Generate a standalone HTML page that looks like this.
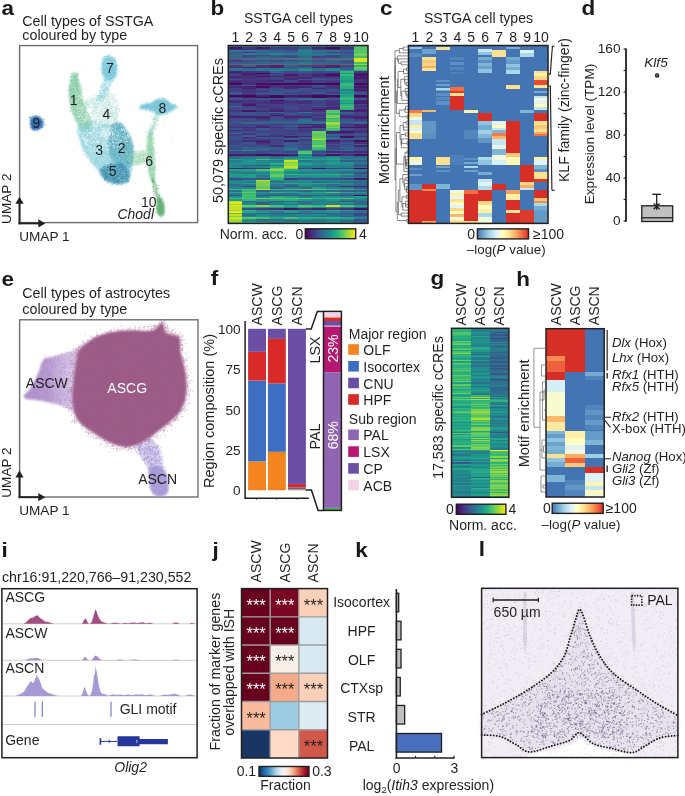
<!DOCTYPE html>
<html><head><meta charset="utf-8"><style>
html,body{margin:0;padding:0;background:#fff;overflow:hidden;}
svg{display:block;font-family:"Liberation Sans",sans-serif;will-change:transform;}
</style></head><body>
<svg width="685" height="796" viewBox="0 0 685 796">
<defs><linearGradient id="gvir" x1="0" x2="1" y1="0" y2="0"><stop offset="0.000" stop-color="#440154"/><stop offset="0.043" stop-color="#471164"/><stop offset="0.087" stop-color="#482071"/><stop offset="0.130" stop-color="#472e7c"/><stop offset="0.174" stop-color="#443b84"/><stop offset="0.217" stop-color="#3f4889"/><stop offset="0.261" stop-color="#3a548c"/><stop offset="0.304" stop-color="#34608d"/><stop offset="0.348" stop-color="#2f6c8e"/><stop offset="0.391" stop-color="#2a768e"/><stop offset="0.435" stop-color="#26818e"/><stop offset="0.478" stop-color="#228b8d"/><stop offset="0.522" stop-color="#1f958b"/><stop offset="0.565" stop-color="#1fa088"/><stop offset="0.609" stop-color="#24aa83"/><stop offset="0.652" stop-color="#2fb47c"/><stop offset="0.696" stop-color="#42be71"/><stop offset="0.739" stop-color="#58c765"/><stop offset="0.783" stop-color="#70cf57"/><stop offset="0.826" stop-color="#8bd646"/><stop offset="0.870" stop-color="#a8db34"/><stop offset="0.913" stop-color="#c5e021"/><stop offset="0.957" stop-color="#e2e418"/><stop offset="1.000" stop-color="#fde725"/></linearGradient><linearGradient id="gryb" x1="0" x2="1" y1="0" y2="0"><stop offset="0.000" stop-color="#4574b3"/><stop offset="0.043" stop-color="#5588be"/><stop offset="0.087" stop-color="#659bc8"/><stop offset="0.130" stop-color="#76afd2"/><stop offset="0.174" stop-color="#8abeda"/><stop offset="0.217" stop-color="#9dcee3"/><stop offset="0.261" stop-color="#b0dcea"/><stop offset="0.304" stop-color="#c1e4ef"/><stop offset="0.348" stop-color="#d4edf4"/><stop offset="0.391" stop-color="#e4f4f1"/><stop offset="0.435" stop-color="#eff9dd"/><stop offset="0.478" stop-color="#fafdc9"/><stop offset="0.522" stop-color="#fffab7"/><stop offset="0.565" stop-color="#feefa6"/><stop offset="0.609" stop-color="#fee496"/><stop offset="0.652" stop-color="#fed485"/><stop offset="0.696" stop-color="#fdc374"/><stop offset="0.739" stop-color="#fdb366"/><stop offset="0.783" stop-color="#fb9d59"/><stop offset="0.826" stop-color="#f8864f"/><stop offset="0.870" stop-color="#f47044"/><stop offset="0.913" stop-color="#eb5a3a"/><stop offset="0.957" stop-color="#e14430"/><stop offset="1.000" stop-color="#d62f27"/></linearGradient><linearGradient id="grdb" x1="0" x2="1" y1="0" y2="0"><stop offset="0.000" stop-color="#053061"/><stop offset="0.043" stop-color="#114781"/><stop offset="0.087" stop-color="#1d5fa2"/><stop offset="0.130" stop-color="#2b73b3"/><stop offset="0.174" stop-color="#3a87bd"/><stop offset="0.217" stop-color="#4f9bc7"/><stop offset="0.261" stop-color="#71b0d3"/><stop offset="0.304" stop-color="#93c6de"/><stop offset="0.348" stop-color="#b1d5e7"/><stop offset="0.391" stop-color="#cce2ef"/><stop offset="0.435" stop-color="#deebf2"/><stop offset="0.478" stop-color="#eff3f5"/><stop offset="0.522" stop-color="#f8f1ed"/><stop offset="0.565" stop-color="#fbe5d8"/><stop offset="0.609" stop-color="#fcd7c2"/><stop offset="0.652" stop-color="#f8bfa4"/><stop offset="0.696" stop-color="#f4a683"/><stop offset="0.739" stop-color="#e8896c"/><stop offset="0.783" stop-color="#db6b55"/><stop offset="0.826" stop-color="#cc4c44"/><stop offset="0.870" stop-color="#bd2d35"/><stop offset="0.913" stop-color="#a81529"/><stop offset="0.957" stop-color="#870a24"/><stop offset="1.000" stop-color="#67001f"/></linearGradient><linearGradient id="gascw" gradientUnits="userSpaceOnUse" x1="24" y1="0" x2="95" y2="0"><stop offset="0" stop-color="#a784c6" stop-opacity="0.9"/><stop offset="0.35" stop-color="#a784c6" stop-opacity="0.8"/><stop offset="0.75" stop-color="#a784c6" stop-opacity="0.35"/><stop offset="1" stop-color="#a784c6" stop-opacity="0.5"/></linearGradient><filter id="bl1" x="-20%" y="-20%" width="140%" height="140%"><feGaussianBlur stdDeviation="1.2"/></filter><filter id="bl2" x="-20%" y="-20%" width="140%" height="140%"><feGaussianBlur stdDeviation="2.2"/></filter><filter id="bl05" x="-20%" y="-20%" width="140%" height="140%"><feGaussianBlur stdDeviation="0.6"/></filter></defs>
<text transform="translate(1.50 15.30) scale(1.07 1)" font-size="21.0" fill="#1a1718" style="font-weight:bold;">a</text>
<text x="22.30" y="26.00" font-size="14.3" text-anchor="start" fill="#231f20">Cell types of SSTGA</text>
<text x="22.30" y="39.80" font-size="14.3" text-anchor="start" fill="#231f20">coloured by type</text>
<rect x="19.60" y="45.60" width="178.00" height="177.00" fill="none" stroke="#6d6e70" stroke-width="1.4"/>
<g>
<path d="M73.0 73.0 C74.2 71.7 75.8 71.8 77.0 74.0 C78.2 76.2 79.0 81.7 80.0 86.0 C81.0 90.3 81.7 95.7 83.0 100.0 C84.3 104.3 86.5 108.3 88.0 112.0 C89.5 115.7 91.7 119.0 92.0 122.0 C92.3 125.0 91.3 128.3 90.0 130.0 C88.7 131.7 86.0 133.0 84.0 132.0 C82.0 131.0 80.0 127.3 78.0 124.0 C76.0 120.7 73.5 116.3 72.0 112.0 C70.5 107.7 69.3 103.0 69.0 98.0 C68.7 93.0 69.3 86.2 70.0 82.0 C70.7 77.8 71.8 74.3 73.0 73.0 Z" fill="#86cda4" opacity="0.75" filter="url(#bl1)"/>
<path d="M104.0 58.0 C105.2 56.8 107.3 56.0 109.0 56.0 C110.7 56.0 112.7 56.3 114.0 58.0 C115.3 59.7 116.7 63.0 117.0 66.0 C117.3 69.0 116.8 73.7 116.0 76.0 C115.2 78.3 113.7 79.3 112.0 80.0 C110.3 80.7 107.7 81.3 106.0 80.0 C104.3 78.7 102.7 74.8 102.0 72.0 C101.3 69.2 101.7 65.3 102.0 63.0 C102.3 60.7 102.8 59.2 104.0 58.0 Z" fill="#7fcbdc" opacity="0.9" filter="url(#bl1)"/>
<path d="M104.0 79.0 C106.0 77.2 111.2 77.2 112.0 79.0 C112.8 80.8 110.5 86.5 109.0 90.0 C107.5 93.5 105.0 98.2 103.0 100.0 C101.0 101.8 97.5 102.7 97.0 101.0 C96.5 99.3 98.8 93.7 100.0 90.0 C101.2 86.3 102.0 80.8 104.0 79.0 Z" fill="#7fcbdc" opacity="0.35" filter="url(#bl1)"/>
<path d="M86.0 100.0 C87.7 95.8 94.0 96.3 98.0 95.0 C102.0 93.7 106.8 91.2 110.0 92.0 C113.2 92.8 115.5 96.2 117.0 100.0 C118.5 103.8 119.5 110.7 119.0 115.0 C118.5 119.3 117.2 123.5 114.0 126.0 C110.8 128.5 104.3 131.0 100.0 130.0 C95.7 129.0 90.3 125.0 88.0 120.0 C85.7 115.0 84.3 104.2 86.0 100.0 Z" fill="#9fd8cf" opacity="0.3" filter="url(#bl1)"/>
<path d="M78.0 126.0 C80.5 122.8 89.7 122.2 95.0 122.0 C100.3 121.8 105.8 124.8 110.0 125.0 C114.2 125.2 117.0 121.7 120.0 123.0 C123.0 124.3 125.8 129.2 128.0 133.0 C130.2 136.8 132.2 141.2 133.0 146.0 C133.8 150.8 133.5 157.0 133.0 162.0 C132.5 167.0 131.2 172.7 130.0 176.0 C128.8 179.3 128.0 180.7 126.0 182.0 C124.0 183.3 121.0 184.2 118.0 184.0 C115.0 183.8 111.0 182.8 108.0 181.0 C105.0 179.2 102.7 176.0 100.0 173.0 C97.3 170.0 94.5 166.3 92.0 163.0 C89.5 159.7 87.0 156.7 85.0 153.0 C83.0 149.3 81.2 145.5 80.0 141.0 C78.8 136.5 75.5 129.2 78.0 126.0 Z" fill="#88cfdb" opacity="0.7" filter="url(#bl1)"/>
<path d="M112.0 124.0 C114.2 121.5 118.3 121.5 121.0 123.0 C123.7 124.5 126.0 129.2 128.0 133.0 C130.0 136.8 132.2 141.2 133.0 146.0 C133.8 150.8 133.8 158.3 133.0 162.0 C132.2 165.7 130.5 167.3 128.0 168.0 C125.5 168.7 121.0 168.2 118.0 166.0 C115.0 163.8 111.7 159.7 110.0 155.0 C108.3 150.3 107.7 143.2 108.0 138.0 C108.3 132.8 109.8 126.5 112.0 124.0 Z" fill="#55a5b9" opacity="0.6" filter="url(#bl1)"/>
<path d="M100.0 170.0 C101.2 167.7 106.3 165.0 110.0 164.0 C113.7 163.0 118.8 162.8 122.0 164.0 C125.2 165.2 128.0 168.2 129.0 171.0 C130.0 173.8 129.3 178.8 128.0 181.0 C126.7 183.2 123.8 183.7 121.0 184.0 C118.2 184.3 114.0 184.0 111.0 183.0 C108.0 182.0 104.8 180.2 103.0 178.0 C101.2 175.8 98.8 172.3 100.0 170.0 Z" fill="#3282a5" opacity="0.6" filter="url(#bl1)"/>
<path d="M148.0 133.0 C148.8 129.7 151.0 127.2 152.0 130.0 C153.0 132.8 153.5 143.3 154.0 150.0 C154.5 156.7 155.0 165.0 155.0 170.0 C155.0 175.0 154.7 178.2 154.0 180.0 C153.3 181.8 152.0 183.0 151.0 181.0 C150.0 179.0 148.7 173.2 148.0 168.0 C147.3 162.8 147.0 155.8 147.0 150.0 C147.0 144.2 147.2 136.3 148.0 133.0 Z" fill="#8ed0a6" opacity="0.75" filter="url(#bl1)"/>
<path d="M128.0 153.0 C131.0 151.5 142.7 149.5 146.0 151.0 C149.3 152.5 150.2 159.7 148.0 162.0 C145.8 164.3 136.3 165.3 133.0 165.0 C129.7 164.7 128.8 162.0 128.0 160.0 C127.2 158.0 125.0 154.5 128.0 153.0 Z" fill="#8ed0a6" opacity="0.4" filter="url(#bl1)"/>
<path d="M141.0 105.0 C142.7 104.0 148.2 104.0 151.0 103.0 C153.8 102.0 155.7 99.7 158.0 99.0 C160.3 98.3 163.0 98.3 165.0 99.0 C167.0 99.7 168.0 101.7 170.0 103.0 C172.0 104.3 177.2 105.5 177.0 107.0 C176.8 108.5 171.8 110.7 169.0 112.0 C166.2 113.3 163.2 115.3 160.0 115.0 C156.8 114.7 153.2 111.0 150.0 110.0 C146.8 109.0 142.5 109.8 141.0 109.0 C139.5 108.2 139.3 106.0 141.0 105.0 Z" fill="#76c5d9" opacity="0.9" filter="url(#bl1)"/>
<path d="M156.0 112.0 C157.7 109.0 160.3 109.8 160.0 113.0 C159.7 116.2 155.7 128.0 154.0 131.0 C152.3 134.0 149.7 134.2 150.0 131.0 C150.3 127.8 154.3 115.0 156.0 112.0 Z" fill="#8fd1b5" opacity="0.35" filter="url(#bl1)"/>
<path d="M152.0 178.0 C152.0 176.0 153.0 175.7 154.0 178.0 C155.0 180.3 157.0 188.3 158.0 192.0 C159.0 195.7 160.2 198.7 160.0 200.0 C159.8 201.3 158.0 201.7 157.0 200.0 C156.0 198.3 154.8 193.7 154.0 190.0 C153.2 186.3 152.0 180.0 152.0 178.0 Z" fill="#62ae70" opacity="0.6" filter="url(#bl1)"/>
<path d="M157.0 199.0 C157.7 196.7 159.8 197.0 161.0 198.0 C162.2 199.0 163.5 202.3 164.0 205.0 C164.5 207.7 164.7 212.2 164.0 214.0 C163.3 215.8 161.2 216.3 160.0 216.0 C158.8 215.7 157.5 214.8 157.0 212.0 C156.5 209.2 156.3 201.3 157.0 199.0 Z" fill="#62ae70" opacity="0.95" filter="url(#bl1)"/>
<path d="M31.0 118.0 C31.8 116.0 34.2 115.8 36.0 116.0 C37.8 116.2 40.8 117.3 42.0 119.0 C43.2 120.7 43.8 124.2 43.0 126.0 C42.2 127.8 39.0 129.7 37.0 130.0 C35.0 130.3 32.0 130.0 31.0 128.0 C30.0 126.0 30.2 120.0 31.0 118.0 Z" fill="#2e6fb1" opacity="0.95" filter="url(#bl1)"/>
<ellipse cx="90" cy="112" rx="5" ry="9" fill="#ffffff" opacity="0.6" filter="url(#bl2)"/>
<ellipse cx="107" cy="133" rx="7" ry="5" fill="#ffffff" opacity="0.6" filter="url(#bl2)"/>
<ellipse cx="97" cy="124" rx="5" ry="5" fill="#ffffff" opacity="0.6" filter="url(#bl2)"/>
<path d="M110.6 117.6h0M119.2 139.2h0M87.8 140.3h0M92.1 148.5h0M124.8 141.7h0M121.8 100.0h0M120.4 140.7h0M101.7 134.6h0M92.3 135.8h0M90.9 132.6h0M89.5 141.1h0M100.4 107.1h0M103.8 131.0h0M106.5 121.1h0M120.2 108.9h0M110.5 97.9h0M87.3 111.6h0M84.1 115.0h0M109.9 142.5h0M101.6 101.9h0M127.3 120.5h0M110.9 93.9h0M104.3 113.1h0M103.3 148.8h0M89.1 93.5h0M86.0 143.4h0M114.4 120.6h0M86.4 139.0h0M96.1 116.2h0M122.3 120.4h0M83.8 100.5h0M90.3 107.7h0M123.3 109.5h0M111.5 102.6h0M80.2 96.9h0M105.8 149.8h0M103.9 142.6h0M124.7 129.4h0M95.6 115.4h0M109.1 100.6h0M78.4 94.8h0M97.1 94.6h0M93.4 110.3h0M83.6 114.1h0M96.6 122.3h0M108.6 134.1h0M109.5 97.4h0M111.4 123.4h0M113.6 98.2h0M83.6 90.5h0M100.1 148.4h0M88.7 109.6h0M97.9 100.1h0M80.5 94.5h0M87.3 117.5h0M113.3 88.7h0M92.1 133.8h0M112.7 138.0h0M82.5 119.3h0M123.2 122.3h0M126.5 131.3h0M83.3 139.1h0M86.0 92.4h0M106.5 103.0h0M85.3 94.6h0M111.6 103.9h0M107.5 149.4h0M96.4 135.7h0M98.4 142.6h0M88.7 132.7h0M77.2 108.2h0M124.9 113.0h0M101.7 116.2h0M106.2 106.8h0M93.4 115.0h0M117.8 137.4h0M76.4 92.8h0M96.2 105.7h0M82.0 131.3h0M112.5 134.4h0M99.4 94.7h0M104.9 99.6h0M94.6 106.0h0M108.6 136.4h0M95.3 131.7h0M104.6 90.1h0M118.6 107.0h0M126.8 139.4h0M128.2 126.1h0M117.9 110.7h0M121.2 128.5h0M98.9 109.8h0M121.5 100.2h0M110.8 96.8h0M120.2 142.5h0M104.2 128.0h0M87.9 92.4h0M86.3 111.4h0M95.7 138.9h0M85.2 130.3h0M94.7 92.3h0M107.7 128.8h0M94.4 132.0h0M90.5 116.9h0M100.3 149.8h0M104.4 133.9h0M104.7 122.2h0M117.3 103.1h0M108.1 92.0h0M99.3 100.2h0M98.5 114.6h0M78.9 111.2h0M99.5 140.3h0M104.6 89.4h0M89.3 139.7h0M120.9 122.2h0M113.6 116.1h0M115.9 105.1h0M110.9 122.7h0M94.0 142.9h0M97.7 140.7h0M86.6 108.6h0M87.1 144.8h0M122.9 130.0h0M109.4 139.1h0M102.3 143.2h0M108.9 119.3h0M112.6 141.9h0M92.5 117.5h0M101.6 118.8h0M110.8 109.5h0M111.2 137.1h0M85.5 141.2h0M78.5 97.0h0M98.5 98.5h0M118.5 112.6h0M121.5 117.7h0M120.7 134.7h0M125.0 131.3h0M104.8 105.3h0M89.4 93.1h0M89.2 108.2h0M85.7 108.7h0M107.3 134.3h0M108.7 102.7h0M113.6 142.7h0M92.7 123.8h0M105.7 144.0h0M121.3 136.7h0M112.5 120.8h0M109.8 98.3h0M85.9 101.8h0M107.7 112.3h0M77.3 109.2h0M120.7 91.9h0M123.7 116.7h0M77.9 106.4h0M94.3 112.6h0M93.1 109.3h0M81.4 112.1h0M110.7 127.6h0M120.5 119.8h0M92.9 100.6h0M124.2 138.9h0M120.4 120.8h0M82.4 117.3h0M118.7 133.7h0M125.3 136.1h0M86.2 142.3h0M107.7 139.9h0M111.4 130.8h0M109.7 134.2h0M80.5 98.1h0M112.7 132.8h0M111.0 104.3h0M122.0 104.5h0M120.8 95.7h0M93.6 113.4h0M116.2 89.3h0M124.4 130.0h0M125.9 135.9h0M84.2 137.6h0M76.5 96.2h0M112.1 129.0h0M87.2 141.7h0M107.1 90.3h0M96.6 105.1h0M89.4 117.6h0M101.0 99.0h0M112.5 122.5h0M80.8 110.0h0M96.7 129.9h0M82.6 122.0h0M112.8 131.9h0M122.3 103.8h0M96.5 133.3h0M96.2 135.0h0M105.8 134.2h0M87.3 92.4h0M89.1 148.6h0M93.8 124.9h0M101.1 105.4h0M79.6 115.8h0M117.9 121.1h0M108.0 121.1h0M92.1 103.9h0M79.4 105.0h0M118.5 111.3h0M82.5 138.0h0M82.6 116.0h0M82.4 90.5h0M79.6 116.9h0M92.5 150.5h0M122.5 106.8h0M110.3 122.4h0M85.7 110.9h0M99.8 91.4h0M96.4 147.9h0M115.5 99.9h0M80.5 114.8h0M116.5 111.9h0M119.3 98.7h0M122.1 130.3h0M113.4 138.0h0M96.1 136.6h0M104.6 89.1h0M118.2 102.7h0M85.9 120.9h0M90.2 133.0h0M105.6 112.7h0M117.7 116.8h0M126.1 141.8h0M85.5 105.2h0M120.6 106.6h0M116.1 102.6h0M123.1 129.6h0M119.3 97.8h0M97.5 141.7h0M111.6 100.6h0M85.5 133.1h0M118.3 98.4h0M118.2 144.4h0M116.1 100.9h0M100.4 134.8h0M96.6 141.7h0M98.9 104.3h0M76.9 93.9h0M123.1 125.5h0M105.9 119.9h0M97.1 118.7h0M106.2 138.0h0M116.1 117.6h0M96.7 119.8h0M122.3 119.2h0M97.1 114.0h0M82.9 98.3h0M118.3 106.9h0M83.4 103.9h0M115.6 138.1h0M82.0 121.7h0M80.2 108.0h0M81.7 111.9h0M85.1 120.1h0M107.8 131.2h0M100.4 150.2h0M117.8 142.6h0M85.9 115.5h0M87.4 114.6h0M118.8 103.3h0M102.0 92.4h0M76.9 101.1h0M92.9 130.4h0M92.8 125.7h0M116.0 105.8h0M100.9 148.0h0M78.2 114.2h0M89.1 94.6h0M97.5 113.2h0M87.9 144.7h0M103.7 141.0h0M82.0 102.9h0M85.0 90.0h0M124.0 116.9h0M102.6 92.0h0M113.2 88.5h0M90.2 108.8h0M105.0 101.0h0M104.4 119.9h0M110.8 92.9h0M105.6 145.6h0M97.5 132.0h0M120.1 111.7h0M124.8 141.9h0M85.2 139.0h0M82.8 108.9h0M128.7 127.7h0M88.1 110.5h0M103.9 110.2h0M103.4 93.5h0M93.0 102.8h0M109.2 124.3h0M78.8 107.7h0M88.5 146.8h0M101.5 109.9h0M118.4 90.8h0M122.3 109.9h0M115.3 102.0h0M123.4 117.3h0M116.9 88.4h0M92.2 106.9h0M84.6 140.6h0M118.1 94.1h0M127.4 141.4h0M109.0 97.2h0M93.8 125.9h0M83.8 132.4h0M104.3 107.6h0M80.2 112.6h0M107.8 106.7h0M120.8 99.2h0M91.1 145.9h0M120.7 144.8h0M115.1 111.0h0M111.7 132.4h0M99.7 106.0h0M98.7 110.4h0M122.6 109.9h0M94.1 125.0h0M113.2 148.5h0M86.9 107.0h0M106.4 139.8h0M118.8 95.3h0M116.5 139.6h0M101.7 133.5h0M98.3 150.5h0M116.1 105.8h0M104.8 121.4h0M116.7 101.7h0M79.8 93.3h0M107.1 116.1h0M106.8 134.1h0M128.1 137.8h0M100.8 148.3h0M111.0 103.8h0M106.4 106.7h0M108.8 145.2h0M87.7 135.1h0M86.1 109.3h0M125.1 117.6h0M86.3 141.4h0M100.9 110.9h0M117.8 139.5h0M115.3 138.0h0M106.5 118.0h0M121.0 145.4h0M101.6 112.6h0M110.4 136.0h0M121.7 128.9h0M113.7 109.2h0M111.6 122.0h0M98.1 126.8h0M106.8 122.4h0M97.6 95.1h0M96.7 149.9h0M101.6 90.4h0M103.7 122.0h0M94.3 96.0h0M122.1 140.5h0M96.7 115.7h0M123.1 133.6h0M119.8 140.9h0M100.5 122.4h0M115.6 91.2h0M97.2 132.4h0M108.0 105.3h0M106.8 138.3h0M112.9 143.9h0M113.6 110.7h0M108.3 114.3h0M99.0 109.4h0M91.7 102.8h0M91.7 109.2h0M99.6 94.9h0M95.1 115.3h0M100.5 124.4h0M96.2 106.2h0M108.1 111.1h0M129.0 136.2h0M125.7 118.1h0M96.5 126.2h0M90.2 115.1h0M125.4 123.7h0M103.1 145.4h0M114.1 105.1h0M79.2 121.2h0M124.4 132.0h0M92.8 93.6h0M103.2 149.6h0M86.3 119.9h0M99.0 103.7h0M122.2 136.7h0M122.2 140.2h0M102.0 128.4h0M101.1 93.7h0M96.3 121.8h0M106.1 135.5h0M93.0 129.1h0M115.3 126.5h0M118.9 112.8h0M78.2 124.6h0M116.8 123.5h0M100.4 140.9h0M113.9 147.1h0M89.0 92.2h0M111.7 137.3h0M96.5 117.7h0M111.3 136.1h0M89.7 107.0h0M102.2 117.9h0M104.9 140.8h0M111.0 90.3h0M86.6 106.6h0M91.5 142.5h0M92.4 105.3h0M89.6 140.7h0M78.8 103.7h0M99.1 107.4h0M119.0 123.4h0M115.4 129.8h0M86.1 144.3h0M93.3 104.0h0M118.8 135.7h0M102.8 128.6h0M112.4 137.7h0M110.4 145.4h0M118.8 118.7h0M117.8 146.6h0M94.6 96.2h0M89.6 98.6h0M99.9 136.9h0M102.9 107.6h0M83.1 125.5h0M100.2 119.8h0M111.5 97.3h0M82.7 136.3h0M82.9 135.5h0M84.9 97.3h0M91.1 104.6h0M129.8 139.2h0M85.5 143.7h0M84.4 120.1h0M102.0 111.5h0M101.1 99.3h0M84.3 119.7h0M90.4 102.8h0M120.2 98.4h0M85.5 112.4h0M110.2 92.1h0M98.2 118.1h0M98.8 132.6h0M121.6 129.7h0M125.9 128.6h0M113.1 145.4h0M77.8 116.4h0M112.8 139.1h0M109.2 106.2h0M119.0 121.7h0M125.5 120.4h0M93.0 108.0h0M109.9 104.5h0M113.0 148.5h0M113.7 89.5h0M107.5 107.1h0M109.6 133.0h0M94.1 137.5h0M104.2 112.5h0M76.1 102.1h0M116.3 142.6h0M114.6 95.8h0M99.0 92.2h0M118.1 119.5h0M94.2 148.3h0M82.5 124.1h0M85.5 121.4h0M92.3 132.4h0M100.5 128.1h0M90.9 93.9h0M113.8 138.1h0M123.6 128.6h0M98.0 139.0h0M75.2 90.8h0M119.9 145.7h0M89.0 112.5h0M120.6 126.0h0M114.1 123.0h0M87.1 140.4h0M90.3 128.0h0M128.5 131.2h0M90.3 98.1h0M115.0 126.7h0M82.4 110.8h0M81.7 96.5h0M104.4 118.7h0M77.0 104.8h0M106.4 137.0h0M90.6 151.8h0M118.6 108.0h0M109.7 120.6h0M92.8 101.4h0M110.8 101.4h0M100.9 113.7h0M124.2 138.5h0M91.7 90.5h0M118.2 141.6h0M117.2 123.8h0M96.6 111.0h0M116.3 103.0h0M114.8 99.7h0M97.1 108.7h0M115.7 138.3h0M86.7 130.7h0M116.7 89.2h0M90.9 92.5h0M101.7 135.0h0M124.0 131.1h0M100.5 108.1h0M91.4 143.1h0M92.4 101.5h0M79.4 115.3h0M87.5 95.4h0M90.5 129.3h0M84.9 93.6h0M78.6 99.5h0M101.5 137.0h0M87.2 120.0h0M117.1 130.4h0M127.6 135.0h0M90.6 126.8h0M107.6 100.7h0M103.9 132.7h0M79.3 95.4h0M82.1 105.3h0M125.4 116.7h0M102.0 95.3h0M120.9 94.8h0M78.8 129.7h0M108.9 135.5h0M124.3 111.7h0M124.4 113.0h0M104.7 121.4h0M96.0 125.1h0M79.2 90.6h0M90.1 146.2h0M101.8 110.2h0M100.8 134.5h0M130.2 140.8h0M93.2 129.7h0M77.4 106.5h0M97.4 127.9h0M79.7 94.9h0M107.4 118.7h0M108.0 142.1h0M111.9 137.8h0M93.4 90.9h0M107.6 135.7h0M117.9 132.3h0M108.6 96.1h0M120.8 121.6h0M106.4 132.1h0M86.3 109.5h0M108.2 120.2h0M103.0 150.5h0M84.5 128.7h0M110.3 120.1h0M82.7 95.8h0M106.1 142.4h0M116.8 135.5h0M98.0 141.4h0M90.4 125.0h0M96.2 124.9h0M105.9 122.0h0M114.1 135.0h0M106.9 109.1h0M81.1 119.8h0M121.6 118.1h0M127.7 130.3h0M80.8 101.8h0M89.2 89.6h0M84.9 93.7h0M93.9 136.0h0M86.0 116.4h0M101.8 94.6h0M84.8 120.6h0M102.8 128.4h0M104.9 111.9h0M117.5 97.6h0M99.9 128.1h0M83.0 119.0h0M95.2 110.1h0M117.8 132.5h0M81.6 108.3h0M121.1 124.9h0M92.7 104.6h0M119.5 136.2h0M124.7 118.6h0M101.0 134.0h0M112.7 135.1h0M103.9 109.7h0M84.4 141.8h0M82.9 112.7h0M91.2 151.3h0M87.3 130.2h0M101.5 122.8h0M95.3 134.9h0M108.4 96.0h0M91.0 151.3h0M93.9 97.1h0M118.0 103.5h0M89.6 124.8h0M98.1 136.8h0M118.0 97.5h0M98.2 149.5h0M92.7 136.2h0M116.9 119.1h0M89.4 111.2h0M83.0 94.2h0M100.0 93.6h0M109.3 128.3h0M128.3 137.5h0M115.6 111.4h0M102.1 148.0h0M82.5 107.0h0M114.7 146.8h0M82.3 97.9h0M80.9 133.0h0M80.3 133.0h0M93.9 141.8h0M109.9 143.4h0M107.4 98.3h0M101.2 137.4h0M107.1 105.6h0M117.0 99.8h0M113.7 100.6h0M83.9 105.9h0M121.3 103.5h0M98.4 94.3h0M119.6 108.8h0M125.8 137.5h0M90.2 118.9h0M100.8 126.6h0M96.3 146.0h0M98.1 142.4h0M96.4 98.9h0M118.1 136.9h0M101.9 116.9h0M100.5 98.9h0M97.0 118.8h0M99.7 147.1h0M78.5 113.1h0M118.0 92.1h0M107.2 145.6h0M120.7 120.7h0M88.1 102.4h0M88.3 122.8h0M90.8 132.6h0M92.3 118.9h0M118.4 110.6h0M96.3 103.9h0M93.4 107.0h0M111.3 91.2h0M85.6 104.3h0M114.7 88.5h0M118.1 134.6h0M91.9 138.5h0M111.3 113.9h0M98.0 102.1h0M107.9 130.8h0M89.4 133.3h0M94.8 135.0h0M109.7 119.5h0M108.6 150.1h0M115.3 124.6h0M79.6 131.7h0M89.5 129.3h0M86.4 145.3h0M91.3 150.9h0M109.5 94.7h0M77.4 100.1h0M104.7 136.9h0M109.3 92.2h0M115.0 112.5h0M94.1 100.3h0M93.7 142.4h0M77.0 109.5h0M106.4 142.8h0M79.3 132.0h0M86.5 133.0h0M94.0 151.4h0M127.8 135.7h0M99.8 135.9h0" fill="none" stroke="#ffffff" stroke-width="1.1" stroke-linecap="square" opacity="0.75"/>
<path d="M94.3 125.3h0M86.7 117.3h0M73.8 94.9h0M69.4 94.2h0M79.0 93.3h0M76.4 81.8h0M77.4 99.6h0M75.8 80.6h0M74.1 104.0h0M72.4 75.9h0M76.7 89.0h0M77.6 83.2h0M77.5 96.6h0M83.5 113.3h0M77.1 101.8h0M77.4 89.8h0M72.6 101.9h0M79.7 91.7h0M73.4 88.2h0M70.8 106.1h0M78.1 92.6h0M79.6 112.4h0M76.2 120.7h0M86.3 111.8h0M81.2 115.5h0M84.8 110.2h0M89.8 129.0h0M71.2 81.5h0M71.9 73.3h0M79.4 103.4h0M80.0 112.2h0M74.1 94.9h0M76.9 89.8h0M77.2 77.1h0M69.8 85.1h0M75.2 83.4h0M82.6 104.1h0M73.5 99.0h0M86.3 99.9h0M81.7 105.3h0M74.2 114.6h0M81.2 123.4h0M84.8 105.5h0M77.0 99.6h0M78.0 75.4h0M78.5 105.5h0M74.8 81.9h0M83.9 124.3h0M89.7 117.2h0M71.3 107.7h0M77.1 86.6h0M79.1 115.4h0M83.4 119.3h0M80.7 102.1h0M78.6 107.9h0M84.9 108.6h0M77.6 104.2h0M77.5 93.8h0M73.2 78.0h0M80.0 106.4h0M90.2 124.4h0M81.4 107.6h0M78.8 97.7h0M74.1 96.7h0M72.3 85.3h0M76.3 94.6h0M69.5 85.6h0M90.3 123.5h0M86.8 109.0h0M87.7 123.7h0M80.0 112.5h0M76.5 114.7h0M80.4 103.4h0M67.8 90.9h0M85.6 127.5h0M71.9 107.2h0M78.9 91.6h0M78.3 90.5h0M89.6 128.5h0M82.1 118.7h0M83.5 89.1h0M89.2 120.6h0M76.6 105.0h0M89.4 116.7h0M72.5 80.4h0M85.7 106.5h0M75.8 97.2h0M70.5 88.4h0M76.7 87.4h0M76.0 82.3h0M76.8 89.1h0M72.6 104.7h0M82.9 124.7h0M85.4 130.4h0M79.7 110.4h0M75.7 112.0h0M82.7 105.3h0M79.1 94.2h0M78.8 93.3h0M85.6 113.5h0M83.3 116.9h0M71.6 77.7h0M81.6 115.4h0M74.2 96.2h0M79.1 124.4h0M77.5 86.8h0M86.0 123.1h0M73.4 81.5h0M76.4 83.3h0M89.7 117.9h0M71.6 90.0h0M79.4 121.9h0M79.1 109.6h0M81.0 117.8h0M80.2 90.2h0M78.2 124.7h0M83.9 103.9h0M77.0 84.6h0M72.8 80.6h0M79.0 92.4h0M71.1 80.1h0M80.5 117.6h0M81.7 103.4h0M76.7 109.5h0M76.6 80.4h0M86.0 125.8h0M78.0 97.2h0M86.0 108.0h0M81.8 106.6h0M83.4 111.9h0M87.7 119.4h0M72.2 109.5h0M82.6 101.6h0M89.8 124.8h0M77.3 79.6h0M80.5 102.1h0M71.2 91.3h0M81.2 99.6h0M79.0 113.2h0M73.1 92.0h0M84.4 112.9h0M89.2 129.7h0M81.3 87.0h0M77.0 100.2h0M71.1 104.2h0M88.0 122.1h0M71.6 99.5h0M79.6 113.3h0M81.3 124.4h0M79.7 84.6h0M77.7 83.1h0M74.9 106.4h0M80.3 117.7h0M73.7 80.9h0M76.9 74.6h0M69.1 94.4h0M72.9 90.0h0M91.1 125.2h0M77.4 102.6h0M86.4 124.3h0M75.1 114.7h0M82.4 102.9h0M74.8 89.3h0M76.2 82.9h0M87.1 120.2h0M75.9 82.5h0M70.8 90.0h0M83.6 117.1h0M77.0 85.4h0M83.4 105.2h0M76.9 103.5h0M89.6 119.6h0M75.4 74.9h0M81.8 99.6h0M72.2 99.9h0M82.9 104.4h0M86.1 111.1h0M84.4 115.3h0M72.5 90.8h0M69.4 88.2h0M76.3 113.5h0M84.9 110.0h0M77.4 100.0h0M76.3 73.3h0M73.6 107.2h0M75.5 84.7h0M86.6 124.2h0M75.3 100.4h0M76.7 95.2h0M73.9 89.8h0M76.9 109.5h0M74.4 74.8h0M78.9 106.8h0M89.7 117.7h0M87.8 125.2h0M74.1 91.3h0M72.9 84.4h0M74.9 84.6h0M74.4 79.0h0M70.4 89.1h0M75.7 85.4h0M81.3 110.9h0M74.2 99.5h0M70.6 85.2h0M73.8 114.4h0M73.4 86.4h0M79.4 84.0h0M74.0 102.3h0M82.8 124.5h0M78.4 75.3h0M89.2 113.6h0M80.8 96.2h0M88.9 122.9h0M74.8 105.5h0M71.5 76.5h0M77.6 111.1h0M85.4 115.2h0M73.6 85.1h0M70.4 89.4h0M90.8 129.6h0M81.2 83.9h0M90.3 122.4h0M86.4 123.5h0M79.7 94.5h0M75.8 77.4h0M83.6 115.0h0M82.0 124.8h0M73.4 92.6h0M72.4 97.1h0M82.2 100.1h0M87.4 126.9h0M76.6 76.3h0M86.0 104.1h0M70.1 100.8h0M70.8 97.8h0M79.3 125.1h0M75.6 85.1h0M71.1 89.0h0M70.5 111.5h0M79.8 90.9h0M82.8 103.8h0M81.4 92.0h0M81.3 87.9h0M76.5 79.6h0M77.2 94.6h0M80.6 96.3h0M78.0 115.5h0M91.8 125.4h0M76.4 120.7h0M76.9 90.7h0M72.1 81.0h0M83.2 114.3h0M79.4 86.8h0M75.7 100.3h0M82.4 112.9h0M74.7 82.8h0M82.5 123.9h0M78.2 83.2h0M71.1 80.5h0M78.3 103.7h0M80.7 99.9h0M78.3 115.8h0M79.2 101.6h0M88.2 114.9h0M77.8 115.5h0M74.8 102.7h0M82.9 124.1h0M72.9 89.3h0M69.9 97.6h0M71.2 86.0h0M77.2 74.1h0M73.3 101.0h0M77.5 118.8h0M73.0 98.5h0M86.2 123.0h0M71.1 93.9h0M86.9 121.1h0M76.0 78.7h0M88.0 115.8h0M70.7 76.5h0M87.4 123.8h0M77.0 85.0h0M84.1 105.6h0M75.6 77.0h0M81.7 120.2h0M73.9 72.7h0M86.1 131.5h0M79.3 118.5h0M85.5 128.0h0M88.6 123.5h0M86.4 120.7h0M81.6 93.4h0M83.6 96.9h0M77.6 125.2h0M76.1 98.6h0M88.5 125.8h0M81.4 121.7h0M78.7 123.3h0M85.6 123.1h0M69.8 87.5h0M87.1 117.8h0M78.6 86.5h0M83.1 121.3h0M79.5 120.3h0M79.7 120.6h0M77.6 73.7h0M82.5 108.7h0M85.1 112.2h0M72.9 105.6h0M85.8 106.9h0M71.8 82.9h0M71.4 97.8h0M73.6 89.0h0M81.1 99.2h0M86.0 112.0h0M76.3 76.4h0M92.1 122.1h0M76.6 87.1h0M80.7 112.3h0M84.7 128.6h0M85.7 102.8h0M77.8 89.7h0M76.4 111.0h0M83.3 128.4h0M73.8 93.2h0M69.6 92.2h0M91.8 128.2h0M76.0 106.6h0M77.6 94.2h0M77.6 96.1h0M89.7 126.0h0M85.5 130.7h0M75.6 91.8h0M72.2 88.6h0M75.9 82.6h0M81.2 90.1h0M68.8 90.4h0M81.2 101.5h0M81.1 119.0h0M76.8 75.9h0M74.9 78.1h0M76.6 89.7h0M71.4 82.2h0M83.1 110.0h0M75.4 85.6h0M76.0 106.8h0M72.9 98.5h0M82.0 121.0h0M69.6 87.1h0M82.4 108.9h0M75.2 92.1h0M75.5 86.8h0M79.0 109.5h0M87.0 115.8h0M71.1 90.7h0M71.5 91.1h0M74.0 80.0h0M74.2 90.6h0M70.5 76.1h0M74.0 109.5h0M75.6 75.4h0M73.5 89.9h0M89.4 116.7h0M75.4 92.4h0M91.7 123.8h0M76.7 90.9h0M79.6 115.5h0M69.4 90.7h0M84.1 101.4h0M76.0 111.1h0M92.0 120.5h0M74.1 83.7h0M70.1 91.7h0M76.2 94.0h0M79.4 99.3h0M75.4 108.9h0M77.7 89.4h0M76.0 80.0h0M83.5 112.3h0M70.4 94.7h0M79.1 101.9h0M75.9 114.4h0M76.9 105.9h0M78.7 113.5h0M80.5 95.1h0M89.0 127.3h0M77.0 74.0h0M69.5 95.4h0M81.2 124.1h0M81.0 125.3h0M77.9 106.7h0M85.1 110.6h0M84.6 117.5h0M71.9 103.1h0M76.0 117.9h0M84.5 121.4h0M76.8 111.8h0M75.0 92.6h0M87.5 113.0h0M69.7 89.8h0M73.8 109.4h0M81.8 124.6h0M80.6 99.1h0M78.0 94.4h0M74.3 101.5h0M89.1 131.6h0M89.1 121.5h0M72.7 113.9h0M79.2 94.3h0M95.3 122.8h0M82.0 120.4h0M82.9 124.9h0M76.4 79.0h0M84.8 108.8h0M77.7 115.4h0M74.6 118.5h0M92.5 122.3h0M75.9 82.4h0M79.9 118.7h0M92.7 121.6h0M80.4 113.1h0M87.4 123.4h0M89.3 119.8h0M85.7 125.5h0M81.3 89.2h0M74.2 91.7h0M84.0 112.0h0M73.9 91.3h0M87.9 115.1h0M75.6 77.4h0M75.4 88.4h0M71.5 89.7h0M74.5 76.7h0M76.7 85.0h0M72.2 92.1h0M78.4 79.9h0M71.2 88.1h0M73.6 99.3h0M83.8 120.1h0M74.9 106.6h0M76.9 115.1h0M81.5 110.4h0M82.0 123.1h0M75.3 80.1h0M77.4 89.5h0M79.1 103.8h0M76.5 110.3h0M78.1 87.5h0M75.8 101.4h0M79.4 94.8h0M82.6 131.5h0M85.2 115.2h0M77.3 94.3h0M70.1 80.8h0M78.4 117.7h0M76.2 97.9h0M84.8 130.6h0M71.7 95.9h0M80.3 106.3h0M69.3 96.0h0M75.0 77.5h0M76.3 86.4h0M77.7 92.1h0M73.6 77.3h0M87.7 122.7h0M82.0 103.7h0M72.6 97.6h0M77.7 122.7h0M84.8 112.3h0M72.2 98.8h0M70.7 104.2h0M82.3 103.8h0M71.6 109.5h0M75.8 77.3h0M72.0 73.9h0M79.9 85.8h0M76.5 94.2h0M78.2 89.3h0M80.7 110.4h0M83.2 130.0h0M70.0 94.1h0M79.0 93.6h0M72.1 91.7h0M78.6 80.4h0M76.7 120.1h0M76.8 82.5h0M86.5 121.7h0M69.6 89.2h0M76.4 85.5h0M85.2 120.8h0M76.7 91.1h0M85.6 107.0h0M78.5 90.9h0M80.6 92.5h0M82.3 114.9h0M76.8 80.4h0M72.0 111.2h0M84.7 116.5h0M75.2 93.4h0M73.4 82.8h0" fill="none" stroke="#86cda4" stroke-width="0.9" stroke-linecap="square" opacity="0.75"/>
<path d="M104.2 71.3h0M108.2 66.8h0M110.1 60.0h0M102.9 63.7h0M110.2 73.8h0M111.5 73.5h0M115.3 61.6h0M107.5 57.0h0M108.5 60.9h0M104.4 66.0h0M107.5 75.6h0M107.6 69.2h0M110.8 80.2h0M113.3 65.9h0M112.5 59.8h0M103.4 64.3h0M105.4 67.1h0M109.6 58.3h0M102.7 74.1h0M111.1 77.8h0M103.7 64.0h0M105.5 66.2h0M114.9 74.2h0M108.4 79.2h0M106.3 63.8h0M112.9 80.8h0M111.8 72.5h0M103.0 70.0h0M110.9 66.4h0M106.6 67.6h0M109.2 75.4h0M102.4 62.8h0M102.8 72.2h0M104.0 69.2h0M112.5 70.2h0M111.8 71.0h0M103.8 68.1h0M105.1 69.0h0M113.1 70.0h0M107.0 76.2h0M107.8 59.0h0M112.2 72.2h0M109.1 72.8h0M103.1 65.1h0M109.3 66.2h0M112.7 68.2h0M112.8 74.2h0M114.8 66.3h0M107.7 72.4h0M112.6 61.0h0M107.6 56.1h0M104.1 71.1h0M104.4 56.7h0M107.9 65.1h0M107.6 72.5h0M113.3 62.3h0M115.5 73.0h0M110.3 66.4h0M111.9 75.8h0M108.0 64.1h0M108.6 65.4h0M108.9 68.9h0M110.9 58.7h0M115.3 70.3h0M111.2 62.2h0M102.5 74.3h0M112.4 59.1h0M112.8 65.9h0M102.5 64.9h0M106.3 69.9h0M104.4 67.5h0M110.5 60.2h0M112.3 70.4h0M110.9 62.9h0M107.5 61.7h0M110.8 75.6h0M107.4 71.2h0M116.7 76.1h0M110.5 63.1h0M102.1 70.3h0M102.4 67.0h0M113.6 66.6h0M103.7 70.9h0M107.7 55.8h0M113.4 73.2h0M103.3 63.7h0M112.6 73.7h0M108.8 76.5h0M110.6 69.3h0M108.5 56.1h0M105.8 70.2h0M113.6 63.1h0M111.7 74.1h0M107.3 72.6h0M104.9 68.6h0M110.1 74.7h0M114.0 75.8h0M106.5 78.9h0M110.0 74.1h0M109.8 64.2h0M106.3 69.7h0M108.9 59.7h0M112.4 69.0h0M111.8 77.1h0M110.3 72.2h0M112.1 73.6h0M107.4 76.5h0M102.6 67.2h0M107.5 79.3h0M107.3 62.2h0M108.9 66.1h0M116.6 72.5h0M110.5 79.1h0M107.3 58.2h0M108.4 72.4h0M116.5 69.8h0M109.3 61.4h0M113.3 77.3h0M113.5 69.6h0M109.9 64.6h0M104.2 73.5h0M111.4 73.9h0M103.8 71.1h0M115.1 71.7h0M109.8 73.5h0M111.6 73.1h0M108.6 69.6h0M108.5 67.1h0M111.0 60.1h0M105.5 61.0h0M107.1 58.1h0M109.3 62.8h0M112.5 71.1h0M113.4 69.0h0M111.4 69.3h0M112.4 66.5h0M107.7 78.4h0M112.3 76.5h0M115.7 64.2h0M107.8 69.4h0M109.4 62.6h0M107.6 72.6h0M110.8 70.5h0M103.8 70.0h0M107.0 69.9h0M107.0 72.6h0M108.5 65.3h0M109.9 78.7h0M111.7 69.1h0M105.4 64.1h0M109.4 72.1h0M102.5 73.7h0M110.0 78.1h0M106.7 70.2h0M107.7 67.8h0M104.5 63.7h0M115.8 68.0h0M107.7 61.2h0M107.5 74.6h0M104.7 71.6h0M112.7 60.2h0M114.0 61.9h0M110.0 72.7h0M109.9 70.5h0M103.9 64.7h0M109.5 76.2h0M108.0 71.8h0M104.2 56.6h0M109.6 73.3h0M112.1 59.0h0M109.3 55.4h0M111.2 73.7h0M104.5 59.1h0M110.7 67.6h0M107.2 65.1h0M110.3 78.2h0M109.6 63.3h0M113.2 72.1h0M110.4 71.1h0M106.7 56.8h0M106.1 76.4h0M114.4 75.7h0M113.3 58.8h0M112.3 75.7h0M114.5 67.1h0M108.1 63.2h0M112.4 65.3h0M110.1 62.3h0M112.9 64.6h0M113.7 75.0h0M116.2 67.2h0M108.1 66.8h0M112.8 68.5h0M106.5 76.7h0M108.3 54.9h0M114.4 75.0h0M116.2 65.5h0M113.3 64.7h0M111.7 66.4h0M112.8 63.1h0M104.7 76.9h0M103.4 68.1h0M114.9 71.3h0M113.8 63.3h0M112.3 73.7h0M111.4 66.0h0M111.2 76.0h0M111.3 68.2h0M106.5 76.7h0M112.7 68.4h0M105.5 74.4h0M111.9 67.2h0M111.3 72.5h0M110.8 64.1h0M106.0 68.1h0M103.4 73.4h0M112.4 59.9h0M104.3 69.1h0M105.4 58.7h0M112.3 68.4h0M106.9 76.4h0M117.9 65.7h0M104.5 67.8h0M111.2 66.9h0M111.6 75.5h0M108.8 71.7h0M110.4 74.7h0M112.0 65.6h0M107.2 75.9h0M109.2 74.5h0M110.6 61.3h0M106.5 73.8h0M115.1 72.3h0M114.6 70.5h0M107.5 67.5h0M115.2 61.0h0M109.2 67.0h0M106.4 70.3h0M105.0 74.8h0M114.8 73.5h0M111.8 73.8h0M105.6 56.9h0M109.9 59.0h0M116.0 65.8h0M115.3 60.1h0M106.4 59.2h0M109.8 78.4h0M114.3 72.5h0M100.4 69.4h0M113.7 72.5h0M113.1 72.3h0M104.6 67.5h0M104.4 56.4h0M109.5 77.8h0M105.7 75.9h0M102.3 58.3h0M113.8 71.2h0M113.6 73.6h0M106.6 64.5h0M116.7 66.3h0M110.2 73.8h0M108.3 67.1h0M108.3 62.0h0M107.7 65.3h0M113.5 69.9h0M108.1 62.9h0M105.5 74.0h0M110.8 77.9h0M116.6 73.3h0M110.0 74.7h0M103.5 66.9h0M108.4 63.2h0M109.6 74.2h0M113.6 70.1h0M114.8 71.6h0M112.2 62.8h0M106.9 73.4h0M107.1 76.5h0M106.3 66.3h0M102.6 68.0h0M111.3 72.9h0M106.6 70.8h0M112.0 68.8h0M115.6 69.7h0M111.8 72.4h0M108.8 75.8h0M103.9 70.2h0M111.0 72.2h0M112.5 60.4h0M114.1 58.5h0M104.7 73.8h0M103.4 61.9h0M116.0 65.7h0M114.8 76.9h0M103.5 58.5h0M114.3 71.6h0M104.0 60.7h0M111.8 70.5h0M111.4 75.2h0M111.6 76.2h0" fill="none" stroke="#7fcbdc" stroke-width="0.9" stroke-linecap="square" opacity="0.75"/>
<path d="M102.5 90.5h0M100.2 90.5h0M99.9 91.2h0M104.8 92.3h0M110.6 82.0h0M104.0 79.5h0M104.1 84.5h0M108.1 89.6h0M99.2 98.4h0M105.2 89.3h0M105.1 80.8h0M107.2 87.3h0M106.2 86.8h0M105.4 79.2h0M107.6 91.1h0M104.6 88.6h0M106.9 88.8h0M100.1 97.1h0M101.8 86.8h0M99.5 96.8h0M101.3 96.7h0M105.0 96.5h0M100.7 99.3h0M105.6 84.2h0M104.5 80.8h0M101.0 92.5h0M96.2 99.0h0M107.0 81.1h0M102.2 97.1h0M110.4 82.4h0M110.5 79.8h0M104.1 93.9h0M104.6 85.3h0M105.8 89.8h0M97.4 95.6h0M108.3 79.9h0M100.7 95.4h0M102.3 96.2h0M103.9 92.0h0M99.9 95.3h0M111.4 84.2h0M107.8 88.1h0M102.6 95.3h0M102.5 97.3h0M104.6 98.4h0M101.6 98.2h0M104.8 89.9h0M99.3 95.7h0M108.1 90.2h0M104.1 84.7h0M96.7 97.2h0M105.4 90.3h0M100.3 94.7h0M104.9 80.7h0M105.3 89.9h0M101.1 95.7h0M109.9 86.4h0M98.0 95.5h0M99.5 98.4h0M101.9 94.7h0M101.4 88.3h0M100.8 86.0h0M102.1 90.6h0M103.3 90.5h0M109.6 85.2h0M100.6 87.0h0M101.2 93.0h0M96.7 99.5h0M100.8 93.4h0M98.5 97.5h0M105.3 87.6h0M105.5 87.1h0M102.7 90.4h0M103.3 85.8h0M108.5 80.0h0M103.2 99.5h0M103.3 90.7h0M101.9 83.1h0M109.3 83.9h0M107.4 93.8h0M105.3 91.7h0M99.4 92.8h0M98.4 99.9h0M102.7 96.6h0M103.0 87.2h0M108.6 89.7h0M101.2 102.7h0M112.3 80.4h0M106.3 94.5h0M107.0 88.6h0" fill="none" stroke="#7fcbdc" stroke-width="0.9" stroke-linecap="square" opacity="0.75"/>
<path d="M95.2 121.0h0M90.3 119.3h0M96.3 110.0h0M109.6 103.0h0M115.2 118.2h0M107.2 125.3h0M104.8 123.9h0M102.3 101.5h0M105.1 125.6h0M106.1 99.4h0M106.9 127.7h0M107.4 121.7h0M96.2 113.1h0M94.8 103.0h0M117.1 105.9h0M94.6 111.6h0M105.0 97.6h0M97.0 109.1h0M92.3 109.1h0M99.2 127.3h0M98.9 127.0h0M88.8 119.0h0M100.0 119.8h0M94.8 108.3h0M97.7 97.4h0M106.0 107.8h0M101.9 93.5h0M107.3 118.9h0M98.2 99.7h0M92.3 117.9h0M104.6 113.3h0M96.8 116.7h0M116.3 119.5h0M96.0 121.1h0M93.3 108.0h0M92.8 113.3h0M96.9 100.2h0M95.2 110.2h0M104.6 94.2h0M99.3 127.8h0M96.1 106.9h0M102.6 112.6h0M119.8 111.3h0M108.4 104.4h0M114.7 115.2h0M104.7 105.6h0M95.0 107.7h0M108.0 95.4h0M109.1 115.3h0M119.6 109.6h0M109.9 104.3h0M113.6 118.5h0M97.8 107.3h0M97.0 123.9h0M95.9 107.1h0M89.8 102.8h0M111.2 124.9h0M102.2 114.2h0M113.2 114.7h0M99.6 113.9h0M103.9 121.2h0M102.3 109.6h0M97.8 103.6h0M112.2 124.1h0M91.0 101.5h0M115.0 119.8h0M104.3 116.8h0M109.5 96.9h0M95.3 121.3h0M117.2 111.5h0M98.0 100.5h0M89.2 102.4h0M93.0 95.1h0M101.4 127.8h0M88.6 116.5h0M111.9 113.7h0M111.1 97.8h0M92.1 119.7h0M111.3 114.4h0M92.6 122.9h0M89.2 119.3h0M106.2 123.5h0M99.6 122.4h0M102.3 111.2h0M115.5 110.1h0M105.3 112.2h0M92.0 112.3h0M102.7 125.6h0M100.1 123.7h0M107.4 105.6h0M101.3 121.4h0M108.4 99.6h0M93.3 121.1h0M117.4 117.3h0M94.4 105.3h0M106.9 107.8h0M94.8 113.4h0M101.4 121.6h0M110.1 113.3h0M117.0 111.8h0M97.3 128.7h0M107.4 120.0h0M88.2 104.7h0M108.0 121.6h0M116.2 101.2h0M93.5 100.1h0M105.0 117.8h0M110.4 112.0h0M114.2 95.2h0M109.6 120.8h0M114.0 128.0h0M90.0 106.8h0M110.7 102.8h0M113.5 112.7h0M100.7 107.0h0M93.1 100.4h0M99.7 113.6h0M106.7 115.4h0M90.8 107.5h0M92.8 104.1h0M108.4 125.4h0M114.9 119.6h0M108.3 102.3h0M94.9 104.7h0M97.8 129.2h0M96.8 125.2h0M100.7 100.6h0M93.5 114.0h0M99.4 126.3h0M100.1 100.0h0M96.8 104.4h0M107.4 101.6h0M98.3 119.3h0M111.7 108.7h0M86.4 102.8h0M104.8 116.1h0M96.7 121.2h0M97.1 112.8h0M110.5 116.6h0M103.2 116.6h0M106.3 121.2h0M105.5 103.6h0M99.6 124.6h0M102.3 110.1h0M103.5 95.2h0M117.3 116.6h0M98.4 104.0h0M90.8 117.2h0M88.8 106.9h0M95.9 112.8h0M104.3 113.7h0M105.3 120.2h0M109.6 102.1h0M105.4 117.2h0M87.3 101.7h0M100.9 119.3h0M96.7 101.3h0M107.2 94.0h0M112.1 115.5h0M88.3 106.5h0M104.4 112.3h0M89.5 104.2h0M110.7 108.5h0M103.9 124.3h0M93.9 110.8h0M106.7 119.3h0M99.5 130.2h0M116.7 108.6h0M100.3 109.1h0M98.5 116.1h0M103.3 97.7h0M98.2 104.1h0M103.9 101.5h0M109.9 114.1h0M102.9 126.0h0M93.2 103.1h0M103.1 105.9h0M102.7 114.1h0M86.7 104.1h0M107.9 110.0h0M108.0 127.0h0M116.4 113.5h0M99.7 100.3h0M106.8 121.8h0M106.3 98.4h0M111.4 107.7h0M101.2 104.1h0M107.7 113.6h0M103.6 94.3h0M95.4 102.6h0M115.2 107.6h0M106.7 113.8h0M92.5 122.0h0M109.8 105.4h0M110.8 121.7h0M106.5 113.1h0M110.5 109.1h0M115.2 112.7h0M108.3 96.8h0M93.2 106.5h0M100.0 95.8h0M98.5 99.2h0M107.8 122.1h0M107.2 124.3h0M117.9 121.0h0M112.0 114.1h0M91.9 100.7h0M111.3 105.8h0M98.0 128.1h0M92.2 103.4h0M109.4 122.9h0M111.4 116.5h0M104.3 120.6h0M116.3 100.6h0M94.6 115.4h0M111.9 112.8h0M105.4 108.7h0M109.7 104.4h0M94.6 104.9h0M101.0 111.7h0M94.9 119.8h0M115.9 109.6h0M111.6 106.6h0M98.8 126.8h0M104.0 107.9h0M107.4 96.0h0M105.9 102.6h0M106.8 105.6h0M112.3 116.9h0M116.1 117.4h0M112.3 98.0h0M114.9 117.2h0M87.5 112.6h0M114.2 111.9h0M94.1 111.2h0M116.4 114.1h0M97.9 106.3h0M105.9 107.8h0M102.4 97.4h0M118.9 108.6h0M103.5 93.3h0M104.0 106.1h0M101.7 117.1h0M102.1 115.5h0M89.9 117.5h0M96.2 120.0h0M96.6 119.7h0M86.8 103.2h0M91.8 113.2h0M107.6 107.6h0M87.4 105.2h0M113.9 99.5h0M114.2 120.3h0M109.1 122.4h0M101.9 114.1h0M100.7 121.0h0M105.0 111.4h0M116.2 112.8h0M108.0 105.3h0M112.1 110.6h0" fill="none" stroke="#9fd8cf" stroke-width="0.9" stroke-linecap="square" opacity="0.75"/>
<path d="M95.5 132.3h0M123.3 138.0h0M103.8 162.4h0M100.8 147.3h0M120.5 180.1h0M110.6 130.2h0M85.0 133.8h0M98.7 154.4h0M127.3 165.8h0M119.6 135.2h0M93.4 150.6h0M119.3 127.0h0M113.2 143.2h0M126.5 183.0h0M123.1 138.2h0M111.9 144.8h0M106.3 140.0h0M124.7 166.9h0M105.5 126.7h0M119.7 169.2h0M121.2 147.3h0M117.4 160.1h0M95.4 129.5h0M100.8 167.8h0M86.6 128.8h0M125.1 172.5h0M121.1 161.4h0M107.2 125.4h0M94.0 135.8h0M115.1 134.6h0M129.2 157.6h0M85.8 145.2h0M93.9 135.5h0M119.7 172.8h0M103.7 165.8h0M98.5 127.8h0M121.5 164.6h0M92.6 145.2h0M122.6 153.9h0M124.1 161.4h0M110.5 137.1h0M113.4 165.5h0M79.6 124.4h0M101.9 127.0h0M113.6 152.2h0M93.9 122.6h0M115.8 169.1h0M109.0 176.0h0M124.9 170.4h0M96.2 158.1h0M125.8 178.1h0M123.8 175.1h0M117.3 175.5h0M117.4 169.4h0M112.0 180.0h0M93.7 127.8h0M121.9 169.0h0M108.9 143.9h0M83.0 149.3h0M116.7 130.0h0M106.6 141.7h0M112.4 166.3h0M86.8 157.7h0M115.0 140.4h0M101.8 138.1h0M117.0 167.5h0M96.3 145.5h0M83.9 147.2h0M120.6 125.3h0M100.2 137.7h0M119.1 177.7h0M120.1 183.2h0M113.2 176.0h0M121.4 136.0h0M130.0 161.6h0M83.6 142.9h0M102.6 163.8h0M119.5 166.9h0M84.6 131.0h0M118.6 157.0h0M117.7 131.9h0M99.6 133.5h0M111.8 149.4h0M115.4 155.6h0M113.2 162.2h0M93.1 143.0h0M84.6 128.1h0M95.4 153.8h0M96.1 152.2h0M125.1 180.5h0M90.5 125.8h0M103.9 152.7h0M113.5 148.7h0M102.5 161.3h0M133.6 159.6h0M120.7 127.9h0M123.9 145.4h0M129.3 177.6h0M91.1 130.5h0M111.3 153.6h0M100.6 164.8h0M97.7 130.8h0M120.8 137.2h0M109.1 142.9h0M112.0 158.0h0M91.6 128.8h0M131.6 169.9h0M113.9 164.3h0M111.9 171.8h0M119.7 137.8h0M129.4 153.5h0M92.8 150.9h0M130.2 157.0h0M115.3 148.9h0M127.7 167.6h0M96.9 162.3h0M122.8 172.7h0M128.7 156.1h0M105.4 137.6h0M100.7 154.6h0M82.4 131.9h0M131.1 165.6h0M81.7 128.1h0M111.3 145.2h0M92.5 128.3h0M123.4 164.6h0M99.2 150.9h0M113.8 174.8h0M119.4 137.2h0M118.9 163.1h0M103.2 149.4h0M97.3 143.9h0M94.8 136.5h0M116.1 125.4h0M120.8 131.4h0M118.0 149.4h0M115.4 143.4h0M117.7 150.5h0M92.5 122.3h0M94.4 163.0h0M130.5 148.8h0M127.6 169.9h0M116.0 175.8h0M121.0 147.0h0M113.3 150.7h0M106.0 131.1h0M82.6 145.4h0M94.5 139.0h0M124.4 153.5h0M122.7 133.0h0M93.5 139.1h0M103.4 149.7h0M117.7 149.0h0M115.0 154.4h0M103.0 143.2h0M125.5 138.1h0M125.6 160.0h0M103.0 125.2h0M96.1 124.7h0M130.3 169.2h0M117.3 133.2h0M96.8 132.8h0M88.1 137.8h0M99.5 158.8h0M102.4 135.1h0M123.2 163.8h0M117.7 160.6h0M105.2 147.5h0M109.7 168.8h0M126.8 131.2h0M84.0 136.7h0M84.7 130.2h0M128.7 166.2h0M118.4 135.7h0M91.7 149.5h0M85.0 128.3h0M125.0 163.6h0M91.4 144.5h0M124.1 133.6h0M92.6 148.1h0M118.9 178.5h0M97.6 127.7h0M113.3 140.4h0M119.1 138.0h0M90.5 143.2h0M112.5 139.1h0M85.2 135.7h0M121.1 180.1h0M110.4 160.3h0M109.5 138.0h0M99.3 137.5h0M115.3 165.6h0M130.2 163.4h0M81.7 131.1h0M92.3 136.5h0M119.3 139.5h0M96.4 149.2h0M117.5 172.1h0M90.1 126.0h0M111.7 143.4h0M100.0 129.2h0M107.9 170.8h0M98.9 165.8h0M109.5 170.5h0M121.3 141.9h0M115.4 154.1h0M125.5 173.8h0M98.2 149.3h0M122.7 169.7h0M116.6 132.0h0M80.8 137.0h0M116.9 155.7h0M129.9 154.6h0M113.1 172.6h0M125.3 178.8h0M112.0 139.0h0M82.6 127.5h0M111.1 176.5h0M121.2 149.7h0M106.4 154.2h0M116.1 150.1h0M102.8 176.1h0M126.2 167.1h0M98.4 163.0h0M99.6 128.5h0M89.7 131.4h0M86.7 126.8h0M101.8 148.4h0M106.8 135.9h0M82.5 126.4h0M83.4 143.7h0M124.1 136.9h0M124.4 182.5h0M122.0 173.4h0M102.7 151.4h0M98.7 139.0h0M109.4 147.2h0M110.7 128.1h0M130.2 160.6h0M94.0 164.3h0M126.6 150.2h0M130.7 172.1h0M132.1 168.6h0M111.2 163.3h0M110.9 169.5h0M132.7 148.6h0M101.3 131.1h0M122.1 152.4h0M91.4 131.9h0M104.7 164.3h0M119.7 149.1h0M120.6 132.1h0M110.9 135.3h0M87.2 129.6h0M99.6 165.5h0M122.1 140.6h0M118.9 143.6h0M125.7 177.6h0M86.7 133.0h0M112.0 132.2h0M95.4 123.9h0M96.3 130.5h0M130.3 137.8h0M104.5 169.1h0M111.2 128.6h0M108.6 168.2h0M106.8 144.0h0M120.4 177.1h0M120.3 168.2h0M103.3 166.7h0M104.6 161.4h0M101.7 144.2h0M101.0 122.5h0M113.8 181.0h0M116.8 159.7h0M130.1 156.5h0M95.6 159.8h0M120.3 127.7h0M112.1 149.0h0M111.8 174.1h0M131.3 171.8h0M100.0 152.0h0M128.3 139.7h0M118.3 179.0h0M81.6 144.2h0M110.7 161.3h0M108.4 170.2h0M78.7 128.2h0M100.7 141.8h0M113.9 131.0h0M97.7 135.4h0M118.9 151.3h0M118.2 132.2h0M122.0 154.4h0M95.3 136.2h0M113.8 164.9h0M106.0 144.0h0M119.8 130.5h0M102.4 172.6h0M126.3 144.3h0M112.6 180.8h0M122.5 165.8h0M96.6 159.9h0M126.5 167.3h0M110.1 136.3h0M113.1 180.6h0M91.3 136.2h0M132.6 151.1h0M107.4 131.1h0M109.2 152.0h0M89.0 140.0h0M115.9 172.5h0M86.1 152.9h0M123.3 154.0h0M118.0 130.8h0M121.2 140.0h0M113.5 157.7h0M115.4 153.6h0M117.5 142.8h0M109.1 160.5h0M116.0 166.3h0M121.8 131.5h0M125.8 136.9h0M124.0 134.5h0M123.9 158.5h0M106.0 139.9h0M91.7 144.6h0M102.3 128.1h0M85.1 141.5h0M106.5 165.5h0M102.9 156.8h0M82.0 146.0h0M126.2 179.8h0M115.2 162.3h0M109.4 165.6h0M115.3 146.9h0M93.5 127.8h0M124.9 143.4h0M118.1 155.4h0M81.9 140.3h0M98.4 149.0h0M127.4 169.8h0M123.2 145.3h0M127.9 170.7h0M83.8 147.9h0M117.0 156.8h0M95.8 139.3h0M126.9 154.5h0M105.6 173.5h0M109.0 169.8h0M111.0 144.6h0M127.6 140.2h0M81.0 134.7h0M123.9 150.5h0M96.7 158.5h0M116.2 141.0h0M118.2 155.4h0M90.2 140.2h0M116.0 176.2h0M97.7 134.2h0M89.2 136.6h0M86.2 136.0h0M102.4 169.1h0M104.6 133.0h0M99.1 140.5h0M130.1 145.8h0M114.0 179.2h0M101.1 137.9h0M112.3 157.7h0M98.7 136.1h0M95.5 149.1h0M120.3 149.5h0M119.3 184.2h0M90.0 124.7h0M106.0 161.1h0M115.5 148.6h0M113.9 128.5h0M118.0 144.0h0M88.6 127.5h0M86.3 147.2h0M113.5 172.5h0M119.1 129.9h0M131.3 134.0h0M95.9 162.4h0M84.6 131.7h0M114.6 124.3h0M125.3 176.0h0M119.3 123.4h0M101.2 176.3h0M90.8 160.3h0M118.7 146.5h0M125.6 140.8h0M89.3 148.7h0M117.3 177.3h0M118.6 157.1h0M98.6 156.6h0M99.0 141.2h0M85.4 131.9h0M117.0 151.6h0M92.0 124.5h0M128.7 138.4h0M94.1 165.4h0M122.7 161.6h0M117.7 131.1h0M102.2 151.2h0M89.6 129.1h0M91.9 130.4h0M124.2 152.2h0M129.3 156.8h0M122.9 145.9h0M128.1 175.9h0M122.6 170.9h0M123.3 144.3h0M111.4 174.3h0M90.9 145.0h0M94.6 127.5h0M100.7 133.8h0M87.4 148.0h0M99.8 165.7h0M111.0 137.1h0M121.9 158.5h0M120.3 163.2h0M118.1 160.6h0M123.1 134.0h0M121.1 130.0h0M109.6 148.6h0M122.1 129.3h0M112.6 137.1h0M115.6 157.0h0M107.7 130.7h0M99.2 125.0h0M106.8 141.7h0M92.3 134.0h0M109.6 176.9h0M132.0 154.1h0M123.5 158.9h0M104.7 152.1h0M115.7 167.9h0M108.8 167.5h0M113.9 179.7h0M116.9 154.7h0M121.1 182.6h0M90.6 121.7h0M81.4 132.3h0M129.0 166.0h0M118.1 174.5h0M109.6 181.0h0M106.1 154.8h0M131.0 140.5h0M97.0 162.2h0M117.0 167.7h0M110.9 181.5h0M95.5 132.5h0M87.8 127.6h0M106.1 175.8h0M98.4 140.2h0M131.1 160.6h0M128.0 133.7h0M108.0 133.3h0M96.9 137.3h0M114.2 177.1h0M101.3 155.9h0M130.2 158.3h0M96.0 122.6h0M123.6 170.5h0M102.6 164.1h0M115.9 160.7h0M120.9 150.4h0M92.2 146.9h0M99.6 159.6h0M119.1 130.6h0M106.5 133.0h0M122.1 133.5h0M112.0 171.1h0M110.4 169.4h0M88.4 128.2h0M81.3 140.6h0M86.4 142.7h0M112.0 132.0h0M96.5 148.1h0M90.9 162.1h0M92.8 162.4h0M125.1 173.3h0M131.2 149.1h0M98.3 157.8h0M126.0 155.6h0M82.7 151.4h0M103.8 150.2h0M122.7 165.5h0M81.2 132.5h0M99.4 167.6h0M104.0 133.9h0M130.6 143.7h0M127.7 174.0h0M87.8 148.3h0M99.7 174.7h0M120.1 147.8h0M130.7 145.7h0M132.2 145.3h0M112.0 147.9h0M107.5 133.9h0M116.1 171.8h0M91.4 127.7h0M103.0 167.6h0M87.8 152.9h0M121.5 175.3h0M95.4 162.3h0M124.5 152.2h0M95.7 134.3h0M113.0 174.0h0M119.5 159.6h0M108.0 139.7h0M125.0 173.7h0M127.0 165.1h0M108.1 151.6h0M85.8 133.7h0M100.2 135.2h0M99.3 123.5h0M104.3 153.2h0M102.3 153.9h0M99.8 157.3h0M128.3 161.6h0M116.7 172.5h0M100.4 125.6h0M98.1 152.3h0M110.4 178.4h0M91.7 128.2h0M84.8 147.2h0M121.0 153.8h0M109.9 158.2h0M98.8 125.5h0M96.2 160.6h0M113.9 150.9h0M128.2 133.7h0M95.0 164.2h0M129.5 165.8h0M100.8 127.3h0M105.6 128.8h0M91.6 151.4h0M100.2 145.5h0M126.0 151.0h0M99.4 129.5h0M120.0 158.5h0M91.6 128.7h0M101.7 176.6h0M127.9 167.7h0M113.3 170.6h0M109.8 171.1h0M103.8 170.9h0M92.3 146.4h0M104.0 138.0h0M82.9 141.0h0M106.7 141.3h0M92.1 129.1h0M122.5 151.4h0M115.8 171.9h0M123.0 127.4h0M124.3 180.8h0M129.7 164.1h0M113.0 127.5h0M105.0 166.5h0M87.6 128.7h0M91.8 159.0h0M89.2 145.1h0M116.5 156.2h0M109.8 168.4h0M96.0 138.8h0M104.2 126.5h0M99.2 144.5h0M97.7 127.4h0M120.8 166.9h0M114.4 165.1h0M91.0 162.9h0M113.5 164.8h0M119.9 144.8h0M126.3 141.4h0M98.4 136.3h0M102.3 156.1h0M81.5 130.1h0M109.0 153.5h0M95.8 146.0h0M106.9 152.7h0M111.5 169.0h0M88.5 136.2h0M82.8 143.0h0M117.9 151.7h0M119.3 142.0h0M132.8 163.9h0M104.9 127.1h0M119.3 150.8h0M88.0 145.7h0M99.7 144.4h0M88.6 135.0h0M119.2 155.4h0M118.4 173.5h0M131.7 137.1h0M113.7 173.4h0M100.1 168.3h0M128.3 161.7h0M119.4 158.6h0M111.2 177.3h0M96.2 158.3h0M125.7 139.8h0M107.7 158.8h0M129.2 166.2h0M110.3 166.7h0M109.7 146.0h0M105.8 168.6h0M88.1 141.8h0M97.1 130.8h0M116.7 179.2h0M120.0 148.3h0M103.2 157.3h0M120.6 181.0h0M100.3 143.5h0M118.8 160.0h0M80.1 129.7h0M99.3 131.8h0M112.7 157.1h0M128.1 161.4h0M130.8 165.1h0M113.9 160.8h0M129.0 144.3h0M117.3 161.7h0M117.9 132.8h0M102.4 139.9h0M83.3 131.9h0M102.6 126.6h0M115.3 148.4h0M93.9 143.1h0M132.1 156.7h0M120.2 148.3h0M79.1 126.2h0M120.3 123.0h0M127.5 144.9h0M115.3 181.5h0M101.2 140.4h0M117.9 147.2h0M94.9 144.6h0M117.2 163.9h0M102.5 125.3h0M127.1 155.5h0M122.9 162.3h0M115.3 136.9h0M98.5 161.5h0M104.6 140.8h0M98.0 127.3h0M116.9 160.4h0M107.7 180.9h0M84.1 154.9h0" fill="none" stroke="#88cfdb" stroke-width="0.9" stroke-linecap="square" opacity="0.75"/>
<path d="M124.6 128.3h0M120.3 128.6h0M120.9 152.2h0M128.3 138.5h0M109.6 154.7h0M115.2 135.8h0M126.2 143.0h0M119.0 165.2h0M130.2 157.8h0M115.0 141.7h0M118.2 137.2h0M132.7 145.5h0M115.6 125.0h0M122.2 139.0h0M124.2 129.8h0M119.1 139.2h0M118.9 148.5h0M121.0 151.0h0M128.8 151.7h0M115.6 131.9h0M129.3 136.7h0M117.5 162.3h0M122.8 151.0h0M119.6 145.4h0M121.0 125.6h0M114.3 160.2h0M123.5 147.0h0M111.7 148.2h0M124.5 155.9h0M115.9 137.4h0M122.7 140.5h0M123.5 131.6h0M125.6 140.7h0M119.5 140.6h0M118.0 148.6h0M121.4 134.3h0M126.5 147.8h0M124.4 151.5h0M117.5 134.1h0M115.2 148.3h0M121.1 137.5h0M125.7 135.5h0M129.2 143.4h0M129.5 148.1h0M133.4 157.3h0M127.5 163.1h0M122.0 132.5h0M116.5 144.6h0M129.0 163.0h0M126.5 136.4h0M127.0 148.8h0M127.1 142.4h0M127.2 155.9h0M122.1 156.6h0M110.4 137.9h0M114.2 150.0h0M124.1 164.4h0M118.0 138.7h0M112.2 146.7h0M111.6 133.1h0M122.9 125.8h0M123.3 141.0h0M128.4 142.7h0M113.1 148.5h0M114.1 127.7h0M131.0 152.2h0M116.8 134.3h0M121.1 131.7h0M127.1 139.4h0M126.8 166.5h0M120.5 137.6h0M120.9 123.8h0M119.9 129.3h0M110.4 142.5h0M119.7 154.2h0M124.1 150.0h0M127.4 143.3h0M112.7 130.1h0M122.5 139.0h0M132.0 157.6h0M112.6 148.0h0M130.1 140.2h0M114.5 155.2h0M128.4 162.8h0M127.3 148.3h0M128.0 161.5h0M129.9 163.6h0M126.4 150.3h0M116.9 144.6h0M112.9 161.1h0M109.0 144.1h0M121.0 158.6h0M116.9 123.5h0M120.6 126.8h0M113.6 129.9h0M120.7 136.3h0M115.5 155.9h0M129.3 145.4h0M113.3 126.3h0M131.5 162.1h0M119.2 126.8h0M131.3 150.3h0M114.0 132.8h0M131.6 155.4h0M118.3 158.5h0M126.0 129.9h0M129.1 156.2h0M115.3 154.8h0M125.6 143.0h0M129.6 143.4h0M125.2 145.9h0M124.4 149.6h0M132.1 162.2h0M129.0 154.0h0M115.6 135.3h0M112.0 137.8h0M107.8 143.3h0M123.4 162.7h0M129.4 163.1h0M124.0 146.7h0M119.7 150.6h0M112.7 150.0h0M132.3 156.0h0M132.2 141.4h0M117.0 130.4h0M126.7 162.1h0M120.3 143.0h0M128.9 167.6h0M121.2 135.9h0M117.8 152.7h0M115.9 163.3h0M122.1 133.8h0M133.1 151.3h0M122.3 152.3h0M113.3 137.8h0M128.8 140.6h0M129.2 159.0h0M111.2 135.9h0M125.7 158.8h0M116.0 140.4h0M127.3 162.4h0M118.8 149.3h0M126.2 159.3h0M124.5 143.3h0M118.8 130.4h0M119.8 133.8h0M126.5 133.4h0M121.1 151.2h0M119.1 162.2h0M113.5 136.1h0M122.3 138.3h0M116.8 129.8h0M119.0 148.3h0M112.9 130.6h0M120.9 162.1h0M111.3 145.5h0M111.2 137.4h0M124.3 158.6h0M115.9 154.9h0M124.2 160.9h0M121.5 147.0h0M117.2 133.5h0M124.2 136.1h0M126.8 161.9h0M129.9 156.0h0M123.1 131.8h0M112.7 144.1h0M111.7 157.5h0M115.9 149.3h0M122.3 143.1h0M120.7 127.3h0M119.9 132.2h0M111.9 157.3h0M114.4 151.6h0M131.6 157.8h0M126.0 157.6h0M114.5 144.1h0M125.6 146.4h0M129.1 157.3h0M111.5 134.6h0M123.0 128.4h0M116.7 123.4h0M118.9 136.4h0M111.5 126.6h0M111.5 131.7h0M118.9 138.1h0M109.1 136.3h0M118.2 132.0h0M118.6 150.3h0M111.7 144.9h0M130.1 138.6h0M123.8 130.7h0M125.7 160.1h0M127.5 140.0h0M126.2 155.8h0M133.1 146.1h0M110.7 151.3h0M117.2 153.0h0M120.1 128.6h0M119.8 123.8h0M110.7 149.6h0M118.6 156.9h0M127.2 164.8h0M123.1 162.6h0M125.7 148.0h0M123.7 153.2h0M110.9 136.3h0M125.3 168.8h0M117.9 153.8h0M130.8 148.0h0M124.2 154.4h0M131.2 159.9h0M112.4 153.9h0M120.4 160.6h0M131.4 160.6h0M110.8 152.8h0M119.5 127.7h0M118.9 155.5h0M121.0 144.1h0M117.8 160.2h0M122.4 128.4h0M131.0 144.1h0M111.1 137.4h0M113.0 144.3h0M123.3 165.6h0M120.8 157.4h0M126.1 163.3h0M127.5 161.0h0M114.4 154.6h0M116.7 158.1h0M123.0 159.4h0M111.2 135.5h0M124.8 139.5h0M123.3 151.0h0M120.9 133.6h0M128.7 146.4h0M109.0 142.0h0M111.3 142.2h0M127.8 163.3h0M121.5 157.6h0M112.9 135.9h0M117.4 157.8h0M122.0 159.6h0M122.3 164.4h0M113.5 154.0h0M115.5 125.5h0M114.8 152.4h0M115.1 125.0h0M117.6 152.0h0M109.9 153.9h0M118.2 141.7h0M114.0 131.9h0M115.7 145.3h0M117.0 129.5h0M127.9 139.4h0M128.7 152.8h0M121.6 159.8h0M109.4 140.0h0M128.2 160.1h0M115.9 160.5h0M131.4 156.1h0M117.5 141.4h0M123.4 138.8h0M113.9 153.4h0M132.9 152.1h0M124.3 132.0h0M118.9 136.3h0M131.5 148.4h0M112.5 144.5h0M130.7 149.9h0M110.1 140.1h0M124.2 166.4h0M123.3 141.6h0M128.0 132.9h0M112.2 143.5h0M117.3 141.8h0M111.2 148.8h0M116.9 145.1h0M116.5 128.8h0M109.3 140.3h0M110.2 130.4h0M116.6 137.4h0M119.3 155.0h0M122.7 132.0h0M128.1 156.0h0M124.3 142.4h0M118.4 148.3h0M118.0 129.1h0M120.2 124.0h0M114.5 139.1h0M130.8 139.1h0M114.7 138.9h0M120.7 150.1h0M110.7 147.4h0M128.7 153.3h0M128.5 152.0h0M121.2 142.5h0M122.9 133.3h0M119.3 134.6h0M128.5 139.8h0" fill="none" stroke="#55a5b9" stroke-width="0.9" stroke-linecap="square" opacity="0.75"/>
<path d="M118.8 183.3h0M116.5 176.8h0M120.5 167.8h0M125.5 171.0h0M106.3 170.0h0M105.9 174.9h0M103.4 167.2h0M123.3 167.9h0M117.8 176.2h0M108.9 166.1h0M103.5 173.1h0M109.3 180.8h0M111.3 167.1h0M120.4 181.7h0M122.9 169.2h0M125.1 176.8h0M122.0 167.1h0M117.8 180.3h0M114.7 179.0h0M109.8 175.5h0M121.5 185.0h0M110.9 164.5h0M123.3 166.2h0M125.0 181.7h0M125.1 174.4h0M115.1 167.2h0M116.0 177.8h0M126.5 176.1h0M106.9 169.6h0M117.5 165.9h0M117.6 176.3h0M109.4 166.4h0M114.7 178.3h0M114.6 179.2h0M122.9 170.8h0M129.0 179.3h0M122.3 177.9h0M118.5 179.6h0M114.6 167.4h0M121.3 173.4h0M110.2 176.8h0M110.1 173.9h0M127.4 181.2h0M111.3 173.0h0M113.3 179.3h0M113.1 164.9h0M117.3 168.5h0M118.6 168.0h0M126.4 171.9h0M110.3 171.2h0M119.2 164.5h0M108.2 169.7h0M110.7 171.7h0M107.7 167.4h0M110.8 174.1h0M110.8 171.9h0M109.9 174.4h0M107.7 173.5h0M119.3 167.4h0M118.9 173.4h0M105.2 172.2h0M124.4 170.0h0M102.3 171.0h0M107.4 167.8h0M115.3 179.8h0M119.0 181.3h0M120.3 178.5h0M102.9 171.1h0M117.9 169.7h0M118.3 180.6h0M117.1 171.4h0M106.4 178.4h0M112.6 180.2h0M121.0 178.8h0M123.1 165.7h0M111.3 181.3h0M111.1 176.4h0M121.0 162.8h0M109.0 170.9h0M120.8 170.9h0M107.1 173.2h0M113.1 182.0h0M120.0 174.7h0M114.2 172.2h0M104.2 175.5h0M106.5 172.6h0M116.9 184.7h0M101.9 175.2h0M124.9 176.7h0M117.4 180.8h0M123.9 168.0h0M106.0 179.0h0M117.2 182.4h0M128.7 176.3h0M115.0 170.0h0M113.3 174.4h0M111.3 164.9h0M110.0 180.4h0M118.0 171.0h0M109.8 178.3h0M116.5 172.8h0M110.3 164.4h0M123.4 172.1h0M119.3 167.8h0M117.3 171.5h0M104.4 170.1h0M121.8 170.7h0M108.7 180.6h0M117.5 181.9h0M106.1 180.5h0M105.4 177.7h0M117.2 173.4h0M118.7 162.5h0M120.8 175.8h0M114.7 182.8h0M117.0 175.8h0M106.0 172.6h0M127.9 182.2h0M115.7 171.1h0M112.0 184.8h0M104.0 176.3h0M121.1 166.4h0M123.3 169.8h0M125.9 179.4h0M130.0 175.4h0M117.4 181.7h0M111.1 173.5h0M121.5 164.6h0M119.9 174.0h0M107.3 182.7h0M105.2 171.3h0M102.8 169.9h0M108.1 167.3h0M113.9 167.7h0M108.0 167.2h0M104.0 177.1h0M125.7 167.6h0M103.8 175.1h0M118.0 178.9h0M113.4 176.6h0M117.6 175.4h0M101.4 170.0h0M110.8 174.2h0M112.7 176.2h0M121.3 169.8h0M107.9 173.8h0M128.2 174.6h0M101.3 169.2h0M122.7 176.6h0M112.0 177.9h0M115.4 177.9h0M108.2 176.7h0M109.5 174.7h0M113.9 165.0h0M105.4 177.5h0M121.1 181.2h0M104.3 179.3h0M114.3 183.0h0M123.0 166.6h0M114.6 176.3h0M120.7 172.5h0M126.9 169.4h0M119.4 171.9h0M127.9 180.6h0M114.7 170.2h0M105.5 178.8h0M109.2 178.2h0M120.7 177.1h0M127.7 177.3h0M123.2 167.5h0M122.5 165.3h0M107.8 174.5h0M112.2 169.4h0M113.6 182.1h0M106.5 176.3h0M116.4 170.2h0M128.5 170.3h0M107.9 167.5h0M114.3 172.2h0M116.4 167.8h0M118.2 176.5h0M109.2 166.9h0M128.5 181.5h0M127.5 171.4h0M116.6 165.1h0M107.3 177.6h0M105.6 177.1h0M105.5 173.3h0M115.1 172.5h0M115.9 177.5h0M122.3 174.0h0M116.6 181.5h0M129.3 177.2h0M111.3 170.1h0M113.9 178.4h0M125.0 178.6h0M111.2 164.4h0M122.6 169.6h0M115.4 167.4h0M125.4 172.2h0M126.0 173.3h0M105.8 175.7h0M110.4 174.1h0M117.4 180.8h0M114.0 165.5h0M114.7 165.7h0M123.1 178.6h0M107.0 175.5h0M120.1 167.8h0M126.4 178.4h0M104.6 171.0h0M113.5 179.5h0M104.6 179.5h0M108.9 169.3h0M115.6 167.5h0M111.1 167.0h0M108.1 176.1h0M115.8 165.8h0M104.8 180.0h0M105.7 173.0h0M126.9 179.3h0M112.4 177.0h0M115.0 179.0h0M104.4 172.3h0M126.5 175.0h0M118.5 175.2h0M109.3 168.5h0M117.8 176.1h0M120.5 163.9h0M113.9 170.3h0M112.2 177.6h0M122.6 182.8h0M125.8 172.3h0M125.6 178.2h0M105.1 166.6h0M126.4 175.0h0M104.7 168.9h0M115.0 166.5h0M115.1 165.7h0M116.8 177.8h0M127.6 175.2h0M115.6 178.1h0M111.4 173.9h0M111.0 163.2h0M105.7 174.2h0M119.6 172.9h0M104.1 166.4h0M115.2 181.2h0M121.9 178.3h0M112.4 172.3h0M122.6 165.0h0M113.9 180.7h0M126.7 174.3h0M123.0 175.1h0M107.5 170.6h0M103.0 171.9h0M117.3 175.3h0M128.9 172.7h0M109.2 177.0h0M119.5 167.3h0" fill="none" stroke="#3282a5" stroke-width="0.9" stroke-linecap="square" opacity="0.75"/>
<path d="M154.9 165.0h0M154.3 150.8h0M151.4 138.9h0M150.0 174.1h0M152.2 149.9h0M149.7 147.4h0M151.1 161.7h0M151.4 158.9h0M154.3 143.1h0M154.9 168.1h0M149.7 145.6h0M154.8 171.1h0M154.4 179.1h0M149.8 145.6h0M153.2 162.0h0M155.1 167.7h0M150.2 143.2h0M154.2 178.3h0M152.7 154.3h0M150.7 155.2h0M149.6 149.8h0M146.3 149.1h0M149.5 135.6h0M152.4 176.5h0M149.4 171.0h0M149.3 158.4h0M154.4 169.7h0M152.7 155.5h0M151.5 155.9h0M150.3 162.6h0M154.1 168.2h0M153.4 156.6h0M148.6 147.4h0M151.8 133.6h0M150.7 150.3h0M149.1 133.9h0M152.9 147.7h0M145.6 158.5h0M147.7 164.1h0M149.3 153.6h0M149.9 174.7h0M148.5 143.2h0M154.1 167.5h0M151.2 149.3h0M149.7 153.1h0M149.9 150.0h0M148.9 162.1h0M150.7 137.6h0M149.7 169.7h0M154.0 156.8h0M147.7 160.4h0M151.2 136.7h0M153.3 164.2h0M151.2 163.9h0M146.6 151.0h0M155.6 169.4h0M149.5 141.7h0M152.0 138.3h0M152.6 133.8h0M153.0 177.6h0M149.5 160.1h0M151.8 162.9h0M149.8 137.1h0M149.9 140.3h0M149.8 154.4h0M154.7 139.0h0M149.0 148.6h0M155.0 161.1h0M154.6 159.9h0M151.2 150.3h0M153.5 172.6h0M151.3 152.8h0M150.6 134.0h0M152.8 159.6h0M148.8 149.1h0M149.2 167.2h0M155.7 158.5h0M149.3 150.8h0M147.3 136.3h0M147.7 143.5h0M153.5 175.8h0M152.2 169.8h0M153.2 169.8h0M149.9 162.2h0M149.8 167.6h0M150.7 135.1h0M148.6 145.5h0M149.8 147.8h0M148.7 139.3h0M150.8 140.2h0M148.1 146.0h0M148.5 147.3h0M153.3 169.6h0M155.5 167.2h0M149.0 166.1h0M147.6 154.5h0M149.9 138.4h0M151.2 175.7h0M149.0 150.3h0M153.4 167.2h0M150.8 161.4h0M146.5 150.8h0M148.5 136.8h0M149.8 169.0h0M146.2 146.0h0M151.0 165.0h0M152.9 176.4h0M149.9 136.8h0M147.9 147.6h0M155.1 174.1h0M150.8 134.5h0M148.4 140.2h0M148.4 150.0h0M152.5 132.6h0M152.4 143.3h0M156.2 152.9h0M151.4 168.6h0M152.8 174.4h0M153.5 153.4h0M150.4 163.5h0M150.6 142.1h0M150.8 148.9h0M151.2 174.5h0M154.8 174.8h0M150.3 163.5h0M149.4 149.2h0M149.4 144.5h0M152.4 146.3h0M152.8 148.9h0M150.3 153.3h0M151.2 150.7h0M147.3 145.9h0M151.7 171.3h0M152.5 175.7h0M150.7 139.0h0M153.6 139.8h0M154.8 154.2h0M148.9 171.1h0M147.0 164.3h0M153.9 173.8h0M151.7 133.6h0M153.7 151.8h0M148.1 162.1h0M153.6 153.3h0M151.4 145.9h0M149.5 170.0h0M152.8 147.3h0M152.6 170.9h0M151.2 142.6h0M145.5 153.8h0M149.9 138.4h0M146.2 132.3h0M151.3 152.3h0M149.6 134.0h0M150.1 136.9h0M148.7 149.5h0M150.5 169.0h0M154.0 149.3h0M150.7 153.4h0M152.1 152.6h0M146.0 141.3h0M151.5 146.2h0M152.5 154.8h0M150.3 157.0h0M151.3 162.2h0M150.4 177.3h0M153.8 148.8h0M151.9 147.7h0M153.7 163.5h0M150.7 141.2h0" fill="none" stroke="#8ed0a6" stroke-width="0.9" stroke-linecap="square" opacity="0.75"/>
<path d="M141.1 154.6h0M143.0 161.1h0M127.5 154.4h0M138.1 161.5h0M136.4 156.3h0M135.5 153.8h0M145.5 158.7h0M141.1 158.7h0M139.2 156.0h0M144.2 156.0h0M143.1 158.3h0M139.7 154.3h0M143.2 160.0h0M137.2 157.2h0M127.7 158.5h0M143.6 159.6h0M136.2 164.0h0M142.7 158.9h0M146.2 161.4h0M144.4 154.8h0M139.7 158.9h0M139.3 161.1h0M139.2 161.0h0M127.8 159.5h0M145.4 152.7h0M131.1 158.5h0M131.5 155.5h0M142.8 150.9h0M126.7 159.2h0M141.4 162.4h0M135.0 158.2h0M144.2 161.2h0M140.5 160.6h0M131.4 156.7h0M140.2 156.1h0M143.0 155.2h0M139.4 157.7h0M139.1 164.6h0M139.8 158.1h0M134.7 161.5h0M142.8 159.9h0M138.6 156.9h0M145.2 160.3h0M137.0 154.5h0M137.2 159.7h0M142.1 161.5h0M141.5 162.7h0M138.3 162.2h0M136.2 163.9h0M143.3 158.3h0M135.6 161.6h0M136.4 161.3h0M139.5 159.7h0M133.7 164.7h0M138.5 163.9h0M144.6 160.9h0M142.0 154.9h0M137.9 157.5h0M140.6 159.9h0M136.0 151.6h0M137.8 161.7h0M143.3 154.1h0M137.9 162.6h0M142.4 155.4h0M136.5 162.1h0M143.4 156.0h0M142.5 151.5h0M135.8 161.1h0M143.0 152.1h0M128.6 160.0h0M132.7 161.1h0M145.8 155.4h0M139.6 154.6h0M143.5 157.2h0M132.2 155.9h0M129.0 157.4h0M135.4 154.7h0M130.0 158.7h0M139.5 161.8h0M139.2 154.9h0" fill="none" stroke="#8ed0a6" stroke-width="0.9" stroke-linecap="square" opacity="0.75"/>
<path d="M153.0 103.2h0M143.0 104.9h0M146.5 104.9h0M161.5 102.2h0M150.9 107.9h0M158.9 109.0h0M156.3 103.0h0M162.8 102.6h0M161.3 107.4h0M155.6 108.4h0M165.7 109.9h0M169.1 110.4h0M167.2 107.0h0M158.6 105.3h0M144.4 106.6h0M166.0 107.4h0M159.1 98.6h0M167.6 105.3h0M159.9 113.9h0M146.0 106.8h0M156.1 102.8h0M145.9 106.6h0M161.1 102.8h0M165.8 108.0h0M169.6 107.8h0M153.4 105.8h0M153.5 110.4h0M155.6 109.0h0M165.7 102.5h0M160.8 113.3h0M164.3 102.9h0M167.1 108.7h0M154.8 104.6h0M155.9 98.5h0M152.6 108.1h0M168.3 104.0h0M160.6 110.6h0M163.7 98.0h0M146.6 110.6h0M150.4 109.1h0M166.5 103.1h0M154.2 103.8h0M168.7 105.3h0M163.7 106.8h0M165.1 110.1h0M158.0 107.0h0M158.7 101.3h0M168.1 103.1h0M164.7 104.9h0M161.1 107.0h0M146.1 109.7h0M163.7 100.1h0M146.8 104.4h0M152.0 104.1h0M162.1 104.4h0M149.8 104.0h0M167.7 114.2h0M163.0 99.4h0M159.0 113.7h0M167.4 105.7h0M170.0 108.6h0M160.3 102.9h0M157.8 113.4h0M157.8 104.2h0M153.8 102.0h0M146.2 109.4h0M175.9 107.4h0M156.4 113.2h0M149.1 110.5h0M151.6 105.2h0M168.5 111.7h0M159.9 102.3h0M158.1 100.1h0M150.8 108.1h0M141.6 105.3h0M151.5 108.3h0M145.7 102.6h0M150.7 107.3h0M168.3 102.3h0M154.7 109.4h0M154.2 104.1h0M144.4 108.6h0M165.0 108.5h0M165.9 111.2h0M151.8 108.5h0M162.5 111.1h0M164.0 108.5h0M160.9 110.0h0M161.8 111.5h0M164.2 107.3h0M161.5 102.8h0M167.8 108.3h0M158.8 104.4h0M161.4 104.0h0M159.6 103.3h0M169.7 109.6h0M151.6 106.2h0M158.4 112.2h0M165.1 106.2h0M165.1 110.2h0M165.5 104.0h0M139.9 109.3h0M157.5 108.7h0M154.0 103.3h0M163.4 107.6h0M165.1 112.5h0M170.6 106.0h0M150.2 108.7h0M150.2 110.3h0M161.8 97.2h0M155.0 108.6h0M156.3 103.5h0M158.0 101.6h0M150.1 106.2h0M161.4 110.3h0M149.7 110.9h0M175.2 104.0h0M164.5 100.7h0M164.3 103.3h0M170.3 103.8h0M157.2 113.3h0M151.1 110.3h0M154.2 101.7h0M160.5 105.4h0M159.1 112.5h0M150.1 108.7h0M164.8 99.0h0M148.2 105.2h0M165.1 114.6h0M153.0 107.1h0M155.9 102.9h0M170.2 103.9h0M169.1 108.0h0M173.9 105.9h0M170.8 108.3h0M145.9 104.0h0M159.2 102.1h0M160.7 111.9h0M158.6 107.5h0M155.6 108.4h0M169.1 110.1h0M160.9 102.3h0M174.0 106.4h0M150.7 111.8h0M166.5 111.1h0M151.9 107.8h0M175.6 105.6h0M157.8 107.9h0M165.0 104.6h0M167.1 109.4h0M154.8 100.6h0M156.3 106.8h0M155.0 106.2h0M157.0 107.6h0M166.2 112.4h0M160.3 110.1h0M173.9 105.6h0M166.3 100.6h0M144.3 105.8h0M143.6 107.4h0M165.5 110.2h0M158.8 102.6h0M165.4 102.7h0M157.8 100.6h0M163.3 113.3h0M172.9 108.5h0M157.9 111.5h0M157.2 102.1h0M161.7 109.6h0M155.7 109.9h0M159.1 109.6h0M176.6 106.6h0M148.9 105.9h0M155.4 107.8h0M156.7 103.1h0M162.8 104.3h0M148.4 104.2h0M162.3 111.0h0M139.8 107.3h0M161.5 108.6h0M155.7 108.9h0M148.1 104.9h0M178.2 107.3h0M169.4 106.0h0M160.1 101.9h0M168.3 102.2h0M156.4 113.1h0M155.4 108.2h0M155.9 113.9h0M160.8 113.2h0M171.2 106.8h0M142.1 106.4h0M170.4 112.6h0M154.6 101.7h0M147.5 107.3h0M163.9 108.6h0M168.8 104.5h0M168.2 101.0h0M158.3 102.9h0M167.6 101.8h0M149.2 107.4h0M146.8 106.3h0M167.6 104.0h0M167.2 102.9h0M152.1 103.5h0M141.4 108.0h0M162.6 106.1h0M158.6 112.1h0M150.4 107.4h0M164.2 102.5h0M142.4 107.4h0M146.7 104.6h0M164.2 101.3h0M146.0 108.8h0M165.5 107.1h0M152.9 102.2h0M152.2 107.3h0M169.4 106.2h0M155.3 100.9h0M164.8 104.6h0M144.0 106.7h0M162.3 105.1h0M160.2 113.7h0M161.8 105.4h0M151.5 108.5h0M158.8 105.8h0M146.7 103.9h0M152.3 112.1h0M161.7 109.0h0M157.8 105.7h0M156.1 101.0h0M140.8 106.7h0M157.2 112.2h0M145.9 107.0h0M148.2 108.2h0M167.1 112.5h0M145.4 107.9h0M153.6 103.9h0M161.3 103.9h0M146.0 107.1h0M173.1 106.5h0M167.9 106.5h0M162.6 107.8h0M147.8 106.1h0M152.1 103.4h0M156.1 105.4h0M160.6 101.1h0M159.6 114.7h0M161.2 103.1h0M143.1 109.0h0M154.7 103.7h0M173.4 104.5h0M151.1 107.4h0M170.8 109.7h0M146.0 106.6h0M158.3 107.3h0M167.2 106.6h0M158.6 101.2h0M171.1 110.9h0M153.8 109.2h0" fill="none" stroke="#76c5d9" stroke-width="0.9" stroke-linecap="square" opacity="0.75"/>
<path d="M157.6 117.3h0M155.7 115.5h0M154.0 125.4h0M154.3 119.4h0M155.6 129.3h0M155.6 124.4h0M154.0 121.9h0M161.0 114.0h0M151.8 128.6h0M153.5 127.6h0M150.6 129.8h0M152.1 128.6h0M152.3 134.1h0M153.6 117.5h0M155.3 119.4h0M156.7 111.8h0M157.8 111.7h0M157.1 111.9h0M150.2 126.3h0M155.5 119.3h0M153.3 126.2h0M154.5 117.5h0M150.5 124.9h0M157.1 118.6h0M154.0 119.7h0M152.7 127.7h0M153.1 128.5h0M158.0 115.4h0M155.3 118.7h0M158.2 114.1h0M156.9 111.2h0M155.8 112.6h0M152.8 125.6h0M154.8 127.0h0M154.2 123.2h0M157.7 120.4h0M157.8 125.4h0M157.8 120.6h0M152.7 118.7h0M151.4 116.4h0" fill="none" stroke="#8fd1b5" stroke-width="0.9" stroke-linecap="square" opacity="0.75"/>
<path d="M153.1 180.2h0M153.4 194.1h0M152.6 186.6h0M153.3 186.4h0M158.1 188.4h0M155.2 189.7h0M159.0 195.4h0M156.3 193.2h0M155.4 194.0h0M153.2 180.6h0M152.4 180.5h0M158.0 197.1h0M153.3 191.2h0M158.4 200.3h0M159.4 197.2h0M153.4 188.3h0M153.2 187.9h0M154.8 182.2h0M154.9 182.7h0M158.1 185.4h0M157.8 189.0h0M154.1 184.5h0M153.5 181.5h0M156.7 187.9h0M156.8 188.5h0M154.2 179.8h0M152.6 180.1h0M156.3 185.0h0M153.4 183.4h0M154.0 182.1h0M152.2 179.6h0M152.6 182.1h0M152.5 178.9h0M155.2 191.5h0M152.3 181.0h0M159.2 194.5h0M152.8 181.9h0M159.3 195.4h0M157.0 194.0h0M156.9 185.4h0" fill="none" stroke="#62ae70" stroke-width="0.9" stroke-linecap="square" opacity="0.75"/>
<path d="M157.2 201.1h0M160.2 210.0h0M163.0 203.0h0M157.2 206.5h0M161.6 216.3h0M161.2 203.5h0M160.3 213.0h0M157.5 208.6h0M161.2 203.8h0M160.0 210.7h0M161.8 208.9h0M160.8 205.9h0M159.6 212.2h0M163.2 210.6h0M160.5 208.9h0M160.3 212.4h0M159.8 213.4h0M163.6 208.0h0M163.6 212.8h0M161.6 206.1h0M159.4 207.4h0M163.6 205.7h0M163.2 204.4h0M163.3 213.4h0M158.9 202.6h0M157.8 208.6h0M162.6 205.8h0M159.4 210.0h0M160.1 200.1h0M159.1 205.7h0M158.5 201.7h0M161.1 212.8h0M163.2 211.5h0M164.0 215.3h0M160.4 205.1h0M157.2 205.5h0M163.2 213.7h0M158.9 203.5h0M162.3 198.8h0M161.1 217.2h0M160.5 200.2h0M160.1 200.8h0M160.0 215.5h0M159.0 209.9h0M157.5 212.7h0M157.7 207.5h0M158.0 202.7h0M159.8 198.1h0M160.8 212.7h0M158.3 210.7h0M160.9 207.3h0M160.7 208.0h0M164.1 208.0h0M163.6 202.3h0M158.8 200.6h0M157.4 199.4h0M162.0 212.6h0M159.0 205.7h0M161.3 203.0h0M160.3 211.6h0M159.8 210.8h0M160.9 202.2h0M155.7 212.3h0M160.4 203.9h0M158.5 212.2h0M160.5 212.8h0M160.2 199.8h0M159.0 203.0h0M162.6 198.4h0M164.6 211.4h0M160.3 212.4h0M161.1 201.5h0M156.7 209.2h0M158.0 208.5h0M163.8 206.5h0M161.5 214.5h0M163.7 210.5h0M159.4 210.5h0M157.2 208.7h0M161.2 209.9h0" fill="none" stroke="#62ae70" stroke-width="0.9" stroke-linecap="square" opacity="0.75"/>
<path d="M41.3 126.7h0M35.5 126.3h0M40.5 123.5h0M35.0 126.1h0M37.1 117.8h0M37.5 128.4h0M35.5 120.8h0M42.0 122.6h0M37.6 127.4h0M31.9 124.3h0M35.3 122.6h0M32.6 123.5h0M36.6 125.1h0M38.3 122.7h0M37.8 119.1h0M37.1 126.3h0M37.0 121.4h0M41.4 127.4h0M42.9 124.7h0M35.6 120.4h0M38.0 125.9h0M31.5 120.5h0M34.8 127.5h0M30.7 120.9h0M39.1 123.6h0M31.9 118.5h0M30.6 117.2h0M40.9 122.6h0M36.8 118.2h0M31.6 120.5h0M37.0 127.6h0M36.6 122.5h0M32.3 123.3h0M31.4 123.5h0M41.3 121.5h0M33.8 127.8h0M34.5 122.3h0M37.4 123.5h0M37.1 123.6h0M33.6 127.9h0M37.7 117.2h0M36.8 129.8h0M33.5 126.9h0M36.4 122.5h0M41.5 120.0h0M33.6 124.1h0M32.4 124.4h0M34.1 124.7h0M32.2 125.5h0M37.1 121.7h0M39.7 123.4h0M35.5 126.5h0M34.7 129.0h0M37.4 118.1h0M37.5 128.0h0M42.3 126.3h0M41.1 121.3h0M30.4 119.3h0M32.9 126.5h0M41.0 123.5h0M33.8 120.7h0M40.4 121.5h0M37.3 130.7h0M32.6 127.5h0M33.2 123.8h0M35.5 126.0h0M33.8 120.6h0M36.8 121.1h0M37.2 117.8h0M39.3 123.9h0M40.6 124.3h0M34.2 116.8h0M29.3 117.2h0M38.8 128.1h0M35.3 126.0h0M31.3 123.6h0M34.6 123.4h0M32.7 129.7h0M34.3 128.9h0M37.7 128.3h0M34.7 124.7h0M32.0 124.9h0M37.7 128.0h0M36.7 122.9h0M33.4 122.4h0M37.6 120.8h0M36.4 122.8h0M34.5 128.3h0M38.0 122.8h0M42.3 122.5h0M38.5 123.0h0M40.5 121.1h0M35.7 119.3h0M33.9 127.6h0M39.6 122.5h0M35.5 120.2h0M39.5 119.9h0M43.5 122.0h0M36.3 116.1h0M38.1 119.1h0M36.4 123.2h0M36.0 126.7h0M37.4 122.8h0M32.3 125.9h0M36.7 121.9h0M40.7 126.5h0M37.1 121.8h0M33.9 120.6h0M40.7 122.4h0M37.5 122.9h0M36.3 120.7h0M35.1 118.4h0M42.9 127.0h0M35.0 129.0h0M40.1 122.0h0M33.7 119.4h0M39.0 125.1h0M39.6 117.0h0M37.5 124.6h0M39.6 128.8h0M33.9 121.6h0M31.2 124.2h0M41.8 127.7h0M35.6 122.9h0M30.9 122.7h0M29.8 117.5h0M33.3 124.9h0M35.1 118.9h0M36.6 118.7h0M32.3 120.8h0M43.8 119.3h0M35.5 125.1h0M33.6 125.9h0M36.2 126.2h0M32.4 128.5h0M31.4 127.3h0M37.5 119.8h0M34.0 123.4h0M34.4 130.3h0M45.1 124.7h0" fill="none" stroke="#2e6fb1" stroke-width="0.9" stroke-linecap="square" opacity="0.75"/>
<path d="M171.7 140.9h0M96.1 106.7h0M160.1 160.5h0M102.8 155.7h0M131.0 85.6h0M150.7 203.0h0M125.9 98.6h0M96.4 155.8h0M112.1 176.9h0M114.5 171.7h0M140.1 205.0h0M90.7 79.0h0M80.0 103.0h0M127.5 182.5h0M114.6 101.4h0M110.4 109.7h0M76.4 138.8h0M122.6 188.7h0M106.4 78.3h0M108.8 189.9h0M135.5 135.5h0M152.3 132.8h0M156.7 193.2h0M159.3 177.7h0M157.6 113.3h0M104.0 175.7h0M126.3 79.9h0M106.6 136.4h0M125.1 116.5h0M138.5 117.7h0M144.9 164.5h0M129.1 114.6h0M85.9 77.3h0M97.4 84.2h0M132.6 97.2h0M156.8 113.8h0M91.4 129.9h0M161.2 204.8h0M134.7 164.7h0M110.4 92.9h0M89.5 107.6h0M123.6 141.7h0M117.0 94.9h0M112.4 185.9h0M149.3 122.8h0M113.1 115.0h0M96.1 163.7h0M102.0 73.0h0M117.1 152.4h0M162.1 148.5h0M116.2 161.1h0M140.3 145.8h0M109.2 91.8h0M87.6 156.8h0M84.5 117.0h0M86.9 69.5h0M113.8 181.9h0M146.6 139.7h0M132.2 191.4h0M79.4 86.1h0M160.1 108.9h0M142.3 140.1h0M160.9 108.0h0M152.7 194.5h0M155.7 135.8h0M104.5 184.3h0M154.4 107.6h0M115.3 133.0h0M79.7 139.5h0M138.7 126.3h0M142.4 203.9h0M90.2 113.1h0M124.4 105.6h0M101.8 74.0h0M173.6 132.7h0M84.8 110.2h0M114.6 89.2h0M91.9 162.5h0M171.5 101.1h0M100.6 111.3h0M114.9 109.7h0M153.1 118.8h0M74.3 136.8h0M162.5 173.9h0M128.3 78.7h0M111.3 71.9h0M86.2 151.9h0M106.9 135.5h0M160.4 185.8h0M153.7 100.6h0M146.0 172.3h0M121.6 122.7h0M159.5 157.8h0M110.9 164.1h0M138.6 141.4h0M172.6 138.8h0M154.5 129.7h0M128.8 200.4h0M109.6 65.3h0M161.1 194.4h0M156.9 187.6h0M140.5 174.1h0M71.4 89.7h0M79.5 124.6h0M135.3 184.0h0M139.8 203.1h0M80.1 116.1h0M129.6 155.3h0M154.9 193.1h0M125.6 85.4h0M152.3 202.4h0M107.7 173.3h0M120.1 119.3h0M127.7 188.9h0M109.4 125.8h0M140.3 152.0h0M94.0 166.1h0M107.0 82.2h0M135.8 121.2h0M172.4 102.0h0M144.6 131.5h0M115.3 144.1h0M117.8 85.0h0M122.3 151.2h0M159.6 124.4h0M119.0 71.7h0M116.7 57.9h0M77.2 74.4h0M119.6 135.2h0M163.6 142.4h0M167.0 161.6h0M123.6 158.8h0M145.8 188.5h0M138.0 145.1h0M123.6 110.4h0M91.7 102.4h0M108.3 136.0h0M107.5 99.9h0M154.1 215.6h0M84.9 70.7h0M163.2 120.3h0M142.1 122.0h0M131.1 142.7h0M84.6 107.4h0M142.8 155.8h0M85.1 134.3h0M163.7 126.9h0M87.0 149.0h0M137.8 175.7h0M94.5 83.1h0M103.0 77.5h0M104.4 81.0h0M70.8 119.7h0M114.9 140.6h0M164.9 125.7h0M123.9 182.4h0M89.5 162.9h0M126.1 163.7h0M172.7 141.6h0M154.4 132.7h0M75.6 114.0h0M112.2 106.6h0M102.5 123.1h0M129.3 179.0h0M155.4 124.8h0M113.8 79.9h0M117.5 140.0h0M168.1 117.3h0M104.5 150.2h0M117.7 94.7h0M167.2 117.2h0M117.6 156.9h0M109.6 194.1h0M79.0 145.3h0M120.9 196.2h0M159.6 163.8h0M135.7 111.5h0M170.1 135.2h0M178.2 109.2h0M125.7 185.2h0M89.7 151.3h0M92.8 110.6h0M130.9 176.5h0M90.7 98.4h0M166.8 106.2h0M126.7 73.1h0M165.4 108.8h0M144.6 108.7h0M138.5 125.4h0M143.6 162.5h0M167.8 99.2h0M112.7 82.9h0M146.4 158.1h0M107.7 173.1h0M142.7 205.4h0M127.5 137.6h0M129.6 110.9h0M123.5 167.5h0M78.2 121.0h0M73.6 78.5h0M118.5 194.8h0M118.2 75.8h0M78.6 134.0h0M103.8 138.9h0M137.8 176.8h0M72.4 102.0h0M168.2 116.6h0M88.7 157.1h0M109.4 142.5h0M114.7 57.4h0M127.5 109.3h0M110.3 131.6h0M109.9 185.8h0M150.8 99.0h0M105.2 64.7h0M151.9 149.7h0M113.8 76.5h0M90.8 66.0h0M123.9 165.2h0M115.3 142.2h0" fill="none" stroke="#8fcfd8" stroke-width="0.8" stroke-linecap="square" opacity="0.35"/>
</g>
<text x="73.70" y="104.90" font-size="14" text-anchor="middle" fill="#231f20">1</text>
<text x="109.90" y="72.80" font-size="14" text-anchor="middle" fill="#231f20">7</text>
<text x="106.30" y="118.90" font-size="14" text-anchor="middle" fill="#231f20">4</text>
<text x="162.50" y="112.70" font-size="14" text-anchor="middle" fill="#231f20">8</text>
<text x="36.30" y="127.80" font-size="14" text-anchor="middle" fill="#231f20">9</text>
<text x="99.20" y="155.30" font-size="14" text-anchor="middle" fill="#231f20">3</text>
<text x="121.70" y="153.40" font-size="14" text-anchor="middle" fill="#231f20">2</text>
<text x="149.20" y="166.20" font-size="14" text-anchor="middle" fill="#231f20">6</text>
<text x="112.70" y="175.70" font-size="14" text-anchor="middle" fill="#231f20">5</text>
<text x="148.70" y="206.60" font-size="14" text-anchor="middle" fill="#231f20">10</text>
<text x="154.00" y="219.20" font-size="14" text-anchor="end" fill="#231f20" style="font-style:italic;">Chodl</text>
<line x1="19.50" y1="224.30" x2="19.50" y2="201.80" stroke="#231f20" stroke-width="1.9"/>
<line x1="18.60" y1="223.40" x2="40.30" y2="223.40" stroke="#231f20" stroke-width="1.9"/>
<path d="M15.40 203.80 L19.50 196.80 L23.60 203.80 Z" fill="#231f20" stroke="none" stroke-width="1"/>
<path d="M38.30 219.30 L45.30 223.40 L38.30 227.50 Z" fill="#231f20" stroke="none" stroke-width="1"/>
<text x="19.20" y="241.30" font-size="13.6" text-anchor="start" fill="#231f20">UMAP 1</text>
<text x="10.80" y="223.90" font-size="13.6" text-anchor="start" fill="#231f20" transform="rotate(-90 10.8 223.9)">UMAP 2</text>
<text transform="translate(210.50 15.30) scale(1.07 1)" font-size="21.0" fill="#1a1718" style="font-weight:bold;">b</text>
<text x="244.00" y="23.00" font-size="14" text-anchor="start" fill="#231f20">SSTGA cell types</text>
<text x="235.29" y="41.90" font-size="14" text-anchor="middle" fill="#231f20">1</text>
<text x="249.25" y="41.90" font-size="14" text-anchor="middle" fill="#231f20">2</text>
<text x="263.23" y="41.90" font-size="14" text-anchor="middle" fill="#231f20">3</text>
<text x="277.19" y="41.90" font-size="14" text-anchor="middle" fill="#231f20">4</text>
<text x="291.17" y="41.90" font-size="14" text-anchor="middle" fill="#231f20">5</text>
<text x="305.13" y="41.90" font-size="14" text-anchor="middle" fill="#231f20">6</text>
<text x="319.11" y="41.90" font-size="14" text-anchor="middle" fill="#231f20">7</text>
<text x="333.07" y="41.90" font-size="14" text-anchor="middle" fill="#231f20">8</text>
<text x="347.05" y="41.90" font-size="14" text-anchor="middle" fill="#231f20">9</text>
<text x="361.01" y="41.90" font-size="14" text-anchor="middle" fill="#231f20">10</text>
<g shape-rendering="crispEdges">
<path fill="#2d708e" d="M228.3 45.50h14.02v1.56h-14.02zM228.3 54.55h14.02v1.56h-14.02zM228.3 69.62h14.02v1.56h-14.02zM228.3 184.20h14.02v1.56h-14.02zM228.3 190.23h14.02v1.56h-14.02zM256.2 50.02h14.02v1.56h-14.02zM270.2 157.06h14.02v1.56h-14.02zM270.2 203.80h14.02v1.56h-14.02zM284.2 62.08h14.02v1.56h-14.02zM284.2 68.11h14.02v1.56h-14.02zM284.2 137.47h14.02v1.56h-14.02zM284.2 193.25h14.02v1.56h-14.02zM298.1 98.27h14.02v1.56h-14.02zM298.1 119.37h14.02v1.56h-14.02zM298.1 187.22h14.02v1.56h-14.02zM298.1 200.79h14.02v1.56h-14.02zM312.1 68.11h14.02v1.56h-14.02zM312.1 120.88h14.02v1.56h-14.02zM312.1 181.19h14.02v1.56h-14.02zM326.1 214.35h14.02v1.56h-14.02zM340.1 157.06h14.02v1.56h-14.02zM340.1 170.63h14.02v1.56h-14.02zM340.1 172.14h14.02v1.56h-14.02zM340.1 193.25h14.02v1.56h-14.02zM354.0 163.09h14.02v1.56h-14.02zM354.0 176.66h14.02v1.56h-14.02z"/>
<path fill="#471365" d="M228.3 47.01h14.02v1.56h-14.02zM242.3 110.33h14.02v1.56h-14.02zM256.2 75.65h14.02v1.56h-14.02zM256.2 140.48h14.02v1.56h-14.02zM270.2 154.05h14.02v1.56h-14.02zM284.2 208.32h14.02v1.56h-14.02zM298.1 95.25h14.02v1.56h-14.02zM312.1 167.62h14.02v1.56h-14.02zM326.1 154.05h14.02v1.56h-14.02zM340.1 126.91h14.02v1.56h-14.02zM354.0 74.14h14.02v1.56h-14.02zM354.0 126.91h14.02v1.56h-14.02zM354.0 154.05h14.02v1.56h-14.02z"/>
<path fill="#472f7d" d="M228.3 48.52h14.02v1.56h-14.02zM228.3 72.64h14.02v1.56h-14.02zM228.3 77.16h14.02v1.56h-14.02zM228.3 80.18h14.02v1.56h-14.02zM228.3 99.77h14.02v1.56h-14.02zM242.3 47.01h14.02v1.56h-14.02zM242.3 77.16h14.02v1.56h-14.02zM242.3 83.19h14.02v1.56h-14.02zM242.3 90.73h14.02v1.56h-14.02zM242.3 99.77h14.02v1.56h-14.02zM242.3 126.91h14.02v1.56h-14.02zM242.3 129.93h14.02v1.56h-14.02zM242.3 167.62h14.02v1.56h-14.02zM256.2 65.10h14.02v1.56h-14.02zM256.2 74.14h14.02v1.56h-14.02zM256.2 80.18h14.02v1.56h-14.02zM256.2 84.70h14.02v1.56h-14.02zM256.2 90.73h14.02v1.56h-14.02zM256.2 102.79h14.02v1.56h-14.02zM256.2 105.81h14.02v1.56h-14.02zM256.2 110.33h14.02v1.56h-14.02zM256.2 125.40h14.02v1.56h-14.02zM256.2 135.96h14.02v1.56h-14.02zM256.2 141.99h14.02v1.56h-14.02zM270.2 84.70h14.02v1.56h-14.02zM270.2 108.82h14.02v1.56h-14.02zM270.2 126.91h14.02v1.56h-14.02zM270.2 135.96h14.02v1.56h-14.02zM270.2 208.32h14.02v1.56h-14.02zM284.2 77.16h14.02v1.56h-14.02zM284.2 101.28h14.02v1.56h-14.02zM298.1 101.28h14.02v1.56h-14.02zM298.1 102.79h14.02v1.56h-14.02zM298.1 110.33h14.02v1.56h-14.02zM298.1 129.93h14.02v1.56h-14.02zM298.1 208.32h14.02v1.56h-14.02zM312.1 63.59h14.02v1.56h-14.02zM312.1 72.64h14.02v1.56h-14.02zM312.1 110.33h14.02v1.56h-14.02zM312.1 114.85h14.02v1.56h-14.02zM326.1 63.59h14.02v1.56h-14.02zM326.1 96.76h14.02v1.56h-14.02zM326.1 102.79h14.02v1.56h-14.02zM326.1 104.30h14.02v1.56h-14.02zM326.1 132.94h14.02v1.56h-14.02zM340.1 114.85h14.02v1.56h-14.02zM340.1 151.03h14.02v1.56h-14.02zM340.1 154.05h14.02v1.56h-14.02zM340.1 208.32h14.02v1.56h-14.02zM354.0 78.67h14.02v1.56h-14.02zM354.0 131.43h14.02v1.56h-14.02zM354.0 141.99h14.02v1.56h-14.02z"/>
<path fill="#2a788e" d="M228.3 50.02h14.02v1.56h-14.02zM228.3 149.53h14.02v1.56h-14.02zM228.3 160.08h14.02v1.56h-14.02zM228.3 164.60h14.02v1.56h-14.02zM242.3 45.50h14.02v1.56h-14.02zM242.3 50.02h14.02v1.56h-14.02zM242.3 69.62h14.02v1.56h-14.02zM242.3 172.14h14.02v1.56h-14.02zM242.3 184.20h14.02v1.56h-14.02zM256.2 53.04h14.02v1.56h-14.02zM256.2 68.11h14.02v1.56h-14.02zM256.2 175.16h14.02v1.56h-14.02zM270.2 185.71h14.02v1.56h-14.02zM270.2 190.23h14.02v1.56h-14.02zM270.2 193.25h14.02v1.56h-14.02zM270.2 202.29h14.02v1.56h-14.02zM270.2 214.35h14.02v1.56h-14.02zM270.2 220.38h14.02v1.56h-14.02zM284.2 53.04h14.02v1.56h-14.02zM284.2 190.23h14.02v1.56h-14.02zM298.1 54.55h14.02v1.56h-14.02zM298.1 203.80h14.02v1.56h-14.02zM298.1 211.34h14.02v1.56h-14.02zM312.1 166.11h14.02v1.56h-14.02zM312.1 190.23h14.02v1.56h-14.02zM312.1 200.79h14.02v1.56h-14.02zM326.1 53.04h14.02v1.56h-14.02zM326.1 155.56h14.02v1.56h-14.02zM326.1 181.19h14.02v1.56h-14.02zM326.1 200.79h14.02v1.56h-14.02zM326.1 218.88h14.02v1.56h-14.02zM340.1 211.34h14.02v1.56h-14.02zM354.0 179.68h14.02v1.56h-14.02zM354.0 199.28h14.02v1.56h-14.02z"/>
<path fill="#3b528b" d="M228.3 51.53h14.02v1.56h-14.02zM228.3 57.56h14.02v1.56h-14.02zM228.3 78.67h14.02v1.56h-14.02zM228.3 122.39h14.02v1.56h-14.02zM228.3 194.76h14.02v1.56h-14.02zM242.3 59.07h14.02v1.56h-14.02zM242.3 108.82h14.02v1.56h-14.02zM242.3 113.34h14.02v1.56h-14.02zM242.3 131.43h14.02v1.56h-14.02zM242.3 138.97h14.02v1.56h-14.02zM242.3 141.99h14.02v1.56h-14.02zM256.2 59.07h14.02v1.56h-14.02zM256.2 92.24h14.02v1.56h-14.02zM256.2 114.85h14.02v1.56h-14.02zM256.2 178.17h14.02v1.56h-14.02zM270.2 90.73h14.02v1.56h-14.02zM270.2 98.27h14.02v1.56h-14.02zM270.2 119.37h14.02v1.56h-14.02zM270.2 132.94h14.02v1.56h-14.02zM284.2 54.55h14.02v1.56h-14.02zM284.2 59.07h14.02v1.56h-14.02zM284.2 90.73h14.02v1.56h-14.02zM284.2 128.42h14.02v1.56h-14.02zM284.2 134.45h14.02v1.56h-14.02zM284.2 155.56h14.02v1.56h-14.02zM284.2 212.85h14.02v1.56h-14.02zM298.1 71.13h14.02v1.56h-14.02zM298.1 78.67h14.02v1.56h-14.02zM298.1 87.71h14.02v1.56h-14.02zM298.1 117.87h14.02v1.56h-14.02zM298.1 141.99h14.02v1.56h-14.02zM298.1 145.00h14.02v1.56h-14.02zM298.1 148.02h14.02v1.56h-14.02zM312.1 59.07h14.02v1.56h-14.02zM312.1 60.58h14.02v1.56h-14.02zM312.1 128.42h14.02v1.56h-14.02zM326.1 78.67h14.02v1.56h-14.02zM326.1 98.27h14.02v1.56h-14.02zM326.1 143.50h14.02v1.56h-14.02zM340.1 66.61h14.02v1.56h-14.02zM340.1 113.34h14.02v1.56h-14.02zM340.1 119.37h14.02v1.56h-14.02zM340.1 128.42h14.02v1.56h-14.02zM340.1 138.97h14.02v1.56h-14.02zM354.0 98.27h14.02v1.56h-14.02zM354.0 132.94h14.02v1.56h-14.02zM354.0 134.45h14.02v1.56h-14.02zM354.0 149.53h14.02v1.56h-14.02z"/>
<path fill="#32648e" d="M228.3 53.04h14.02v1.56h-14.02zM228.3 56.05h14.02v1.56h-14.02zM228.3 132.94h14.02v1.56h-14.02zM242.3 57.56h14.02v1.56h-14.02zM242.3 68.11h14.02v1.56h-14.02zM242.3 134.45h14.02v1.56h-14.02zM242.3 146.51h14.02v1.56h-14.02zM242.3 200.79h14.02v1.56h-14.02zM256.2 56.05h14.02v1.56h-14.02zM256.2 57.56h14.02v1.56h-14.02zM256.2 122.39h14.02v1.56h-14.02zM256.2 212.85h14.02v1.56h-14.02zM270.2 50.02h14.02v1.56h-14.02zM270.2 93.74h14.02v1.56h-14.02zM270.2 122.39h14.02v1.56h-14.02zM270.2 152.54h14.02v1.56h-14.02zM270.2 218.88h14.02v1.56h-14.02zM284.2 51.53h14.02v1.56h-14.02zM284.2 65.10h14.02v1.56h-14.02zM284.2 122.39h14.02v1.56h-14.02zM284.2 146.51h14.02v1.56h-14.02zM284.2 220.38h14.02v1.56h-14.02zM298.1 59.07h14.02v1.56h-14.02zM298.1 190.23h14.02v1.56h-14.02zM312.1 51.53h14.02v1.56h-14.02zM312.1 194.76h14.02v1.56h-14.02zM326.1 57.56h14.02v1.56h-14.02zM326.1 62.08h14.02v1.56h-14.02zM326.1 93.74h14.02v1.56h-14.02zM326.1 134.45h14.02v1.56h-14.02zM326.1 152.54h14.02v1.56h-14.02zM340.1 146.51h14.02v1.56h-14.02zM340.1 220.38h14.02v1.56h-14.02zM354.0 166.11h14.02v1.56h-14.02zM354.0 175.16h14.02v1.56h-14.02zM354.0 184.20h14.02v1.56h-14.02z"/>
<path fill="#443983" d="M228.3 59.07h14.02v1.56h-14.02zM228.3 65.10h14.02v1.56h-14.02zM228.3 89.22h14.02v1.56h-14.02zM228.3 96.76h14.02v1.56h-14.02zM228.3 110.33h14.02v1.56h-14.02zM228.3 114.85h14.02v1.56h-14.02zM228.3 140.48h14.02v1.56h-14.02zM242.3 89.22h14.02v1.56h-14.02zM242.3 92.24h14.02v1.56h-14.02zM242.3 101.28h14.02v1.56h-14.02zM256.2 71.13h14.02v1.56h-14.02zM256.2 77.16h14.02v1.56h-14.02zM256.2 78.67h14.02v1.56h-14.02zM256.2 87.71h14.02v1.56h-14.02zM256.2 107.31h14.02v1.56h-14.02zM270.2 47.01h14.02v1.56h-14.02zM270.2 72.64h14.02v1.56h-14.02zM270.2 107.31h14.02v1.56h-14.02zM270.2 113.34h14.02v1.56h-14.02zM270.2 123.90h14.02v1.56h-14.02zM270.2 134.45h14.02v1.56h-14.02zM270.2 138.97h14.02v1.56h-14.02zM284.2 47.01h14.02v1.56h-14.02zM284.2 84.70h14.02v1.56h-14.02zM284.2 110.33h14.02v1.56h-14.02zM284.2 114.85h14.02v1.56h-14.02zM284.2 129.93h14.02v1.56h-14.02zM284.2 178.17h14.02v1.56h-14.02zM298.1 74.14h14.02v1.56h-14.02zM298.1 75.65h14.02v1.56h-14.02zM298.1 99.77h14.02v1.56h-14.02zM298.1 138.97h14.02v1.56h-14.02zM312.1 154.05h14.02v1.56h-14.02zM326.1 84.70h14.02v1.56h-14.02zM326.1 87.71h14.02v1.56h-14.02zM326.1 141.99h14.02v1.56h-14.02zM340.1 132.94h14.02v1.56h-14.02zM340.1 140.48h14.02v1.56h-14.02zM354.0 71.13h14.02v1.56h-14.02zM354.0 90.73h14.02v1.56h-14.02z"/>
<path fill="#433e85" d="M228.3 60.58h14.02v1.56h-14.02zM228.3 134.45h14.02v1.56h-14.02zM242.3 78.67h14.02v1.56h-14.02zM242.3 105.81h14.02v1.56h-14.02zM242.3 123.90h14.02v1.56h-14.02zM242.3 128.42h14.02v1.56h-14.02zM256.2 104.30h14.02v1.56h-14.02zM256.2 119.37h14.02v1.56h-14.02zM256.2 143.50h14.02v1.56h-14.02zM256.2 167.62h14.02v1.56h-14.02zM256.2 208.32h14.02v1.56h-14.02zM270.2 63.59h14.02v1.56h-14.02zM270.2 78.67h14.02v1.56h-14.02zM270.2 104.30h14.02v1.56h-14.02zM284.2 48.52h14.02v1.56h-14.02zM284.2 72.64h14.02v1.56h-14.02zM284.2 81.68h14.02v1.56h-14.02zM284.2 99.77h14.02v1.56h-14.02zM284.2 102.79h14.02v1.56h-14.02zM284.2 104.30h14.02v1.56h-14.02zM284.2 123.90h14.02v1.56h-14.02zM284.2 126.91h14.02v1.56h-14.02zM284.2 132.94h14.02v1.56h-14.02zM298.1 72.64h14.02v1.56h-14.02zM298.1 93.74h14.02v1.56h-14.02zM298.1 107.31h14.02v1.56h-14.02zM298.1 108.82h14.02v1.56h-14.02zM298.1 128.42h14.02v1.56h-14.02zM298.1 131.43h14.02v1.56h-14.02zM298.1 167.62h14.02v1.56h-14.02zM312.1 56.05h14.02v1.56h-14.02zM312.1 65.10h14.02v1.56h-14.02zM312.1 80.18h14.02v1.56h-14.02zM312.1 101.28h14.02v1.56h-14.02zM312.1 113.34h14.02v1.56h-14.02zM312.1 119.37h14.02v1.56h-14.02zM326.1 51.53h14.02v1.56h-14.02zM326.1 77.16h14.02v1.56h-14.02zM326.1 80.18h14.02v1.56h-14.02zM326.1 92.24h14.02v1.56h-14.02zM326.1 99.77h14.02v1.56h-14.02zM326.1 105.81h14.02v1.56h-14.02zM326.1 108.82h14.02v1.56h-14.02zM326.1 145.00h14.02v1.56h-14.02zM326.1 167.62h14.02v1.56h-14.02zM326.1 208.32h14.02v1.56h-14.02zM340.1 48.52h14.02v1.56h-14.02zM340.1 65.10h14.02v1.56h-14.02zM340.1 117.87h14.02v1.56h-14.02zM340.1 125.40h14.02v1.56h-14.02zM340.1 129.93h14.02v1.56h-14.02zM340.1 178.17h14.02v1.56h-14.02zM354.0 104.30h14.02v1.56h-14.02zM354.0 107.31h14.02v1.56h-14.02zM354.0 113.34h14.02v1.56h-14.02zM354.0 114.85h14.02v1.56h-14.02zM354.0 119.37h14.02v1.56h-14.02zM354.0 128.42h14.02v1.56h-14.02zM354.0 164.60h14.02v1.56h-14.02z"/>
<path fill="#375b8d" d="M228.3 62.08h14.02v1.56h-14.02zM228.3 92.24h14.02v1.56h-14.02zM228.3 152.54h14.02v1.56h-14.02zM242.3 62.08h14.02v1.56h-14.02zM242.3 65.10h14.02v1.56h-14.02zM242.3 135.96h14.02v1.56h-14.02zM256.2 60.58h14.02v1.56h-14.02zM256.2 120.88h14.02v1.56h-14.02zM256.2 128.42h14.02v1.56h-14.02zM256.2 164.60h14.02v1.56h-14.02zM256.2 202.29h14.02v1.56h-14.02zM270.2 137.47h14.02v1.56h-14.02zM270.2 148.02h14.02v1.56h-14.02zM270.2 187.22h14.02v1.56h-14.02zM284.2 98.27h14.02v1.56h-14.02zM284.2 125.40h14.02v1.56h-14.02zM284.2 138.97h14.02v1.56h-14.02zM284.2 141.99h14.02v1.56h-14.02zM284.2 143.50h14.02v1.56h-14.02zM284.2 145.00h14.02v1.56h-14.02zM298.1 66.61h14.02v1.56h-14.02zM312.1 84.70h14.02v1.56h-14.02zM312.1 155.56h14.02v1.56h-14.02zM326.1 60.58h14.02v1.56h-14.02zM326.1 185.71h14.02v1.56h-14.02zM340.1 53.04h14.02v1.56h-14.02zM340.1 62.08h14.02v1.56h-14.02zM340.1 122.39h14.02v1.56h-14.02zM340.1 148.02h14.02v1.56h-14.02zM340.1 160.08h14.02v1.56h-14.02zM340.1 190.23h14.02v1.56h-14.02zM354.0 120.88h14.02v1.56h-14.02zM354.0 138.97h14.02v1.56h-14.02zM354.0 187.22h14.02v1.56h-14.02z"/>
<path fill="#414487" d="M228.3 63.59h14.02v1.56h-14.02zM228.3 74.14h14.02v1.56h-14.02zM228.3 87.71h14.02v1.56h-14.02zM228.3 90.73h14.02v1.56h-14.02zM228.3 104.30h14.02v1.56h-14.02zM228.3 107.31h14.02v1.56h-14.02zM228.3 108.82h14.02v1.56h-14.02zM228.3 123.90h14.02v1.56h-14.02zM228.3 125.40h14.02v1.56h-14.02zM228.3 141.99h14.02v1.56h-14.02zM228.3 151.03h14.02v1.56h-14.02zM242.3 125.40h14.02v1.56h-14.02zM242.3 185.71h14.02v1.56h-14.02zM256.2 99.77h14.02v1.56h-14.02zM256.2 131.43h14.02v1.56h-14.02zM270.2 74.14h14.02v1.56h-14.02zM270.2 105.81h14.02v1.56h-14.02zM270.2 116.36h14.02v1.56h-14.02zM270.2 128.42h14.02v1.56h-14.02zM270.2 129.93h14.02v1.56h-14.02zM270.2 131.43h14.02v1.56h-14.02zM270.2 140.48h14.02v1.56h-14.02zM270.2 141.99h14.02v1.56h-14.02zM284.2 71.13h14.02v1.56h-14.02zM284.2 131.43h14.02v1.56h-14.02zM284.2 151.03h14.02v1.56h-14.02zM298.1 65.10h14.02v1.56h-14.02zM298.1 90.73h14.02v1.56h-14.02zM298.1 104.30h14.02v1.56h-14.02zM298.1 114.85h14.02v1.56h-14.02zM298.1 125.40h14.02v1.56h-14.02zM298.1 143.50h14.02v1.56h-14.02zM312.1 77.16h14.02v1.56h-14.02zM312.1 90.73h14.02v1.56h-14.02zM312.1 102.79h14.02v1.56h-14.02zM312.1 104.30h14.02v1.56h-14.02zM312.1 116.36h14.02v1.56h-14.02zM312.1 129.93h14.02v1.56h-14.02zM326.1 56.05h14.02v1.56h-14.02zM326.1 90.73h14.02v1.56h-14.02zM326.1 135.96h14.02v1.56h-14.02zM340.1 60.58h14.02v1.56h-14.02zM340.1 63.59h14.02v1.56h-14.02zM354.0 111.84h14.02v1.56h-14.02zM354.0 212.85h14.02v1.56h-14.02zM354.0 214.35h14.02v1.56h-14.02z"/>
<path fill="#463480" d="M228.3 66.61h14.02v1.56h-14.02zM228.3 126.91h14.02v1.56h-14.02zM242.3 48.52h14.02v1.56h-14.02zM242.3 51.53h14.02v1.56h-14.02zM242.3 71.13h14.02v1.56h-14.02zM242.3 75.65h14.02v1.56h-14.02zM242.3 80.18h14.02v1.56h-14.02zM242.3 93.74h14.02v1.56h-14.02zM242.3 132.94h14.02v1.56h-14.02zM242.3 137.47h14.02v1.56h-14.02zM256.2 48.52h14.02v1.56h-14.02zM256.2 66.61h14.02v1.56h-14.02zM256.2 81.68h14.02v1.56h-14.02zM256.2 101.28h14.02v1.56h-14.02zM256.2 138.97h14.02v1.56h-14.02zM270.2 86.21h14.02v1.56h-14.02zM284.2 75.65h14.02v1.56h-14.02zM284.2 96.76h14.02v1.56h-14.02zM284.2 117.87h14.02v1.56h-14.02zM298.1 105.81h14.02v1.56h-14.02zM312.1 48.52h14.02v1.56h-14.02zM312.1 107.31h14.02v1.56h-14.02zM312.1 117.87h14.02v1.56h-14.02zM326.1 86.21h14.02v1.56h-14.02zM326.1 101.28h14.02v1.56h-14.02zM340.1 47.01h14.02v1.56h-14.02zM340.1 123.90h14.02v1.56h-14.02zM354.0 80.18h14.02v1.56h-14.02zM354.0 81.68h14.02v1.56h-14.02zM354.0 84.70h14.02v1.56h-14.02zM354.0 129.93h14.02v1.56h-14.02zM354.0 135.96h14.02v1.56h-14.02z"/>
<path fill="#2b748e" d="M228.3 68.11h14.02v1.56h-14.02zM228.3 179.68h14.02v1.56h-14.02zM242.3 212.85h14.02v1.56h-14.02zM256.2 155.56h14.02v1.56h-14.02zM256.2 220.38h14.02v1.56h-14.02zM270.2 68.11h14.02v1.56h-14.02zM270.2 164.60h14.02v1.56h-14.02zM284.2 148.02h14.02v1.56h-14.02zM298.1 57.56h14.02v1.56h-14.02zM298.1 160.08h14.02v1.56h-14.02zM298.1 166.11h14.02v1.56h-14.02zM298.1 185.71h14.02v1.56h-14.02zM298.1 220.38h14.02v1.56h-14.02zM312.1 50.02h14.02v1.56h-14.02zM312.1 53.04h14.02v1.56h-14.02zM312.1 122.39h14.02v1.56h-14.02zM312.1 164.60h14.02v1.56h-14.02zM312.1 185.71h14.02v1.56h-14.02zM312.1 203.80h14.02v1.56h-14.02zM312.1 215.86h14.02v1.56h-14.02zM312.1 220.38h14.02v1.56h-14.02zM326.1 50.02h14.02v1.56h-14.02zM326.1 137.47h14.02v1.56h-14.02zM326.1 164.60h14.02v1.56h-14.02zM326.1 203.80h14.02v1.56h-14.02zM340.1 45.50h14.02v1.56h-14.02zM340.1 155.56h14.02v1.56h-14.02zM340.1 175.16h14.02v1.56h-14.02zM354.0 170.63h14.02v1.56h-14.02zM354.0 182.69h14.02v1.56h-14.02zM354.0 193.25h14.02v1.56h-14.02zM354.0 209.83h14.02v1.56h-14.02zM354.0 211.34h14.02v1.56h-14.02zM354.0 221.89h14.02v1.56h-14.02z"/>
<path fill="#482475" d="M228.3 71.13h14.02v1.56h-14.02zM228.3 116.36h14.02v1.56h-14.02zM228.3 167.62h14.02v1.56h-14.02zM242.3 74.14h14.02v1.56h-14.02zM242.3 86.21h14.02v1.56h-14.02zM242.3 116.36h14.02v1.56h-14.02zM256.2 126.91h14.02v1.56h-14.02zM270.2 75.65h14.02v1.56h-14.02zM270.2 102.79h14.02v1.56h-14.02zM270.2 110.33h14.02v1.56h-14.02zM284.2 86.21h14.02v1.56h-14.02zM284.2 116.36h14.02v1.56h-14.02zM298.1 81.68h14.02v1.56h-14.02zM298.1 86.21h14.02v1.56h-14.02zM298.1 96.76h14.02v1.56h-14.02zM312.1 47.01h14.02v1.56h-14.02zM312.1 66.61h14.02v1.56h-14.02zM312.1 74.14h14.02v1.56h-14.02zM312.1 75.65h14.02v1.56h-14.02zM312.1 123.90h14.02v1.56h-14.02zM312.1 208.32h14.02v1.56h-14.02zM326.1 65.10h14.02v1.56h-14.02zM326.1 107.31h14.02v1.56h-14.02zM326.1 131.43h14.02v1.56h-14.02zM340.1 185.71h14.02v1.56h-14.02zM354.0 75.65h14.02v1.56h-14.02zM354.0 96.76h14.02v1.56h-14.02zM354.0 108.82h14.02v1.56h-14.02zM354.0 116.36h14.02v1.56h-14.02zM354.0 123.90h14.02v1.56h-14.02zM354.0 125.40h14.02v1.56h-14.02zM354.0 145.00h14.02v1.56h-14.02z"/>
<path fill="#482979" d="M228.3 75.65h14.02v1.56h-14.02zM228.3 86.21h14.02v1.56h-14.02zM228.3 101.28h14.02v1.56h-14.02zM228.3 129.93h14.02v1.56h-14.02zM242.3 66.61h14.02v1.56h-14.02zM242.3 81.68h14.02v1.56h-14.02zM242.3 102.79h14.02v1.56h-14.02zM242.3 140.48h14.02v1.56h-14.02zM256.2 117.87h14.02v1.56h-14.02zM270.2 66.61h14.02v1.56h-14.02zM270.2 80.18h14.02v1.56h-14.02zM270.2 101.28h14.02v1.56h-14.02zM270.2 145.00h14.02v1.56h-14.02zM284.2 78.67h14.02v1.56h-14.02zM284.2 87.71h14.02v1.56h-14.02zM298.1 77.16h14.02v1.56h-14.02zM298.1 80.18h14.02v1.56h-14.02zM298.1 116.36h14.02v1.56h-14.02zM298.1 123.90h14.02v1.56h-14.02zM298.1 135.96h14.02v1.56h-14.02zM312.1 87.71h14.02v1.56h-14.02zM312.1 93.74h14.02v1.56h-14.02zM312.1 125.40h14.02v1.56h-14.02zM326.1 48.52h14.02v1.56h-14.02zM326.1 66.61h14.02v1.56h-14.02zM326.1 81.68h14.02v1.56h-14.02zM326.1 151.03h14.02v1.56h-14.02zM340.1 110.33h14.02v1.56h-14.02zM340.1 116.36h14.02v1.56h-14.02zM354.0 87.71h14.02v1.56h-14.02zM354.0 99.77h14.02v1.56h-14.02zM354.0 105.81h14.02v1.56h-14.02zM354.0 151.03h14.02v1.56h-14.02zM354.0 185.71h14.02v1.56h-14.02z"/>
<path fill="#481f70" d="M228.3 81.68h14.02v1.56h-14.02zM242.3 154.05h14.02v1.56h-14.02zM256.2 95.25h14.02v1.56h-14.02zM256.2 116.36h14.02v1.56h-14.02zM270.2 65.10h14.02v1.56h-14.02zM284.2 135.96h14.02v1.56h-14.02zM284.2 154.05h14.02v1.56h-14.02zM312.1 126.91h14.02v1.56h-14.02zM326.1 72.64h14.02v1.56h-14.02zM326.1 75.65h14.02v1.56h-14.02zM354.0 89.22h14.02v1.56h-14.02zM354.0 101.28h14.02v1.56h-14.02zM354.0 102.79h14.02v1.56h-14.02zM354.0 110.33h14.02v1.56h-14.02zM354.0 117.87h14.02v1.56h-14.02z"/>
<path fill="#46075a" d="M228.3 83.19h14.02v1.56h-14.02zM228.3 95.25h14.02v1.56h-14.02zM242.3 95.25h14.02v1.56h-14.02zM256.2 72.64h14.02v1.56h-14.02zM256.2 96.76h14.02v1.56h-14.02zM270.2 83.19h14.02v1.56h-14.02zM270.2 95.25h14.02v1.56h-14.02zM270.2 96.76h14.02v1.56h-14.02zM284.2 83.19h14.02v1.56h-14.02zM298.1 83.19h14.02v1.56h-14.02zM312.1 83.19h14.02v1.56h-14.02zM312.1 95.25h14.02v1.56h-14.02zM312.1 96.76h14.02v1.56h-14.02zM326.1 47.01h14.02v1.56h-14.02zM326.1 83.19h14.02v1.56h-14.02zM326.1 95.25h14.02v1.56h-14.02zM354.0 83.19h14.02v1.56h-14.02zM354.0 95.25h14.02v1.56h-14.02zM354.0 167.62h14.02v1.56h-14.02zM354.0 194.76h14.02v1.56h-14.02z"/>
<path fill="#3f4889" d="M228.3 84.70h14.02v1.56h-14.02zM228.3 117.87h14.02v1.56h-14.02zM228.3 119.37h14.02v1.56h-14.02zM228.3 131.43h14.02v1.56h-14.02zM242.3 54.55h14.02v1.56h-14.02zM242.3 107.31h14.02v1.56h-14.02zM242.3 114.85h14.02v1.56h-14.02zM242.3 117.87h14.02v1.56h-14.02zM242.3 119.37h14.02v1.56h-14.02zM242.3 145.00h14.02v1.56h-14.02zM242.3 152.54h14.02v1.56h-14.02zM256.2 63.59h14.02v1.56h-14.02zM256.2 123.90h14.02v1.56h-14.02zM256.2 129.93h14.02v1.56h-14.02zM256.2 134.45h14.02v1.56h-14.02zM256.2 151.03h14.02v1.56h-14.02zM256.2 152.54h14.02v1.56h-14.02zM270.2 48.52h14.02v1.56h-14.02zM270.2 60.58h14.02v1.56h-14.02zM270.2 77.16h14.02v1.56h-14.02zM270.2 81.68h14.02v1.56h-14.02zM284.2 56.05h14.02v1.56h-14.02zM284.2 63.59h14.02v1.56h-14.02zM284.2 80.18h14.02v1.56h-14.02zM284.2 92.24h14.02v1.56h-14.02zM284.2 105.81h14.02v1.56h-14.02zM284.2 108.82h14.02v1.56h-14.02zM284.2 111.84h14.02v1.56h-14.02zM284.2 119.37h14.02v1.56h-14.02zM284.2 185.71h14.02v1.56h-14.02zM298.1 63.59h14.02v1.56h-14.02zM298.1 84.70h14.02v1.56h-14.02zM298.1 92.24h14.02v1.56h-14.02zM298.1 113.34h14.02v1.56h-14.02zM298.1 134.45h14.02v1.56h-14.02zM298.1 140.48h14.02v1.56h-14.02zM298.1 194.76h14.02v1.56h-14.02zM312.1 71.13h14.02v1.56h-14.02zM312.1 81.68h14.02v1.56h-14.02zM312.1 86.21h14.02v1.56h-14.02zM312.1 99.77h14.02v1.56h-14.02zM312.1 151.03h14.02v1.56h-14.02zM326.1 54.55h14.02v1.56h-14.02zM326.1 146.51h14.02v1.56h-14.02zM340.1 51.53h14.02v1.56h-14.02zM340.1 143.50h14.02v1.56h-14.02zM340.1 152.54h14.02v1.56h-14.02zM340.1 167.62h14.02v1.56h-14.02z"/>
<path fill="#3d4d8a" d="M228.3 93.74h14.02v1.56h-14.02zM228.3 102.79h14.02v1.56h-14.02zM228.3 111.84h14.02v1.56h-14.02zM228.3 135.96h14.02v1.56h-14.02zM228.3 138.97h14.02v1.56h-14.02zM228.3 143.50h14.02v1.56h-14.02zM228.3 146.51h14.02v1.56h-14.02zM228.3 148.02h14.02v1.56h-14.02zM228.3 178.17h14.02v1.56h-14.02zM242.3 56.05h14.02v1.56h-14.02zM242.3 60.58h14.02v1.56h-14.02zM242.3 63.59h14.02v1.56h-14.02zM242.3 98.27h14.02v1.56h-14.02zM242.3 120.88h14.02v1.56h-14.02zM242.3 143.50h14.02v1.56h-14.02zM242.3 151.03h14.02v1.56h-14.02zM242.3 208.32h14.02v1.56h-14.02zM256.2 54.55h14.02v1.56h-14.02zM256.2 89.22h14.02v1.56h-14.02zM256.2 113.34h14.02v1.56h-14.02zM256.2 145.00h14.02v1.56h-14.02zM256.2 194.76h14.02v1.56h-14.02zM270.2 59.07h14.02v1.56h-14.02zM270.2 87.71h14.02v1.56h-14.02zM270.2 89.22h14.02v1.56h-14.02zM270.2 117.87h14.02v1.56h-14.02zM270.2 125.40h14.02v1.56h-14.02zM270.2 143.50h14.02v1.56h-14.02zM270.2 149.53h14.02v1.56h-14.02zM270.2 151.03h14.02v1.56h-14.02zM270.2 194.76h14.02v1.56h-14.02zM284.2 66.61h14.02v1.56h-14.02zM284.2 107.31h14.02v1.56h-14.02zM298.1 47.01h14.02v1.56h-14.02zM298.1 89.22h14.02v1.56h-14.02zM298.1 132.94h14.02v1.56h-14.02zM298.1 146.51h14.02v1.56h-14.02zM298.1 178.17h14.02v1.56h-14.02zM312.1 57.56h14.02v1.56h-14.02zM312.1 89.22h14.02v1.56h-14.02zM312.1 178.17h14.02v1.56h-14.02zM326.1 71.13h14.02v1.56h-14.02zM326.1 89.22h14.02v1.56h-14.02zM326.1 138.97h14.02v1.56h-14.02zM326.1 148.02h14.02v1.56h-14.02zM326.1 178.17h14.02v1.56h-14.02zM340.1 134.45h14.02v1.56h-14.02zM340.1 194.76h14.02v1.56h-14.02zM354.0 93.74h14.02v1.56h-14.02zM354.0 146.51h14.02v1.56h-14.02zM354.0 148.02h14.02v1.56h-14.02zM354.0 152.54h14.02v1.56h-14.02zM354.0 172.14h14.02v1.56h-14.02zM354.0 218.88h14.02v1.56h-14.02z"/>
<path fill="#39568c" d="M228.3 98.27h14.02v1.56h-14.02zM228.3 113.34h14.02v1.56h-14.02zM228.3 120.88h14.02v1.56h-14.02zM228.3 128.42h14.02v1.56h-14.02zM228.3 137.47h14.02v1.56h-14.02zM228.3 145.00h14.02v1.56h-14.02zM242.3 84.70h14.02v1.56h-14.02zM242.3 111.84h14.02v1.56h-14.02zM242.3 178.17h14.02v1.56h-14.02zM256.2 93.74h14.02v1.56h-14.02zM256.2 98.27h14.02v1.56h-14.02zM256.2 108.82h14.02v1.56h-14.02zM256.2 111.84h14.02v1.56h-14.02zM256.2 132.94h14.02v1.56h-14.02zM256.2 137.47h14.02v1.56h-14.02zM256.2 203.80h14.02v1.56h-14.02zM270.2 56.05h14.02v1.56h-14.02zM270.2 92.24h14.02v1.56h-14.02zM270.2 155.56h14.02v1.56h-14.02zM270.2 200.79h14.02v1.56h-14.02zM284.2 50.02h14.02v1.56h-14.02zM284.2 60.58h14.02v1.56h-14.02zM284.2 89.22h14.02v1.56h-14.02zM284.2 93.74h14.02v1.56h-14.02zM284.2 113.34h14.02v1.56h-14.02zM312.1 105.81h14.02v1.56h-14.02zM312.1 111.84h14.02v1.56h-14.02zM326.1 194.76h14.02v1.56h-14.02zM340.1 141.99h14.02v1.56h-14.02zM340.1 145.00h14.02v1.56h-14.02zM340.1 200.79h14.02v1.56h-14.02zM354.0 92.24h14.02v1.56h-14.02zM354.0 137.47h14.02v1.56h-14.02zM354.0 220.38h14.02v1.56h-14.02z"/>
<path fill="#2f6c8e" d="M228.3 105.81h14.02v1.56h-14.02zM228.3 157.06h14.02v1.56h-14.02zM242.3 122.39h14.02v1.56h-14.02zM270.2 111.84h14.02v1.56h-14.02zM270.2 181.19h14.02v1.56h-14.02zM284.2 200.79h14.02v1.56h-14.02zM284.2 203.80h14.02v1.56h-14.02zM298.1 202.29h14.02v1.56h-14.02zM312.1 98.27h14.02v1.56h-14.02zM312.1 218.88h14.02v1.56h-14.02zM326.1 45.50h14.02v1.56h-14.02zM326.1 184.20h14.02v1.56h-14.02zM326.1 190.23h14.02v1.56h-14.02zM340.1 149.53h14.02v1.56h-14.02zM340.1 181.19h14.02v1.56h-14.02zM354.0 122.39h14.02v1.56h-14.02zM354.0 157.06h14.02v1.56h-14.02z"/>
<path fill="#481a6c" d="M228.3 154.05h14.02v1.56h-14.02zM242.3 72.64h14.02v1.56h-14.02zM242.3 87.71h14.02v1.56h-14.02zM242.3 96.76h14.02v1.56h-14.02zM242.3 104.30h14.02v1.56h-14.02zM256.2 47.01h14.02v1.56h-14.02zM270.2 114.85h14.02v1.56h-14.02zM284.2 74.14h14.02v1.56h-14.02zM284.2 95.25h14.02v1.56h-14.02zM284.2 140.48h14.02v1.56h-14.02zM298.1 126.91h14.02v1.56h-14.02zM312.1 108.82h14.02v1.56h-14.02zM326.1 140.48h14.02v1.56h-14.02zM340.1 131.43h14.02v1.56h-14.02zM354.0 72.64h14.02v1.56h-14.02zM354.0 77.16h14.02v1.56h-14.02zM354.0 86.21h14.02v1.56h-14.02zM354.0 178.17h14.02v1.56h-14.02z"/>
<path fill="#355f8d" d="M228.3 155.56h14.02v1.56h-14.02zM242.3 148.02h14.02v1.56h-14.02zM242.3 164.60h14.02v1.56h-14.02zM256.2 51.53h14.02v1.56h-14.02zM256.2 146.51h14.02v1.56h-14.02zM256.2 149.53h14.02v1.56h-14.02zM256.2 190.23h14.02v1.56h-14.02zM256.2 218.88h14.02v1.56h-14.02zM270.2 54.55h14.02v1.56h-14.02zM270.2 71.13h14.02v1.56h-14.02zM270.2 120.88h14.02v1.56h-14.02zM270.2 146.51h14.02v1.56h-14.02zM270.2 212.85h14.02v1.56h-14.02zM284.2 120.88h14.02v1.56h-14.02zM284.2 149.53h14.02v1.56h-14.02zM284.2 194.76h14.02v1.56h-14.02zM298.1 60.58h14.02v1.56h-14.02zM298.1 137.47h14.02v1.56h-14.02zM298.1 212.85h14.02v1.56h-14.02zM312.1 78.67h14.02v1.56h-14.02zM312.1 92.24h14.02v1.56h-14.02zM312.1 152.54h14.02v1.56h-14.02zM312.1 212.85h14.02v1.56h-14.02zM326.1 149.53h14.02v1.56h-14.02zM326.1 212.85h14.02v1.56h-14.02zM340.1 50.02h14.02v1.56h-14.02zM340.1 54.55h14.02v1.56h-14.02zM340.1 56.05h14.02v1.56h-14.02zM340.1 59.07h14.02v1.56h-14.02zM340.1 68.11h14.02v1.56h-14.02zM340.1 137.47h14.02v1.56h-14.02zM340.1 212.85h14.02v1.56h-14.02zM340.1 215.86h14.02v1.56h-14.02zM354.0 143.50h14.02v1.56h-14.02zM354.0 155.56h14.02v1.56h-14.02zM354.0 160.08h14.02v1.56h-14.02zM354.0 190.23h14.02v1.56h-14.02zM354.0 200.79h14.02v1.56h-14.02zM354.0 203.80h14.02v1.56h-14.02z"/>
<path fill="#20a486" d="M228.3 158.57h14.02v1.56h-14.02zM228.3 169.13h14.02v1.56h-14.02zM228.3 173.65h14.02v1.56h-14.02zM242.3 169.13h14.02v1.56h-14.02zM242.3 206.82h14.02v1.56h-14.02zM298.1 182.69h14.02v1.56h-14.02zM326.1 161.59h14.02v1.56h-14.02zM326.1 209.83h14.02v1.56h-14.02zM326.1 221.89h14.02v1.56h-14.02zM340.1 93.74h14.02v1.56h-14.02zM354.0 205.31h14.02v1.56h-14.02z"/>
<path fill="#25848e" d="M228.3 161.59h14.02v1.56h-14.02zM228.3 172.14h14.02v1.56h-14.02zM228.3 187.22h14.02v1.56h-14.02zM242.3 220.38h14.02v1.56h-14.02zM256.2 157.06h14.02v1.56h-14.02zM256.2 172.14h14.02v1.56h-14.02zM256.2 200.79h14.02v1.56h-14.02zM270.2 53.04h14.02v1.56h-14.02zM270.2 69.62h14.02v1.56h-14.02zM284.2 181.19h14.02v1.56h-14.02zM284.2 187.22h14.02v1.56h-14.02zM284.2 206.82h14.02v1.56h-14.02zM298.1 170.63h14.02v1.56h-14.02zM298.1 181.19h14.02v1.56h-14.02zM298.1 214.35h14.02v1.56h-14.02zM326.1 68.11h14.02v1.56h-14.02zM326.1 176.66h14.02v1.56h-14.02zM326.1 187.22h14.02v1.56h-14.02zM340.1 164.60h14.02v1.56h-14.02zM340.1 187.22h14.02v1.56h-14.02z"/>
<path fill="#21918c" d="M228.3 163.09h14.02v1.56h-14.02zM270.2 45.50h14.02v1.56h-14.02zM270.2 161.59h14.02v1.56h-14.02zM270.2 221.89h14.02v1.56h-14.02zM284.2 157.06h14.02v1.56h-14.02zM284.2 170.63h14.02v1.56h-14.02zM298.1 149.53h14.02v1.56h-14.02zM298.1 179.68h14.02v1.56h-14.02zM298.1 184.20h14.02v1.56h-14.02zM298.1 193.25h14.02v1.56h-14.02zM298.1 209.83h14.02v1.56h-14.02zM312.1 163.09h14.02v1.56h-14.02zM312.1 169.13h14.02v1.56h-14.02zM312.1 176.66h14.02v1.56h-14.02zM326.1 169.13h14.02v1.56h-14.02zM326.1 211.34h14.02v1.56h-14.02zM340.1 102.79h14.02v1.56h-14.02zM340.1 163.09h14.02v1.56h-14.02zM340.1 179.68h14.02v1.56h-14.02zM340.1 202.29h14.02v1.56h-14.02z"/>
<path fill="#228c8d" d="M228.3 166.11h14.02v1.56h-14.02zM228.3 176.66h14.02v1.56h-14.02zM228.3 181.19h14.02v1.56h-14.02zM228.3 182.69h14.02v1.56h-14.02zM242.3 203.80h14.02v1.56h-14.02zM256.2 161.59h14.02v1.56h-14.02zM256.2 163.09h14.02v1.56h-14.02zM256.2 209.83h14.02v1.56h-14.02zM270.2 215.86h14.02v1.56h-14.02zM284.2 172.14h14.02v1.56h-14.02zM298.1 45.50h14.02v1.56h-14.02zM298.1 157.06h14.02v1.56h-14.02zM298.1 164.60h14.02v1.56h-14.02zM298.1 218.88h14.02v1.56h-14.02zM312.1 157.06h14.02v1.56h-14.02zM312.1 170.63h14.02v1.56h-14.02zM312.1 179.68h14.02v1.56h-14.02zM312.1 193.25h14.02v1.56h-14.02zM312.1 206.82h14.02v1.56h-14.02zM312.1 209.83h14.02v1.56h-14.02zM312.1 211.34h14.02v1.56h-14.02zM312.1 214.35h14.02v1.56h-14.02zM326.1 160.08h14.02v1.56h-14.02zM326.1 179.68h14.02v1.56h-14.02zM340.1 182.69h14.02v1.56h-14.02zM340.1 196.26h14.02v1.56h-14.02z"/>
<path fill="#287c8e" d="M228.3 170.63h14.02v1.56h-14.02zM228.3 185.71h14.02v1.56h-14.02zM228.3 193.25h14.02v1.56h-14.02zM242.3 53.04h14.02v1.56h-14.02zM242.3 157.06h14.02v1.56h-14.02zM242.3 166.11h14.02v1.56h-14.02zM242.3 181.19h14.02v1.56h-14.02zM256.2 69.62h14.02v1.56h-14.02zM270.2 184.20h14.02v1.56h-14.02zM270.2 211.34h14.02v1.56h-14.02zM284.2 45.50h14.02v1.56h-14.02zM284.2 57.56h14.02v1.56h-14.02zM284.2 218.88h14.02v1.56h-14.02zM298.1 51.53h14.02v1.56h-14.02zM298.1 53.04h14.02v1.56h-14.02zM298.1 62.08h14.02v1.56h-14.02zM298.1 111.84h14.02v1.56h-14.02zM298.1 120.88h14.02v1.56h-14.02zM298.1 172.14h14.02v1.56h-14.02zM298.1 176.66h14.02v1.56h-14.02zM312.1 45.50h14.02v1.56h-14.02zM312.1 149.53h14.02v1.56h-14.02zM312.1 161.59h14.02v1.56h-14.02zM312.1 184.20h14.02v1.56h-14.02zM326.1 170.63h14.02v1.56h-14.02zM340.1 166.11h14.02v1.56h-14.02zM340.1 184.20h14.02v1.56h-14.02zM340.1 199.28h14.02v1.56h-14.02zM354.0 161.59h14.02v1.56h-14.02zM354.0 169.13h14.02v1.56h-14.02z"/>
<path fill="#1f988b" d="M228.3 175.16h14.02v1.56h-14.02zM228.3 199.28h14.02v1.56h-14.02zM242.3 158.57h14.02v1.56h-14.02zM242.3 160.08h14.02v1.56h-14.02zM242.3 170.63h14.02v1.56h-14.02zM256.2 173.65h14.02v1.56h-14.02zM256.2 199.28h14.02v1.56h-14.02zM256.2 206.82h14.02v1.56h-14.02zM256.2 211.34h14.02v1.56h-14.02zM284.2 209.83h14.02v1.56h-14.02zM298.1 155.56h14.02v1.56h-14.02zM298.1 175.16h14.02v1.56h-14.02zM298.1 199.28h14.02v1.56h-14.02zM312.1 175.16h14.02v1.56h-14.02zM326.1 163.09h14.02v1.56h-14.02zM326.1 175.16h14.02v1.56h-14.02zM326.1 196.26h14.02v1.56h-14.02zM340.1 72.64h14.02v1.56h-14.02zM340.1 80.18h14.02v1.56h-14.02zM340.1 161.59h14.02v1.56h-14.02zM354.0 197.77h14.02v1.56h-14.02z"/>
<path fill="#35b779" d="M228.3 188.72h14.02v1.56h-14.02zM242.3 190.23h14.02v1.56h-14.02zM242.3 193.25h14.02v1.56h-14.02zM256.2 221.89h14.02v1.56h-14.02zM270.2 176.66h14.02v1.56h-14.02zM284.2 173.65h14.02v1.56h-14.02zM312.1 148.02h14.02v1.56h-14.02zM326.1 113.34h14.02v1.56h-14.02zM326.1 188.72h14.02v1.56h-14.02zM340.1 71.13h14.02v1.56h-14.02zM340.1 83.19h14.02v1.56h-14.02zM340.1 84.70h14.02v1.56h-14.02zM340.1 107.31h14.02v1.56h-14.02z"/>
<path fill="#25ac82" d="M228.3 191.74h14.02v1.56h-14.02zM242.3 209.83h14.02v1.56h-14.02zM270.2 199.28h14.02v1.56h-14.02zM284.2 169.13h14.02v1.56h-14.02zM284.2 182.69h14.02v1.56h-14.02zM284.2 205.31h14.02v1.56h-14.02zM298.1 173.65h14.02v1.56h-14.02zM298.1 217.37h14.02v1.56h-14.02zM312.1 191.74h14.02v1.56h-14.02zM312.1 217.37h14.02v1.56h-14.02zM340.1 101.28h14.02v1.56h-14.02zM340.1 173.65h14.02v1.56h-14.02z"/>
<path fill="#1f948c" d="M228.3 196.26h14.02v1.56h-14.02zM242.3 161.59h14.02v1.56h-14.02zM242.3 163.09h14.02v1.56h-14.02zM242.3 179.68h14.02v1.56h-14.02zM242.3 218.88h14.02v1.56h-14.02zM256.2 215.86h14.02v1.56h-14.02zM284.2 202.29h14.02v1.56h-14.02zM298.1 161.59h14.02v1.56h-14.02zM312.1 196.26h14.02v1.56h-14.02zM326.1 69.62h14.02v1.56h-14.02zM340.1 92.24h14.02v1.56h-14.02zM340.1 169.13h14.02v1.56h-14.02zM340.1 209.83h14.02v1.56h-14.02zM340.1 221.89h14.02v1.56h-14.02zM354.0 191.74h14.02v1.56h-14.02z"/>
<path fill="#44bf70" d="M228.3 197.77h14.02v1.56h-14.02zM242.3 188.72h14.02v1.56h-14.02zM242.3 221.89h14.02v1.56h-14.02zM256.2 158.57h14.02v1.56h-14.02zM256.2 217.37h14.02v1.56h-14.02zM270.2 170.63h14.02v1.56h-14.02zM284.2 217.37h14.02v1.56h-14.02zM312.1 143.50h14.02v1.56h-14.02zM312.1 146.51h14.02v1.56h-14.02zM326.1 128.42h14.02v1.56h-14.02zM354.0 45.50h14.02v1.56h-14.02zM354.0 48.52h14.02v1.56h-14.02zM354.0 51.53h14.02v1.56h-14.02zM354.0 56.05h14.02v1.56h-14.02zM354.0 62.08h14.02v1.56h-14.02z"/>
<path fill="#b2dd2d" d="M228.3 200.79h14.02v1.56h-14.02zM228.3 218.88h14.02v1.56h-14.02zM312.1 138.97h14.02v1.56h-14.02z"/>
<path fill="#eae51a" d="M228.3 202.29h14.02v1.56h-14.02z"/>
<path fill="#a5db36" d="M228.3 203.80h14.02v1.56h-14.02zM228.3 209.83h14.02v1.56h-14.02zM326.1 122.39h14.02v1.56h-14.02z"/>
<path fill="#d2e21b" d="M228.3 205.31h14.02v1.56h-14.02zM228.3 217.37h14.02v1.56h-14.02zM284.2 160.08h14.02v1.56h-14.02zM326.1 205.31h14.02v1.56h-14.02z"/>
<path fill="#bddf26" d="M228.3 206.82h14.02v1.56h-14.02zM256.2 179.68h14.02v1.56h-14.02zM256.2 188.72h14.02v1.56h-14.02z"/>
<path fill="#c8e020" d="M228.3 208.32h14.02v1.56h-14.02zM228.3 214.35h14.02v1.56h-14.02zM284.2 166.11h14.02v1.56h-14.02z"/>
<path fill="#f4e61e" d="M228.3 211.34h14.02v1.56h-14.02z"/>
<path fill="#54c568" d="M228.3 212.85h14.02v1.56h-14.02zM242.3 197.77h14.02v1.56h-14.02zM242.3 217.37h14.02v1.56h-14.02zM270.2 197.77h14.02v1.56h-14.02zM284.2 197.77h14.02v1.56h-14.02zM298.1 205.31h14.02v1.56h-14.02zM326.1 110.33h14.02v1.56h-14.02zM326.1 119.37h14.02v1.56h-14.02zM354.0 47.01h14.02v1.56h-14.02zM354.0 68.11h14.02v1.56h-14.02z"/>
<path fill="#7ad151" d="M228.3 215.86h14.02v1.56h-14.02zM256.2 181.19h14.02v1.56h-14.02zM256.2 184.20h14.02v1.56h-14.02zM312.1 137.47h14.02v1.56h-14.02zM312.1 145.00h14.02v1.56h-14.02zM326.1 114.85h14.02v1.56h-14.02zM326.1 116.36h14.02v1.56h-14.02zM326.1 126.91h14.02v1.56h-14.02zM354.0 66.61h14.02v1.56h-14.02z"/>
<path fill="#9bd93c" d="M228.3 220.38h14.02v1.56h-14.02zM284.2 163.09h14.02v1.56h-14.02z"/>
<path fill="#86d549" d="M228.3 221.89h14.02v1.56h-14.02zM256.2 205.31h14.02v1.56h-14.02z"/>
<path fill="#27808e" d="M242.3 149.53h14.02v1.56h-14.02zM242.3 202.29h14.02v1.56h-14.02zM242.3 215.86h14.02v1.56h-14.02zM256.2 45.50h14.02v1.56h-14.02zM256.2 193.25h14.02v1.56h-14.02zM270.2 160.08h14.02v1.56h-14.02zM284.2 69.62h14.02v1.56h-14.02zM284.2 179.68h14.02v1.56h-14.02zM284.2 214.35h14.02v1.56h-14.02zM284.2 215.86h14.02v1.56h-14.02zM298.1 50.02h14.02v1.56h-14.02zM298.1 196.26h14.02v1.56h-14.02zM312.1 69.62h14.02v1.56h-14.02zM312.1 160.08h14.02v1.56h-14.02zM312.1 172.14h14.02v1.56h-14.02zM312.1 199.28h14.02v1.56h-14.02zM326.1 172.14h14.02v1.56h-14.02zM326.1 193.25h14.02v1.56h-14.02zM326.1 202.29h14.02v1.56h-14.02zM326.1 215.86h14.02v1.56h-14.02zM340.1 89.22h14.02v1.56h-14.02zM340.1 206.82h14.02v1.56h-14.02zM340.1 218.88h14.02v1.56h-14.02zM354.0 217.37h14.02v1.56h-14.02z"/>
<path fill="#31688e" d="M242.3 155.56h14.02v1.56h-14.02zM242.3 214.35h14.02v1.56h-14.02zM256.2 62.08h14.02v1.56h-14.02zM256.2 148.02h14.02v1.56h-14.02zM270.2 51.53h14.02v1.56h-14.02zM270.2 57.56h14.02v1.56h-14.02zM270.2 62.08h14.02v1.56h-14.02zM284.2 152.54h14.02v1.56h-14.02zM284.2 184.20h14.02v1.56h-14.02zM298.1 48.52h14.02v1.56h-14.02zM298.1 56.05h14.02v1.56h-14.02zM298.1 122.39h14.02v1.56h-14.02zM312.1 54.55h14.02v1.56h-14.02zM312.1 62.08h14.02v1.56h-14.02zM326.1 59.07h14.02v1.56h-14.02zM340.1 57.56h14.02v1.56h-14.02zM340.1 111.84h14.02v1.56h-14.02zM340.1 120.88h14.02v1.56h-14.02zM340.1 203.80h14.02v1.56h-14.02zM340.1 214.35h14.02v1.56h-14.02zM354.0 173.65h14.02v1.56h-14.02zM354.0 181.19h14.02v1.56h-14.02zM354.0 202.29h14.02v1.56h-14.02zM354.0 206.82h14.02v1.56h-14.02zM354.0 215.86h14.02v1.56h-14.02z"/>
<path fill="#1e9c89" d="M242.3 173.65h14.02v1.56h-14.02zM242.3 176.66h14.02v1.56h-14.02zM256.2 170.63h14.02v1.56h-14.02zM256.2 191.74h14.02v1.56h-14.02zM270.2 182.69h14.02v1.56h-14.02zM270.2 206.82h14.02v1.56h-14.02zM284.2 176.66h14.02v1.56h-14.02zM298.1 69.62h14.02v1.56h-14.02zM298.1 169.13h14.02v1.56h-14.02zM298.1 191.74h14.02v1.56h-14.02zM326.1 157.06h14.02v1.56h-14.02zM326.1 199.28h14.02v1.56h-14.02zM340.1 90.73h14.02v1.56h-14.02zM354.0 188.72h14.02v1.56h-14.02z"/>
<path fill="#1fa188" d="M242.3 175.16h14.02v1.56h-14.02zM242.3 182.69h14.02v1.56h-14.02zM270.2 209.83h14.02v1.56h-14.02zM284.2 196.26h14.02v1.56h-14.02zM284.2 211.34h14.02v1.56h-14.02zM298.1 163.09h14.02v1.56h-14.02zM298.1 206.82h14.02v1.56h-14.02zM312.1 158.57h14.02v1.56h-14.02zM312.1 187.22h14.02v1.56h-14.02zM326.1 182.69h14.02v1.56h-14.02zM340.1 81.68h14.02v1.56h-14.02zM340.1 95.25h14.02v1.56h-14.02zM340.1 99.77h14.02v1.56h-14.02zM354.0 196.26h14.02v1.56h-14.02z"/>
<path fill="#23888e" d="M242.3 187.22h14.02v1.56h-14.02zM256.2 160.08h14.02v1.56h-14.02zM256.2 166.11h14.02v1.56h-14.02zM256.2 176.66h14.02v1.56h-14.02zM256.2 196.26h14.02v1.56h-14.02zM256.2 214.35h14.02v1.56h-14.02zM270.2 179.68h14.02v1.56h-14.02zM284.2 175.16h14.02v1.56h-14.02zM298.1 68.11h14.02v1.56h-14.02zM298.1 154.05h14.02v1.56h-14.02zM298.1 215.86h14.02v1.56h-14.02zM312.1 202.29h14.02v1.56h-14.02zM326.1 166.11h14.02v1.56h-14.02zM326.1 206.82h14.02v1.56h-14.02zM326.1 220.38h14.02v1.56h-14.02zM340.1 69.62h14.02v1.56h-14.02zM340.1 158.57h14.02v1.56h-14.02zM340.1 176.66h14.02v1.56h-14.02zM354.0 158.57h14.02v1.56h-14.02z"/>
<path fill="#5ec962" d="M242.3 191.74h14.02v1.56h-14.02zM256.2 185.71h14.02v1.56h-14.02zM256.2 187.22h14.02v1.56h-14.02zM270.2 167.62h14.02v1.56h-14.02zM270.2 173.65h14.02v1.56h-14.02zM298.1 152.54h14.02v1.56h-14.02zM298.1 188.72h14.02v1.56h-14.02zM298.1 197.77h14.02v1.56h-14.02zM312.1 132.94h14.02v1.56h-14.02zM312.1 134.45h14.02v1.56h-14.02zM326.1 111.84h14.02v1.56h-14.02zM326.1 125.40h14.02v1.56h-14.02zM354.0 50.02h14.02v1.56h-14.02z"/>
<path fill="#4cc26c" d="M242.3 194.76h14.02v1.56h-14.02zM256.2 169.13h14.02v1.56h-14.02zM270.2 205.31h14.02v1.56h-14.02zM298.1 151.03h14.02v1.56h-14.02zM312.1 140.48h14.02v1.56h-14.02zM312.1 141.99h14.02v1.56h-14.02zM312.1 188.72h14.02v1.56h-14.02zM326.1 191.74h14.02v1.56h-14.02zM340.1 105.81h14.02v1.56h-14.02zM340.1 197.77h14.02v1.56h-14.02zM340.1 205.31h14.02v1.56h-14.02z"/>
<path fill="#3bbb75" d="M242.3 196.26h14.02v1.56h-14.02zM270.2 172.14h14.02v1.56h-14.02zM284.2 188.72h14.02v1.56h-14.02zM312.1 205.31h14.02v1.56h-14.02zM326.1 120.88h14.02v1.56h-14.02zM326.1 197.77h14.02v1.56h-14.02zM340.1 74.14h14.02v1.56h-14.02zM340.1 98.27h14.02v1.56h-14.02z"/>
<path fill="#2fb47c" d="M242.3 199.28h14.02v1.56h-14.02zM270.2 188.72h14.02v1.56h-14.02zM270.2 191.74h14.02v1.56h-14.02zM284.2 158.57h14.02v1.56h-14.02zM298.1 158.57h14.02v1.56h-14.02zM312.1 197.77h14.02v1.56h-14.02zM326.1 117.87h14.02v1.56h-14.02zM326.1 129.93h14.02v1.56h-14.02zM326.1 173.65h14.02v1.56h-14.02zM340.1 96.76h14.02v1.56h-14.02zM340.1 104.30h14.02v1.56h-14.02zM354.0 65.10h14.02v1.56h-14.02zM354.0 69.62h14.02v1.56h-14.02z"/>
<path fill="#67cc5c" d="M242.3 205.31h14.02v1.56h-14.02zM270.2 175.16h14.02v1.56h-14.02zM312.1 135.96h14.02v1.56h-14.02z"/>
<path fill="#22a884" d="M242.3 211.34h14.02v1.56h-14.02zM270.2 158.57h14.02v1.56h-14.02zM270.2 166.11h14.02v1.56h-14.02zM270.2 217.37h14.02v1.56h-14.02zM284.2 191.74h14.02v1.56h-14.02zM284.2 221.89h14.02v1.56h-14.02zM298.1 221.89h14.02v1.56h-14.02zM312.1 182.69h14.02v1.56h-14.02zM312.1 221.89h14.02v1.56h-14.02zM326.1 158.57h14.02v1.56h-14.02zM340.1 75.65h14.02v1.56h-14.02zM340.1 77.16h14.02v1.56h-14.02zM340.1 78.67h14.02v1.56h-14.02zM340.1 191.74h14.02v1.56h-14.02zM340.1 217.37h14.02v1.56h-14.02z"/>
<path fill="#470d60" d="M256.2 83.19h14.02v1.56h-14.02zM256.2 86.21h14.02v1.56h-14.02zM256.2 154.05h14.02v1.56h-14.02zM270.2 99.77h14.02v1.56h-14.02zM326.1 74.14h14.02v1.56h-14.02zM340.1 135.96h14.02v1.56h-14.02zM354.0 140.48h14.02v1.56h-14.02zM354.0 208.32h14.02v1.56h-14.02z"/>
<path fill="#70cf57" d="M256.2 182.69h14.02v1.56h-14.02zM256.2 197.77h14.02v1.56h-14.02zM284.2 161.59h14.02v1.56h-14.02zM312.1 131.43h14.02v1.56h-14.02zM354.0 53.04h14.02v1.56h-14.02zM354.0 54.55h14.02v1.56h-14.02z"/>
<path fill="#2ab07f" d="M270.2 163.09h14.02v1.56h-14.02zM270.2 178.17h14.02v1.56h-14.02zM270.2 196.26h14.02v1.56h-14.02zM284.2 199.28h14.02v1.56h-14.02zM312.1 173.65h14.02v1.56h-14.02zM326.1 217.37h14.02v1.56h-14.02zM340.1 86.21h14.02v1.56h-14.02zM340.1 87.71h14.02v1.56h-14.02zM340.1 108.82h14.02v1.56h-14.02zM340.1 188.72h14.02v1.56h-14.02z"/>
<path fill="#90d743" d="M270.2 169.13h14.02v1.56h-14.02zM284.2 164.60h14.02v1.56h-14.02zM284.2 167.62h14.02v1.56h-14.02zM326.1 123.90h14.02v1.56h-14.02zM354.0 63.59h14.02v1.56h-14.02z"/>
<path fill="#dfe318" d="M354.0 57.56h14.02v1.56h-14.02zM354.0 59.07h14.02v1.56h-14.02zM354.0 60.58h14.02v1.56h-14.02z"/>
</g>
<rect x="228.30" y="58.60" width="125.73" height="0.80" fill="#a09a40" stroke="none" stroke-width="1" opacity="0.55"/>
<rect x="228.30" y="64.30" width="125.73" height="0.80" fill="#a09a40" stroke="none" stroke-width="1" opacity="0.55"/>
<rect x="228.30" y="45.50" width="139.70" height="177.90" fill="none" stroke="#231f20" stroke-width="1.5"/>
<text x="222.60" y="130.50" font-size="14.4" text-anchor="middle" fill="#231f20" transform="rotate(-90 222.6 130.5)">50,079 specific cCREs</text>
<text x="219.70" y="238.60" font-size="14" text-anchor="start" fill="#231f20">Norm. acc.</text>
<rect x="305.30" y="228.80" width="50.40" height="9.90" fill="url(#gvir)" stroke="#231f20" stroke-width="1.4"/>
<text x="295.50" y="238.70" font-size="14" text-anchor="start" fill="#231f20">0</text>
<text x="359.00" y="238.70" font-size="14" text-anchor="start" fill="#231f20">4</text>
<text transform="translate(380.00 14.80) scale(1.07 1)" font-size="21.0" fill="#1a1718" style="font-weight:bold;">c</text>
<text x="424.00" y="23.00" font-size="14" text-anchor="start" fill="#231f20">SSTGA cell types</text>
<text x="415.48" y="41.90" font-size="14" text-anchor="middle" fill="#231f20">1</text>
<text x="429.43" y="41.90" font-size="14" text-anchor="middle" fill="#231f20">2</text>
<text x="443.38" y="41.90" font-size="14" text-anchor="middle" fill="#231f20">3</text>
<text x="457.32" y="41.90" font-size="14" text-anchor="middle" fill="#231f20">4</text>
<text x="471.27" y="41.90" font-size="14" text-anchor="middle" fill="#231f20">5</text>
<text x="485.23" y="41.90" font-size="14" text-anchor="middle" fill="#231f20">6</text>
<text x="499.18" y="41.90" font-size="14" text-anchor="middle" fill="#231f20">7</text>
<text x="513.12" y="41.90" font-size="14" text-anchor="middle" fill="#231f20">8</text>
<text x="527.08" y="41.90" font-size="14" text-anchor="middle" fill="#231f20">9</text>
<text x="541.02" y="41.90" font-size="14" text-anchor="middle" fill="#231f20">10</text>
<g shape-rendering="crispEdges">
<rect x="408.50" y="45.50" width="139.50" height="177.90" fill="#4574b3" stroke="none" stroke-width="1"/>
<rect x="408.50" y="46.50" width="13.95" height="2.20" fill="#90c3dd" stroke="none" stroke-width="1"/>
<rect x="408.50" y="52.50" width="13.95" height="4.20" fill="#578abf" stroke="none" stroke-width="1"/>
<rect x="408.50" y="109.60" width="13.95" height="3.20" fill="#f67a49" stroke="none" stroke-width="1"/>
<rect x="408.50" y="112.80" width="13.95" height="4.20" fill="#fed687" stroke="none" stroke-width="1"/>
<rect x="408.50" y="117.00" width="13.95" height="3.20" fill="#f0f9db" stroke="none" stroke-width="1"/>
<rect x="408.50" y="120.20" width="13.95" height="4.80" fill="#c5e6f0" stroke="none" stroke-width="1"/>
<rect x="408.50" y="125.00" width="13.95" height="3.00" fill="#fff0a8" stroke="none" stroke-width="1"/>
<rect x="408.50" y="128.00" width="13.95" height="3.00" fill="#e0f3f8" stroke="none" stroke-width="1"/>
<rect x="408.50" y="131.00" width="13.95" height="2.20" fill="#fffebe" stroke="none" stroke-width="1"/>
<rect x="408.50" y="133.20" width="13.95" height="5.30" fill="#fee090" stroke="none" stroke-width="1"/>
<rect x="408.50" y="156.50" width="13.95" height="3.50" fill="#fff0a8" stroke="none" stroke-width="1"/>
<rect x="408.50" y="160.00" width="13.95" height="5.00" fill="#f0f9db" stroke="none" stroke-width="1"/>
<rect x="408.50" y="168.00" width="13.95" height="2.00" fill="#5c90c2" stroke="none" stroke-width="1"/>
<rect x="408.50" y="174.00" width="13.95" height="2.00" fill="#6ba2cb" stroke="none" stroke-width="1"/>
<rect x="408.50" y="184.00" width="13.95" height="6.30" fill="#6095c4" stroke="none" stroke-width="1"/>
<rect x="408.50" y="190.30" width="13.95" height="33.10" fill="#d62f27" stroke="none" stroke-width="1"/>
<rect x="422.45" y="49.30" width="13.95" height="4.20" fill="#6ba2cb" stroke="none" stroke-width="1"/>
<rect x="422.45" y="56.70" width="13.95" height="3.30" fill="#fee090" stroke="none" stroke-width="1"/>
<rect x="422.45" y="60.00" width="13.95" height="3.00" fill="#fdc778" stroke="none" stroke-width="1"/>
<rect x="422.45" y="63.00" width="13.95" height="3.00" fill="#fed687" stroke="none" stroke-width="1"/>
<rect x="422.45" y="66.00" width="13.95" height="2.00" fill="#fdad60" stroke="none" stroke-width="1"/>
<rect x="422.45" y="68.00" width="13.95" height="2.50" fill="#fee699" stroke="none" stroke-width="1"/>
<rect x="422.45" y="109.60" width="13.95" height="2.10" fill="#fdb769" stroke="none" stroke-width="1"/>
<rect x="422.45" y="121.00" width="13.95" height="13.00" fill="#6095c4" stroke="none" stroke-width="1"/>
<rect x="422.45" y="134.00" width="13.95" height="4.50" fill="#5c90c2" stroke="none" stroke-width="1"/>
<rect x="422.45" y="184.00" width="13.95" height="5.30" fill="#d62f27" stroke="none" stroke-width="1"/>
<rect x="422.45" y="189.30" width="13.95" height="1.70" fill="#f88c51" stroke="none" stroke-width="1"/>
<rect x="422.45" y="191.00" width="13.95" height="29.50" fill="#d62f27" stroke="none" stroke-width="1"/>
<rect x="422.45" y="220.50" width="13.95" height="2.90" fill="#fdad60" stroke="none" stroke-width="1"/>
<rect x="436.40" y="46.50" width="13.95" height="3.80" fill="#fee090" stroke="none" stroke-width="1"/>
<rect x="436.40" y="80.00" width="13.95" height="2.00" fill="#5c90c2" stroke="none" stroke-width="1"/>
<rect x="436.40" y="84.00" width="13.95" height="2.00" fill="#6ba2cb" stroke="none" stroke-width="1"/>
<rect x="436.40" y="88.00" width="13.95" height="1.50" fill="#aad8e9" stroke="none" stroke-width="1"/>
<rect x="436.40" y="89.50" width="13.95" height="1.50" fill="#74add1" stroke="none" stroke-width="1"/>
<rect x="436.40" y="92.70" width="13.95" height="3.30" fill="#5c90c2" stroke="none" stroke-width="1"/>
<rect x="436.40" y="97.00" width="13.95" height="3.00" fill="#578abf" stroke="none" stroke-width="1"/>
<rect x="436.40" y="101.00" width="13.95" height="4.00" fill="#5c90c2" stroke="none" stroke-width="1"/>
<rect x="436.40" y="156.50" width="13.95" height="8.50" fill="#fee090" stroke="none" stroke-width="1"/>
<rect x="436.40" y="166.00" width="13.95" height="2.00" fill="#6ba2cb" stroke="none" stroke-width="1"/>
<rect x="436.40" y="170.00" width="13.95" height="2.00" fill="#5c90c2" stroke="none" stroke-width="1"/>
<rect x="436.40" y="184.00" width="13.95" height="5.30" fill="#7fb6d6" stroke="none" stroke-width="1"/>
<rect x="450.35" y="56.70" width="13.95" height="3.30" fill="#5385bd" stroke="none" stroke-width="1"/>
<rect x="450.35" y="62.00" width="13.95" height="3.00" fill="#5c90c2" stroke="none" stroke-width="1"/>
<rect x="450.35" y="67.00" width="13.95" height="3.00" fill="#5385bd" stroke="none" stroke-width="1"/>
<rect x="450.35" y="72.00" width="13.95" height="2.00" fill="#4d7fb9" stroke="none" stroke-width="1"/>
<rect x="450.35" y="87.40" width="13.95" height="3.20" fill="#f46d43" stroke="none" stroke-width="1"/>
<rect x="450.35" y="90.60" width="13.95" height="2.10" fill="#dc3b2c" stroke="none" stroke-width="1"/>
<rect x="450.35" y="92.70" width="13.95" height="3.20" fill="#fee090" stroke="none" stroke-width="1"/>
<rect x="450.35" y="95.90" width="13.95" height="13.70" fill="#d62f27" stroke="none" stroke-width="1"/>
<rect x="450.35" y="155.00" width="13.95" height="10.00" fill="#4d7fb9" stroke="none" stroke-width="1"/>
<rect x="450.35" y="190.30" width="13.95" height="2.70" fill="#f0f9db" stroke="none" stroke-width="1"/>
<rect x="450.35" y="193.00" width="13.95" height="3.00" fill="#fff0a8" stroke="none" stroke-width="1"/>
<rect x="450.35" y="196.00" width="13.95" height="3.00" fill="#e6f5ed" stroke="none" stroke-width="1"/>
<rect x="450.35" y="199.00" width="13.95" height="3.00" fill="#fee090" stroke="none" stroke-width="1"/>
<rect x="450.35" y="202.00" width="13.95" height="3.00" fill="#fffebe" stroke="none" stroke-width="1"/>
<rect x="450.35" y="205.00" width="13.95" height="3.00" fill="#e0f3f8" stroke="none" stroke-width="1"/>
<rect x="450.35" y="208.00" width="13.95" height="3.00" fill="#fed687" stroke="none" stroke-width="1"/>
<rect x="450.35" y="211.00" width="13.95" height="3.00" fill="#fffebe" stroke="none" stroke-width="1"/>
<rect x="450.35" y="214.00" width="13.95" height="3.00" fill="#fdb769" stroke="none" stroke-width="1"/>
<rect x="450.35" y="217.00" width="13.95" height="3.00" fill="#f0f9db" stroke="none" stroke-width="1"/>
<rect x="450.35" y="220.00" width="13.95" height="3.40" fill="#fee090" stroke="none" stroke-width="1"/>
<rect x="464.30" y="109.60" width="13.95" height="3.20" fill="#fff0a8" stroke="none" stroke-width="1"/>
<rect x="464.30" y="130.00" width="13.95" height="8.50" fill="#5385bd" stroke="none" stroke-width="1"/>
<rect x="464.30" y="158.00" width="13.95" height="2.00" fill="#5c90c2" stroke="none" stroke-width="1"/>
<rect x="464.30" y="162.00" width="13.95" height="2.00" fill="#74add1" stroke="none" stroke-width="1"/>
<rect x="464.30" y="166.00" width="13.95" height="2.00" fill="#aad8e9" stroke="none" stroke-width="1"/>
<rect x="464.30" y="170.00" width="13.95" height="2.00" fill="#6ba2cb" stroke="none" stroke-width="1"/>
<rect x="464.30" y="190.30" width="13.95" height="3.20" fill="#f46d43" stroke="none" stroke-width="1"/>
<rect x="464.30" y="193.50" width="13.95" height="27.00" fill="#d62f27" stroke="none" stroke-width="1"/>
<rect x="464.30" y="220.50" width="13.95" height="2.90" fill="#fee090" stroke="none" stroke-width="1"/>
<rect x="478.25" y="49.30" width="13.95" height="2.20" fill="#c5e6f0" stroke="none" stroke-width="1"/>
<rect x="478.25" y="51.50" width="13.95" height="3.10" fill="#90c3dd" stroke="none" stroke-width="1"/>
<rect x="478.25" y="56.70" width="13.95" height="3.30" fill="#74add1" stroke="none" stroke-width="1"/>
<rect x="478.25" y="60.00" width="13.95" height="3.00" fill="#5c90c2" stroke="none" stroke-width="1"/>
<rect x="478.25" y="63.00" width="13.95" height="3.00" fill="#7fb6d6" stroke="none" stroke-width="1"/>
<rect x="478.25" y="66.00" width="13.95" height="3.00" fill="#6ba2cb" stroke="none" stroke-width="1"/>
<rect x="478.25" y="69.00" width="13.95" height="3.60" fill="#90c3dd" stroke="none" stroke-width="1"/>
<rect x="478.25" y="112.80" width="13.95" height="8.50" fill="#d62f27" stroke="none" stroke-width="1"/>
<rect x="478.25" y="121.30" width="13.95" height="3.70" fill="#90c3dd" stroke="none" stroke-width="1"/>
<rect x="478.25" y="125.00" width="13.95" height="5.00" fill="#74add1" stroke="none" stroke-width="1"/>
<rect x="478.25" y="130.00" width="13.95" height="4.00" fill="#9fd0e4" stroke="none" stroke-width="1"/>
<rect x="478.25" y="134.00" width="13.95" height="4.00" fill="#7fb6d6" stroke="none" stroke-width="1"/>
<rect x="478.25" y="138.00" width="13.95" height="5.00" fill="#6095c4" stroke="none" stroke-width="1"/>
<rect x="478.25" y="156.50" width="13.95" height="3.50" fill="#aad8e9" stroke="none" stroke-width="1"/>
<rect x="478.25" y="160.00" width="13.95" height="5.00" fill="#90c3dd" stroke="none" stroke-width="1"/>
<rect x="478.25" y="172.00" width="13.95" height="3.00" fill="#74add1" stroke="none" stroke-width="1"/>
<rect x="478.25" y="178.70" width="13.95" height="3.30" fill="#c5e6f0" stroke="none" stroke-width="1"/>
<rect x="478.25" y="182.00" width="13.95" height="4.00" fill="#e0f3f8" stroke="none" stroke-width="1"/>
<rect x="478.25" y="186.00" width="13.95" height="4.30" fill="#aad8e9" stroke="none" stroke-width="1"/>
<rect x="478.25" y="190.30" width="13.95" height="10.70" fill="#d62f27" stroke="none" stroke-width="1"/>
<rect x="478.25" y="201.00" width="13.95" height="4.00" fill="#fed687" stroke="none" stroke-width="1"/>
<rect x="478.25" y="205.00" width="13.95" height="4.00" fill="#fffebe" stroke="none" stroke-width="1"/>
<rect x="478.25" y="209.00" width="13.95" height="4.00" fill="#fff0a8" stroke="none" stroke-width="1"/>
<rect x="478.25" y="213.00" width="13.95" height="4.00" fill="#aad8e9" stroke="none" stroke-width="1"/>
<rect x="478.25" y="217.00" width="13.95" height="6.40" fill="#f0f9db" stroke="none" stroke-width="1"/>
<rect x="492.20" y="50.30" width="13.95" height="6.40" fill="#fee090" stroke="none" stroke-width="1"/>
<rect x="492.20" y="121.30" width="13.95" height="3.70" fill="#e0f3f8" stroke="none" stroke-width="1"/>
<rect x="492.20" y="125.00" width="13.95" height="3.00" fill="#fffebe" stroke="none" stroke-width="1"/>
<rect x="492.20" y="128.00" width="13.95" height="2.00" fill="#c5e6f0" stroke="none" stroke-width="1"/>
<rect x="492.20" y="130.00" width="13.95" height="3.20" fill="#7fb6d6" stroke="none" stroke-width="1"/>
<rect x="492.20" y="133.20" width="13.95" height="2.80" fill="#f67a49" stroke="none" stroke-width="1"/>
<rect x="492.20" y="136.00" width="13.95" height="2.50" fill="#fdb769" stroke="none" stroke-width="1"/>
<rect x="492.20" y="138.50" width="13.95" height="6.50" fill="#c5e6f0" stroke="none" stroke-width="1"/>
<rect x="492.20" y="145.00" width="13.95" height="4.00" fill="#e6f5ed" stroke="none" stroke-width="1"/>
<rect x="492.20" y="149.00" width="13.95" height="6.00" fill="#7fb6d6" stroke="none" stroke-width="1"/>
<rect x="492.20" y="155.40" width="13.95" height="4.60" fill="#f0f9db" stroke="none" stroke-width="1"/>
<rect x="492.20" y="160.00" width="13.95" height="5.00" fill="#d6eef5" stroke="none" stroke-width="1"/>
<rect x="492.20" y="184.00" width="13.95" height="6.30" fill="#d62f27" stroke="none" stroke-width="1"/>
<rect x="506.15" y="46.50" width="13.95" height="2.20" fill="#74add1" stroke="none" stroke-width="1"/>
<rect x="506.15" y="56.70" width="13.95" height="3.30" fill="#74add1" stroke="none" stroke-width="1"/>
<rect x="506.15" y="60.00" width="13.95" height="4.00" fill="#659bc8" stroke="none" stroke-width="1"/>
<rect x="506.15" y="64.00" width="13.95" height="3.00" fill="#90c3dd" stroke="none" stroke-width="1"/>
<rect x="506.15" y="67.00" width="13.95" height="3.00" fill="#74add1" stroke="none" stroke-width="1"/>
<rect x="506.15" y="70.00" width="13.95" height="3.60" fill="#aad8e9" stroke="none" stroke-width="1"/>
<rect x="506.15" y="85.30" width="13.95" height="3.20" fill="#fee090" stroke="none" stroke-width="1"/>
<rect x="506.15" y="121.30" width="13.95" height="32.00" fill="#d62f27" stroke="none" stroke-width="1"/>
<rect x="506.15" y="153.30" width="13.95" height="3.20" fill="#fdc778" stroke="none" stroke-width="1"/>
<rect x="506.15" y="156.50" width="13.95" height="8.50" fill="#fff8b5" stroke="none" stroke-width="1"/>
<rect x="506.15" y="190.30" width="13.95" height="3.20" fill="#fba05b" stroke="none" stroke-width="1"/>
<rect x="506.15" y="193.50" width="13.95" height="6.50" fill="#fff0a8" stroke="none" stroke-width="1"/>
<rect x="506.15" y="200.00" width="13.95" height="9.50" fill="#d62f27" stroke="none" stroke-width="1"/>
<rect x="506.15" y="209.50" width="13.95" height="3.00" fill="#fee090" stroke="none" stroke-width="1"/>
<rect x="506.15" y="212.50" width="13.95" height="10.90" fill="#d62f27" stroke="none" stroke-width="1"/>
<rect x="520.10" y="50.30" width="13.95" height="2.70" fill="#e0f3f8" stroke="none" stroke-width="1"/>
<rect x="520.10" y="53.00" width="13.95" height="3.70" fill="#aad8e9" stroke="none" stroke-width="1"/>
<rect x="520.10" y="109.60" width="13.95" height="3.20" fill="#7fb6d6" stroke="none" stroke-width="1"/>
<rect x="520.10" y="165.00" width="13.95" height="16.90" fill="#d62f27" stroke="none" stroke-width="1"/>
<rect x="520.10" y="181.90" width="13.95" height="3.10" fill="#fed687" stroke="none" stroke-width="1"/>
<rect x="520.10" y="185.00" width="13.95" height="3.20" fill="#fdad60" stroke="none" stroke-width="1"/>
<rect x="520.10" y="188.20" width="13.95" height="2.10" fill="#c5e6f0" stroke="none" stroke-width="1"/>
<rect x="520.10" y="210.40" width="13.95" height="13.00" fill="#dc3b2c" stroke="none" stroke-width="1"/>
<rect x="534.05" y="70.50" width="13.95" height="2.50" fill="#fee090" stroke="none" stroke-width="1"/>
<rect x="534.05" y="73.00" width="13.95" height="3.00" fill="#fff0a8" stroke="none" stroke-width="1"/>
<rect x="534.05" y="76.00" width="13.95" height="4.00" fill="#fed687" stroke="none" stroke-width="1"/>
<rect x="534.05" y="80.00" width="13.95" height="5.30" fill="#e54e35" stroke="none" stroke-width="1"/>
<rect x="534.05" y="85.30" width="13.95" height="2.20" fill="#fee699" stroke="none" stroke-width="1"/>
<rect x="534.05" y="90.60" width="13.95" height="2.10" fill="#74add1" stroke="none" stroke-width="1"/>
<rect x="534.05" y="95.90" width="13.95" height="2.10" fill="#c5e6f0" stroke="none" stroke-width="1"/>
<rect x="534.05" y="98.00" width="13.95" height="3.00" fill="#f0f9db" stroke="none" stroke-width="1"/>
<rect x="534.05" y="101.00" width="13.95" height="3.00" fill="#e0f3f8" stroke="none" stroke-width="1"/>
<rect x="534.05" y="104.00" width="13.95" height="3.00" fill="#fffebe" stroke="none" stroke-width="1"/>
<rect x="534.05" y="107.00" width="13.95" height="2.60" fill="#c5e6f0" stroke="none" stroke-width="1"/>
<rect x="534.05" y="112.80" width="13.95" height="8.50" fill="#d62f27" stroke="none" stroke-width="1"/>
<rect x="534.05" y="121.30" width="13.95" height="3.70" fill="#fee090" stroke="none" stroke-width="1"/>
<rect x="534.05" y="125.00" width="13.95" height="4.00" fill="#fdc778" stroke="none" stroke-width="1"/>
<rect x="534.05" y="129.00" width="13.95" height="2.50" fill="#fee090" stroke="none" stroke-width="1"/>
<rect x="534.05" y="131.50" width="13.95" height="2.70" fill="#fdad60" stroke="none" stroke-width="1"/>
<rect x="534.05" y="134.20" width="13.95" height="1.80" fill="#f46d43" stroke="none" stroke-width="1"/>
<rect x="534.05" y="156.50" width="13.95" height="3.50" fill="#fff0a8" stroke="none" stroke-width="1"/>
<rect x="534.05" y="160.00" width="13.95" height="5.00" fill="#e0f3f8" stroke="none" stroke-width="1"/>
<rect x="534.05" y="165.00" width="13.95" height="4.00" fill="#7fb6d6" stroke="none" stroke-width="1"/>
<rect x="534.05" y="169.00" width="13.95" height="3.30" fill="#5c90c2" stroke="none" stroke-width="1"/>
<rect x="534.05" y="172.30" width="13.95" height="6.40" fill="#fee090" stroke="none" stroke-width="1"/>
<rect x="534.05" y="178.70" width="13.95" height="3.30" fill="#dc3b2c" stroke="none" stroke-width="1"/>
<rect x="534.05" y="182.00" width="13.95" height="8.30" fill="#4574b3" stroke="none" stroke-width="1"/>
<rect x="534.05" y="190.30" width="13.95" height="7.40" fill="#d62f27" stroke="none" stroke-width="1"/>
<rect x="534.05" y="197.70" width="13.95" height="3.30" fill="#fdc778" stroke="none" stroke-width="1"/>
<rect x="534.05" y="201.00" width="13.95" height="2.00" fill="#f88c51" stroke="none" stroke-width="1"/>
<rect x="534.05" y="203.00" width="13.95" height="3.00" fill="#aad8e9" stroke="none" stroke-width="1"/>
<rect x="534.05" y="206.00" width="13.95" height="4.40" fill="#74add1" stroke="none" stroke-width="1"/>
<rect x="534.05" y="210.40" width="13.95" height="13.00" fill="#659bc8" stroke="none" stroke-width="1"/>
</g>
<rect x="408.50" y="45.50" width="139.50" height="177.90" fill="none" stroke="#231f20" stroke-width="1.5"/>
<path d="M408.0 162.7H406.6V165.6H408.0M408.0 186.4H406.8V189.4H408.0M408.0 150.8H407.1V153.8H408.0M408.0 94.5H406.9V97.4H408.0M408.0 141.9H407.1V144.9H408.0M408.0 115.2H407.1V118.2H408.0M408.0 67.8H406.5V70.7H408.0M408.0 219.0H406.8V222.0H408.0M408.0 91.5H406.2V95.9H406.9M408.0 121.2H406.2V124.1H408.0M406.8 187.9H406.4V192.3H408.0M408.0 195.3H406.4V198.3H408.0M408.0 159.7H406.2V164.2H406.6M406.2 161.9H405.8V168.6H408.0M408.0 204.2H405.8V207.2H408.0M408.0 82.6H406.3V85.6H408.0M408.0 106.3H405.6V109.3H408.0M408.0 156.7H405.4V165.3H405.8M408.0 133.0H405.3V136.0H408.0M408.0 201.2H405.4V205.7H405.8M408.0 177.5H405.8V180.5H408.0M407.1 152.3H405.0V161.0H405.4M408.0 88.5H405.3V93.7H406.2M405.6 107.8H405.0V112.3H408.0M408.0 79.6H404.9V84.1H406.3M408.0 183.4H404.8V190.1H406.4M408.0 76.7H404.4V81.9H404.9M405.0 156.7H403.9V171.6H408.0M405.8 179.0H404.1V186.8H404.8M406.5 69.2H403.5V73.7H408.0M408.0 127.1H403.6V130.1H408.0M406.2 122.6H403.2V128.6H403.6M408.0 174.5H402.8V182.9H404.1M408.0 47.0H403.2V50.0H408.0M405.4 203.5H402.8V210.1H408.0M406.4 196.8H402.0V206.8H402.8M408.0 138.9H401.8V143.4H407.1M405.3 91.1H401.8V100.4H408.0M401.8 141.2H401.4V147.8H408.0M408.0 61.8H401.2V64.8H408.0M408.0 213.1H401.1V216.1H408.0M405.3 134.5H401.0V144.5H401.4M404.4 79.3H400.8V95.8H401.8M403.2 125.6H400.0V139.5H401.0M402.8 178.7H399.9V201.8H402.0M405.0 110.0H399.3V116.7H407.1M403.2 48.5H399.3V52.9H408.0M408.0 58.9H398.6V63.3H401.2M399.9 190.3H398.4V214.6H401.1M403.5 71.5H398.1V87.5H400.8M408.0 55.9H397.4V61.1H398.6M398.4 202.4H397.3V220.5H406.8M398.1 79.5H397.4V103.4H408.0M400.0 132.6H396.5V164.1H403.9M397.4 91.4H396.4V113.4H399.3M396.5 148.3H395.9V211.5H397.3M397.4 58.5H395.2V102.4H396.4M399.3 50.7H395.0V80.4H395.2M395.0 65.6H395.0V179.9H395.9" fill="none" stroke="#4a4a4a" stroke-width="0.65"/>
<text x="389.30" y="130.20" font-size="14.6" text-anchor="middle" fill="#231f20" transform="rotate(-90 389.3 130.2)">Motif enrichment</text>
<path d="M554.6 46.2 H552.4 L550.3 74.1 H548.5" fill="none" stroke="#231f20" stroke-width="1.15"/>
<path d="M548.5 86 H550.3 L551.9 189.6 Q552 190.4 554.6 190.3" fill="none" stroke="#231f20" stroke-width="1.15"/>
<text x="569.20" y="110.00" font-size="14" text-anchor="middle" fill="#231f20" transform="rotate(-90 569.2 110)">KLF family (zinc-finger)</text>
<rect x="477.40" y="228.90" width="51.10" height="10.00" fill="url(#gryb)" stroke="#231f20" stroke-width="1.4"/>
<text x="467.20" y="238.70" font-size="14" text-anchor="start" fill="#231f20">0</text>
<text x="533.00" y="238.70" font-size="14" text-anchor="start" fill="#231f20">≥100</text>
<text x="466.80" y="254.40" font-size="13.4" text-anchor="start" fill="#231f20">–log(<tspan style="font-style:italic">P</tspan> value)</text>
<text transform="translate(581.50 15.30) scale(1.07 1)" font-size="21.0" fill="#1a1718" style="font-weight:bold;">d</text>
<line x1="626.00" y1="48.40" x2="626.00" y2="221.70" stroke="#231f20" stroke-width="1.8"/>
<line x1="623.60" y1="221.00" x2="626.00" y2="221.00" stroke="#231f20" stroke-width="1.2"/>
<line x1="623.60" y1="199.50" x2="626.00" y2="199.50" stroke="#231f20" stroke-width="1.2"/>
<line x1="623.60" y1="178.00" x2="626.00" y2="178.00" stroke="#231f20" stroke-width="1.2"/>
<line x1="623.60" y1="156.50" x2="626.00" y2="156.50" stroke="#231f20" stroke-width="1.2"/>
<line x1="623.60" y1="135.00" x2="626.00" y2="135.00" stroke="#231f20" stroke-width="1.2"/>
<line x1="623.60" y1="113.50" x2="626.00" y2="113.50" stroke="#231f20" stroke-width="1.2"/>
<line x1="623.60" y1="92.00" x2="626.00" y2="92.00" stroke="#231f20" stroke-width="1.2"/>
<line x1="623.60" y1="70.50" x2="626.00" y2="70.50" stroke="#231f20" stroke-width="1.2"/>
<line x1="623.60" y1="49.00" x2="626.00" y2="49.00" stroke="#231f20" stroke-width="1.2"/>
<text x="620.50" y="225.40" font-size="13.6" text-anchor="end" fill="#231f20">0</text>
<text x="620.50" y="182.40" font-size="13.6" text-anchor="end" fill="#231f20">40</text>
<text x="620.50" y="139.40" font-size="13.6" text-anchor="end" fill="#231f20">80</text>
<text x="620.50" y="96.40" font-size="13.6" text-anchor="end" fill="#231f20">120</text>
<text x="620.50" y="53.40" font-size="13.6" text-anchor="end" fill="#231f20">160</text>
<text x="593.80" y="134.00" font-size="13.6" text-anchor="middle" fill="#231f20" transform="rotate(-90 593.8 134)">Expression level (TPM)</text>
<text x="656.00" y="67.40" font-size="13.6" text-anchor="middle" fill="#231f20" style="font-style:italic;">Klf5</text>
<circle cx="657.1" cy="75.4" r="1.55" fill="#888" stroke="#231f20" stroke-width="1.4"/>
<line x1="656.70" y1="194.30" x2="656.70" y2="205.80" stroke="#231f20" stroke-width="1.3"/>
<line x1="652.30" y1="194.30" x2="661.00" y2="194.30" stroke="#231f20" stroke-width="1.4"/>
<rect x="641.80" y="205.80" width="30.90" height="15.70" fill="#c0c0c0" stroke="#231f20" stroke-width="1.3"/>
<line x1="641.80" y1="217.80" x2="672.70" y2="217.80" stroke="#231f20" stroke-width="1.3"/>
<path d="M653.6 203.6 L659.6 209.2 M659.6 203.6 L653.6 209.2 M656.6 202.7 V210" fill="none" stroke="#231f20" stroke-width="1.3"/>
<text transform="translate(1.50 286.30) scale(1.07 1)" font-size="21.0" fill="#1a1718" style="font-weight:bold;">e</text>
<text x="22.30" y="297.70" font-size="14.3" text-anchor="start" fill="#231f20">Cell types of astrocytes</text>
<text x="22.30" y="314.30" font-size="14.3" text-anchor="start" fill="#231f20">coloured by type</text>
<rect x="19.60" y="319.80" width="178.40" height="177.20" fill="none" stroke="#6d6e70" stroke-width="1.4"/>
<g>
<path d="M23.9 397.5 C22.1 395.4 28.1 392.5 30.5 388.3 C32.9 384.1 36.2 377.3 38.4 372.5 C40.6 367.7 41.0 362.1 43.6 359.4 C46.2 356.7 49.4 357.7 54.2 356.2 C59.0 354.7 66.8 352.8 72.5 350.5 C78.2 348.2 83.7 343.5 88.3 342.6 C92.9 341.7 98.0 332.1 100.0 345.0 C102.0 357.9 102.4 406.6 100.0 420.0 C97.6 433.4 90.3 426.6 85.7 425.1 C81.1 423.7 76.9 414.7 72.5 411.3 C68.1 407.9 64.7 406.8 59.4 405.0 C54.1 403.2 46.9 402.1 41.0 400.8 C35.1 399.6 25.6 399.6 23.9 397.5 Z" fill="url(#gascw)" filter="url(#bl1)"/>
<path d="M150.0 468.0 C151.5 466.0 155.5 465.5 158.0 466.0 C160.5 466.5 163.3 468.7 165.0 471.0 C166.7 473.3 167.5 476.7 168.0 480.0 C168.5 483.3 168.7 488.3 168.0 491.0 C167.3 493.7 166.0 495.2 164.0 496.0 C162.0 496.8 158.2 497.0 156.0 496.0 C153.8 495.0 152.2 493.0 151.0 490.0 C149.8 487.0 149.2 481.7 149.0 478.0 C148.8 474.3 148.5 470.0 150.0 468.0 Z" fill="#a99bd7" opacity="0.95" filter="url(#bl1)"/>
<path d="M41.7 389.4h0M95.3 410.4h0M66.9 383.9h0M96.9 351.5h0M65.6 401.0h0M79.8 358.1h0M80.8 396.3h0M64.2 354.5h0M91.4 386.3h0M81.6 371.1h0M50.4 383.9h0M77.8 401.9h0M103.3 366.3h0M56.9 402.0h0M84.9 397.6h0M43.8 374.0h0M91.9 362.9h0M95.9 409.9h0M82.5 381.7h0M52.0 391.8h0M94.4 369.6h0M79.0 360.9h0M57.0 399.8h0M84.1 361.4h0M52.2 367.6h0M35.6 392.1h0M74.4 387.6h0M73.1 413.5h0M53.4 398.8h0M91.8 359.2h0M77.4 403.6h0M53.5 397.2h0M100.4 388.9h0M81.4 393.6h0M65.3 399.4h0M59.1 358.2h0M67.5 397.6h0M88.0 374.9h0M80.9 386.6h0M59.2 380.0h0M67.0 407.7h0M78.6 413.1h0M83.3 382.8h0M53.0 395.8h0M70.2 383.2h0M70.6 377.9h0M91.1 373.7h0M98.3 416.3h0M75.2 360.7h0M76.2 366.3h0M90.8 403.1h0M39.0 399.8h0M97.9 402.8h0M58.4 392.7h0M83.9 371.2h0M75.0 396.3h0M61.5 386.5h0M73.2 374.1h0M49.3 361.3h0M91.0 395.2h0M77.7 385.9h0M53.7 368.3h0M67.4 388.1h0M97.0 390.8h0M81.9 371.4h0M79.4 369.7h0M85.3 418.6h0M81.6 393.6h0M69.2 408.2h0M79.3 393.2h0M87.7 409.2h0M73.3 356.5h0M89.4 388.2h0M40.5 376.6h0M52.3 399.7h0M65.6 407.4h0M85.6 387.3h0M26.4 398.1h0M48.7 397.5h0M78.4 353.8h0M70.8 400.5h0M84.4 367.3h0M99.8 395.6h0M61.4 389.1h0M83.4 374.9h0M73.9 381.2h0M44.1 396.5h0M84.4 395.8h0M43.7 364.3h0M56.7 377.9h0M50.2 401.2h0M37.8 393.1h0M71.1 395.2h0M74.6 367.6h0M60.7 400.0h0M86.1 381.4h0M94.9 410.7h0M63.9 394.0h0M80.4 387.3h0M96.2 362.0h0M58.7 399.5h0M76.9 360.6h0M78.1 353.8h0M87.8 412.2h0M74.5 357.7h0M86.5 402.5h0M41.2 372.4h0M67.6 405.1h0M76.7 395.8h0M95.3 417.2h0M98.5 402.1h0M41.6 391.6h0M58.0 361.1h0M86.7 401.4h0M50.7 361.1h0M80.5 411.4h0M44.7 364.6h0M71.8 360.2h0M83.1 401.9h0M77.2 387.5h0M55.2 375.6h0M97.8 392.4h0M72.0 360.4h0M55.3 378.5h0M77.5 374.2h0M48.0 372.4h0M70.2 367.6h0M96.6 388.3h0M90.3 414.7h0M39.1 382.0h0M66.6 386.7h0M73.1 412.3h0M93.0 343.9h0M68.2 381.1h0M57.1 394.0h0M97.0 386.2h0M79.4 364.2h0M90.4 417.2h0M84.2 423.5h0M47.4 373.4h0M31.4 391.6h0M88.6 388.7h0M85.4 412.1h0M86.6 358.0h0M99.5 397.3h0M85.2 373.3h0M69.9 364.0h0M38.0 376.5h0M76.6 358.0h0M79.4 364.6h0M90.9 364.6h0M40.4 372.0h0M99.1 392.5h0M62.6 368.3h0M50.8 370.6h0M98.6 358.9h0M60.5 382.1h0M90.4 416.5h0M54.3 379.7h0M85.2 410.1h0M72.6 360.1h0M44.8 390.0h0M79.6 371.6h0M73.1 402.5h0M51.5 391.4h0M44.2 379.9h0M37.1 383.2h0M55.5 367.5h0M71.4 362.3h0M65.6 395.6h0M67.6 394.7h0M45.0 362.1h0M73.8 371.1h0M40.8 367.4h0M83.3 365.6h0M74.5 391.4h0M86.8 417.7h0M58.4 384.6h0M48.0 389.6h0M62.5 406.6h0M90.5 394.9h0M95.6 349.9h0M76.1 369.4h0M64.7 386.9h0M92.3 384.7h0M47.1 369.0h0M97.1 401.2h0M86.4 377.9h0M98.8 409.8h0M75.4 364.1h0M44.0 388.2h0M86.4 392.3h0M84.0 385.8h0M88.6 353.5h0M55.3 357.6h0M71.1 375.5h0M59.3 400.2h0M72.7 399.7h0M56.8 395.0h0M88.7 355.1h0M61.6 353.8h0M93.5 378.9h0M90.3 345.7h0M90.1 371.0h0M59.1 404.2h0M64.8 398.9h0M73.8 372.2h0M78.7 362.2h0M69.1 371.8h0M93.9 353.9h0M76.8 391.1h0M47.6 400.1h0M94.2 367.2h0M62.4 387.2h0M49.9 374.3h0M83.6 402.3h0M95.9 384.7h0M84.2 361.3h0M94.2 400.9h0M82.8 377.7h0M55.0 394.5h0M68.7 363.3h0M52.4 393.3h0M73.2 393.2h0M64.8 400.4h0M75.3 389.9h0M66.0 381.0h0M77.9 407.9h0M87.1 417.6h0M62.6 395.4h0M90.7 416.2h0M66.2 366.6h0M97.7 355.2h0M35.3 384.5h0M68.9 399.9h0M100.8 378.6h0M92.8 411.5h0M67.7 394.7h0M86.4 364.0h0M47.9 397.4h0M48.1 375.4h0M66.2 399.6h0M99.1 394.3h0M54.2 395.1h0M52.0 376.5h0M81.9 413.5h0M85.4 354.4h0M61.1 400.6h0M90.6 419.7h0M28.0 399.0h0M83.7 420.2h0M83.9 345.5h0M80.5 348.4h0M83.4 400.6h0M88.8 412.5h0M88.2 355.4h0M98.7 353.5h0M69.1 348.9h0M85.8 360.5h0M97.6 420.5h0M43.0 378.0h0M59.7 403.7h0M91.8 368.3h0M64.0 364.4h0M93.8 379.2h0M85.5 389.2h0M78.5 376.7h0M69.9 356.2h0M29.7 394.9h0M80.1 351.1h0M100.1 412.8h0M45.0 356.2h0M91.6 376.6h0M65.2 367.6h0M54.7 363.6h0M53.4 405.0h0M87.8 402.0h0M84.6 345.2h0M89.3 399.4h0M60.3 403.9h0M68.1 391.7h0M96.7 389.6h0M83.3 407.0h0M86.7 371.0h0M72.3 404.1h0M68.1 380.3h0M89.1 406.0h0M81.7 357.3h0M84.1 414.0h0M30.5 392.4h0M62.7 383.5h0M66.7 378.5h0M35.8 393.8h0M89.7 392.4h0M72.1 389.5h0M83.8 348.8h0M90.1 357.2h0M60.6 373.3h0M69.0 391.8h0M94.0 374.4h0M93.8 418.9h0M81.4 379.6h0M93.8 354.2h0M64.1 362.8h0M32.6 387.5h0M65.1 359.8h0M54.2 367.1h0M64.5 368.4h0M61.3 360.7h0M58.9 363.0h0M93.5 420.2h0M32.7 391.3h0M93.0 402.7h0M81.0 356.9h0M47.3 376.2h0M68.7 359.6h0M82.0 404.1h0M36.7 387.6h0M65.9 364.4h0M76.3 374.3h0M57.9 396.1h0M69.9 408.0h0M80.7 392.9h0M83.0 393.2h0M83.1 397.3h0M60.3 385.5h0M89.5 386.8h0M66.7 374.8h0M63.7 393.7h0M69.9 387.5h0M91.4 345.0h0M82.5 409.5h0M83.3 391.5h0M57.5 359.2h0M80.4 405.4h0M89.4 367.3h0M41.1 389.0h0M45.6 377.5h0M52.6 366.4h0M99.8 394.0h0M88.3 384.3h0M82.5 395.4h0M100.5 370.0h0M92.6 405.1h0M40.1 389.2h0M83.9 357.9h0M94.9 363.0h0M52.3 396.1h0M99.5 363.4h0M90.7 361.3h0M50.1 376.1h0M92.8 359.6h0M44.7 367.8h0M86.4 412.0h0M96.1 409.0h0M52.3 366.6h0M77.3 398.6h0M45.1 397.4h0M98.3 409.9h0M98.9 352.7h0M87.5 423.2h0M45.4 378.5h0M37.4 399.9h0M82.2 348.9h0M74.4 391.8h0M80.6 387.1h0M91.6 419.1h0M58.7 395.3h0M58.3 379.8h0M74.2 367.3h0M64.8 367.0h0M46.2 395.3h0M97.5 367.9h0M88.6 347.3h0M47.9 359.4h0M76.6 352.1h0M99.4 355.5h0M91.8 399.1h0M99.9 361.1h0M61.2 357.5h0M66.1 362.9h0M60.4 392.8h0M88.5 352.0h0M55.0 403.2h0M66.8 392.1h0M77.4 393.5h0M96.8 419.6h0M92.1 371.3h0M97.9 391.8h0M68.5 372.7h0M67.4 407.3h0M83.4 399.0h0M47.2 386.0h0M67.5 375.5h0M90.2 375.6h0M54.5 386.9h0M90.3 365.9h0M50.2 400.1h0M92.8 342.7h0M92.8 380.3h0M94.5 383.9h0M79.4 396.0h0M94.7 395.6h0M60.3 401.6h0M71.8 381.1h0M87.9 346.7h0M90.7 389.8h0M52.5 374.4h0M60.7 382.7h0M90.5 377.7h0M88.3 418.2h0M63.1 367.7h0M60.5 379.0h0M73.7 385.7h0M58.1 365.7h0M44.4 359.9h0M68.9 398.9h0M75.6 381.7h0M84.3 351.4h0M63.9 393.0h0M70.0 357.3h0M42.5 380.9h0M96.5 354.3h0M38.2 397.1h0M87.8 402.4h0M91.8 409.0h0M92.4 364.4h0M48.9 381.0h0M70.0 353.1h0M91.8 381.6h0M81.3 355.1h0M86.8 347.5h0M69.4 396.9h0M87.7 382.7h0M76.8 404.6h0M95.1 378.8h0M86.0 405.3h0M100.7 422.4h0M69.0 393.6h0M52.6 365.6h0M49.0 385.3h0M82.7 382.5h0M63.9 407.1h0M78.4 368.8h0M93.3 354.3h0M86.0 349.0h0M35.0 389.5h0M44.2 371.8h0M40.5 379.5h0M62.2 397.6h0M77.0 349.3h0M39.1 376.0h0M64.6 372.0h0M91.3 379.7h0M68.3 389.6h0M85.1 363.4h0M47.5 400.1h0M95.1 363.7h0M80.8 419.1h0M45.7 362.8h0M93.2 387.3h0M97.8 373.3h0M65.9 397.9h0M34.0 384.1h0M60.2 370.5h0M89.7 394.4h0M65.7 387.7h0M67.8 400.2h0M100.4 375.8h0M43.3 390.5h0M85.1 396.2h0M78.7 407.9h0M98.4 355.6h0M66.9 391.6h0M65.1 373.9h0M76.0 384.6h0M95.2 407.3h0M46.6 393.6h0M97.5 403.7h0M62.8 359.2h0M83.1 375.7h0M78.8 376.7h0M83.8 381.3h0M88.5 412.5h0M67.5 389.6h0M44.7 376.7h0M97.0 372.5h0M74.6 356.5h0M47.5 392.2h0M50.4 372.6h0M97.0 415.0h0M91.1 408.7h0M53.5 364.4h0M31.2 388.4h0M91.8 411.9h0M31.4 386.0h0M80.5 414.4h0M91.1 416.8h0M35.0 382.6h0M49.3 373.4h0M85.2 349.9h0M92.5 394.7h0M96.5 402.3h0M99.6 366.1h0M65.2 400.2h0M82.0 359.1h0M84.0 387.3h0M40.3 386.9h0M73.4 364.8h0M49.6 374.4h0M97.8 375.6h0M92.6 415.0h0M76.7 370.1h0M36.6 393.0h0M61.2 355.0h0M80.0 354.1h0M88.8 402.9h0M52.4 371.6h0M94.0 398.9h0M68.0 354.2h0M81.2 406.4h0M47.6 396.0h0M90.5 365.4h0M76.8 372.8h0M78.9 370.1h0M68.1 357.1h0M80.4 399.6h0M54.3 364.6h0M31.4 386.7h0M80.8 416.4h0M53.6 361.6h0M60.4 391.1h0M80.5 396.2h0M75.7 362.8h0M51.8 375.8h0M97.8 404.5h0M55.4 398.5h0M65.4 361.6h0M69.6 391.2h0M79.8 381.4h0M80.0 384.9h0M99.8 380.1h0M68.7 363.5h0M97.5 366.4h0M82.6 398.8h0M77.1 399.0h0M91.7 344.3h0M86.0 421.6h0M74.3 408.8h0M72.5 402.1h0M88.0 372.6h0M74.7 409.7h0M96.5 374.7h0M66.8 391.7h0M88.0 371.6h0M83.3 394.0h0M90.0 389.6h0M85.7 381.1h0M72.5 381.9h0M47.6 387.1h0M48.1 372.9h0M62.5 399.7h0M94.1 398.6h0M34.5 381.3h0M95.2 385.0h0M52.6 383.7h0M88.9 405.0h0M43.9 359.7h0M89.5 409.4h0M101.3 355.8h0M72.4 370.0h0M82.5 354.1h0M48.3 379.9h0M73.1 377.4h0M35.3 390.4h0M37.5 388.8h0M73.8 387.4h0M59.7 381.3h0M37.2 392.4h0M67.2 352.6h0M34.2 392.3h0M36.4 396.4h0M96.2 413.4h0M95.7 350.8h0M97.8 380.7h0M92.0 348.2h0M99.6 367.5h0M74.9 414.1h0M34.9 384.4h0M82.8 372.0h0M77.7 388.3h0M75.4 377.5h0M101.7 346.9h0M73.5 363.6h0M75.0 405.6h0M64.9 403.2h0M75.3 397.2h0M94.9 378.2h0M95.6 388.1h0M51.4 401.7h0M78.1 383.7h0M34.6 396.0h0M64.7 389.6h0M94.3 420.0h0M72.1 380.4h0M63.0 390.9h0M63.5 367.2h0M71.3 387.7h0M84.9 418.2h0M61.1 372.4h0M73.6 376.0h0M85.1 372.7h0M42.0 386.0h0M68.9 366.7h0M90.3 356.6h0M54.6 371.8h0M66.4 366.4h0M74.0 399.1h0M83.6 359.9h0M36.8 391.9h0M96.3 349.1h0M74.0 381.7h0M64.9 371.8h0M92.9 400.8h0M89.2 391.4h0M97.4 419.5h0M60.3 402.4h0M31.9 385.5h0M92.1 364.5h0M94.6 387.4h0M89.3 380.4h0M49.2 383.4h0M62.4 363.8h0M88.7 396.6h0M73.1 354.9h0M61.6 395.8h0M96.4 364.6h0M50.8 363.1h0M98.0 381.8h0M88.3 367.0h0M76.7 371.7h0M87.2 425.8h0M87.5 401.0h0M70.6 364.3h0M46.7 361.4h0M52.0 382.8h0M79.8 402.5h0M90.8 374.0h0M86.7 381.8h0M82.0 400.5h0M59.7 390.2h0M61.3 376.2h0M68.1 356.7h0M26.1 395.3h0M85.8 368.0h0M76.8 355.5h0M71.7 387.7h0M53.0 384.6h0M71.6 354.7h0M93.8 368.2h0M48.2 387.5h0M62.0 387.4h0M75.2 395.6h0M54.7 360.5h0M97.3 359.1h0M83.3 414.0h0M83.4 360.9h0M62.7 370.3h0M75.6 396.2h0M51.2 363.4h0M80.8 364.8h0M84.5 379.2h0M60.9 393.1h0M95.6 408.7h0M87.3 421.1h0M84.3 400.2h0M52.7 368.9h0M91.5 422.1h0M81.4 366.8h0M89.0 377.2h0M70.2 360.6h0M76.3 405.0h0M45.1 394.1h0M38.1 379.8h0M94.0 411.2h0M38.9 387.6h0M61.9 395.1h0M51.8 375.5h0M80.8 380.8h0M94.9 384.4h0M84.6 376.1h0M88.6 417.0h0M44.2 393.0h0M45.9 384.5h0M43.2 380.1h0M70.4 380.9h0M66.0 384.7h0M81.5 364.4h0M90.2 382.4h0M92.9 409.8h0M56.6 397.3h0M43.2 363.4h0M91.5 401.2h0M45.2 371.9h0M92.3 417.4h0M94.0 363.1h0M96.6 360.8h0M54.6 357.2h0M82.3 419.4h0M84.7 373.7h0M92.0 354.7h0M90.1 414.0h0M48.5 370.9h0M88.8 375.4h0M79.8 385.9h0M34.9 383.8h0M61.7 367.4h0M93.3 422.5h0M87.2 393.9h0M93.7 414.2h0M83.2 350.9h0M95.4 366.7h0M94.3 405.2h0M87.9 359.4h0M59.8 376.6h0M94.2 370.9h0M75.5 366.1h0M59.4 355.8h0M59.5 376.8h0M60.9 363.0h0M59.7 360.5h0M71.1 391.7h0M43.2 397.1h0M32.4 397.9h0M44.7 372.0h0M66.5 353.2h0M94.2 370.5h0M101.8 414.6h0M71.2 389.6h0M36.3 387.4h0M63.2 373.2h0M94.3 384.6h0M83.8 381.5h0M90.7 348.2h0M47.9 393.7h0M78.1 403.3h0M40.3 364.4h0M89.4 379.0h0M71.6 355.3h0M80.4 353.7h0M88.9 366.8h0M43.8 383.8h0M70.6 353.3h0M65.1 365.0h0M86.5 407.1h0M46.3 371.0h0M93.5 404.6h0M88.9 371.6h0M47.1 363.8h0M83.5 353.4h0M76.7 393.7h0M66.7 396.7h0M88.3 370.1h0M69.2 411.5h0M45.5 392.2h0M96.0 420.5h0M70.7 398.9h0M101.0 347.9h0M58.2 397.7h0M71.4 391.1h0M98.9 367.6h0M97.8 373.4h0M50.2 394.9h0M61.9 353.8h0M62.8 379.0h0M49.4 374.6h0M82.1 404.8h0M90.9 348.9h0M60.4 400.3h0M33.8 385.3h0M90.9 349.4h0M86.9 423.9h0M32.5 392.4h0M55.7 356.9h0M74.7 384.4h0M58.2 364.7h0M84.6 365.7h0M94.8 406.8h0M79.2 407.6h0M50.4 399.7h0M35.0 383.2h0M70.7 398.7h0M80.3 364.5h0M80.7 382.6h0M71.3 390.0h0M40.8 373.6h0M60.5 372.1h0M91.3 418.4h0M77.4 390.8h0M50.0 392.2h0" fill="none" stroke="#a37cc4" stroke-width="0.8" stroke-linecap="square" opacity="0.55"/>
<path d="M160.3 487.0h0M163.8 471.2h0M152.8 493.1h0M161.0 475.3h0M159.0 489.4h0M159.5 485.3h0M165.5 473.8h0M163.0 474.7h0M155.9 482.8h0M165.8 481.9h0M156.2 481.8h0M165.2 484.0h0M166.7 491.2h0M162.7 476.4h0M156.4 487.4h0M153.0 488.4h0M158.4 467.1h0M159.4 493.3h0M165.5 489.3h0M154.2 492.3h0M159.2 470.0h0M152.3 489.3h0M151.6 477.5h0M153.4 480.6h0M149.8 468.5h0M160.4 473.0h0M153.1 472.9h0M153.0 466.3h0M162.9 476.1h0M151.2 473.3h0M159.9 494.2h0M167.1 485.5h0M153.3 470.1h0M164.0 484.2h0M153.4 471.5h0M158.4 474.5h0M152.5 474.1h0M158.9 482.5h0M152.8 480.7h0M163.0 478.0h0M165.3 478.0h0M161.9 473.8h0M156.5 475.8h0M161.0 484.6h0M150.7 475.4h0M158.4 484.2h0M156.0 483.8h0M155.2 491.6h0M156.8 485.5h0M155.5 494.0h0M157.8 478.2h0M165.2 488.3h0M166.0 480.8h0M162.6 472.3h0M154.0 476.3h0M163.6 482.5h0M161.5 477.9h0M165.3 470.5h0M163.8 492.8h0M154.7 482.5h0M153.7 491.1h0M168.4 489.3h0M165.8 494.5h0M158.5 482.1h0M154.8 477.8h0M168.0 489.4h0M150.8 474.3h0M160.4 476.6h0M151.1 473.1h0M154.4 474.2h0M157.7 478.4h0M161.0 470.4h0M157.9 470.4h0M165.2 476.1h0M165.4 493.9h0M150.2 486.1h0M152.2 486.2h0M153.9 478.7h0M152.3 489.3h0M151.3 466.0h0M150.2 467.8h0M158.9 477.9h0M150.8 483.3h0M156.6 467.8h0M156.2 471.9h0M155.5 485.5h0M164.2 481.9h0M159.4 483.0h0M159.3 491.3h0M163.9 478.2h0M155.6 475.3h0M168.6 484.3h0M167.0 490.1h0M157.4 478.2h0M156.8 481.3h0M152.1 489.0h0M156.6 483.4h0M150.5 473.1h0M159.0 485.7h0M149.0 471.5h0M157.0 482.9h0M164.0 475.9h0M159.6 484.7h0M162.7 474.8h0M165.3 481.8h0M154.8 488.6h0M160.1 471.8h0M156.8 487.8h0M157.6 493.2h0M150.6 480.8h0M162.0 494.6h0M158.7 479.2h0M148.0 474.7h0M168.4 486.3h0M152.5 480.9h0M148.8 474.5h0M155.7 476.4h0M156.1 492.2h0M158.9 472.7h0M161.1 469.1h0M156.3 467.8h0M158.3 487.7h0M154.6 484.8h0M163.7 492.7h0M155.0 479.2h0M154.5 489.7h0M158.1 492.8h0M151.9 474.8h0M151.1 488.3h0M149.7 476.5h0M160.5 493.2h0M152.0 475.7h0M168.1 477.8h0M165.2 479.0h0M161.1 486.0h0M151.5 487.6h0M158.2 495.5h0M160.9 483.3h0M168.4 488.8h0M149.6 469.6h0M158.0 471.4h0M151.4 492.0h0M155.2 479.0h0M164.8 482.5h0M162.0 471.0h0M150.5 486.7h0M160.1 483.3h0M167.0 485.7h0M159.5 474.9h0M156.8 476.7h0M155.7 487.9h0M151.4 486.7h0M160.4 486.1h0M152.8 480.2h0M167.0 474.3h0M164.4 477.6h0M152.6 484.5h0M159.6 491.7h0M156.3 466.2h0M166.5 489.8h0M154.4 477.2h0M159.3 475.4h0M161.4 479.0h0M162.5 488.3h0M153.4 470.5h0M153.1 482.6h0M156.3 470.1h0M152.7 489.7h0M157.7 489.4h0M159.8 492.8h0M154.7 473.4h0M157.3 486.1h0M165.9 467.8h0M166.5 492.4h0M161.4 475.2h0M165.2 470.5h0M163.7 481.4h0M162.0 481.2h0M160.6 490.5h0M162.0 487.5h0M150.0 483.6h0M160.8 474.0h0M157.4 483.7h0M150.4 474.8h0M166.3 480.5h0M161.5 471.2h0M161.4 496.5h0M154.1 485.6h0M149.9 474.3h0M152.5 492.0h0M162.3 494.5h0M159.0 479.6h0M155.7 488.0h0M160.7 469.7h0M157.6 490.6h0M155.0 470.2h0M157.8 482.9h0M161.9 494.6h0M149.3 478.3h0M158.8 490.4h0M156.0 472.4h0M166.0 486.7h0M155.9 468.9h0M166.2 487.7h0M152.2 484.4h0M156.6 471.4h0M162.5 477.8h0M166.5 492.6h0M153.0 478.6h0M149.7 487.9h0M159.6 491.1h0M152.8 490.3h0M153.8 478.8h0M159.6 477.6h0M166.1 478.8h0M160.2 480.2h0M161.0 492.4h0M153.5 491.3h0M160.4 493.9h0M163.2 481.8h0M158.4 475.9h0M152.9 494.4h0M164.6 489.4h0M162.7 481.5h0M150.5 477.1h0M152.9 469.6h0M168.4 492.8h0M155.2 478.1h0M158.5 481.4h0M154.9 474.4h0M160.0 488.4h0M153.3 480.6h0M161.6 483.2h0M150.1 475.8h0M156.8 471.7h0M163.0 492.4h0M162.3 492.9h0M162.4 487.8h0M165.9 484.0h0M162.3 491.0h0M165.1 472.2h0M161.4 487.8h0M160.4 485.5h0M167.5 489.8h0M161.6 477.8h0M152.2 476.9h0M162.7 492.5h0M166.1 486.5h0M149.8 489.9h0M156.1 496.7h0M152.6 477.1h0M162.7 481.5h0M166.2 484.1h0M155.7 485.8h0M167.3 491.3h0M161.3 477.0h0M160.6 472.6h0M155.5 492.3h0M161.7 473.3h0M157.0 473.1h0M158.9 470.0h0M161.6 476.0h0M151.6 468.8h0M163.5 491.1h0M154.9 476.2h0M154.8 497.0h0M156.3 472.4h0M165.9 482.2h0M166.0 489.9h0M155.3 476.5h0M157.9 496.0h0M165.6 481.5h0M163.6 472.3h0M162.3 476.9h0M166.8 485.5h0M160.3 479.5h0M163.2 467.6h0M157.8 487.9h0M149.5 484.2h0M156.0 465.3h0M160.7 468.2h0M160.4 484.8h0M159.1 487.2h0M156.1 482.2h0M165.8 484.0h0M161.8 494.3h0M162.7 490.8h0M160.8 492.0h0M155.0 489.4h0M153.8 485.2h0M158.0 480.0h0M156.5 487.9h0M150.4 484.6h0M160.1 484.1h0M158.0 490.6h0M165.6 489.2h0M161.7 479.1h0M159.0 496.6h0M165.5 483.5h0M148.7 472.9h0" fill="none" stroke="#a595d6" stroke-width="0.8" stroke-linecap="square" opacity="0.5"/>
<path d="M136.0 440.0 C138.0 437.7 146.0 436.3 150.0 438.0 C154.0 439.7 157.8 444.7 160.0 450.0 C162.2 455.3 164.3 466.0 163.0 470.0 C161.7 474.0 155.0 475.3 152.0 474.0 C149.0 472.7 147.3 465.7 145.0 462.0 C142.7 458.3 139.5 455.7 138.0 452.0 C136.5 448.3 134.0 442.3 136.0 440.0 Z" fill="#a99bd7" opacity="0.3" filter="url(#bl1)"/>
<path d="M148.7 451.5h0M156.6 454.6h0M147.7 449.1h0M139.0 450.0h0M160.4 458.9h0M158.5 461.7h0M150.1 452.5h0M144.1 459.7h0M150.3 446.4h0M148.5 460.1h0M143.2 440.8h0M158.9 467.5h0M152.2 451.1h0M158.5 452.4h0M138.8 440.1h0M139.0 438.6h0M147.4 456.8h0M146.6 458.2h0M140.8 454.4h0M157.7 455.7h0M138.3 444.5h0M148.1 470.2h0M143.7 450.3h0M147.8 456.2h0M155.0 463.6h0M154.9 466.7h0M152.5 451.4h0M140.8 455.9h0M162.0 466.8h0M139.1 439.0h0M157.5 469.4h0M152.8 440.3h0M143.6 454.1h0M150.0 448.2h0M157.4 447.3h0M161.7 469.0h0M157.6 447.1h0M148.3 447.5h0M152.3 441.7h0M142.1 446.7h0M155.8 448.6h0M139.2 441.8h0M156.0 459.3h0M147.2 454.7h0M146.0 454.0h0M154.0 453.7h0M155.8 467.5h0M158.5 470.7h0M151.5 465.3h0M153.3 470.8h0M161.7 467.9h0M154.8 443.0h0M155.6 468.7h0M139.9 450.7h0M137.8 451.6h0M149.3 436.3h0M153.3 448.5h0M148.2 448.3h0M156.8 460.6h0M141.8 453.5h0M150.7 465.0h0M141.6 444.7h0M161.4 463.6h0M159.8 465.1h0M149.6 446.1h0M153.7 450.0h0M138.7 441.1h0M153.1 456.5h0M143.2 451.6h0M152.5 476.9h0M156.0 467.4h0M146.0 443.9h0M158.4 457.0h0M144.6 458.6h0M157.8 445.5h0M153.6 460.9h0M149.5 443.5h0M158.7 454.3h0M156.1 471.2h0M155.1 457.4h0M154.3 469.2h0M144.4 451.8h0M147.6 448.6h0M152.4 472.6h0M140.6 439.7h0M141.5 446.9h0M156.7 465.7h0M152.1 450.5h0M137.0 452.9h0M148.8 456.7h0M144.0 452.5h0M149.1 472.7h0M147.2 447.2h0M160.1 460.2h0M140.5 445.1h0M150.6 450.4h0M151.4 453.1h0M153.9 454.7h0M153.2 451.0h0M154.6 457.9h0M153.6 444.6h0M145.0 443.3h0M158.1 467.4h0M156.3 460.9h0M144.6 451.1h0M147.8 457.2h0M146.1 459.4h0M149.5 446.1h0M160.2 463.1h0M157.1 468.4h0M156.6 469.3h0M155.7 453.2h0M143.4 457.2h0M149.7 467.6h0M146.5 451.1h0M153.5 474.4h0M138.9 450.8h0M137.0 443.8h0M139.9 448.3h0M150.7 469.2h0M152.5 446.9h0M151.3 442.3h0M147.3 453.5h0M147.0 448.4h0M149.6 440.1h0M147.0 461.0h0M163.2 456.3h0M148.8 450.3h0M149.7 459.2h0M141.9 444.2h0M159.3 466.8h0M144.6 439.3h0M150.9 470.1h0M151.9 453.3h0M152.5 450.4h0M146.1 459.1h0M139.0 454.2h0M155.1 455.2h0M151.6 455.9h0M159.9 451.4h0M142.4 443.4h0M149.6 448.2h0M148.3 448.3h0M145.8 442.2h0M152.5 453.5h0M154.8 456.2h0M158.1 458.7h0M143.3 442.1h0M150.3 453.1h0M142.3 458.9h0M146.1 458.9h0M141.9 440.1h0M159.0 470.0h0M142.9 448.9h0M149.9 463.1h0M137.5 442.5h0M156.7 454.9h0M156.8 462.3h0M147.5 458.4h0M140.2 439.6h0M154.0 460.2h0M153.0 453.7h0M140.6 450.0h0M147.0 445.1h0M150.3 450.2h0M145.2 438.0h0M142.5 450.0h0M145.7 451.3h0M158.1 459.7h0M156.9 450.8h0M145.1 453.5h0M157.6 452.5h0M152.0 464.2h0M153.5 465.6h0M143.1 460.6h0M150.9 454.2h0M150.4 462.4h0M152.6 448.1h0M144.2 456.1h0M160.0 458.0h0M157.7 451.1h0M142.0 449.0h0M152.3 459.2h0M155.4 462.3h0M138.8 440.4h0M144.9 447.4h0M155.0 447.5h0M139.4 448.7h0M136.6 439.7h0M145.3 449.1h0M151.5 451.8h0M155.0 446.7h0M141.1 454.8h0M139.3 448.5h0M159.1 461.2h0M160.4 463.0h0M136.2 446.9h0M159.9 460.4h0M157.4 469.5h0M147.9 463.0h0M155.5 463.5h0M143.7 459.6h0M141.7 449.4h0M149.4 453.8h0M145.6 440.2h0M156.8 460.2h0M151.8 445.6h0M150.3 440.1h0M158.1 467.6h0M144.9 448.7h0M151.6 464.3h0M161.4 464.9h0M146.8 465.7h0M154.6 446.2h0M146.4 455.6h0M150.6 458.1h0M155.9 461.0h0M148.7 457.1h0M147.7 456.6h0M157.0 449.5h0M162.0 468.0h0M156.9 458.5h0M141.7 455.0h0M151.3 469.4h0M143.6 459.7h0M139.7 450.4h0M149.3 461.3h0M145.5 463.8h0M156.1 451.9h0M148.8 467.1h0M150.1 465.4h0M139.7 445.8h0M161.4 466.8h0M155.3 451.3h0M160.9 447.6h0M148.3 446.0h0M150.0 441.8h0M157.8 463.0h0M153.8 467.0h0M158.0 472.6h0M153.7 461.7h0M149.5 449.1h0M137.9 439.8h0M150.8 464.7h0M149.0 455.7h0M154.2 464.0h0M154.5 470.3h0M149.2 439.6h0M143.9 460.1h0M157.2 454.7h0M151.0 454.2h0M139.3 449.7h0M140.3 442.3h0M149.3 447.7h0M151.2 444.8h0M150.3 461.2h0M149.5 454.9h0M150.8 463.2h0M134.8 442.7h0M150.6 463.0h0M162.3 459.1h0M148.7 456.7h0M144.0 444.6h0M146.7 458.6h0M152.4 464.4h0M162.9 459.7h0M153.1 463.7h0M139.6 454.1h0M138.2 444.0h0M149.2 448.1h0M152.5 472.5h0M148.9 461.4h0M137.1 442.0h0M137.0 452.9h0M136.0 451.8h0M156.0 449.2h0M144.4 455.7h0M152.0 470.9h0M148.9 458.4h0M152.8 474.1h0M154.7 450.9h0M145.2 449.8h0M149.5 465.3h0M160.8 459.4h0M141.2 440.8h0M140.5 451.6h0M160.8 470.3h0M154.4 454.8h0M147.5 464.0h0M147.6 461.3h0M158.8 452.8h0M150.6 450.1h0M140.2 447.0h0M137.9 449.7h0M146.4 459.6h0M140.2 453.0h0M155.5 454.4h0M152.1 473.8h0M158.0 452.1h0M150.5 452.2h0M159.1 455.0h0M140.0 442.5h0M154.3 447.7h0M150.7 464.1h0M140.6 447.3h0M152.5 451.3h0M154.4 469.0h0M155.8 453.4h0M151.9 460.7h0M138.7 444.2h0M159.1 450.4h0M154.4 453.6h0M154.7 470.6h0M145.9 445.0h0M138.6 446.7h0M145.4 436.5h0M157.1 444.9h0M144.3 455.3h0M152.2 443.5h0M141.5 442.1h0M154.8 471.4h0M150.6 467.1h0M150.8 453.8h0M152.1 442.4h0M161.1 470.4h0M153.9 473.1h0M153.6 468.0h0M159.3 457.9h0M154.4 468.2h0M156.9 469.8h0M162.2 470.7h0M149.9 446.4h0M151.6 465.3h0M147.8 467.3h0M141.9 439.1h0M153.9 449.9h0M161.3 465.8h0M144.8 454.1h0M153.9 453.1h0M139.0 442.2h0M152.3 450.2h0M146.1 457.3h0M150.1 452.9h0M145.0 453.4h0M141.7 453.5h0M161.1 467.3h0M147.2 449.0h0M152.6 471.5h0M155.4 459.1h0M139.9 442.1h0M156.3 449.2h0M155.3 447.7h0M151.1 463.9h0M161.0 463.8h0M159.1 456.7h0M161.7 456.7h0M148.8 448.0h0M156.9 461.6h0M148.0 462.1h0M148.7 454.3h0M155.4 470.6h0M155.3 452.9h0M156.6 460.9h0M143.8 458.5h0M144.5 441.6h0M149.4 439.0h0M155.7 462.3h0M159.2 463.8h0M138.2 444.6h0M154.7 470.4h0M157.5 464.0h0M145.7 465.2h0M145.9 440.3h0M161.2 450.6h0M144.6 460.7h0M149.3 461.3h0M148.9 448.1h0M151.2 459.8h0M144.6 440.0h0M153.8 458.2h0M147.3 455.1h0M150.4 467.2h0M150.3 448.1h0M146.8 440.7h0M148.6 452.0h0M160.3 453.7h0M157.7 448.4h0M152.3 447.7h0M158.5 452.3h0M156.6 461.6h0M149.7 449.9h0M145.5 457.7h0M148.0 461.0h0M156.8 459.2h0M151.8 449.6h0M137.1 441.0h0M153.8 458.1h0M135.3 443.4h0M150.6 456.7h0M151.8 452.1h0M157.5 446.3h0M154.2 459.8h0M155.6 471.1h0M144.7 437.3h0M141.7 457.6h0M145.0 458.7h0M139.7 448.2h0M145.4 443.7h0M164.3 467.5h0M148.4 461.7h0M155.9 454.1h0M153.0 446.5h0M140.0 445.3h0M148.9 443.2h0M138.8 441.6h0M145.1 459.3h0M138.5 444.5h0M151.7 458.9h0M155.1 453.5h0M154.6 456.3h0M144.8 443.4h0M147.9 457.0h0M150.8 450.5h0M155.8 454.8h0M148.0 451.7h0M152.9 443.4h0M154.6 474.6h0M148.2 439.5h0M148.6 468.0h0M141.9 439.3h0M137.6 439.8h0M149.0 468.0h0M151.0 441.3h0M135.4 448.2h0M141.8 439.9h0M150.5 456.6h0M150.4 473.5h0M146.7 450.2h0M137.1 444.1h0M144.5 463.1h0M150.5 472.7h0M158.4 460.5h0M138.4 445.9h0M151.9 460.7h0M153.9 448.0h0M150.7 470.0h0M152.8 468.9h0M146.3 458.8h0M154.7 455.8h0M137.9 448.1h0M147.9 451.6h0M144.3 454.8h0M157.4 454.2h0M152.6 455.2h0M151.7 472.9h0M134.5 449.5h0M146.0 446.9h0M159.0 459.5h0M143.1 449.3h0M150.4 452.9h0M158.3 470.2h0M147.4 461.8h0M144.9 457.3h0M152.9 465.6h0M144.9 441.3h0M156.3 461.7h0M144.7 461.4h0M153.1 463.5h0M141.6 456.3h0M157.2 469.1h0M144.4 459.7h0M149.4 470.0h0M144.3 441.5h0M148.5 456.9h0M150.0 462.8h0M152.3 442.5h0M162.3 463.4h0M153.2 455.4h0M158.1 466.4h0M154.5 452.5h0M149.2 440.6h0M157.0 453.2h0M153.6 469.0h0M141.7 445.2h0M158.0 451.4h0M149.3 466.5h0M158.6 446.5h0M140.9 452.8h0M159.7 456.6h0M134.5 447.0h0M145.6 463.3h0M146.9 453.4h0M150.3 447.4h0M149.5 438.0h0M150.1 450.2h0M139.2 449.2h0M143.1 448.9h0M145.9 457.7h0M150.1 449.7h0M157.3 452.2h0M144.0 454.2h0M150.4 464.6h0M138.9 447.3h0M149.2 459.1h0M148.9 448.9h0M147.3 450.5h0M144.3 452.7h0M139.1 450.5h0M144.4 451.3h0M141.1 459.4h0M147.8 438.3h0M141.5 444.0h0M160.6 467.2h0M154.5 445.1h0M138.7 447.3h0M139.9 452.0h0M158.0 469.8h0M149.3 441.6h0M136.9 445.8h0M162.5 470.3h0M139.6 441.5h0M152.4 468.4h0M151.2 459.2h0M156.7 448.0h0M155.6 460.3h0M149.7 450.3h0M158.7 465.4h0M151.0 462.7h0M141.2 443.2h0M159.3 448.7h0M151.5 458.0h0M147.8 444.4h0M147.7 441.5h0M151.6 446.4h0M145.0 461.3h0M155.2 461.9h0M151.6 473.4h0M155.9 457.5h0M161.3 469.7h0M154.5 452.2h0M150.7 444.2h0M160.1 467.3h0M150.8 458.8h0M155.7 459.9h0M141.7 443.2h0M149.3 453.5h0M162.5 467.3h0M155.4 466.0h0M153.4 451.4h0M152.7 469.0h0M145.9 446.5h0M147.4 441.0h0M148.9 443.9h0M150.3 451.3h0M154.8 465.4h0M143.5 454.5h0M148.9 442.4h0M155.7 465.9h0M140.7 450.6h0M147.1 452.3h0M153.5 464.9h0M150.3 449.1h0M154.1 461.4h0M141.1 452.3h0M144.8 452.5h0M141.5 439.8h0M139.2 447.4h0M150.4 450.1h0M136.7 442.2h0M143.9 447.2h0M152.5 469.8h0M145.3 448.7h0M147.0 468.2h0M152.1 459.9h0M156.3 453.9h0M160.3 457.5h0M149.2 450.5h0M148.6 446.3h0M144.6 451.5h0M152.2 463.6h0M152.4 464.3h0M152.7 458.2h0M144.3 453.3h0M156.7 465.1h0M147.0 456.9h0M154.7 464.6h0M159.6 466.1h0M154.6 465.5h0M142.7 449.8h0M152.3 438.1h0M139.3 449.1h0M144.6 449.7h0M145.6 462.9h0M156.9 454.0h0M150.1 439.0h0M139.9 453.8h0M152.3 458.8h0M156.0 456.8h0M150.3 460.4h0M147.8 457.5h0M154.4 447.7h0M149.0 454.6h0M158.7 462.9h0M147.4 449.0h0M154.0 457.9h0M151.0 466.5h0M144.8 448.1h0M153.1 469.5h0M152.2 448.7h0M145.0 451.8h0M158.3 453.8h0M151.9 461.3h0M153.4 472.4h0M151.2 460.2h0M146.6 449.2h0M157.0 456.8h0M159.3 460.1h0M156.7 470.4h0M156.7 447.6h0M146.3 457.6h0M155.7 471.5h0M152.1 451.0h0M157.5 468.3h0M153.1 446.2h0M151.2 449.2h0M144.3 440.3h0M154.6 453.8h0M157.8 450.3h0M156.4 463.5h0M138.0 447.8h0M154.5 453.5h0M154.3 444.0h0M143.1 449.0h0M141.4 448.5h0M145.3 447.8h0M146.0 452.6h0M150.9 454.9h0M160.0 466.0h0M158.5 453.6h0M155.6 455.1h0M141.2 446.4h0M158.9 461.2h0M147.5 454.8h0M152.0 450.4h0M147.2 453.8h0M156.7 446.6h0M140.3 453.4h0M147.5 458.6h0M148.7 441.0h0M149.6 461.2h0M163.1 466.3h0M160.5 468.8h0M157.8 467.7h0M145.1 454.0h0M151.9 469.3h0M150.1 442.3h0M156.0 447.0h0M147.1 458.1h0M143.6 453.8h0M155.6 457.8h0M155.9 444.6h0M153.3 459.4h0M157.0 468.2h0M149.1 442.1h0M149.2 456.9h0M148.1 443.6h0M148.6 456.6h0M154.9 467.8h0M143.2 446.2h0M145.2 447.1h0M159.3 462.8h0M159.2 461.9h0M156.6 473.1h0M157.4 445.3h0M161.8 461.2h0M153.5 447.4h0M149.4 468.0h0M148.5 445.8h0M135.4 442.2h0M140.0 441.2h0M139.8 439.6h0M147.5 464.6h0M151.5 458.4h0M149.2 467.5h0M142.5 442.7h0M150.7 460.5h0M137.8 440.5h0M152.6 453.0h0M141.6 451.0h0M147.2 449.3h0M151.6 458.2h0M149.3 463.7h0M148.5 463.9h0M145.2 459.5h0M148.1 447.0h0M153.8 460.3h0M141.4 450.8h0M154.7 461.8h0M152.1 467.6h0M159.8 456.7h0" fill="none" stroke="#a595d6" stroke-width="0.9" stroke-linecap="square" opacity="0.6"/>
<path d="M80.4 348.9 C84.1 345.0 91.3 338.9 98.8 335.8 C106.2 332.7 116.3 331.4 125.1 330.5 C133.9 329.6 145.3 331.7 151.4 330.5 C157.5 329.3 159.4 323.1 161.9 323.5 C164.4 323.9 163.7 330.8 166.5 333.1 C169.3 335.4 176.7 334.2 179.0 337.3 C181.3 340.4 179.4 345.6 180.5 351.5 C181.6 357.4 184.5 365.5 185.5 372.5 C186.5 379.5 187.1 387.4 186.3 393.6 C185.6 399.9 183.6 405.4 181.0 410.0 C178.4 414.6 175.0 417.3 171.0 421.0 C167.0 424.7 161.8 428.5 157.0 432.0 C152.2 435.5 146.8 439.5 142.0 442.0 C137.2 444.5 133.0 446.8 128.0 447.0 C123.0 447.2 117.7 445.8 112.0 443.5 C106.3 441.2 99.3 436.9 93.6 433.0 C87.9 429.1 81.3 425.1 77.8 419.8 C74.3 414.6 73.2 408.5 72.5 401.5 C71.8 394.5 73.2 384.8 73.9 377.8 C74.6 370.8 75.4 364.2 76.5 359.4 C77.6 354.6 76.7 352.8 80.4 348.9 Z" fill="#9c5b87" filter="url(#bl1)"/>
<path d="M175.6 401.9h0M84.0 371.7h0M125.4 418.7h0M145.1 415.6h0M151.5 340.8h0M151.2 382.5h0M110.4 374.3h0M118.3 386.7h0M85.9 420.4h0M130.5 435.7h0M162.7 424.3h0M88.1 413.4h0M128.5 405.4h0M80.4 376.7h0M94.7 353.5h0M148.0 417.7h0M145.4 386.6h0M101.1 388.4h0M161.9 385.8h0M130.3 378.7h0M139.7 364.0h0M158.0 406.7h0M127.9 375.3h0M112.0 432.1h0M129.7 333.3h0M93.2 390.6h0M113.7 358.6h0M86.3 432.4h0M173.1 355.6h0M123.9 431.2h0M150.1 331.7h0M122.6 391.9h0M107.7 405.5h0M101.2 347.3h0M131.1 346.9h0M132.2 370.5h0M100.8 403.2h0M130.7 440.0h0M74.5 411.2h0M149.4 427.1h0M147.2 393.6h0M107.6 345.4h0M114.8 364.7h0M155.4 353.5h0M79.3 388.8h0M128.3 389.1h0M138.1 385.7h0M147.4 335.8h0M129.0 381.6h0M166.5 421.4h0M151.8 419.5h0M142.4 333.2h0M84.2 422.6h0M116.6 348.4h0M168.5 348.3h0M103.9 440.6h0M174.1 345.2h0M143.3 400.9h0M123.5 392.6h0M184.9 362.9h0M132.1 429.0h0M107.1 371.0h0M116.5 397.2h0M115.8 390.6h0M127.0 442.1h0M91.9 358.3h0M130.6 343.6h0M101.1 432.1h0M99.5 350.6h0M156.5 380.4h0M156.6 427.3h0M146.2 432.1h0M140.8 363.7h0M133.5 373.9h0M80.2 382.8h0M111.5 365.5h0M152.0 359.7h0M128.5 387.6h0M129.4 434.3h0M112.2 351.5h0M159.1 333.1h0M130.0 412.8h0M81.4 386.4h0M131.4 422.5h0M148.0 404.6h0M172.1 391.1h0M162.4 372.6h0M164.4 384.7h0M184.5 372.1h0M151.4 335.6h0M129.6 380.7h0M157.3 357.1h0M126.5 340.8h0M161.8 393.8h0M116.8 406.1h0M174.0 374.4h0M174.5 389.8h0M164.6 354.4h0M106.2 340.8h0M81.2 425.2h0M113.5 431.7h0M102.9 364.2h0M170.9 360.4h0M86.4 364.4h0M108.4 345.2h0M82.5 380.5h0M77.7 389.1h0M95.4 421.2h0M171.7 337.6h0M115.5 358.6h0M150.8 372.3h0M109.5 442.3h0M120.0 416.3h0M121.6 409.2h0M117.4 429.5h0M160.6 325.9h0M105.1 420.9h0M174.9 420.1h0M120.4 425.7h0M125.5 444.9h0M80.6 390.8h0M96.2 370.8h0M163.1 423.3h0M125.4 349.8h0M162.0 408.6h0M159.0 327.8h0M77.7 398.5h0M99.7 393.4h0M88.3 388.0h0M114.0 372.8h0M107.3 384.5h0M150.5 411.2h0M181.9 381.1h0M159.1 373.3h0M166.5 344.0h0M101.8 383.7h0M85.0 386.4h0M151.9 352.0h0M136.2 410.9h0M101.6 377.0h0M169.8 341.8h0M157.6 391.6h0M135.3 427.5h0M167.8 362.4h0M149.9 426.2h0M133.4 339.6h0M155.4 345.3h0M139.7 345.1h0M132.2 351.5h0M112.1 392.6h0M164.0 355.7h0M140.6 380.8h0M95.5 345.7h0M140.0 395.5h0M109.3 352.7h0M177.9 408.5h0M116.1 420.2h0M105.9 343.4h0M142.9 371.5h0M95.0 391.2h0M153.3 328.7h0M114.6 392.9h0M144.3 345.9h0M138.8 382.5h0M114.0 390.3h0M143.8 337.2h0M130.7 346.0h0M164.0 370.7h0M159.0 385.0h0M132.2 413.3h0M172.6 355.8h0M105.7 401.4h0M159.1 385.2h0M145.5 385.2h0M104.5 350.2h0M76.6 408.1h0M81.1 372.4h0M89.0 410.8h0M94.8 362.6h0M143.5 390.6h0M119.6 419.6h0M115.4 417.7h0M118.0 355.3h0M160.5 405.0h0M133.5 377.6h0M156.1 419.8h0M107.6 404.7h0M153.6 382.0h0M100.7 353.8h0M151.3 384.1h0M113.5 376.7h0M144.7 413.3h0M176.4 410.3h0M89.9 390.5h0M104.5 419.3h0M136.3 339.6h0M111.9 414.0h0M130.7 345.2h0M177.8 369.7h0M88.0 367.8h0M147.1 341.2h0M125.0 407.1h0M89.3 360.5h0M150.8 357.6h0M117.6 335.0h0M184.6 375.0h0M70.9 408.6h0M95.1 419.6h0M169.0 352.5h0M144.5 426.6h0M101.0 344.8h0M72.0 394.6h0M101.0 404.2h0M182.0 380.5h0M155.4 374.5h0M80.0 389.5h0M184.0 361.7h0M141.1 391.4h0M101.9 342.2h0M157.2 400.0h0M105.0 439.8h0M159.1 347.7h0M78.1 367.2h0M167.2 399.5h0M109.2 407.5h0M172.6 356.9h0M108.3 422.3h0M126.7 443.9h0M131.5 406.1h0M97.2 413.6h0M118.0 338.7h0M84.4 369.2h0M145.1 378.9h0M172.5 383.6h0M88.3 347.3h0M120.0 368.7h0M94.7 387.3h0M173.3 414.1h0M104.4 387.1h0M125.2 390.8h0M98.1 421.4h0M101.9 349.8h0M167.8 372.0h0M143.6 332.9h0M162.7 405.6h0M89.2 399.8h0M163.9 369.7h0M103.9 364.3h0M96.4 416.9h0M74.4 364.9h0M124.7 422.8h0M98.2 423.0h0M101.8 409.5h0M182.3 345.3h0M128.2 393.4h0M164.0 390.2h0M175.9 354.4h0M129.5 365.5h0M120.3 401.7h0M149.5 373.4h0M95.5 419.5h0M167.5 378.0h0M107.4 362.5h0M114.9 395.2h0M119.8 338.8h0M123.6 393.3h0M160.8 350.6h0M120.5 389.3h0M146.1 375.9h0M146.7 352.0h0M102.0 382.8h0M149.8 361.6h0M145.1 439.6h0M144.9 414.4h0M142.4 439.0h0M142.3 398.7h0M182.2 371.5h0M172.5 348.3h0M148.4 431.7h0M172.1 367.1h0M103.0 430.8h0M147.6 393.7h0M147.3 429.1h0M140.8 412.4h0M127.5 360.4h0M134.8 384.5h0M127.0 405.8h0M119.0 445.7h0M90.2 390.3h0M139.7 363.9h0M131.8 424.0h0M143.8 352.5h0M108.7 374.0h0M93.7 393.2h0M155.5 400.1h0M171.7 375.6h0M168.3 374.5h0M81.1 374.1h0M139.2 418.0h0M164.5 342.9h0M129.2 355.8h0M161.7 389.4h0M84.1 391.9h0M110.6 364.7h0M117.4 383.7h0M150.6 340.8h0M100.8 388.8h0M99.6 346.5h0M120.7 332.2h0M125.6 426.5h0M134.3 347.4h0M147.5 414.6h0M107.8 367.2h0M188.5 375.9h0M143.2 404.8h0M137.0 340.8h0M165.4 356.5h0M134.1 370.5h0M179.8 346.0h0M122.4 401.2h0M87.9 403.1h0M107.1 393.6h0M132.6 346.0h0M162.0 423.9h0M98.2 359.5h0M170.2 414.0h0M127.7 349.4h0M161.9 354.7h0M96.9 385.9h0M79.1 381.8h0M149.9 342.4h0M127.5 358.1h0M91.0 402.2h0M129.4 348.7h0M108.0 399.8h0M179.7 344.3h0M189.0 383.2h0M177.6 355.8h0M105.5 351.8h0M153.2 411.0h0M145.6 411.8h0M138.1 369.8h0M97.2 414.8h0M152.4 420.8h0M101.6 395.2h0M124.6 371.4h0M174.0 375.6h0M87.6 370.9h0M111.6 390.5h0M93.4 405.3h0M75.7 384.3h0M95.1 340.5h0M159.7 356.0h0M118.3 357.0h0M120.7 392.4h0M167.5 373.7h0M114.7 353.3h0M180.7 394.4h0M125.3 379.9h0M158.2 369.1h0M158.9 356.3h0M94.3 395.5h0M113.2 438.3h0M95.0 373.4h0M161.7 355.9h0M113.1 432.1h0M137.6 403.1h0M133.6 407.8h0M156.7 383.1h0M179.0 391.9h0M97.0 395.0h0M160.3 364.1h0M96.8 412.0h0M141.1 348.6h0M145.1 338.4h0M94.7 395.7h0M156.9 383.7h0M148.9 369.1h0M167.4 332.9h0M143.7 330.8h0M158.9 364.3h0M139.2 420.2h0M82.9 402.7h0M97.7 348.4h0M167.4 350.8h0M88.0 423.2h0M160.2 328.4h0M79.6 395.5h0M135.9 347.1h0M158.8 389.0h0M87.5 365.4h0M178.9 410.0h0M86.7 355.4h0M101.2 399.4h0M134.0 427.1h0M143.3 383.7h0M153.8 374.9h0M162.6 388.4h0M155.0 350.1h0M90.7 401.4h0M96.0 345.0h0M77.5 418.6h0M115.0 389.8h0M115.7 431.5h0M110.8 330.9h0M77.2 405.8h0M100.2 383.2h0M93.1 386.2h0M100.2 370.6h0M127.0 355.4h0M110.9 415.9h0M78.4 400.1h0M112.6 400.0h0M152.1 391.2h0M126.5 398.3h0M151.6 394.6h0M87.7 401.8h0M174.3 349.4h0M159.2 379.3h0M121.5 429.9h0M146.0 421.5h0M146.4 359.5h0M176.3 353.0h0M90.9 343.9h0M79.0 393.7h0M124.0 342.6h0M109.3 336.8h0M80.6 390.5h0M93.5 383.3h0M169.6 384.1h0M160.9 405.2h0M149.7 385.7h0M91.1 387.3h0M144.6 435.8h0M109.8 347.9h0M111.4 343.8h0M130.8 363.4h0M162.3 393.7h0M147.0 365.0h0M168.2 377.0h0M84.9 392.0h0M129.4 381.3h0M86.0 373.5h0M146.4 333.8h0M102.3 341.5h0M178.7 399.0h0M101.6 404.3h0M153.1 382.4h0M168.1 367.2h0M78.0 418.6h0M179.9 387.6h0M127.6 409.4h0M114.7 395.5h0M78.9 405.5h0M94.2 377.4h0M130.3 391.8h0M117.2 353.5h0M127.9 415.9h0M134.5 382.6h0M90.4 386.9h0M122.2 415.5h0M167.2 412.0h0M158.6 389.3h0M163.9 418.8h0M123.3 416.8h0M120.4 427.6h0M111.7 387.0h0M106.5 366.8h0M78.3 350.3h0M163.5 367.5h0M108.6 352.6h0M116.0 409.5h0M148.2 338.3h0M109.7 339.0h0M126.1 446.4h0M106.1 424.7h0M107.9 348.6h0M137.5 407.7h0M129.8 375.6h0M78.6 407.2h0M184.0 405.9h0M158.8 330.1h0M86.1 371.3h0M171.0 382.5h0M183.1 389.6h0M146.2 404.0h0M169.8 349.3h0M102.9 374.9h0M160.2 428.9h0M107.8 422.6h0M85.7 395.8h0M149.7 364.3h0M168.9 344.2h0M138.5 384.0h0M141.6 397.7h0M134.0 337.0h0M126.2 438.4h0M132.9 444.3h0M95.9 412.1h0M176.8 362.3h0M94.8 391.7h0M171.9 344.0h0M80.9 369.0h0M75.1 399.8h0M178.6 393.7h0M153.3 405.8h0M116.9 414.5h0M91.3 423.8h0M117.6 341.5h0M119.7 362.8h0M133.7 380.2h0M174.7 373.3h0M139.4 438.8h0M116.3 384.0h0M155.8 377.5h0M139.5 410.8h0M92.3 371.6h0M124.2 395.0h0M158.9 368.4h0M153.0 432.6h0M136.4 350.2h0M146.5 403.7h0M94.5 430.9h0M115.5 339.5h0M126.9 427.6h0M172.3 408.2h0M105.6 376.1h0M159.7 340.1h0M80.2 351.5h0M126.9 419.4h0M86.5 412.0h0M109.1 357.0h0M174.2 374.4h0M157.4 367.2h0M181.3 395.5h0M155.1 429.4h0M129.4 411.6h0M93.4 385.6h0M167.9 362.0h0M97.5 430.6h0M99.3 420.3h0M132.4 392.2h0M93.2 373.5h0M156.5 346.3h0M81.8 410.2h0M105.1 379.3h0M123.4 442.0h0M96.9 350.8h0M123.7 422.4h0M175.0 359.6h0M148.1 339.2h0M107.6 422.8h0M120.6 343.0h0M160.8 331.6h0M140.8 388.0h0M88.9 429.1h0M100.5 415.1h0M158.8 385.7h0M108.1 364.3h0M150.2 349.1h0M81.7 384.5h0M73.3 376.3h0M186.0 383.6h0M100.6 406.9h0M146.5 359.6h0M151.9 363.1h0M136.4 365.2h0M172.9 369.5h0M162.9 396.4h0M112.9 372.7h0M111.3 425.3h0M178.4 391.4h0M123.2 422.6h0M102.0 351.9h0M158.7 392.8h0M112.4 414.7h0M83.2 363.8h0M159.8 406.1h0M130.9 421.7h0M133.4 421.7h0M120.0 433.2h0M85.3 359.4h0M148.9 336.3h0M105.6 335.4h0M77.6 401.8h0M131.5 391.7h0M160.8 327.1h0M148.0 403.7h0M156.7 409.6h0M160.6 413.2h0M143.2 391.2h0M134.6 400.5h0M123.6 366.2h0M154.4 343.8h0M170.2 364.1h0M144.5 424.4h0M106.0 356.6h0M123.1 403.5h0M130.1 383.8h0M172.5 408.4h0M95.8 388.6h0M79.5 376.6h0M103.2 409.5h0M165.7 404.3h0M157.3 372.1h0M86.6 428.4h0M115.2 343.0h0M124.1 386.1h0M84.8 420.5h0M131.7 390.6h0M144.4 394.5h0M106.6 350.8h0M147.9 362.5h0M148.4 333.3h0M142.3 432.7h0M98.2 343.4h0M94.5 378.1h0M136.1 370.9h0M80.4 417.4h0M152.2 404.0h0M162.9 354.2h0M124.2 410.7h0M140.2 394.9h0M161.1 352.8h0M163.4 421.4h0M102.9 355.7h0M125.6 341.6h0M152.4 375.2h0M138.7 431.6h0M137.4 383.6h0M104.5 369.0h0M148.5 362.9h0M162.2 352.5h0M150.1 407.4h0M104.0 357.2h0M140.9 364.6h0M122.9 346.0h0M157.4 352.0h0M103.1 352.2h0M155.5 391.4h0M93.3 353.4h0M147.7 406.4h0M97.6 426.8h0M74.4 391.1h0M120.0 392.2h0M153.5 333.5h0M158.3 332.8h0M183.7 387.1h0M83.4 423.9h0M136.3 367.3h0M118.3 381.0h0M87.3 414.3h0M180.1 363.9h0M163.2 415.5h0M128.1 434.5h0M161.1 423.7h0M111.8 336.1h0M87.3 355.7h0M94.2 351.7h0M167.6 383.2h0M161.4 384.5h0M146.0 441.5h0M156.9 341.2h0M94.2 384.5h0M174.8 354.9h0M162.3 402.1h0M150.9 404.2h0M140.1 386.5h0M132.5 413.6h0M178.7 399.3h0M110.0 371.6h0M135.5 356.7h0M133.4 416.7h0M110.2 375.1h0M138.6 366.6h0M162.8 379.4h0M112.6 388.4h0M149.9 383.2h0M92.3 377.6h0M106.3 399.6h0M94.4 430.3h0M146.6 332.1h0M134.2 437.2h0M78.2 406.1h0M127.9 347.1h0M112.9 369.1h0M86.7 349.6h0M159.7 371.1h0M91.9 358.1h0M150.0 432.1h0M111.4 347.9h0M108.9 412.0h0M138.0 394.6h0M140.1 386.3h0M114.7 414.9h0M109.2 348.3h0M145.6 409.8h0M115.2 426.3h0M134.0 429.5h0M144.2 424.7h0" fill="none" stroke="#9c5b87" stroke-width="0.8" stroke-linecap="square" opacity="0.5"/>
<path d="M85.4 342.5h0M81.1 349.8h0M95.6 339.3h0M82.7 342.7h0M82.7 340.4h0M90.6 337.0h0M93.5 338.0h0M92.7 337.4h0M82.7 346.8h0M92.2 336.7h0M93.4 338.9h0M87.8 340.7h0M82.7 347.0h0M83.5 343.1h0M83.6 345.2h0M96.8 335.0h0M80.9 345.3h0M91.9 337.9h0M96.9 336.0h0M87.0 339.2h0M94.7 337.9h0M83.2 341.6h0M89.7 340.2h0M81.7 348.0h0M78.7 344.7h0M81.8 346.3h0M89.9 335.4h0M82.4 347.5h0M84.8 341.2h0M84.3 345.6h0M78.7 346.6h0M96.6 332.2h0M78.7 346.6h0M96.9 334.4h0M95.1 337.4h0M86.1 343.4h0M85.2 335.1h0M96.9 336.0h0M81.5 344.3h0M88.1 340.9h0M89.3 339.7h0M93.1 339.1h0M83.4 342.8h0M79.6 346.7h0M87.6 340.9h0M100.5 329.4h0M98.6 335.5h0M109.9 332.2h0M107.1 334.1h0M107.3 334.0h0M109.3 331.3h0M123.0 331.8h0M120.7 330.7h0M111.6 332.6h0M117.0 330.1h0M105.4 331.6h0M111.5 330.0h0M118.3 329.8h0M111.0 332.8h0M109.6 330.7h0M118.2 328.0h0M106.5 333.5h0M101.7 334.8h0M117.0 332.3h0M118.4 330.1h0M105.3 331.5h0M114.0 327.6h0M107.7 332.4h0M121.6 326.5h0M108.6 332.7h0M121.5 330.0h0M112.5 332.7h0M102.5 335.1h0M111.1 331.4h0M119.5 331.1h0M98.7 336.0h0M113.1 329.3h0M108.1 332.4h0M111.6 330.9h0M122.4 330.7h0M107.2 333.9h0M114.9 331.7h0M108.3 333.4h0M118.6 329.6h0M115.4 329.1h0M121.3 329.3h0M118.1 331.2h0M122.9 328.9h0M121.1 326.3h0M97.0 334.2h0M144.8 328.6h0M150.9 326.9h0M149.1 326.3h0M130.1 328.4h0M146.6 326.3h0M135.1 327.4h0M151.6 330.9h0M134.2 328.2h0M128.6 328.8h0M150.3 328.6h0M139.7 327.9h0M143.6 328.0h0M148.8 326.1h0M144.9 327.7h0M129.9 327.7h0M151.9 325.9h0M130.1 329.2h0M132.6 329.8h0M130.6 330.4h0M147.9 327.6h0M144.2 326.2h0M140.8 330.1h0M135.2 330.6h0M138.8 331.7h0M139.5 326.9h0M129.5 326.8h0M139.9 326.7h0M135.2 326.0h0M138.7 327.9h0M135.0 329.9h0M141.8 326.2h0M151.7 326.8h0M135.0 326.6h0M143.1 327.4h0M150.6 324.8h0M148.5 326.5h0M135.2 328.9h0M127.7 329.4h0M125.2 328.1h0M139.7 329.0h0M147.5 329.3h0M138.1 330.0h0M138.9 323.3h0M144.7 326.5h0M147.4 330.3h0M154.6 325.3h0M162.5 322.9h0M162.4 322.9h0M152.9 328.4h0M154.9 326.1h0M159.8 323.1h0M161.5 320.8h0M153.7 326.2h0M156.0 327.2h0M151.7 329.1h0M161.5 321.3h0M151.2 328.8h0M153.6 328.8h0M158.2 325.7h0M153.3 325.8h0M158.8 326.0h0M154.0 327.5h0M161.7 322.4h0M155.6 326.2h0M159.3 323.2h0M159.3 321.8h0M154.9 326.6h0M158.9 325.1h0M160.9 322.8h0M164.0 316.6h0M156.6 326.0h0M158.7 324.4h0M153.4 328.2h0M151.3 330.2h0M154.4 326.8h0M155.2 324.1h0M161.2 324.6h0M156.0 327.5h0M158.7 324.2h0M163.6 320.5h0M160.8 320.8h0M160.6 323.6h0M151.4 330.1h0M154.2 325.6h0M156.7 326.0h0M158.3 326.1h0M156.2 326.9h0M162.4 322.9h0M156.4 325.2h0M161.1 324.4h0M165.6 330.9h0M163.8 323.5h0M166.2 328.2h0M167.3 327.8h0M167.8 329.0h0M168.7 330.0h0M167.4 325.3h0M163.3 327.4h0M164.8 328.0h0M167.6 326.6h0M164.6 321.2h0M166.0 327.7h0M168.7 330.7h0M164.2 321.8h0M166.1 330.8h0M165.8 323.7h0M163.9 328.1h0M166.2 330.5h0M163.2 325.1h0M165.4 325.3h0M162.3 322.4h0M162.6 325.5h0M165.9 324.6h0M165.7 326.7h0M165.6 322.7h0M163.3 322.2h0M168.0 327.8h0M162.2 323.0h0M162.3 322.6h0M164.9 328.7h0M162.5 322.5h0M167.5 325.3h0M168.5 331.7h0M168.3 328.2h0M165.9 330.9h0M164.2 324.3h0M166.8 331.7h0M165.4 327.4h0M163.0 325.1h0M162.8 325.2h0M167.3 328.9h0M166.6 329.8h0M164.6 321.4h0M166.0 327.1h0M160.8 324.7h0M174.9 334.9h0M168.4 333.0h0M169.8 334.1h0M178.8 334.0h0M180.2 334.9h0M172.5 329.7h0M175.3 332.6h0M167.8 331.5h0M178.3 336.1h0M170.4 334.3h0M170.9 331.7h0M171.2 331.8h0M179.1 335.7h0M170.0 333.7h0M172.6 335.2h0M172.6 330.4h0M176.8 334.1h0M180.7 332.7h0M167.7 334.3h0M176.8 334.3h0M167.2 331.2h0M179.0 336.7h0M172.2 331.4h0M176.5 337.0h0M173.0 329.3h0M172.0 332.8h0M173.7 334.2h0M173.1 330.5h0M170.1 334.2h0M174.9 333.9h0M174.3 333.7h0M178.3 336.9h0M170.7 332.9h0M178.4 337.6h0M178.0 335.7h0M171.8 333.3h0M174.3 335.3h0M175.9 332.4h0M182.6 335.0h0M171.8 333.7h0M179.7 333.0h0M174.6 328.9h0M169.5 331.3h0M178.0 335.8h0M171.3 333.2h0M185.3 343.6h0M183.9 340.6h0M183.0 334.7h0M181.0 345.4h0M180.7 339.5h0M184.5 339.2h0M182.9 337.1h0M179.5 337.7h0M182.7 349.6h0M182.1 344.1h0M180.5 340.6h0M185.6 346.2h0M181.5 340.9h0M183.0 348.7h0M181.0 348.6h0M178.9 338.5h0M181.1 348.5h0M181.6 339.5h0M182.6 345.1h0M180.8 342.9h0M181.0 350.3h0M182.3 342.7h0M180.2 344.9h0M183.0 340.4h0M182.5 347.8h0M181.7 340.5h0M180.6 346.7h0M179.0 348.2h0M178.1 342.9h0M180.2 340.8h0M179.4 348.3h0M181.2 336.3h0M181.4 345.5h0M179.4 347.6h0M182.5 347.3h0M180.7 342.8h0M181.3 349.8h0M182.3 344.8h0M183.6 347.0h0M180.3 344.6h0M181.4 336.3h0M181.5 348.4h0M179.2 336.7h0M181.8 337.1h0M178.9 338.8h0M183.5 358.2h0M182.0 349.9h0M187.1 360.3h0M186.3 369.1h0M182.8 359.1h0M189.2 370.8h0M182.4 356.6h0M182.6 357.3h0M182.6 352.2h0M189.8 356.8h0M183.3 360.4h0M182.6 357.2h0M182.6 350.0h0M183.5 360.4h0M185.1 360.6h0M181.4 356.6h0M183.2 358.0h0M185.7 358.8h0M185.4 366.7h0M188.6 368.8h0M186.9 366.5h0M185.2 353.0h0M184.0 361.0h0M191.2 369.1h0M185.8 363.2h0M185.8 369.2h0M183.9 361.2h0M184.3 359.3h0M187.6 369.7h0M183.1 367.5h0M187.8 357.7h0M186.5 354.2h0M188.0 364.3h0M185.5 370.0h0M181.8 356.1h0M186.3 360.4h0M186.6 367.6h0M182.6 363.5h0M180.9 350.6h0M187.8 352.0h0M183.3 360.1h0M182.3 350.4h0M186.2 359.2h0M184.4 361.4h0M187.1 365.7h0M187.0 382.8h0M190.9 372.9h0M187.9 377.4h0M188.6 382.4h0M188.5 375.5h0M190.7 390.3h0M186.7 382.8h0M187.3 386.3h0M188.3 381.2h0M190.1 383.6h0M188.6 391.1h0M185.3 383.9h0M189.0 390.0h0M185.6 388.4h0M192.8 391.5h0M187.0 373.2h0M187.7 393.5h0M188.8 391.5h0M190.9 381.0h0M187.8 374.5h0M185.8 387.2h0M186.4 376.9h0M187.0 373.0h0M187.5 384.5h0M187.5 378.3h0M190.6 380.3h0M187.6 389.9h0M192.4 381.2h0M187.0 387.0h0M189.0 387.2h0M188.2 385.7h0M186.1 375.7h0M187.8 386.4h0M189.6 393.3h0M187.7 376.1h0M185.7 374.0h0M187.6 378.2h0M190.6 389.0h0M186.9 378.2h0M187.1 392.9h0M188.1 388.2h0M187.0 380.0h0M186.0 386.7h0M186.9 390.4h0M187.6 385.4h0M189.7 396.2h0M184.4 400.3h0M184.5 411.0h0M183.7 410.5h0M187.3 410.7h0M188.2 405.1h0M187.9 398.9h0M184.5 398.0h0M183.2 408.4h0M189.1 394.9h0M184.6 401.1h0M188.7 403.4h0M184.8 407.1h0M185.2 408.7h0M189.8 402.9h0M182.3 408.9h0M184.4 411.4h0M187.1 403.0h0M186.1 400.8h0M183.2 408.6h0M184.8 401.3h0M185.1 403.5h0M186.7 393.6h0M183.8 401.8h0M184.9 406.8h0M188.7 401.2h0M184.9 403.5h0M188.8 395.5h0M185.0 409.0h0M189.1 398.8h0M183.6 403.1h0M183.0 403.6h0M187.3 409.7h0M186.2 404.4h0M185.1 399.3h0M183.1 409.7h0M187.1 395.9h0M185.8 398.7h0M186.6 394.5h0M181.2 409.8h0M181.2 410.3h0M189.7 394.7h0M183.4 405.5h0M185.5 406.0h0M186.5 399.8h0M174.3 420.3h0M174.5 420.5h0M177.5 411.6h0M181.0 411.8h0M175.2 419.7h0M171.9 422.6h0M174.9 417.6h0M181.3 412.9h0M177.4 420.6h0M175.6 420.0h0M181.6 413.8h0M176.8 414.4h0M176.7 418.4h0M175.0 418.8h0M177.0 416.1h0M174.2 418.0h0M179.8 411.1h0M172.9 421.8h0M179.2 410.5h0M176.3 414.7h0M177.5 415.9h0M174.1 421.6h0M179.2 411.0h0M178.9 414.0h0M177.3 416.2h0M179.5 414.6h0M177.2 417.5h0M175.2 419.1h0M180.7 410.5h0M178.6 419.0h0M173.7 420.4h0M175.6 419.9h0M176.8 417.5h0M180.8 410.8h0M182.6 416.3h0M177.3 419.9h0M173.8 418.9h0M176.1 418.7h0M182.0 410.5h0M181.2 416.5h0M171.9 418.8h0M176.3 414.5h0M175.3 415.0h0M176.9 418.4h0M177.4 417.1h0M167.5 425.0h0M169.5 425.1h0M172.2 424.5h0M168.5 424.6h0M167.2 423.7h0M171.0 426.2h0M166.1 425.1h0M166.2 427.7h0M170.1 423.2h0M163.2 430.3h0M163.5 432.9h0M174.0 427.7h0M164.5 430.8h0M171.5 425.3h0M160.8 430.7h0M162.5 427.7h0M158.2 431.4h0M169.5 423.7h0M171.6 425.7h0M167.5 430.8h0M166.4 424.5h0M163.8 430.6h0M165.3 426.9h0M168.8 426.8h0M164.1 429.8h0M171.0 424.6h0M158.7 432.5h0M164.6 427.1h0M163.1 429.8h0M161.3 435.5h0M171.3 429.5h0M165.6 435.4h0M160.4 428.8h0M160.0 431.3h0M163.9 430.3h0M165.2 438.3h0M169.8 423.7h0M169.6 425.0h0M169.4 422.6h0M165.2 429.7h0M160.1 437.9h0M172.1 423.0h0M164.2 427.8h0M164.4 431.4h0M168.2 423.6h0M147.8 441.3h0M145.9 441.2h0M155.3 434.1h0M149.2 440.0h0M145.3 440.8h0M153.6 436.4h0M157.3 435.6h0M152.5 435.2h0M151.2 437.8h0M150.1 435.9h0M147.2 440.1h0M150.8 440.3h0M145.5 445.0h0M147.1 439.7h0M157.8 437.7h0M148.1 438.1h0M152.1 436.7h0M153.1 433.3h0M156.7 434.4h0M147.8 439.5h0M152.2 439.7h0M153.9 436.4h0M150.3 438.8h0M153.3 440.9h0M144.4 441.4h0M154.8 436.7h0M157.1 437.3h0M147.1 439.9h0M149.4 436.0h0M151.4 436.6h0M149.0 440.4h0M150.6 436.6h0M147.5 437.6h0M150.5 436.8h0M155.9 433.0h0M146.7 439.3h0M149.6 436.7h0M157.0 436.3h0M153.2 434.9h0M152.4 435.0h0M155.4 437.4h0M153.4 434.4h0M148.3 443.4h0M150.8 439.0h0M146.6 444.8h0M129.2 449.0h0M138.4 443.6h0M135.6 450.4h0M138.3 444.4h0M128.3 450.1h0M135.4 445.3h0M139.8 444.7h0M127.7 450.5h0M133.0 443.1h0M140.6 442.4h0M140.1 442.9h0M136.0 445.3h0M130.2 448.4h0M129.8 448.4h0M134.6 447.3h0M131.9 449.2h0M140.2 444.5h0M133.9 446.1h0M138.3 449.0h0M131.3 448.5h0M134.5 446.8h0M129.2 447.6h0M141.0 448.0h0M128.5 449.3h0M137.1 445.5h0M140.0 446.9h0M141.4 443.2h0M141.4 445.0h0M131.6 448.6h0M142.4 442.8h0M133.7 447.6h0M138.7 449.7h0M135.3 443.1h0M135.9 447.8h0M139.4 445.5h0M135.4 444.3h0M130.9 452.3h0M134.5 448.0h0M128.2 447.0h0M131.6 450.1h0M140.4 445.4h0M136.2 444.4h0M133.3 444.4h0M131.9 445.4h0M133.5 448.7h0M112.9 448.5h0M116.5 449.6h0M123.6 448.1h0M117.7 448.5h0M117.5 450.4h0M116.0 447.8h0M116.8 443.4h0M120.1 449.6h0M126.1 447.9h0M125.7 447.4h0M113.4 446.0h0M119.7 450.2h0M125.8 447.3h0M113.5 445.0h0M113.7 444.1h0M117.7 448.0h0M124.0 445.6h0M117.2 445.9h0M113.1 444.4h0M117.9 445.4h0M121.2 448.0h0M126.4 446.8h0M126.3 447.6h0M111.8 446.1h0M127.0 447.8h0M113.1 443.9h0M114.2 448.3h0M126.5 445.5h0M123.7 449.1h0M116.4 448.6h0M124.5 447.7h0M112.5 446.5h0M125.3 447.6h0M122.4 449.0h0M114.9 446.6h0M116.4 444.2h0M121.1 445.5h0M126.3 450.1h0M124.6 446.7h0M119.8 448.2h0M111.2 448.7h0M119.0 445.6h0M112.9 445.4h0M109.8 451.9h0M112.7 446.1h0M100.1 445.7h0M103.2 438.6h0M101.9 443.7h0M110.4 446.7h0M93.9 436.1h0M111.1 445.7h0M97.0 439.2h0M96.4 438.2h0M108.2 444.0h0M104.5 440.6h0M105.7 442.0h0M104.8 446.2h0M100.1 438.1h0M104.3 440.8h0M100.5 444.3h0M107.8 445.8h0M98.8 436.5h0M105.7 444.2h0M102.7 441.8h0M90.4 437.0h0M95.9 438.5h0M91.3 436.0h0M109.4 443.0h0M91.2 434.3h0M109.3 442.3h0M99.4 437.8h0M107.6 444.0h0M106.6 446.7h0M100.3 438.9h0M108.0 443.2h0M99.3 436.1h0M93.7 438.8h0M92.6 437.2h0M98.0 437.7h0M105.7 443.6h0M95.1 438.7h0M100.7 443.0h0M96.1 437.1h0M97.0 434.9h0M100.8 440.1h0M105.5 440.2h0M102.8 438.7h0M98.7 438.9h0M97.7 437.6h0M94.1 435.7h0M77.8 422.1h0M86.7 429.9h0M82.6 428.8h0M76.1 423.3h0M86.9 426.4h0M81.6 426.8h0M82.4 423.9h0M84.3 426.3h0M87.4 435.7h0M92.2 434.0h0M88.0 431.9h0M89.7 431.0h0M92.9 432.5h0M85.9 427.9h0M86.7 427.0h0M81.1 426.7h0M90.2 430.6h0M88.6 433.7h0M88.0 427.7h0M88.8 428.7h0M90.3 432.6h0M76.5 421.5h0M82.6 425.6h0M80.1 423.6h0M88.3 430.3h0M91.1 432.5h0M84.3 425.1h0M88.3 433.1h0M79.8 421.0h0M88.3 432.7h0M84.9 431.6h0M86.6 429.7h0M88.8 434.9h0M94.6 433.2h0M79.9 423.5h0M74.6 422.4h0M93.3 433.1h0M82.5 425.0h0M82.4 429.0h0M82.3 425.4h0M90.4 432.9h0M76.0 421.9h0M86.2 431.9h0M78.8 421.0h0M88.8 433.6h0M78.5 419.7h0M71.4 407.9h0M72.0 409.0h0M72.1 402.7h0M68.3 410.4h0M68.8 404.8h0M75.7 420.4h0M73.1 406.1h0M75.0 417.6h0M73.3 402.4h0M77.1 419.0h0M74.8 416.0h0M69.0 408.4h0M73.4 409.6h0M72.6 420.8h0M71.7 422.4h0M71.8 421.3h0M76.6 414.5h0M76.2 420.0h0M74.3 421.6h0M74.3 421.9h0M70.3 407.4h0M74.7 419.7h0M72.2 405.7h0M74.2 412.2h0M67.9 410.3h0M77.2 420.9h0M66.2 407.1h0M71.7 409.8h0M74.0 418.3h0M71.1 415.5h0M71.4 411.9h0M73.4 402.9h0M74.4 417.1h0M74.3 420.5h0M73.8 419.5h0M73.0 420.7h0M75.2 411.9h0M71.3 402.9h0M70.5 402.5h0M75.1 412.4h0M68.6 405.7h0M72.6 407.3h0M76.3 418.4h0M71.8 414.5h0M69.7 380.8h0M68.6 378.3h0M73.3 378.6h0M72.7 386.5h0M71.3 388.7h0M71.6 381.4h0M74.3 395.4h0M71.6 402.3h0M71.8 390.1h0M69.9 400.2h0M70.5 391.1h0M70.3 386.8h0M73.1 393.5h0M65.9 378.4h0M68.6 397.9h0M73.4 384.4h0M70.8 400.5h0M72.4 386.3h0M72.5 401.9h0M71.4 387.5h0M68.8 401.0h0M73.2 380.9h0M73.4 377.5h0M69.3 390.6h0M71.5 395.2h0M65.7 394.2h0M69.2 387.7h0M70.5 397.1h0M66.7 383.7h0M71.2 389.6h0M74.3 381.4h0M72.8 389.3h0M69.4 401.7h0M74.3 386.9h0M69.7 392.6h0M69.7 389.9h0M70.0 379.5h0M70.9 391.5h0M70.3 393.8h0M74.4 379.0h0M70.5 389.1h0M71.7 392.6h0M66.6 381.1h0M68.3 393.8h0M68.8 396.9h0M70.7 376.1h0M75.1 371.5h0M71.4 363.4h0M70.0 360.7h0M69.8 368.8h0M73.7 361.3h0M70.1 358.1h0M73.9 360.1h0M74.2 367.2h0M72.2 361.5h0M73.9 372.9h0M73.2 370.1h0M74.7 373.6h0M72.3 372.4h0M74.0 363.0h0M71.7 375.6h0M72.6 362.9h0M76.7 362.4h0M71.2 364.9h0M73.6 365.1h0M72.0 365.5h0M73.2 374.2h0M72.8 367.2h0M74.2 359.0h0M73.8 363.2h0M70.9 361.0h0M75.4 362.7h0M73.6 369.5h0M73.2 358.6h0M72.5 363.7h0M72.6 371.4h0M72.0 376.0h0M72.4 372.9h0M69.6 373.2h0M76.1 363.1h0M72.8 364.3h0M72.5 373.3h0M72.0 363.8h0M71.3 367.5h0M73.1 371.7h0M75.5 363.3h0M75.4 359.8h0M72.6 378.0h0M73.4 366.1h0M71.1 373.2h0M75.1 352.9h0M74.9 358.2h0M75.6 356.4h0M72.2 357.4h0M80.1 346.5h0M75.6 354.3h0M78.1 352.6h0M75.4 353.0h0M73.5 355.3h0M74.3 351.7h0M73.3 349.3h0M77.2 354.0h0M76.9 355.4h0M75.3 348.9h0M73.6 354.5h0M76.1 350.1h0M78.4 350.4h0M77.7 348.4h0M76.4 351.9h0M71.1 352.2h0M79.8 347.8h0M77.7 351.4h0M77.7 350.4h0M78.2 350.4h0M76.4 350.0h0M77.6 353.7h0M76.7 355.5h0M80.7 350.9h0M79.5 351.1h0M71.5 355.3h0M76.5 349.2h0M74.9 357.5h0M78.7 348.0h0M74.2 352.7h0M75.6 352.8h0M78.7 348.9h0M76.5 356.0h0M76.2 353.8h0M77.0 354.8h0M74.0 351.4h0M72.8 354.7h0M76.8 356.5h0M76.3 348.5h0M75.3 355.8h0M77.2 354.5h0" fill="none" stroke="#9c5b87" stroke-width="0.8" stroke-linecap="square" opacity="0.45"/>
</g>
<text x="25.80" y="388.30" font-size="14" text-anchor="start" fill="#231f20">ASCW</text>
<text x="127.20" y="392.50" font-size="14" text-anchor="middle" fill="#ffffff">ASCG</text>
<text x="138.20" y="483.80" font-size="14" text-anchor="start" fill="#231f20">ASCN</text>
<line x1="19.50" y1="498.10" x2="19.50" y2="475.60" stroke="#231f20" stroke-width="1.9"/>
<line x1="18.60" y1="497.20" x2="40.30" y2="497.20" stroke="#231f20" stroke-width="1.9"/>
<path d="M15.40 477.60 L19.50 470.60 L23.60 477.60 Z" fill="#231f20" stroke="none" stroke-width="1"/>
<path d="M38.30 493.10 L45.30 497.20 L38.30 501.30 Z" fill="#231f20" stroke="none" stroke-width="1"/>
<text x="19.20" y="515.30" font-size="13.6" text-anchor="start" fill="#231f20">UMAP 1</text>
<text x="10.80" y="497.70" font-size="13.6" text-anchor="start" fill="#231f20" transform="rotate(-90 10.8 497.7)">UMAP 2</text>
<text transform="translate(210.80 285.40) scale(1.07 1)" font-size="21.0" fill="#1a1718" style="font-weight:bold;">f</text>
<line x1="245.10" y1="321.00" x2="245.10" y2="498.20" stroke="#231f20" stroke-width="1.5"/>
<line x1="244.40" y1="498.20" x2="308.90" y2="498.20" stroke="#231f20" stroke-width="1.5"/>
<line x1="256.50" y1="498.20" x2="256.50" y2="499.70" stroke="#231f20" stroke-width="0.8"/>
<line x1="276.60" y1="498.20" x2="276.60" y2="499.70" stroke="#231f20" stroke-width="0.8"/>
<line x1="297.10" y1="498.20" x2="297.10" y2="499.70" stroke="#231f20" stroke-width="0.8"/>
<text x="240.60" y="495.30" font-size="13.6" text-anchor="end" fill="#231f20">0</text>
<text x="240.60" y="454.93" font-size="13.6" text-anchor="end" fill="#231f20">25</text>
<text x="240.60" y="414.55" font-size="13.6" text-anchor="end" fill="#231f20">50</text>
<text x="240.60" y="374.18" font-size="13.6" text-anchor="end" fill="#231f20">75</text>
<text x="240.60" y="333.80" font-size="13.6" text-anchor="end" fill="#231f20">100</text>
<text x="214.00" y="411.00" font-size="14.5" text-anchor="middle" fill="#231f20" transform="rotate(-90 214.0 411)">Region composition (%)</text>
<rect x="248.10" y="461.40" width="17.90" height="28.90" fill="#f38420" stroke="none" stroke-width="1"/>
<rect x="248.10" y="380.60" width="17.90" height="80.80" fill="#3d6ebf" stroke="none" stroke-width="1"/>
<rect x="248.10" y="351.80" width="17.90" height="28.80" fill="#d92a2a" stroke="none" stroke-width="1"/>
<rect x="248.10" y="328.80" width="17.90" height="23.00" fill="#6a4fa4" stroke="none" stroke-width="1"/>
<rect x="267.90" y="451.80" width="17.90" height="38.50" fill="#f38420" stroke="none" stroke-width="1"/>
<rect x="267.90" y="383.40" width="17.90" height="68.40" fill="#3d6ebf" stroke="none" stroke-width="1"/>
<rect x="267.90" y="338.90" width="17.90" height="44.50" fill="#d92a2a" stroke="none" stroke-width="1"/>
<rect x="267.90" y="328.80" width="17.90" height="10.10" fill="#6a4fa4" stroke="none" stroke-width="1"/>
<rect x="288.00" y="489.10" width="17.90" height="1.20" fill="#f38420" stroke="none" stroke-width="1"/>
<rect x="288.00" y="487.30" width="17.90" height="1.80" fill="#3d6ebf" stroke="none" stroke-width="1"/>
<rect x="288.00" y="483.90" width="17.90" height="3.40" fill="#d92a2a" stroke="none" stroke-width="1"/>
<rect x="288.00" y="328.80" width="17.90" height="155.10" fill="#6a4fa4" stroke="none" stroke-width="1"/>
<text x="262.00" y="325.40" font-size="14" text-anchor="start" fill="#231f20" transform="rotate(-90 262.0 325.4)">ASCW</text>
<text x="281.90" y="325.40" font-size="14" text-anchor="start" fill="#231f20" transform="rotate(-90 281.9 325.4)">ASCG</text>
<text x="301.80" y="325.40" font-size="14" text-anchor="start" fill="#231f20" transform="rotate(-90 301.8 325.4)">ASCN</text>
<path d="M305.8 328.9 H311.2 L317.3 311.4 H323.5 M305.8 490.1 H311.4 L318.1 510.4 H323.5" fill="none" stroke="#231f20" stroke-width="1.5"/>
<rect x="323.50" y="312.40" width="17.90" height="4.80" fill="#f4d2e6" stroke="none" stroke-width="1"/>
<rect x="323.50" y="317.20" width="17.90" height="0.60" fill="#f38420" stroke="none" stroke-width="1"/>
<rect x="323.50" y="317.80" width="17.90" height="3.20" fill="#d92a2a" stroke="none" stroke-width="1"/>
<rect x="323.50" y="321.00" width="17.90" height="4.80" fill="#6a4fa4" stroke="none" stroke-width="1"/>
<rect x="323.50" y="325.80" width="17.90" height="0.80" fill="#f4d2e6" stroke="none" stroke-width="1"/>
<rect x="323.50" y="326.60" width="17.90" height="45.60" fill="#b5196f" stroke="none" stroke-width="1"/>
<rect x="323.50" y="372.20" width="17.90" height="135.70" fill="#9065b2" stroke="none" stroke-width="1"/>
<rect x="323.50" y="507.90" width="17.90" height="2.10" fill="#4caf50" stroke="none" stroke-width="1"/>
<rect x="323.50" y="311.40" width="17.90" height="199.00" fill="none" stroke="#231f20" stroke-width="1.5"/>
<text x="337.80" y="348.60" font-size="14" text-anchor="middle" fill="#ffffff" transform="rotate(-90 337.8 348.6)">23%</text>
<text x="337.80" y="435.20" font-size="14" text-anchor="middle" fill="#ffffff" transform="rotate(-90 337.8 435.2)">68%</text>
<text x="320.00" y="350.00" font-size="14.2" text-anchor="middle" fill="#231f20" transform="rotate(-90 320.0 350)">LSX</text>
<text x="320.00" y="436.50" font-size="14.2" text-anchor="middle" fill="#231f20" transform="rotate(-90 320.0 436.5)">PAL</text>
<text x="348.80" y="338.60" font-size="14" text-anchor="start" fill="#231f20">Major region</text>
<rect x="348.20" y="344.20" width="10.70" height="10.60" fill="#f38420" stroke="none" stroke-width="1"/>
<text x="363.30" y="355.00" font-size="14" text-anchor="start" fill="#231f20">OLF</text>
<rect x="348.20" y="361.00" width="10.70" height="10.60" fill="#3d6ebf" stroke="none" stroke-width="1"/>
<text x="363.30" y="371.80" font-size="14" text-anchor="start" fill="#231f20">Isocortex</text>
<rect x="348.20" y="377.70" width="10.70" height="10.60" fill="#6a4fa4" stroke="none" stroke-width="1"/>
<text x="363.30" y="388.50" font-size="14" text-anchor="start" fill="#231f20">CNU</text>
<rect x="348.20" y="394.20" width="10.70" height="10.60" fill="#d92a2a" stroke="none" stroke-width="1"/>
<text x="363.30" y="405.00" font-size="14" text-anchor="start" fill="#231f20">HPF</text>
<rect x="348.20" y="429.50" width="10.70" height="10.60" fill="#9065b2" stroke="none" stroke-width="1"/>
<text x="363.30" y="440.30" font-size="14" text-anchor="start" fill="#231f20">PAL</text>
<rect x="348.20" y="446.30" width="10.70" height="10.60" fill="#b5196f" stroke="none" stroke-width="1"/>
<text x="363.30" y="457.10" font-size="14" text-anchor="start" fill="#231f20">LSX</text>
<rect x="348.20" y="463.10" width="10.70" height="10.60" fill="#6a4fa4" stroke="none" stroke-width="1"/>
<text x="363.30" y="473.90" font-size="14" text-anchor="start" fill="#231f20">CP</text>
<rect x="348.20" y="479.70" width="10.70" height="10.60" fill="#f4d2e6" stroke="none" stroke-width="1"/>
<text x="363.30" y="490.50" font-size="14" text-anchor="start" fill="#231f20">ACB</text>
<text x="348.80" y="423.60" font-size="14" text-anchor="start" fill="#231f20">Sub region</text>
<text transform="translate(430.50 285.10) scale(1.07 1)" font-size="21.0" fill="#1a1718" style="font-weight:bold;">g</text>
<text x="466.07" y="325.40" font-size="14" text-anchor="start" fill="#231f20" transform="rotate(-90 466.06666666666666 325.4)">ASCW</text>
<text x="485.20" y="325.40" font-size="14" text-anchor="start" fill="#231f20" transform="rotate(-90 485.2 325.4)">ASCG</text>
<text x="504.33" y="325.40" font-size="14" text-anchor="start" fill="#231f20" transform="rotate(-90 504.3333333333333 325.4)">ASCN</text>
<g shape-rendering="crispEdges">
<path fill="#2a788e" d="M451.5 328.30h19.18v1.18h-19.18zM489.8 329.43h19.18v1.18h-19.18zM470.6 330.55h19.18v1.18h-19.18zM489.8 330.55h19.18v1.18h-19.18zM489.8 336.19h19.18v1.18h-19.18zM489.8 349.71h19.18v1.18h-19.18zM489.8 350.83h19.18v1.18h-19.18zM470.6 357.59h19.18v1.18h-19.18zM470.6 358.72h19.18v1.18h-19.18zM470.6 360.97h19.18v1.18h-19.18zM489.8 364.35h19.18v1.18h-19.18zM489.8 369.99h19.18v1.18h-19.18zM489.8 372.24h19.18v1.18h-19.18zM470.6 374.49h19.18v1.18h-19.18zM489.8 374.49h19.18v1.18h-19.18zM470.6 393.65h19.18v1.18h-19.18zM489.8 417.31h19.18v1.18h-19.18zM470.6 460.12h19.18v1.18h-19.18zM470.6 487.16h19.18v1.18h-19.18z"/>
<path fill="#27808e" d="M470.6 328.30h19.18v1.18h-19.18zM470.6 333.93h19.18v1.18h-19.18zM470.6 337.31h19.18v1.18h-19.18zM470.6 340.69h19.18v1.18h-19.18zM470.6 364.35h19.18v1.18h-19.18zM489.8 415.05h19.18v1.18h-19.18zM489.8 434.21h19.18v1.18h-19.18zM489.8 435.33h19.18v1.18h-19.18zM489.8 448.85h19.18v1.18h-19.18zM451.5 473.64h19.18v1.18h-19.18zM451.5 474.77h19.18v1.18h-19.18zM451.5 478.15h19.18v1.18h-19.18zM451.5 480.40h19.18v1.18h-19.18zM451.5 491.67h19.18v1.18h-19.18z"/>
<path fill="#39568c" d="M489.8 328.30h19.18v1.18h-19.18zM489.8 331.68h19.18v1.18h-19.18zM489.8 335.06h19.18v1.18h-19.18zM489.8 338.44h19.18v1.18h-19.18zM489.8 357.59h19.18v1.18h-19.18zM489.8 360.97h19.18v1.18h-19.18zM489.8 362.10h19.18v1.18h-19.18zM489.8 365.48h19.18v1.18h-19.18zM489.8 367.73h19.18v1.18h-19.18zM489.8 368.86h19.18v1.18h-19.18zM489.8 373.37h19.18v1.18h-19.18zM489.8 380.13h19.18v1.18h-19.18zM489.8 431.95h19.18v1.18h-19.18zM451.5 462.37h19.18v1.18h-19.18z"/>
<path fill="#2fb47c" d="M451.5 329.43h19.18v1.18h-19.18zM451.5 337.31h19.18v1.18h-19.18zM451.5 368.86h19.18v1.18h-19.18zM451.5 377.87h19.18v1.18h-19.18zM470.6 400.41h19.18v1.18h-19.18zM489.8 400.41h19.18v1.18h-19.18zM470.6 407.17h19.18v1.18h-19.18zM451.5 437.59h19.18v1.18h-19.18zM470.6 443.22h19.18v1.18h-19.18zM489.8 462.37h19.18v1.18h-19.18z"/>
<path fill="#287c8e" d="M470.6 329.43h19.18v1.18h-19.18zM470.6 335.06h19.18v1.18h-19.18zM470.6 345.20h19.18v1.18h-19.18zM489.8 348.58h19.18v1.18h-19.18zM470.6 351.96h19.18v1.18h-19.18zM489.8 375.62h19.18v1.18h-19.18zM470.6 392.52h19.18v1.18h-19.18zM489.8 401.53h19.18v1.18h-19.18zM489.8 419.56h19.18v1.18h-19.18zM489.8 420.69h19.18v1.18h-19.18zM489.8 426.32h19.18v1.18h-19.18zM489.8 430.83h19.18v1.18h-19.18zM489.8 436.46h19.18v1.18h-19.18zM470.6 462.37h19.18v1.18h-19.18zM451.5 483.78h19.18v1.18h-19.18zM451.5 496.17h19.18v1.18h-19.18z"/>
<path fill="#22a884" d="M451.5 330.55h19.18v1.18h-19.18zM451.5 336.19h19.18v1.18h-19.18zM470.6 336.19h19.18v1.18h-19.18zM451.5 338.44h19.18v1.18h-19.18zM451.5 354.21h19.18v1.18h-19.18zM451.5 362.10h19.18v1.18h-19.18zM451.5 385.76h19.18v1.18h-19.18zM470.6 390.27h19.18v1.18h-19.18zM451.5 393.65h19.18v1.18h-19.18zM451.5 395.90h19.18v1.18h-19.18zM451.5 422.94h19.18v1.18h-19.18zM451.5 426.32h19.18v1.18h-19.18zM451.5 430.83h19.18v1.18h-19.18zM470.6 430.83h19.18v1.18h-19.18zM451.5 436.46h19.18v1.18h-19.18zM470.6 436.46h19.18v1.18h-19.18zM489.8 442.09h19.18v1.18h-19.18zM451.5 443.22h19.18v1.18h-19.18zM451.5 444.35h19.18v1.18h-19.18zM451.5 461.25h19.18v1.18h-19.18zM470.6 481.53h19.18v1.18h-19.18z"/>
<path fill="#54c568" d="M451.5 331.68h19.18v1.18h-19.18zM451.5 332.81h19.18v1.18h-19.18zM451.5 363.23h19.18v1.18h-19.18zM451.5 383.51h19.18v1.18h-19.18zM451.5 397.03h19.18v1.18h-19.18zM470.6 406.04h19.18v1.18h-19.18zM451.5 411.67h19.18v1.18h-19.18zM470.6 435.33h19.18v1.18h-19.18zM451.5 448.85h19.18v1.18h-19.18zM489.8 470.26h19.18v1.18h-19.18zM489.8 474.77h19.18v1.18h-19.18z"/>
<path fill="#1f988b" d="M470.6 331.68h19.18v1.18h-19.18zM470.6 332.81h19.18v1.18h-19.18zM470.6 339.57h19.18v1.18h-19.18zM489.8 341.82h19.18v1.18h-19.18zM451.5 349.71h19.18v1.18h-19.18zM470.6 350.83h19.18v1.18h-19.18zM451.5 360.97h19.18v1.18h-19.18zM470.6 375.62h19.18v1.18h-19.18zM470.6 389.14h19.18v1.18h-19.18zM451.5 413.93h19.18v1.18h-19.18zM451.5 421.81h19.18v1.18h-19.18zM451.5 438.71h19.18v1.18h-19.18zM489.8 445.47h19.18v1.18h-19.18zM451.5 452.23h19.18v1.18h-19.18zM470.6 475.89h19.18v1.18h-19.18zM451.5 484.91h19.18v1.18h-19.18zM470.6 486.03h19.18v1.18h-19.18zM451.5 493.92h19.18v1.18h-19.18z"/>
<path fill="#2d708e" d="M489.8 332.81h19.18v1.18h-19.18zM489.8 345.20h19.18v1.18h-19.18zM489.8 353.09h19.18v1.18h-19.18zM470.6 365.48h19.18v1.18h-19.18zM470.6 371.11h19.18v1.18h-19.18zM470.6 382.38h19.18v1.18h-19.18zM489.8 383.51h19.18v1.18h-19.18zM489.8 385.76h19.18v1.18h-19.18zM489.8 391.39h19.18v1.18h-19.18zM470.6 452.23h19.18v1.18h-19.18z"/>
<path fill="#44bf70" d="M451.5 333.93h19.18v1.18h-19.18zM451.5 350.83h19.18v1.18h-19.18zM451.5 364.35h19.18v1.18h-19.18zM451.5 367.73h19.18v1.18h-19.18zM470.6 401.53h19.18v1.18h-19.18zM470.6 422.94h19.18v1.18h-19.18zM470.6 431.95h19.18v1.18h-19.18zM470.6 440.97h19.18v1.18h-19.18zM489.8 453.36h19.18v1.18h-19.18zM489.8 468.01h19.18v1.18h-19.18zM489.8 472.51h19.18v1.18h-19.18zM489.8 489.41h19.18v1.18h-19.18z"/>
<path fill="#375b8d" d="M489.8 333.93h19.18v1.18h-19.18zM489.8 337.31h19.18v1.18h-19.18zM489.8 356.47h19.18v1.18h-19.18zM489.8 379.00h19.18v1.18h-19.18zM489.8 388.01h19.18v1.18h-19.18z"/>
<path fill="#35b779" d="M451.5 335.06h19.18v1.18h-19.18zM451.5 371.11h19.18v1.18h-19.18zM451.5 376.75h19.18v1.18h-19.18zM451.5 391.39h19.18v1.18h-19.18zM470.6 402.66h19.18v1.18h-19.18zM470.6 404.91h19.18v1.18h-19.18zM451.5 408.29h19.18v1.18h-19.18zM470.6 408.29h19.18v1.18h-19.18zM451.5 417.31h19.18v1.18h-19.18zM470.6 421.81h19.18v1.18h-19.18zM451.5 442.09h19.18v1.18h-19.18zM489.8 452.23h19.18v1.18h-19.18zM489.8 454.49h19.18v1.18h-19.18zM489.8 464.63h19.18v1.18h-19.18zM489.8 477.02h19.18v1.18h-19.18zM489.8 482.65h19.18v1.18h-19.18zM489.8 496.17h19.18v1.18h-19.18z"/>
<path fill="#228c8d" d="M470.6 338.44h19.18v1.18h-19.18zM470.6 344.07h19.18v1.18h-19.18zM470.6 356.47h19.18v1.18h-19.18zM470.6 363.23h19.18v1.18h-19.18zM470.6 366.61h19.18v1.18h-19.18zM470.6 367.73h19.18v1.18h-19.18zM470.6 368.86h19.18v1.18h-19.18zM470.6 381.25h19.18v1.18h-19.18zM489.8 406.04h19.18v1.18h-19.18zM489.8 409.42h19.18v1.18h-19.18zM489.8 433.08h19.18v1.18h-19.18zM489.8 440.97h19.18v1.18h-19.18zM489.8 444.35h19.18v1.18h-19.18zM451.5 453.36h19.18v1.18h-19.18zM470.6 453.36h19.18v1.18h-19.18zM451.5 471.39h19.18v1.18h-19.18zM451.5 487.16h19.18v1.18h-19.18zM451.5 489.41h19.18v1.18h-19.18zM470.6 490.54h19.18v1.18h-19.18zM470.6 491.67h19.18v1.18h-19.18zM470.6 492.79h19.18v1.18h-19.18z"/>
<path fill="#20a486" d="M451.5 339.57h19.18v1.18h-19.18zM451.5 389.14h19.18v1.18h-19.18zM489.8 399.28h19.18v1.18h-19.18zM451.5 401.53h19.18v1.18h-19.18zM489.8 411.67h19.18v1.18h-19.18zM451.5 420.69h19.18v1.18h-19.18zM451.5 424.07h19.18v1.18h-19.18zM451.5 427.45h19.18v1.18h-19.18zM489.8 437.59h19.18v1.18h-19.18zM451.5 440.97h19.18v1.18h-19.18zM470.6 457.87h19.18v1.18h-19.18zM489.8 457.87h19.18v1.18h-19.18zM451.5 468.01h19.18v1.18h-19.18zM470.6 473.64h19.18v1.18h-19.18z"/>
<path fill="#2f6c8e" d="M489.8 339.57h19.18v1.18h-19.18zM489.8 342.95h19.18v1.18h-19.18zM489.8 363.23h19.18v1.18h-19.18zM489.8 386.89h19.18v1.18h-19.18zM489.8 393.65h19.18v1.18h-19.18zM489.8 416.18h19.18v1.18h-19.18z"/>
<path fill="#67cc5c" d="M451.5 340.69h19.18v1.18h-19.18zM451.5 374.49h19.18v1.18h-19.18zM451.5 392.52h19.18v1.18h-19.18zM451.5 399.28h19.18v1.18h-19.18zM470.6 403.79h19.18v1.18h-19.18zM470.6 444.35h19.18v1.18h-19.18zM489.8 461.25h19.18v1.18h-19.18zM489.8 465.75h19.18v1.18h-19.18zM489.8 466.88h19.18v1.18h-19.18zM489.8 483.78h19.18v1.18h-19.18zM489.8 487.16h19.18v1.18h-19.18z"/>
<path fill="#355f8d" d="M489.8 340.69h19.18v1.18h-19.18zM489.8 351.96h19.18v1.18h-19.18z"/>
<path fill="#3bbb75" d="M451.5 341.82h19.18v1.18h-19.18zM451.5 347.45h19.18v1.18h-19.18zM451.5 355.34h19.18v1.18h-19.18zM451.5 375.62h19.18v1.18h-19.18zM451.5 386.89h19.18v1.18h-19.18zM451.5 388.01h19.18v1.18h-19.18zM470.6 394.77h19.18v1.18h-19.18zM451.5 403.79h19.18v1.18h-19.18zM451.5 412.80h19.18v1.18h-19.18zM451.5 419.56h19.18v1.18h-19.18zM470.6 426.32h19.18v1.18h-19.18zM451.5 429.70h19.18v1.18h-19.18zM451.5 435.33h19.18v1.18h-19.18z"/>
<path fill="#1e9c89" d="M470.6 341.82h19.18v1.18h-19.18zM470.6 355.34h19.18v1.18h-19.18zM451.5 357.59h19.18v1.18h-19.18zM470.6 359.85h19.18v1.18h-19.18zM470.6 376.75h19.18v1.18h-19.18zM451.5 382.38h19.18v1.18h-19.18zM451.5 406.04h19.18v1.18h-19.18zM489.8 413.93h19.18v1.18h-19.18zM451.5 425.19h19.18v1.18h-19.18zM489.8 428.57h19.18v1.18h-19.18zM451.5 447.73h19.18v1.18h-19.18zM470.6 449.98h19.18v1.18h-19.18zM470.6 464.63h19.18v1.18h-19.18zM470.6 472.51h19.18v1.18h-19.18zM470.6 484.91h19.18v1.18h-19.18z"/>
<path fill="#5ec962" d="M451.5 342.95h19.18v1.18h-19.18zM451.5 369.99h19.18v1.18h-19.18zM451.5 379.00h19.18v1.18h-19.18zM470.6 420.69h19.18v1.18h-19.18zM451.5 433.08h19.18v1.18h-19.18zM470.6 434.21h19.18v1.18h-19.18zM451.5 445.47h19.18v1.18h-19.18zM470.6 445.47h19.18v1.18h-19.18zM489.8 478.15h19.18v1.18h-19.18zM489.8 481.53h19.18v1.18h-19.18z"/>
<path fill="#23888e" d="M470.6 342.95h19.18v1.18h-19.18zM489.8 344.07h19.18v1.18h-19.18zM470.6 346.33h19.18v1.18h-19.18zM489.8 347.45h19.18v1.18h-19.18zM489.8 384.63h19.18v1.18h-19.18zM470.6 386.89h19.18v1.18h-19.18zM489.8 394.77h19.18v1.18h-19.18zM489.8 402.66h19.18v1.18h-19.18zM489.8 408.29h19.18v1.18h-19.18zM489.8 421.81h19.18v1.18h-19.18zM489.8 429.70h19.18v1.18h-19.18zM489.8 439.84h19.18v1.18h-19.18zM489.8 443.22h19.18v1.18h-19.18zM489.8 446.60h19.18v1.18h-19.18zM470.6 451.11h19.18v1.18h-19.18zM451.5 458.99h19.18v1.18h-19.18zM470.6 465.75h19.18v1.18h-19.18zM451.5 466.88h19.18v1.18h-19.18zM451.5 470.26h19.18v1.18h-19.18zM451.5 479.27h19.18v1.18h-19.18zM451.5 486.03h19.18v1.18h-19.18z"/>
<path fill="#70cf57" d="M451.5 344.07h19.18v1.18h-19.18zM451.5 348.58h19.18v1.18h-19.18zM451.5 359.85h19.18v1.18h-19.18zM451.5 384.63h19.18v1.18h-19.18zM470.6 412.80h19.18v1.18h-19.18zM470.6 417.31h19.18v1.18h-19.18zM470.6 448.85h19.18v1.18h-19.18zM489.8 463.50h19.18v1.18h-19.18z"/>
<path fill="#25ac82" d="M451.5 345.20h19.18v1.18h-19.18zM451.5 346.33h19.18v1.18h-19.18zM470.6 347.45h19.18v1.18h-19.18zM451.5 358.72h19.18v1.18h-19.18zM470.6 395.90h19.18v1.18h-19.18zM451.5 398.15h19.18v1.18h-19.18zM451.5 409.42h19.18v1.18h-19.18zM451.5 418.43h19.18v1.18h-19.18zM470.6 438.71h19.18v1.18h-19.18zM489.8 438.71h19.18v1.18h-19.18zM451.5 439.84h19.18v1.18h-19.18zM451.5 469.13h19.18v1.18h-19.18zM470.6 471.39h19.18v1.18h-19.18zM470.6 479.27h19.18v1.18h-19.18z"/>
<path fill="#31688e" d="M489.8 346.33h19.18v1.18h-19.18zM470.6 354.21h19.18v1.18h-19.18zM489.8 355.34h19.18v1.18h-19.18zM470.6 362.10h19.18v1.18h-19.18zM489.8 371.11h19.18v1.18h-19.18zM489.8 395.90h19.18v1.18h-19.18zM489.8 407.17h19.18v1.18h-19.18zM470.6 477.02h19.18v1.18h-19.18z"/>
<path fill="#2ab07f" d="M470.6 348.58h19.18v1.18h-19.18zM451.5 356.47h19.18v1.18h-19.18zM451.5 365.48h19.18v1.18h-19.18zM451.5 366.61h19.18v1.18h-19.18zM451.5 372.24h19.18v1.18h-19.18zM451.5 373.37h19.18v1.18h-19.18zM451.5 380.13h19.18v1.18h-19.18zM451.5 390.27h19.18v1.18h-19.18zM451.5 400.41h19.18v1.18h-19.18zM451.5 402.66h19.18v1.18h-19.18zM451.5 404.91h19.18v1.18h-19.18zM451.5 415.05h19.18v1.18h-19.18zM470.6 469.13h19.18v1.18h-19.18zM470.6 478.15h19.18v1.18h-19.18zM489.8 479.27h19.18v1.18h-19.18zM470.6 488.29h19.18v1.18h-19.18zM489.8 491.67h19.18v1.18h-19.18z"/>
<path fill="#21918c" d="M470.6 349.71h19.18v1.18h-19.18zM470.6 373.37h19.18v1.18h-19.18zM470.6 383.51h19.18v1.18h-19.18zM470.6 391.39h19.18v1.18h-19.18zM451.5 407.17h19.18v1.18h-19.18zM451.5 434.21h19.18v1.18h-19.18zM451.5 446.60h19.18v1.18h-19.18zM451.5 449.98h19.18v1.18h-19.18zM451.5 455.61h19.18v1.18h-19.18zM470.6 468.01h19.18v1.18h-19.18zM451.5 472.51h19.18v1.18h-19.18zM451.5 475.89h19.18v1.18h-19.18zM470.6 480.40h19.18v1.18h-19.18z"/>
<path fill="#4cc26c" d="M451.5 351.96h19.18v1.18h-19.18zM451.5 410.55h19.18v1.18h-19.18zM470.6 415.05h19.18v1.18h-19.18zM470.6 416.18h19.18v1.18h-19.18zM470.6 419.56h19.18v1.18h-19.18zM470.6 442.09h19.18v1.18h-19.18zM489.8 451.11h19.18v1.18h-19.18z"/>
<path fill="#86d549" d="M451.5 353.09h19.18v1.18h-19.18zM470.6 446.60h19.18v1.18h-19.18zM489.8 455.61h19.18v1.18h-19.18zM489.8 456.74h19.18v1.18h-19.18zM489.8 480.40h19.18v1.18h-19.18zM489.8 486.03h19.18v1.18h-19.18zM489.8 488.29h19.18v1.18h-19.18zM489.8 492.79h19.18v1.18h-19.18z"/>
<path fill="#25848e" d="M470.6 353.09h19.18v1.18h-19.18zM470.6 379.00h19.18v1.18h-19.18zM470.6 380.13h19.18v1.18h-19.18zM489.8 424.07h19.18v1.18h-19.18zM489.8 425.19h19.18v1.18h-19.18zM451.5 431.95h19.18v1.18h-19.18zM451.5 477.02h19.18v1.18h-19.18zM470.6 482.65h19.18v1.18h-19.18zM451.5 488.29h19.18v1.18h-19.18zM451.5 495.05h19.18v1.18h-19.18z"/>
<path fill="#2b748e" d="M489.8 354.21h19.18v1.18h-19.18zM489.8 358.72h19.18v1.18h-19.18zM489.8 359.85h19.18v1.18h-19.18zM489.8 366.61h19.18v1.18h-19.18zM489.8 381.25h19.18v1.18h-19.18zM489.8 382.38h19.18v1.18h-19.18zM470.6 385.76h19.18v1.18h-19.18zM489.8 392.52h19.18v1.18h-19.18zM489.8 398.15h19.18v1.18h-19.18zM489.8 403.79h19.18v1.18h-19.18zM489.8 412.80h19.18v1.18h-19.18zM489.8 422.94h19.18v1.18h-19.18zM489.8 447.73h19.18v1.18h-19.18zM451.5 451.11h19.18v1.18h-19.18zM451.5 454.49h19.18v1.18h-19.18zM451.5 460.12h19.18v1.18h-19.18zM451.5 465.75h19.18v1.18h-19.18zM451.5 482.65h19.18v1.18h-19.18zM451.5 490.54h19.18v1.18h-19.18zM451.5 492.79h19.18v1.18h-19.18z"/>
<path fill="#1f948c" d="M470.6 369.99h19.18v1.18h-19.18zM470.6 372.24h19.18v1.18h-19.18zM489.8 376.75h19.18v1.18h-19.18zM470.6 377.87h19.18v1.18h-19.18zM470.6 384.63h19.18v1.18h-19.18zM470.6 388.01h19.18v1.18h-19.18zM451.5 394.77h19.18v1.18h-19.18zM489.8 410.55h19.18v1.18h-19.18zM489.8 418.43h19.18v1.18h-19.18zM470.6 454.49h19.18v1.18h-19.18zM470.6 455.61h19.18v1.18h-19.18zM470.6 458.99h19.18v1.18h-19.18zM470.6 463.50h19.18v1.18h-19.18zM451.5 464.63h19.18v1.18h-19.18zM470.6 466.88h19.18v1.18h-19.18zM451.5 481.53h19.18v1.18h-19.18zM470.6 483.78h19.18v1.18h-19.18z"/>
<path fill="#32648e" d="M489.8 377.87h19.18v1.18h-19.18zM489.8 389.14h19.18v1.18h-19.18zM489.8 390.27h19.18v1.18h-19.18zM470.6 496.17h19.18v1.18h-19.18z"/>
<path fill="#7ad151" d="M451.5 381.25h19.18v1.18h-19.18zM470.6 409.42h19.18v1.18h-19.18zM470.6 413.93h19.18v1.18h-19.18zM470.6 424.07h19.18v1.18h-19.18zM470.6 427.45h19.18v1.18h-19.18zM470.6 429.70h19.18v1.18h-19.18zM470.6 433.08h19.18v1.18h-19.18zM470.6 447.73h19.18v1.18h-19.18zM489.8 458.99h19.18v1.18h-19.18zM489.8 475.89h19.18v1.18h-19.18zM489.8 484.91h19.18v1.18h-19.18zM489.8 490.54h19.18v1.18h-19.18zM489.8 493.92h19.18v1.18h-19.18z"/>
<path fill="#b2dd2d" d="M470.6 397.03h19.18v1.18h-19.18zM470.6 399.28h19.18v1.18h-19.18zM470.6 418.43h19.18v1.18h-19.18z"/>
<path fill="#1fa188" d="M489.8 397.03h19.18v1.18h-19.18zM470.6 398.15h19.18v1.18h-19.18zM489.8 404.91h19.18v1.18h-19.18zM451.5 416.18h19.18v1.18h-19.18zM470.6 425.19h19.18v1.18h-19.18zM489.8 427.45h19.18v1.18h-19.18zM451.5 428.57h19.18v1.18h-19.18zM451.5 456.74h19.18v1.18h-19.18zM470.6 456.74h19.18v1.18h-19.18zM451.5 457.87h19.18v1.18h-19.18zM470.6 461.25h19.18v1.18h-19.18zM451.5 463.50h19.18v1.18h-19.18zM470.6 470.26h19.18v1.18h-19.18zM470.6 474.77h19.18v1.18h-19.18zM470.6 489.41h19.18v1.18h-19.18zM470.6 493.92h19.18v1.18h-19.18zM470.6 495.05h19.18v1.18h-19.18z"/>
<path fill="#90d743" d="M470.6 410.55h19.18v1.18h-19.18zM470.6 428.57h19.18v1.18h-19.18zM470.6 437.59h19.18v1.18h-19.18zM489.8 469.13h19.18v1.18h-19.18z"/>
<path fill="#9bd93c" d="M470.6 411.67h19.18v1.18h-19.18zM470.6 439.84h19.18v1.18h-19.18zM489.8 473.64h19.18v1.18h-19.18z"/>
<path fill="#dfe318" d="M489.8 449.98h19.18v1.18h-19.18z"/>
<path fill="#a5db36" d="M489.8 460.12h19.18v1.18h-19.18zM489.8 471.39h19.18v1.18h-19.18zM489.8 495.05h19.18v1.18h-19.18z"/>
</g>
<rect x="451.50" y="328.30" width="57.40" height="169.00" fill="none" stroke="#231f20" stroke-width="1.5"/>
<text x="443.20" y="407.50" font-size="14.2" text-anchor="middle" fill="#231f20" transform="rotate(-90 443.2 407.5)">17,583 specific cCREs</text>
<rect x="456.30" y="504.20" width="49.60" height="10.10" fill="url(#gvir)" stroke="#231f20" stroke-width="1.4"/>
<text x="446.00" y="514.00" font-size="14" text-anchor="start" fill="#231f20">0</text>
<text x="508.40" y="514.00" font-size="14" text-anchor="start" fill="#231f20">4</text>
<text x="449.10" y="529.50" font-size="14" text-anchor="start" fill="#231f20">Norm. acc.</text>
<text transform="translate(516.30 286.00) scale(1.07 1)" font-size="21.0" fill="#1a1718" style="font-weight:bold;">h</text>
<text x="560.70" y="325.20" font-size="14" text-anchor="start" fill="#231f20" transform="rotate(-90 560.7 325.2)">ASCW</text>
<text x="580.10" y="325.20" font-size="14" text-anchor="start" fill="#231f20" transform="rotate(-90 580.1 325.2)">ASCG</text>
<text x="599.50" y="325.20" font-size="14" text-anchor="start" fill="#231f20" transform="rotate(-90 599.5 325.2)">ASCN</text>
<g shape-rendering="crispEdges">
<rect x="546.00" y="328.70" width="58.20" height="168.30" fill="#4574b3" stroke="none" stroke-width="1"/>
<rect x="546.00" y="328.70" width="19.40" height="26.90" fill="#d62f27" stroke="none" stroke-width="1"/>
<rect x="546.00" y="355.60" width="19.40" height="5.00" fill="#f88c51" stroke="none" stroke-width="1"/>
<rect x="546.00" y="360.60" width="19.40" height="11.10" fill="#ee613e" stroke="none" stroke-width="1"/>
<rect x="546.00" y="371.70" width="19.40" height="7.90" fill="#d62f27" stroke="none" stroke-width="1"/>
<rect x="546.00" y="379.60" width="19.40" height="12.40" fill="#d6eef5" stroke="none" stroke-width="1"/>
<rect x="546.00" y="392.00" width="19.40" height="23.50" fill="#f6fbd0" stroke="none" stroke-width="1"/>
<rect x="546.00" y="415.50" width="19.40" height="6.50" fill="#fdb769" stroke="none" stroke-width="1"/>
<rect x="546.00" y="422.00" width="19.40" height="8.50" fill="#feea9f" stroke="none" stroke-width="1"/>
<rect x="546.00" y="430.50" width="19.40" height="3.50" fill="#7fb6d6" stroke="none" stroke-width="1"/>
<rect x="546.00" y="434.00" width="19.40" height="4.00" fill="#659bc8" stroke="none" stroke-width="1"/>
<rect x="546.00" y="438.00" width="19.40" height="4.00" fill="#90c3dd" stroke="none" stroke-width="1"/>
<rect x="546.00" y="442.00" width="19.40" height="4.00" fill="#6ba2cb" stroke="none" stroke-width="1"/>
<rect x="546.00" y="446.00" width="19.40" height="4.00" fill="#7fb6d6" stroke="none" stroke-width="1"/>
<rect x="546.00" y="450.00" width="19.40" height="4.00" fill="#74add1" stroke="none" stroke-width="1"/>
<rect x="546.00" y="454.00" width="19.40" height="4.30" fill="#fee090" stroke="none" stroke-width="1"/>
<rect x="546.00" y="458.30" width="19.40" height="3.70" fill="#90c3dd" stroke="none" stroke-width="1"/>
<rect x="546.00" y="462.00" width="19.40" height="4.80" fill="#74add1" stroke="none" stroke-width="1"/>
<rect x="546.00" y="466.80" width="19.40" height="8.60" fill="#4574b3" stroke="none" stroke-width="1"/>
<rect x="546.00" y="475.40" width="19.40" height="6.40" fill="#7fb6d6" stroke="none" stroke-width="1"/>
<rect x="546.00" y="481.80" width="19.40" height="15.20" fill="#4574b3" stroke="none" stroke-width="1"/>
<rect x="565.40" y="328.70" width="19.40" height="43.00" fill="#d62f27" stroke="none" stroke-width="1"/>
<rect x="565.40" y="371.70" width="19.40" height="58.80" fill="#4574b3" stroke="none" stroke-width="1"/>
<rect x="565.40" y="430.50" width="19.40" height="7.50" fill="#fff0a8" stroke="none" stroke-width="1"/>
<rect x="565.40" y="438.00" width="19.40" height="7.40" fill="#fffebe" stroke="none" stroke-width="1"/>
<rect x="565.40" y="445.40" width="19.40" height="4.60" fill="#e0f3f8" stroke="none" stroke-width="1"/>
<rect x="565.40" y="450.00" width="19.40" height="4.00" fill="#f0f9db" stroke="none" stroke-width="1"/>
<rect x="565.40" y="454.00" width="19.40" height="4.30" fill="#fdad60" stroke="none" stroke-width="1"/>
<rect x="565.40" y="458.30" width="19.40" height="4.20" fill="#ee613e" stroke="none" stroke-width="1"/>
<rect x="565.40" y="462.50" width="19.40" height="4.30" fill="#fdc778" stroke="none" stroke-width="1"/>
<rect x="565.40" y="466.80" width="19.40" height="13.20" fill="#4574b3" stroke="none" stroke-width="1"/>
<rect x="565.40" y="480.00" width="19.40" height="5.00" fill="#5385bd" stroke="none" stroke-width="1"/>
<rect x="565.40" y="485.00" width="19.40" height="5.00" fill="#6095c4" stroke="none" stroke-width="1"/>
<rect x="565.40" y="490.00" width="19.40" height="7.00" fill="#5385bd" stroke="none" stroke-width="1"/>
<rect x="584.80" y="328.70" width="19.40" height="43.00" fill="#4574b3" stroke="none" stroke-width="1"/>
<rect x="584.80" y="371.70" width="19.40" height="4.30" fill="#74add1" stroke="none" stroke-width="1"/>
<rect x="584.80" y="376.00" width="19.40" height="4.00" fill="#5385bd" stroke="none" stroke-width="1"/>
<rect x="584.80" y="405.00" width="19.40" height="5.00" fill="#5385bd" stroke="none" stroke-width="1"/>
<rect x="584.80" y="410.00" width="19.40" height="5.00" fill="#6095c4" stroke="none" stroke-width="1"/>
<rect x="584.80" y="415.00" width="19.40" height="5.00" fill="#5385bd" stroke="none" stroke-width="1"/>
<rect x="584.80" y="420.00" width="19.40" height="5.00" fill="#659bc8" stroke="none" stroke-width="1"/>
<rect x="584.80" y="425.00" width="19.40" height="5.00" fill="#5385bd" stroke="none" stroke-width="1"/>
<rect x="584.80" y="430.50" width="19.40" height="9.50" fill="#659bc8" stroke="none" stroke-width="1"/>
<rect x="584.80" y="440.00" width="19.40" height="5.00" fill="#7fb6d6" stroke="none" stroke-width="1"/>
<rect x="584.80" y="445.00" width="19.40" height="9.00" fill="#4574b3" stroke="none" stroke-width="1"/>
<rect x="584.80" y="454.00" width="19.40" height="4.30" fill="#9fd0e4" stroke="none" stroke-width="1"/>
<rect x="584.80" y="458.30" width="19.40" height="8.50" fill="#4574b3" stroke="none" stroke-width="1"/>
<rect x="584.80" y="466.80" width="19.40" height="6.40" fill="#d62f27" stroke="none" stroke-width="1"/>
<rect x="584.80" y="473.20" width="19.40" height="8.60" fill="#e0f3f8" stroke="none" stroke-width="1"/>
<rect x="584.80" y="481.80" width="19.40" height="4.20" fill="#fff8b5" stroke="none" stroke-width="1"/>
<rect x="584.80" y="486.00" width="19.40" height="4.00" fill="#c5e6f0" stroke="none" stroke-width="1"/>
<rect x="584.80" y="490.00" width="19.40" height="4.00" fill="#fffebe" stroke="none" stroke-width="1"/>
<rect x="584.80" y="494.00" width="19.40" height="3.00" fill="#f0f9db" stroke="none" stroke-width="1"/>
</g>
<rect x="546.00" y="328.70" width="58.20" height="168.30" fill="none" stroke="#231f20" stroke-width="1.5"/>
<path d="M546 348.3 H533.9 V427.3 H538.5 M546 392 H540 V470 H546 M546 365 H541.5 V376 H546 M540 400 H542.5 M546 382 H542.5 V420 H546 M542.5 400 H544 V390 H546 M544 410 H546 M546 440 H542 V458 H546 M540 450 H542 M546 446 H543.5 V452 H546 M546 476 H541 V492 H546 M541 484 H540 M546 485 H543 V488 H546 M538.5 427.3 H540" fill="none" stroke="#666" stroke-width="0.7"/>
<text x="529.50" y="413.40" font-size="14.6" text-anchor="middle" fill="#231f20" transform="rotate(-90 529.5 413.4)">Motif enrichment</text>
<line x1="607.20" y1="330.00" x2="607.20" y2="370.60" stroke="#444" stroke-width="1.4"/>
<line x1="607.20" y1="372.90" x2="607.20" y2="378.40" stroke="#444" stroke-width="1.6"/>
<line x1="607.20" y1="465.50" x2="607.20" y2="472.00" stroke="#444" stroke-width="1.6"/>
<path d="M604.5 417.2 H611 M604.5 420 L610.5 427.4 M604.5 458.8 H611" fill="none" stroke="#231f20" stroke-width="1.1"/>
<text x="611.90" y="347.30" font-size="13.2" text-anchor="start" fill="#231f20"><tspan style="font-style:italic">Dlx</tspan> (Hox)</text>
<text x="611.90" y="361.70" font-size="13.2" text-anchor="start" fill="#231f20"><tspan style="font-style:italic">Lhx</tspan> (Hox)</text>
<text x="611.90" y="379.00" font-size="13.2" text-anchor="start" fill="#231f20"><tspan style="font-style:italic">Rfx1</tspan> (HTH)</text>
<text x="611.90" y="391.30" font-size="13.2" text-anchor="start" fill="#231f20"><tspan style="font-style:italic">Rfx5</tspan> (HTH)</text>
<text x="611.90" y="420.60" font-size="13.2" text-anchor="start" fill="#231f20"><tspan style="font-style:italic">Rfx2</tspan> (HTH)</text>
<text x="611.90" y="433.00" font-size="13.2" text-anchor="start" fill="#231f20">X-box (HTH)</text>
<text x="611.90" y="460.50" font-size="13.2" text-anchor="start" fill="#231f20"><tspan style="font-style:italic">Nanog</tspan> (Hox)</text>
<text x="611.90" y="473.30" font-size="13.2" text-anchor="start" fill="#231f20"><tspan style="font-style:italic">Gli2</tspan> (Zf)</text>
<text x="611.90" y="485.10" font-size="13.2" text-anchor="start" fill="#231f20"><tspan style="font-style:italic">Gli3</tspan> (Zf)</text>
<rect x="552.20" y="503.20" width="51.00" height="10.20" fill="url(#gryb)" stroke="#231f20" stroke-width="1.4"/>
<text x="543.00" y="513.00" font-size="14" text-anchor="start" fill="#231f20">0</text>
<text x="605.70" y="513.00" font-size="14" text-anchor="start" fill="#231f20">≥100</text>
<text x="541.60" y="529.20" font-size="13.4" text-anchor="start" fill="#231f20">–log(<tspan style="font-style:italic">P</tspan> value)</text>
<text transform="translate(1.50 556.70) scale(1.07 1)" font-size="21.0" fill="#1a1718" style="font-weight:bold;">i</text>
<text x="2.00" y="581.80" font-size="14.2" text-anchor="start" fill="#231f20">chr16:91,220,766–91,230,552</text>
<line x1="1.90" y1="623.80" x2="197.10" y2="623.80" stroke="#c8c8c8" stroke-width="0.9"/>
<line x1="1.90" y1="660.30" x2="197.10" y2="660.30" stroke="#c8c8c8" stroke-width="0.9"/>
<line x1="1.90" y1="696.00" x2="197.10" y2="696.00" stroke="#c8c8c8" stroke-width="0.9"/>
<line x1="1.90" y1="724.50" x2="197.10" y2="724.50" stroke="#c8c8c8" stroke-width="0.9"/>
<path d="M2.9 623.8 L2.9 623.80 L3.4 623.80 L3.9 623.80 L4.4 623.80 L4.9 623.80 L5.4 623.80 L5.9 623.80 L6.4 623.80 L6.9 623.80 L7.4 623.80 L7.9 623.80 L8.4 623.80 L8.9 623.80 L9.4 623.80 L9.9 623.80 L10.4 623.80 L10.9 623.80 L11.4 623.80 L11.9 623.80 L12.4 623.80 L12.9 623.80 L13.4 623.80 L13.9 623.80 L14.4 623.80 L14.9 623.80 L15.4 623.80 L15.9 623.80 L16.4 623.80 L16.9 623.80 L17.4 623.80 L17.9 623.80 L18.4 623.80 L18.9 623.80 L19.4 623.80 L19.9 623.80 L20.4 623.80 L20.9 623.80 L21.4 623.80 L21.9 623.80 L22.4 623.80 L22.9 623.80 L23.4 623.80 L23.9 623.52 L24.4 623.36 L24.9 623.12 L25.4 622.74 L25.9 622.42 L26.4 621.83 L26.9 621.67 L27.4 620.76 L27.9 620.21 L28.4 620.15 L28.9 619.36 L29.4 618.70 L29.9 618.64 L30.4 618.14 L30.9 617.57 L31.4 618.04 L31.9 618.11 L32.4 618.15 L32.9 617.56 L33.4 617.55 L33.9 617.18 L34.4 616.69 L34.9 615.89 L35.4 616.10 L35.9 615.97 L36.4 616.20 L36.9 614.66 L37.4 615.39 L37.9 615.22 L38.4 616.31 L38.9 617.08 L39.4 617.14 L39.9 617.74 L40.4 618.44 L40.9 618.65 L41.4 618.30 L41.9 619.03 L42.4 619.43 L42.9 620.00 L43.4 620.49 L43.9 620.62 L44.4 621.09 L44.9 621.41 L45.4 621.50 L45.9 621.70 L46.4 621.67 L46.9 621.66 L47.4 621.95 L47.9 621.84 L48.4 622.13 L48.9 622.18 L49.4 622.37 L49.9 622.46 L50.4 622.59 L50.9 622.78 L51.4 622.97 L51.9 623.15 L52.4 623.31 L52.9 623.47 L53.4 623.80 L53.9 623.80 L54.4 623.80 L54.9 623.80 L55.4 623.80 L55.9 623.80 L56.4 623.80 L56.9 623.80 L57.4 623.80 L57.9 623.80 L58.4 623.80 L58.9 623.80 L59.4 623.80 L59.9 623.80 L60.4 623.80 L60.9 623.80 L61.4 623.80 L61.9 623.80 L62.4 623.80 L62.9 623.80 L63.4 623.80 L63.9 623.80 L64.4 623.80 L64.9 623.80 L65.4 623.80 L65.9 623.80 L66.4 623.80 L66.9 623.80 L67.4 623.80 L67.9 623.80 L68.4 623.80 L68.9 623.80 L69.4 623.80 L69.9 623.80 L70.4 623.80 L70.9 623.80 L71.4 623.80 L71.9 623.80 L72.4 623.80 L72.9 623.80 L73.4 623.80 L73.9 623.80 L74.4 623.80 L74.9 623.80 L75.4 623.80 L75.9 623.80 L76.4 623.80 L76.9 623.80 L77.4 623.80 L77.9 623.80 L78.4 623.80 L78.9 623.80 L79.4 623.80 L79.9 623.80 L80.4 623.80 L80.9 623.80 L81.4 623.80 L81.9 623.38 L82.4 622.99 L82.9 622.43 L83.4 621.52 L83.9 620.40 L84.4 619.84 L84.9 618.49 L85.4 618.58 L85.9 618.97 L86.4 619.56 L86.9 620.70 L87.4 621.79 L87.9 622.67 L88.4 623.14 L88.9 623.44 L89.4 623.80 L89.9 623.48 L90.4 623.27 L90.9 622.96 L91.4 622.20 L91.9 621.39 L92.4 619.66 L92.9 617.98 L93.4 616.70 L93.9 614.72 L94.4 612.45 L94.9 611.31 L95.4 609.43 L95.9 609.97 L96.4 611.33 L96.9 612.00 L97.4 614.80 L97.9 615.15 L98.4 616.34 L98.9 617.87 L99.4 618.95 L99.9 619.44 L100.4 619.85 L100.9 620.72 L101.4 621.35 L101.9 621.41 L102.4 622.03 L102.9 622.00 L103.4 622.25 L103.9 622.26 L104.4 622.53 L104.9 622.56 L105.4 622.80 L105.9 623.07 L106.4 623.25 L106.9 623.35 L107.4 623.45 L107.9 623.55 L108.4 623.80 L108.9 623.80 L109.4 623.55 L109.9 623.50 L110.4 623.42 L110.9 623.35 L111.4 623.18 L111.9 623.05 L112.4 623.03 L112.9 622.75 L113.4 622.72 L113.9 622.71 L114.4 622.74 L114.9 622.56 L115.4 622.58 L115.9 622.69 L116.4 622.82 L116.9 622.76 L117.4 622.95 L117.9 623.06 L118.4 623.07 L118.9 623.22 L119.4 623.35 L119.9 623.45 L120.4 623.48 L120.9 623.54 L121.4 623.48 L121.9 623.43 L122.4 623.34 L122.9 623.23 L123.4 623.02 L123.9 622.91 L124.4 622.81 L124.9 622.72 L125.4 622.81 L125.9 622.88 L126.4 622.98 L126.9 623.01 L127.4 623.06 L127.9 623.15 L128.4 623.14 L128.9 623.18 L129.4 623.10 L129.9 623.02 L130.4 622.94 L130.9 622.67 L131.4 622.62 L131.9 622.62 L132.4 622.57 L132.9 622.49 L133.4 622.58 L133.9 622.49 L134.4 622.66 L134.9 622.67 L135.4 622.79 L135.9 622.83 L136.4 622.93 L136.9 622.98 L137.4 622.97 L137.9 622.94 L138.4 622.88 L138.9 622.79 L139.4 622.62 L139.9 622.56 L140.4 622.54 L140.9 622.40 L141.4 622.45 L141.9 622.28 L142.4 622.36 L142.9 622.55 L143.4 622.49 L143.9 622.60 L144.4 622.90 L144.9 622.92 L145.4 623.01 L145.9 623.15 L146.4 623.16 L146.9 623.16 L147.4 623.08 L147.9 623.01 L148.4 622.82 L148.9 622.86 L149.4 622.72 L149.9 622.75 L150.4 622.78 L150.9 622.93 L151.4 623.08 L151.9 623.18 L152.4 623.29 L152.9 623.42 L153.4 623.80 L153.9 623.80 L154.4 623.80 L154.9 623.80 L155.4 623.80 L155.9 623.80 L156.4 623.80 L156.9 623.80 L157.4 623.80 L157.9 623.80 L158.4 623.80 L158.9 623.80 L159.4 623.80 L159.9 623.80 L160.4 623.80 L160.9 623.80 L161.4 623.80 L161.9 623.80 L162.4 623.80 L162.9 623.80 L163.4 623.80 L163.9 623.80 L164.4 623.80 L164.9 623.80 L165.4 623.80 L165.9 623.80 L166.4 623.80 L166.9 623.80 L167.4 623.80 L167.9 623.80 L168.4 623.80 L168.9 623.80 L169.4 623.80 L169.9 623.80 L170.4 623.80 L170.9 623.80 L171.4 623.80 L171.9 623.80 L172.4 623.52 L172.9 623.34 L173.4 623.20 L173.9 623.04 L174.4 622.87 L174.9 622.53 L175.4 622.47 L175.9 622.33 L176.4 622.40 L176.9 622.43 L177.4 622.63 L177.9 622.93 L178.4 623.11 L178.9 623.28 L179.4 623.49 L179.9 623.80 L180.4 623.80 L180.9 623.80 L181.4 623.80 L181.9 623.80 L182.4 623.80 L182.9 623.80 L183.4 623.80 L183.9 623.80 L184.4 623.80 L184.9 623.80 L185.4 623.80 L185.9 623.80 L186.4 623.80 L186.9 623.80 L187.4 623.80 L187.9 623.80 L188.4 623.80 L188.9 623.80 L189.4 623.80 L189.9 623.43 L190.4 623.23 L190.9 622.99 L191.4 622.88 L191.9 622.78 L192.4 622.88 L192.9 622.97 L193.4 623.17 L193.9 623.34 L194.4 623.54 L194.9 623.80 L195.4 623.80 L195.9 623.80 L195.9 623.8 Z" fill="#a04f80" stroke="none" stroke-width="1"/>
<path d="M2.9 660.3 L2.9 660.30 L3.4 660.30 L3.9 660.30 L4.4 660.30 L4.9 660.30 L5.4 660.30 L5.9 660.30 L6.4 660.30 L6.9 660.30 L7.4 660.30 L7.9 660.30 L8.4 660.30 L8.9 660.30 L9.4 660.30 L9.9 660.30 L10.4 660.30 L10.9 660.30 L11.4 660.30 L11.9 660.30 L12.4 660.30 L12.9 660.30 L13.4 660.30 L13.9 660.30 L14.4 660.30 L14.9 660.30 L15.4 660.30 L15.9 660.30 L16.4 660.30 L16.9 660.30 L17.4 660.30 L17.9 660.30 L18.4 660.30 L18.9 660.30 L19.4 660.30 L19.9 660.30 L20.4 660.30 L20.9 660.30 L21.4 660.30 L21.9 660.30 L22.4 660.30 L22.9 660.30 L23.4 660.30 L23.9 660.30 L24.4 660.30 L24.9 660.30 L25.4 659.99 L25.9 659.85 L26.4 659.72 L26.9 659.59 L27.4 659.37 L27.9 659.25 L28.4 659.12 L28.9 658.84 L29.4 658.67 L29.9 658.60 L30.4 658.54 L30.9 658.37 L31.4 658.58 L31.9 658.24 L32.4 658.23 L32.9 658.42 L33.4 658.21 L33.9 658.26 L34.4 657.99 L34.9 658.22 L35.4 658.00 L35.9 657.74 L36.4 657.66 L36.9 658.11 L37.4 658.00 L37.9 658.07 L38.4 658.39 L38.9 658.46 L39.4 658.96 L39.9 659.14 L40.4 659.46 L40.9 659.59 L41.4 659.83 L41.9 659.98 L42.4 660.30 L42.9 660.30 L43.4 660.30 L43.9 660.30 L44.4 660.30 L44.9 660.30 L45.4 660.30 L45.9 660.30 L46.4 660.30 L46.9 660.30 L47.4 660.30 L47.9 660.30 L48.4 660.30 L48.9 660.30 L49.4 660.30 L49.9 660.30 L50.4 660.30 L50.9 660.30 L51.4 660.30 L51.9 660.30 L52.4 660.30 L52.9 660.30 L53.4 660.30 L53.9 660.30 L54.4 660.30 L54.9 660.30 L55.4 660.30 L55.9 660.30 L56.4 660.30 L56.9 660.30 L57.4 660.30 L57.9 660.30 L58.4 660.30 L58.9 660.30 L59.4 660.30 L59.9 660.30 L60.4 660.30 L60.9 660.30 L61.4 660.30 L61.9 660.30 L62.4 660.30 L62.9 660.30 L63.4 660.30 L63.9 660.30 L64.4 660.30 L64.9 660.30 L65.4 660.30 L65.9 660.30 L66.4 660.30 L66.9 660.30 L67.4 660.30 L67.9 660.30 L68.4 660.30 L68.9 660.30 L69.4 660.30 L69.9 660.30 L70.4 660.30 L70.9 660.30 L71.4 660.30 L71.9 660.30 L72.4 660.30 L72.9 660.30 L73.4 660.30 L73.9 660.30 L74.4 660.30 L74.9 660.30 L75.4 660.30 L75.9 660.30 L76.4 660.30 L76.9 660.30 L77.4 660.30 L77.9 660.30 L78.4 660.30 L78.9 660.30 L79.4 660.30 L79.9 660.30 L80.4 660.30 L80.9 660.30 L81.4 660.30 L81.9 660.30 L82.4 659.83 L82.9 659.35 L83.4 658.80 L83.9 658.04 L84.4 657.21 L84.9 656.77 L85.4 656.54 L85.9 657.53 L86.4 657.77 L86.9 658.67 L87.4 659.27 L87.9 659.73 L88.4 660.03 L88.9 660.30 L89.4 660.30 L89.9 660.30 L90.4 660.30 L90.9 660.30 L91.4 659.94 L91.9 659.69 L92.4 659.14 L92.9 658.60 L93.4 657.72 L93.9 657.20 L94.4 656.54 L94.9 655.88 L95.4 655.45 L95.9 655.77 L96.4 655.82 L96.9 656.34 L97.4 656.53 L97.9 657.36 L98.4 657.52 L98.9 658.10 L99.4 658.50 L99.9 658.87 L100.4 659.28 L100.9 659.57 L101.4 659.84 L101.9 660.30 L102.4 660.30 L102.9 660.30 L103.4 660.30 L103.9 660.30 L104.4 660.30 L104.9 660.30 L105.4 660.30 L105.9 660.30 L106.4 660.30 L106.9 660.30 L107.4 660.30 L107.9 660.30 L108.4 660.30 L108.9 660.30 L109.4 660.30 L109.9 660.30 L110.4 660.30 L110.9 660.30 L111.4 660.30 L111.9 660.30 L112.4 660.30 L112.9 660.30 L113.4 660.30 L113.9 660.30 L114.4 660.30 L114.9 660.30 L115.4 660.30 L115.9 659.98 L116.4 659.91 L116.9 659.86 L117.4 659.74 L117.9 659.69 L118.4 659.67 L118.9 659.56 L119.4 659.52 L119.9 659.50 L120.4 659.56 L120.9 659.51 L121.4 659.56 L121.9 659.68 L122.4 659.74 L122.9 659.80 L123.4 659.89 L123.9 659.93 L124.4 660.02 L124.9 660.30 L125.4 660.30 L125.9 660.30 L126.4 660.30 L126.9 660.30 L127.4 660.30 L127.9 660.30 L128.4 660.30 L128.9 660.30 L129.4 660.30 L129.9 660.30 L130.4 660.05 L130.9 659.97 L131.4 659.93 L131.9 659.79 L132.4 659.75 L132.9 659.67 L133.4 659.64 L133.9 659.58 L134.4 659.49 L134.9 659.46 L135.4 659.48 L135.9 659.49 L136.4 659.56 L136.9 659.64 L137.4 659.69 L137.9 659.78 L138.4 659.88 L138.9 659.94 L139.4 660.01 L139.9 660.30 L140.4 660.30 L140.9 660.30 L141.4 660.30 L141.9 660.30 L142.4 660.30 L142.9 660.30 L143.4 660.30 L143.9 660.30 L144.4 660.30 L144.9 660.30 L145.4 660.30 L145.9 660.30 L146.4 660.30 L146.9 660.30 L147.4 660.30 L147.9 660.30 L148.4 660.30 L148.9 660.30 L149.4 660.30 L149.9 660.30 L150.4 660.30 L150.9 660.30 L151.4 660.30 L151.9 660.30 L152.4 660.30 L152.9 660.30 L153.4 660.30 L153.9 660.30 L154.4 660.30 L154.9 660.30 L155.4 660.30 L155.9 660.30 L156.4 660.30 L156.9 660.30 L157.4 660.30 L157.9 660.30 L158.4 660.30 L158.9 660.30 L159.4 660.30 L159.9 660.30 L160.4 660.30 L160.9 660.30 L161.4 660.30 L161.9 660.30 L162.4 660.30 L162.9 660.30 L163.4 660.30 L163.9 660.30 L164.4 660.30 L164.9 660.30 L165.4 660.30 L165.9 660.30 L166.4 660.30 L166.9 660.30 L167.4 660.30 L167.9 660.30 L168.4 660.30 L168.9 660.30 L169.4 660.30 L169.9 660.30 L170.4 660.30 L170.9 660.30 L171.4 660.30 L171.9 660.30 L172.4 660.30 L172.9 660.04 L173.4 659.97 L173.9 659.87 L174.4 659.67 L174.9 659.65 L175.4 659.53 L175.9 659.44 L176.4 659.51 L176.9 659.58 L177.4 659.67 L177.9 659.77 L178.4 659.93 L178.9 660.01 L179.4 660.30 L179.9 660.30 L180.4 660.30 L180.9 660.30 L181.4 660.30 L181.9 660.30 L182.4 660.30 L182.9 660.30 L183.4 660.30 L183.9 660.30 L184.4 660.30 L184.9 660.30 L185.4 660.30 L185.9 660.30 L186.4 660.30 L186.9 660.30 L187.4 660.30 L187.9 660.30 L188.4 660.30 L188.9 660.30 L189.4 660.30 L189.9 660.30 L190.4 660.30 L190.9 660.30 L191.4 660.30 L191.9 660.30 L192.4 660.30 L192.9 660.30 L193.4 660.30 L193.9 660.30 L194.4 660.30 L194.9 660.30 L195.4 660.30 L195.9 660.30 L195.9 660.3 Z" fill="#a98bc9" stroke="none" stroke-width="1"/>
<path d="M2.9 696.0 L2.9 696.00 L3.4 696.00 L3.9 696.00 L4.4 696.00 L4.9 696.00 L5.4 696.00 L5.9 696.00 L6.4 696.00 L6.9 696.00 L7.4 696.00 L7.9 696.00 L8.4 696.00 L8.9 696.00 L9.4 696.00 L9.9 696.00 L10.4 696.00 L10.9 696.00 L11.4 696.00 L11.9 696.00 L12.4 696.00 L12.9 696.00 L13.4 696.00 L13.9 696.00 L14.4 696.00 L14.9 696.00 L15.4 696.00 L15.9 695.68 L16.4 695.58 L16.9 695.39 L17.4 695.31 L17.9 695.03 L18.4 694.77 L18.9 694.64 L19.4 694.18 L19.9 693.99 L20.4 693.65 L20.9 693.41 L21.4 693.44 L21.9 693.20 L22.4 692.87 L22.9 692.40 L23.4 691.96 L23.9 691.76 L24.4 691.10 L24.9 690.41 L25.4 689.52 L25.9 688.54 L26.4 687.65 L26.9 685.84 L27.4 686.27 L27.9 685.40 L28.4 684.15 L28.9 684.12 L29.4 682.87 L29.9 681.84 L30.4 680.80 L30.9 682.29 L31.4 680.74 L31.9 682.67 L32.4 683.05 L32.9 683.07 L33.4 683.09 L33.9 682.06 L34.4 681.34 L34.9 679.84 L35.4 677.88 L35.9 677.74 L36.4 674.68 L36.9 676.42 L37.4 677.19 L37.9 674.70 L38.4 677.87 L38.9 679.94 L39.4 678.71 L39.9 681.66 L40.4 681.96 L40.9 684.43 L41.4 685.33 L41.9 687.23 L42.4 688.35 L42.9 688.86 L43.4 689.27 L43.9 689.55 L44.4 689.50 L44.9 690.80 L45.4 690.54 L45.9 691.25 L46.4 691.47 L46.9 692.11 L47.4 692.45 L47.9 692.66 L48.4 693.03 L48.9 693.10 L49.4 693.40 L49.9 693.31 L50.4 693.58 L50.9 693.70 L51.4 693.73 L51.9 693.94 L52.4 694.15 L52.9 694.34 L53.4 694.54 L53.9 694.67 L54.4 694.90 L54.9 695.12 L55.4 695.29 L55.9 695.49 L56.4 695.59 L56.9 695.73 L57.4 696.00 L57.9 696.00 L58.4 696.00 L58.9 696.00 L59.4 696.00 L59.9 696.00 L60.4 696.00 L60.9 696.00 L61.4 696.00 L61.9 696.00 L62.4 696.00 L62.9 696.00 L63.4 696.00 L63.9 696.00 L64.4 696.00 L64.9 696.00 L65.4 696.00 L65.9 696.00 L66.4 696.00 L66.9 696.00 L67.4 696.00 L67.9 696.00 L68.4 696.00 L68.9 696.00 L69.4 696.00 L69.9 696.00 L70.4 696.00 L70.9 696.00 L71.4 696.00 L71.9 696.00 L72.4 696.00 L72.9 696.00 L73.4 696.00 L73.9 696.00 L74.4 696.00 L74.9 696.00 L75.4 696.00 L75.9 696.00 L76.4 696.00 L76.9 696.00 L77.4 696.00 L77.9 696.00 L78.4 696.00 L78.9 696.00 L79.4 696.00 L79.9 696.00 L80.4 696.00 L80.9 695.65 L81.4 695.24 L81.9 694.47 L82.4 693.42 L82.9 691.95 L83.4 690.15 L83.9 688.18 L84.4 687.61 L84.9 686.66 L85.4 688.20 L85.9 690.68 L86.4 691.57 L86.9 692.82 L87.4 694.29 L87.9 695.12 L88.4 695.56 L88.9 695.70 L89.4 695.68 L89.9 695.45 L90.4 694.98 L90.9 694.05 L91.4 692.74 L91.9 691.24 L92.4 687.98 L92.9 684.85 L93.4 681.19 L93.9 676.41 L94.4 673.44 L94.9 674.35 L95.4 666.93 L95.9 667.45 L96.4 670.23 L96.9 672.85 L97.4 675.22 L97.9 679.89 L98.4 681.84 L98.9 685.14 L99.4 687.68 L99.9 689.87 L100.4 691.32 L100.9 692.09 L101.4 692.87 L101.9 693.45 L102.4 693.74 L102.9 693.90 L103.4 693.75 L103.9 693.69 L104.4 694.13 L104.9 694.05 L105.4 694.58 L105.9 694.72 L106.4 694.96 L106.9 695.28 L107.4 695.45 L107.9 695.51 L108.4 695.53 L108.9 695.52 L109.4 695.38 L109.9 695.31 L110.4 695.04 L110.9 694.93 L111.4 694.76 L111.9 694.59 L112.4 694.50 L112.9 694.33 L113.4 694.30 L113.9 694.48 L114.4 694.61 L114.9 694.77 L115.4 694.82 L115.9 694.84 L116.4 694.88 L116.9 694.86 L117.4 694.81 L117.9 694.69 L118.4 694.72 L118.9 694.62 L119.4 694.40 L119.9 694.40 L120.4 694.53 L120.9 694.46 L121.4 694.71 L121.9 694.81 L122.4 695.03 L122.9 695.01 L123.4 695.13 L123.9 695.12 L124.4 695.12 L124.9 695.08 L125.4 694.97 L125.9 694.78 L126.4 694.73 L126.9 694.61 L127.4 694.51 L127.9 694.42 L128.4 694.43 L128.9 694.43 L129.4 694.67 L129.9 694.72 L130.4 694.96 L130.9 695.02 L131.4 695.12 L131.9 695.09 L132.4 695.12 L132.9 695.10 L133.4 694.95 L133.9 694.82 L134.4 694.72 L134.9 694.60 L135.4 694.55 L135.9 694.19 L136.4 694.38 L136.9 694.32 L137.4 694.53 L137.9 694.56 L138.4 694.53 L138.9 694.55 L139.4 694.47 L139.9 694.57 L140.4 694.41 L140.9 694.29 L141.4 694.46 L141.9 694.32 L142.4 694.52 L142.9 694.51 L143.4 694.63 L143.9 694.68 L144.4 694.96 L144.9 695.03 L145.4 695.08 L145.9 695.21 L146.4 695.15 L146.9 695.12 L147.4 695.01 L147.9 694.81 L148.4 694.67 L148.9 694.42 L149.4 694.42 L149.9 694.39 L150.4 694.52 L150.9 694.61 L151.4 694.70 L151.9 695.00 L152.4 694.97 L152.9 695.26 L153.4 695.44 L153.9 695.56 L154.4 695.67 L154.9 696.00 L155.4 696.00 L155.9 696.00 L156.4 696.00 L156.9 696.00 L157.4 696.00 L157.9 696.00 L158.4 696.00 L158.9 696.00 L159.4 696.00 L159.9 696.00 L160.4 695.74 L160.9 695.62 L161.4 695.49 L161.9 695.28 L162.4 695.18 L162.9 694.95 L163.4 694.68 L163.9 694.68 L164.4 694.53 L164.9 694.42 L165.4 694.52 L165.9 694.48 L166.4 694.64 L166.9 694.64 L167.4 694.77 L167.9 694.89 L168.4 694.78 L168.9 694.84 L169.4 694.78 L169.9 694.71 L170.4 694.54 L170.9 694.37 L171.4 694.19 L171.9 693.97 L172.4 694.10 L172.9 693.92 L173.4 693.71 L173.9 693.80 L174.4 693.78 L174.9 693.70 L175.4 693.91 L175.9 694.01 L176.4 694.20 L176.9 694.23 L177.4 694.50 L177.9 694.83 L178.4 694.97 L178.9 695.25 L179.4 695.35 L179.9 695.53 L180.4 695.68 L180.9 696.00 L181.4 696.00 L181.9 696.00 L182.4 696.00 L182.9 696.00 L183.4 696.00 L183.9 696.00 L184.4 696.00 L184.9 696.00 L185.4 695.74 L185.9 695.56 L186.4 695.47 L186.9 695.32 L187.4 695.09 L187.9 695.11 L188.4 694.78 L188.9 694.64 L189.4 694.61 L189.9 694.47 L190.4 694.67 L190.9 694.59 L191.4 694.66 L191.9 695.00 L192.4 695.12 L192.9 695.24 L193.4 695.41 L193.9 695.57 L194.4 695.68 L194.9 696.00 L195.4 696.00 L195.9 696.00 L195.9 696.0 Z" fill="#a699d5" stroke="none" stroke-width="1"/>
<rect x="1.90" y="588.70" width="195.20" height="169.00" fill="none" stroke="#231f20" stroke-width="1.5"/>
<text x="5.40" y="601.50" font-size="14" text-anchor="start" fill="#231f20">ASCG</text>
<text x="5.40" y="637.50" font-size="14" text-anchor="start" fill="#231f20">ASCW</text>
<text x="5.40" y="673.20" font-size="14" text-anchor="start" fill="#231f20">ASCN</text>
<line x1="35.00" y1="701.70" x2="35.00" y2="716.90" stroke="#5867c0" stroke-width="1.0"/>
<line x1="42.30" y1="701.70" x2="42.30" y2="716.90" stroke="#5867c0" stroke-width="1.0"/>
<line x1="111.00" y1="701.70" x2="111.00" y2="716.90" stroke="#5867c0" stroke-width="1.0"/>
<text x="119.70" y="714.00" font-size="14" text-anchor="start" fill="#231f20">GLI motif</text>
<text x="5.20" y="744.90" font-size="14" text-anchor="start" fill="#231f20">Gene</text>
<rect x="99.60" y="738.20" width="1.60" height="6.60" fill="#27369a" stroke="none" stroke-width="1"/>
<line x1="100.50" y1="741.40" x2="117.00" y2="741.40" stroke="#27369a" stroke-width="1.0"/>
<path d="M108.5 739.8 L110.5 741.4 L108.5 743" fill="none" stroke="#27369a" stroke-width="0.8"/>
<path d="M117.5 736.3 H139.6 V738.9 H167.9 V744.3 H139.6 V746.3 H117.5 Z" fill="#27369a" stroke="none" stroke-width="1"/>
<path d="M136 740 L137.6 741.4 L136 742.8" fill="none" stroke="#fff" stroke-width="0.7"/>
<text x="130.60" y="772.30" font-size="14" text-anchor="middle" fill="#231f20" style="font-style:italic;">Olig2</text>
<text transform="translate(212.60 557.00) scale(1.07 1)" font-size="21.0" fill="#1a1718" style="font-weight:bold;">j</text>
<rect x="241.50" y="588.60" width="28.67" height="28.23" fill="#67001f" stroke="none" stroke-width="1"/>
<rect x="270.17" y="588.60" width="28.67" height="28.23" fill="#790622" stroke="none" stroke-width="1"/>
<rect x="298.83" y="588.60" width="28.67" height="28.23" fill="#fbd0b9" stroke="none" stroke-width="1"/>
<rect x="241.50" y="616.83" width="28.67" height="28.23" fill="#67001f" stroke="none" stroke-width="1"/>
<rect x="270.17" y="616.83" width="28.67" height="28.23" fill="#67001f" stroke="none" stroke-width="1"/>
<rect x="298.83" y="616.83" width="28.67" height="28.23" fill="#d8e9f1" stroke="none" stroke-width="1"/>
<rect x="241.50" y="645.07" width="28.67" height="28.23" fill="#67001f" stroke="none" stroke-width="1"/>
<rect x="270.17" y="645.07" width="28.67" height="28.23" fill="#f9efe9" stroke="none" stroke-width="1"/>
<rect x="298.83" y="645.07" width="28.67" height="28.23" fill="#d8e9f1" stroke="none" stroke-width="1"/>
<rect x="241.50" y="673.30" width="28.67" height="28.23" fill="#67001f" stroke="none" stroke-width="1"/>
<rect x="270.17" y="673.30" width="28.67" height="28.23" fill="#f5aa89" stroke="none" stroke-width="1"/>
<rect x="298.83" y="673.30" width="28.67" height="28.23" fill="#fbd0b9" stroke="none" stroke-width="1"/>
<rect x="241.50" y="701.53" width="28.67" height="28.23" fill="#f8bb9e" stroke="none" stroke-width="1"/>
<rect x="270.17" y="701.53" width="28.67" height="28.23" fill="#9dcbe1" stroke="none" stroke-width="1"/>
<rect x="298.83" y="701.53" width="28.67" height="28.23" fill="#ddebf2" stroke="none" stroke-width="1"/>
<rect x="241.50" y="729.77" width="28.67" height="28.23" fill="#183564" stroke="none" stroke-width="1"/>
<rect x="270.17" y="729.77" width="28.67" height="28.23" fill="#fddbc7" stroke="none" stroke-width="1"/>
<rect x="298.83" y="729.77" width="28.67" height="28.23" fill="#d25849" stroke="none" stroke-width="1"/>
<line x1="270.17" y1="588.60" x2="270.17" y2="758.00" stroke="#9d9d9d" stroke-width="1.4"/>
<line x1="298.83" y1="588.60" x2="298.83" y2="758.00" stroke="#9d9d9d" stroke-width="1.4"/>
<line x1="241.50" y1="616.83" x2="327.50" y2="616.83" stroke="#9d9d9d" stroke-width="1.4"/>
<line x1="241.50" y1="645.07" x2="327.50" y2="645.07" stroke="#9d9d9d" stroke-width="1.4"/>
<line x1="241.50" y1="673.30" x2="327.50" y2="673.30" stroke="#9d9d9d" stroke-width="1.4"/>
<line x1="241.50" y1="701.53" x2="327.50" y2="701.53" stroke="#9d9d9d" stroke-width="1.4"/>
<line x1="241.50" y1="729.77" x2="327.50" y2="729.77" stroke="#9d9d9d" stroke-width="1.4"/>
<text x="256.13" y="610.62" font-size="16.5" text-anchor="middle" fill="#ffffff">***</text>
<text x="284.80" y="610.62" font-size="16.5" text-anchor="middle" fill="#ffffff">***</text>
<text x="313.47" y="610.62" font-size="16.5" text-anchor="middle" fill="#231f20">***</text>
<text x="256.13" y="638.85" font-size="16.5" text-anchor="middle" fill="#ffffff">***</text>
<text x="284.80" y="638.85" font-size="16.5" text-anchor="middle" fill="#ffffff">***</text>
<text x="256.13" y="667.08" font-size="16.5" text-anchor="middle" fill="#ffffff">***</text>
<text x="284.80" y="667.08" font-size="16.5" text-anchor="middle" fill="#231f20">***</text>
<text x="256.13" y="695.32" font-size="16.5" text-anchor="middle" fill="#ffffff">***</text>
<text x="284.80" y="695.32" font-size="16.5" text-anchor="middle" fill="#231f20">***</text>
<text x="313.47" y="695.32" font-size="16.5" text-anchor="middle" fill="#231f20">***</text>
<text x="256.13" y="723.55" font-size="16.5" text-anchor="middle" fill="#231f20">***</text>
<text x="313.47" y="751.78" font-size="16.5" text-anchor="middle" fill="#231f20">***</text>
<rect x="241.50" y="588.60" width="86.00" height="169.40" fill="none" stroke="#231f20" stroke-width="1.5"/>
<text x="261.13" y="582.40" font-size="14" text-anchor="start" fill="#231f20" transform="rotate(-90 261.1333333333333 582.4)">ASCW</text>
<text x="289.80" y="582.40" font-size="14" text-anchor="start" fill="#231f20" transform="rotate(-90 289.8 582.4)">ASCG</text>
<text x="318.47" y="582.40" font-size="14" text-anchor="start" fill="#231f20" transform="rotate(-90 318.4666666666667 582.4)">ASCN</text>
<text x="220.40" y="671.60" font-size="14.2" text-anchor="middle" fill="#231f20" transform="rotate(-90 220.4 671.6)">Fraction of marker genes</text>
<text x="234.30" y="672.20" font-size="14.2" text-anchor="middle" fill="#231f20" transform="rotate(-90 234.3 672.2)">overlapped with ISH</text>
<rect x="259.00" y="766.50" width="50.00" height="9.80" fill="url(#grdb)" stroke="#231f20" stroke-width="1.4"/>
<text x="236.70" y="775.80" font-size="14" text-anchor="start" fill="#231f20">0.1</text>
<text x="312.20" y="775.80" font-size="14" text-anchor="start" fill="#231f20">0.3</text>
<text x="260.20" y="790.40" font-size="14" text-anchor="start" fill="#231f20">Fraction</text>
<text transform="translate(355.30 556.70) scale(1.07 1)" font-size="21.0" fill="#1a1718" style="font-weight:bold;">k</text>
<text x="361.60" y="607.30" font-size="14" text-anchor="middle" fill="#231f20">Isocortex</text>
<rect x="396.40" y="593.20" width="2.30" height="18.60" fill="#c0c0c0" stroke="#231f20" stroke-width="1.3"/>
<text x="361.60" y="635.90" font-size="14" text-anchor="middle" fill="#231f20">HPF</text>
<rect x="396.40" y="621.26" width="4.61" height="18.60" fill="#c0c0c0" stroke="#231f20" stroke-width="1.3"/>
<text x="361.60" y="664.70" font-size="14" text-anchor="middle" fill="#231f20">OLF</text>
<rect x="396.40" y="649.32" width="4.61" height="18.60" fill="#c0c0c0" stroke="#231f20" stroke-width="1.3"/>
<text x="361.60" y="693.10" font-size="14" text-anchor="middle" fill="#231f20">CTXsp</text>
<rect x="396.40" y="677.38" width="3.84" height="18.60" fill="#c0c0c0" stroke="#231f20" stroke-width="1.3"/>
<text x="361.60" y="722.00" font-size="14" text-anchor="middle" fill="#231f20">STR</text>
<rect x="396.40" y="705.44" width="8.26" height="18.60" fill="#c0c0c0" stroke="#231f20" stroke-width="1.3"/>
<text x="361.60" y="750.70" font-size="14" text-anchor="middle" fill="#231f20">PAL</text>
<rect x="396.40" y="733.50" width="45.12" height="18.60" fill="#4a6fbe" stroke="#231f20" stroke-width="1.3"/>
<line x1="396.40" y1="589.00" x2="396.40" y2="758.60" stroke="#231f20" stroke-width="1.6"/>
<line x1="395.60" y1="758.00" x2="454.20" y2="758.00" stroke="#231f20" stroke-width="1.6"/>
<line x1="415.60" y1="758.00" x2="415.60" y2="755.80" stroke="#231f20" stroke-width="1.0"/>
<line x1="434.80" y1="758.00" x2="434.80" y2="755.80" stroke="#231f20" stroke-width="1.0"/>
<line x1="454.00" y1="758.80" x2="454.00" y2="755.80" stroke="#231f20" stroke-width="1.2"/>
<text x="396.60" y="772.90" font-size="14" text-anchor="middle" fill="#231f20">0</text>
<text x="454.30" y="772.90" font-size="14" text-anchor="middle" fill="#231f20">3</text>
<text x="362.70" y="790.00" font-size="14" text-anchor="start" fill="#231f20">log<tspan font-size="9.5" dy="3">2</tspan><tspan dy="-3">(</tspan><tspan style="font-style:italic">Itih3</tspan> expression)</text>
<text transform="translate(478.80 556.20) scale(1.07 1)" font-size="21.0" fill="#1a1718" style="font-weight:bold;">l</text>
<rect x="481.60" y="588.30" width="196.30" height="169.30" fill="#f2edf4" stroke="none" stroke-width="1"/>
<path d="M481.6 714.5 L503.4 703.9 L526.9 690.5 L550.3 673.8 L563.6 657.1 L570.3 637.0 L575.4 620.3 L579.4 609.3 L583.7 617.0 L590.4 637.0 L600.4 657.1 L613.8 673.8 L637.2 690.5 L657.3 703.9 L677.9 715.6 L677.9 735.5 L660.0 737.9 L645.0 746.0 L632.0 752.6 L612.0 748.5 L593.5 743.7 L579.4 732.8 L570.0 740.2 L550.0 746.5 L529.2 751.9 L515.0 744.0 L500.0 736.5 L481.6 735.0 Z" fill="#e4dbea" opacity="0.6" filter="url(#bl2)"/>
<path d="M527 757.6 L530 754 L545 751 L560 748 L572 744 L579.4 737 L590 745 L605 750 L620 752 L633 755 L636 757.6 Z" fill="#ffffff" filter="url(#bl05)"/>
<path d="M523.5 592 L526.5 592 L527 640 L525 656 L523 640 Z" fill="#cfc3dc" opacity="0.6" filter="url(#bl05)"/>
<path d="M630.5 592 L633.5 592 L636 640 L634 655 L632 640 Z" fill="#cfc3dc" opacity="0.6" filter="url(#bl05)"/>
<path d="M636.5 594.6h0M621.1 657.1h0M515.4 608.7h0M576.5 597.6h0M530.7 613.8h0M506.4 707.6h0M617.0 687.6h0M540.6 630.2h0M602.0 611.4h0M573.3 730.3h0M557.8 603.8h0M613.5 614.9h0M525.4 644.8h0M599.2 726.8h0M638.1 735.3h0M675.1 681.6h0M486.0 698.9h0M585.4 619.0h0M572.1 710.1h0M624.6 751.1h0M557.3 648.2h0M559.2 591.6h0M509.4 631.7h0M538.8 656.2h0M485.6 596.2h0M535.2 737.3h0M553.3 680.3h0M577.3 702.0h0M543.1 713.7h0M496.9 605.5h0M487.0 730.9h0M664.7 652.0h0M529.3 660.2h0M557.9 613.4h0M545.7 686.3h0M612.7 652.3h0M529.2 731.6h0M616.6 690.7h0M670.2 687.2h0M625.3 651.4h0M634.5 717.0h0M672.1 724.6h0M605.2 719.5h0M604.7 713.0h0M579.5 622.9h0M502.8 675.6h0M666.4 643.3h0M490.6 646.7h0M552.3 677.4h0M651.5 693.5h0M589.5 704.4h0M542.8 727.8h0M488.4 662.2h0M635.1 616.5h0M483.9 705.8h0M563.6 668.0h0M655.1 685.5h0M668.7 725.8h0M549.5 648.4h0M492.6 683.4h0M500.2 591.0h0M660.2 602.7h0M493.6 589.0h0M657.7 668.8h0M662.9 750.0h0M523.5 747.6h0M635.4 609.9h0M568.9 663.8h0M608.7 620.6h0M518.6 630.8h0M636.0 721.2h0M551.6 672.4h0M616.7 708.8h0M672.1 589.7h0M536.2 699.6h0M573.9 694.7h0M498.1 712.8h0M616.9 713.4h0M646.6 613.0h0M548.8 718.0h0M611.0 690.3h0M535.3 662.2h0M504.6 652.0h0M522.0 648.1h0M545.5 737.8h0M631.0 614.5h0M562.0 675.8h0M559.9 656.5h0M659.6 722.7h0M495.3 653.9h0M632.1 740.0h0M482.7 703.6h0M634.3 701.0h0M634.0 711.8h0M489.6 628.6h0M568.4 690.6h0M505.1 728.3h0M599.9 599.3h0M573.5 695.5h0M517.5 730.6h0M655.1 709.1h0M546.9 757.3h0M531.6 605.0h0M661.0 649.7h0M677.8 734.9h0M540.3 659.8h0M525.4 754.1h0M524.4 709.2h0M535.8 661.5h0M649.6 620.4h0M591.3 710.4h0M535.1 725.2h0M601.1 618.8h0M515.8 737.0h0M497.4 687.8h0M567.8 729.2h0M518.4 681.9h0M631.9 734.9h0M516.0 672.5h0M581.1 615.1h0M635.3 604.0h0M518.4 710.0h0M598.2 743.7h0M548.0 645.9h0M595.0 707.8h0M515.9 757.1h0M604.1 732.2h0M530.6 692.9h0M569.6 645.9h0M514.2 602.8h0M607.2 676.7h0M590.6 594.3h0M511.4 652.9h0M482.9 689.1h0M660.8 697.0h0M555.5 714.0h0M526.9 682.8h0M624.7 668.1h0M561.7 748.9h0M543.9 637.9h0M630.4 635.7h0M535.2 685.5h0M588.2 606.6h0M648.1 628.5h0M520.4 651.5h0M528.3 658.3h0M577.7 685.0h0M660.3 670.3h0M497.9 661.2h0M501.8 640.9h0M661.4 589.7h0M591.6 685.4h0M498.6 746.6h0M655.6 755.4h0M624.2 594.3h0M636.9 597.7h0M486.0 706.3h0M634.9 716.6h0M511.1 612.6h0M563.3 715.6h0M530.1 653.1h0M672.9 671.7h0M509.7 684.4h0M670.8 628.1h0M646.0 670.3h0M499.3 638.1h0M519.8 641.7h0M567.0 739.6h0M603.1 630.3h0M662.7 674.3h0M636.5 657.3h0M529.9 602.9h0M666.3 666.7h0M560.3 641.6h0M662.9 661.3h0M523.7 603.0h0M664.7 743.7h0M662.8 702.2h0M511.8 652.4h0M638.3 681.3h0M500.8 604.1h0M508.2 738.3h0M579.8 689.0h0M606.4 646.5h0M502.3 608.9h0M520.3 756.0h0M579.2 718.0h0M506.9 635.0h0M657.3 722.5h0M545.1 589.2h0M586.3 605.0h0M602.3 686.3h0M573.4 617.4h0M502.2 645.9h0M579.0 606.9h0M537.2 735.5h0M534.3 617.6h0M521.8 627.2h0M601.1 657.7h0M554.1 696.8h0M667.6 679.3h0M569.4 675.0h0M555.0 625.3h0M488.5 749.8h0M647.1 657.2h0M488.7 742.3h0M553.8 591.4h0M596.8 703.9h0M488.6 593.7h0M539.9 717.5h0M634.8 755.7h0M651.2 723.3h0M532.7 619.2h0M508.4 756.8h0M515.2 633.0h0M656.3 612.4h0M547.5 714.5h0M584.6 748.8h0M672.9 748.3h0M553.4 690.8h0M596.5 672.6h0M549.1 619.1h0M554.7 655.7h0M659.6 596.0h0M572.6 595.1h0M547.5 687.0h0M591.7 627.6h0M637.3 659.2h0M569.3 669.2h0M562.0 685.8h0M659.2 616.5h0M649.5 686.2h0M496.7 632.8h0M513.4 739.2h0M501.4 644.7h0M557.0 620.9h0M657.2 706.0h0M533.2 702.2h0M539.9 649.1h0M519.1 620.6h0M497.3 642.6h0M483.2 732.1h0M582.7 686.3h0M567.6 649.6h0M515.2 659.0h0M623.1 665.5h0M604.7 698.1h0M484.7 716.0h0M521.4 674.5h0M588.5 693.0h0M600.1 726.9h0M548.4 740.6h0M659.3 713.8h0M615.9 669.1h0M537.9 640.4h0M660.2 637.3h0M537.8 646.8h0M619.6 718.0h0M660.9 679.0h0M598.1 653.3h0M550.7 728.7h0M596.3 722.6h0M579.9 677.1h0M498.9 693.8h0M624.5 702.6h0M673.5 640.0h0M620.6 728.5h0M604.4 599.2h0M560.4 688.9h0M496.0 637.9h0M666.1 691.5h0M641.7 643.5h0M515.3 600.2h0M547.8 640.5h0M616.8 693.0h0M576.9 714.5h0M661.8 722.7h0M667.4 636.2h0M592.4 639.0h0M562.5 728.9h0M663.1 684.3h0M523.3 636.0h0M535.5 608.0h0M528.9 666.2h0M554.6 709.3h0M489.2 726.7h0M497.1 614.8h0M599.2 742.8h0M626.5 595.9h0M510.0 641.8h0M568.9 681.6h0M622.9 637.3h0M558.7 671.1h0M590.5 702.1h0M631.9 638.9h0M584.7 717.1h0M552.7 744.2h0M531.1 623.8h0M547.5 655.2h0M635.4 610.4h0M544.0 643.7h0M489.2 688.9h0M666.1 598.8h0M615.7 744.7h0M652.1 606.5h0M525.2 702.3h0M593.0 710.6h0M598.3 757.4h0M636.6 666.3h0M621.9 750.6h0M585.8 742.0h0M640.6 616.2h0M645.8 688.5h0M488.8 687.5h0M500.3 701.5h0M608.7 688.7h0M517.8 675.2h0M661.2 618.5h0M550.2 724.2h0M596.4 683.6h0M521.4 648.2h0M519.7 662.7h0M523.6 602.1h0M548.4 727.6h0M558.1 679.4h0M543.3 715.5h0M614.8 600.8h0M612.3 623.6h0M538.7 750.0h0M486.7 628.5h0M527.0 705.8h0M673.1 613.8h0M530.2 735.4h0M672.1 722.6h0M627.7 742.5h0M486.8 628.7h0M499.0 620.1h0M610.3 746.1h0M525.9 634.7h0M571.2 757.1h0M485.6 590.5h0M505.2 735.4h0M607.0 658.8h0M589.0 750.8h0M510.8 605.2h0M618.7 629.4h0M598.4 746.5h0M676.8 597.9h0M552.1 745.9h0M676.2 654.9h0M491.7 619.2h0M652.5 714.5h0M490.4 702.9h0M652.3 596.9h0M660.3 742.9h0M524.6 744.4h0M553.9 723.4h0M581.9 685.4h0M523.4 639.4h0M659.4 747.2h0M520.2 714.9h0M667.6 623.6h0M550.7 631.6h0M574.5 723.8h0M655.2 690.2h0M563.8 651.6h0M572.1 690.8h0M607.4 662.1h0M527.3 748.9h0M671.5 689.2h0M490.4 698.2h0M600.2 697.4h0M498.6 630.1h0M539.2 620.5h0M524.5 611.5h0M617.1 696.3h0M576.9 685.2h0M667.0 598.0h0M580.8 735.3h0M514.3 703.0h0M643.9 623.4h0M489.8 619.8h0M520.1 674.0h0M591.3 709.5h0M620.1 625.6h0M498.1 611.1h0M654.8 608.4h0M535.6 727.3h0M551.0 645.6h0M556.5 650.7h0M585.9 729.5h0M648.3 685.3h0M502.9 729.7h0M663.4 635.4h0M668.5 638.9h0M675.5 748.1h0M653.4 682.0h0M651.1 683.7h0M635.5 668.0h0M587.2 730.0h0M484.5 607.4h0M494.1 597.7h0M558.5 664.7h0M502.0 661.3h0M652.7 703.8h0M622.7 747.8h0M546.9 752.5h0M530.9 635.4h0M640.2 679.2h0M662.3 623.6h0M530.7 743.1h0M520.7 703.8h0M535.3 755.4h0M506.8 668.6h0M484.2 748.1h0M578.1 716.0h0M533.1 680.8h0M481.6 608.6h0M562.1 622.0h0M500.3 613.9h0M580.2 603.4h0M541.1 720.0h0M521.0 636.3h0M670.8 743.7h0M645.5 643.4h0M626.2 668.2h0M487.1 682.2h0M548.1 600.6h0M504.9 604.6h0M598.0 617.8h0M669.4 757.1h0M591.9 740.7h0M541.1 739.3h0M502.2 642.8h0M639.7 713.8h0M669.2 631.8h0M504.6 709.5h0M667.2 663.6h0M661.2 659.9h0M625.5 633.6h0M508.9 722.9h0M636.3 729.6h0M563.8 615.9h0M653.7 715.1h0M518.5 677.0h0M597.7 700.6h0M576.3 725.4h0M560.1 653.5h0M500.7 667.5h0M651.2 701.9h0M656.4 678.7h0M585.3 604.3h0M531.3 740.7h0M571.6 681.3h0M649.7 601.8h0M508.6 751.9h0M649.4 728.1h0M642.0 589.1h0M546.4 615.4h0M605.7 664.0h0M635.3 663.3h0M656.3 726.4h0M562.5 721.5h0M497.6 612.5h0M661.2 738.1h0M634.4 737.5h0M541.9 625.0h0M633.9 667.6h0M590.2 657.2h0M593.0 589.6h0M662.5 737.0h0M608.6 728.8h0M545.7 608.6h0M561.7 742.3h0M616.6 657.8h0M558.8 734.6h0M654.3 726.2h0M543.2 733.6h0M512.8 649.1h0M593.9 720.6h0M650.7 617.6h0M637.2 678.3h0M626.0 600.4h0M516.8 601.5h0M488.2 627.2h0M532.9 655.1h0M589.6 618.1h0M643.8 664.1h0M530.8 647.1h0M559.6 718.9h0M638.3 725.7h0M662.3 702.0h0M500.6 647.3h0M623.3 603.3h0M644.0 743.1h0M650.2 666.7h0M537.6 627.8h0M583.8 678.7h0M633.4 609.5h0M643.8 695.6h0M617.0 639.0h0M573.4 727.4h0M489.8 643.6h0M489.2 663.0h0M547.4 640.7h0M655.3 734.8h0M619.7 680.6h0M671.4 706.3h0M518.9 755.6h0M544.5 699.6h0M516.8 615.1h0M526.1 712.0h0M649.3 681.0h0M669.8 655.4h0M660.9 701.3h0M565.5 636.2h0M661.5 723.9h0M621.2 738.8h0M612.5 653.4h0M530.8 679.3h0M577.3 628.1h0M555.5 591.3h0M614.1 682.6h0M601.7 749.7h0M507.6 594.7h0M562.6 615.7h0M668.4 692.2h0M538.5 722.0h0M485.0 630.2h0M600.2 632.1h0M576.1 741.6h0M536.5 624.3h0M608.7 605.1h0M673.0 595.3h0M504.0 690.5h0M525.2 656.8h0M662.0 701.3h0M600.2 693.1h0M508.5 634.5h0M675.5 741.2h0M677.2 663.3h0M608.1 633.1h0M515.2 597.5h0M491.4 601.8h0M573.4 625.9h0M596.1 605.9h0M502.5 655.2h0M492.1 731.8h0M638.0 654.1h0M521.5 599.8h0M546.1 655.1h0M645.4 671.5h0M505.5 691.3h0M570.8 693.3h0M615.7 708.3h0M500.2 723.3h0M562.0 730.3h0M498.5 679.7h0M617.3 738.8h0M516.8 614.1h0M660.3 743.0h0M491.5 651.8h0M674.1 750.5h0M569.0 608.2h0M567.3 719.4h0M634.9 746.0h0M539.4 699.8h0M659.6 739.2h0M565.0 713.2h0M537.5 612.7h0M661.3 715.9h0M542.7 590.2h0M642.3 702.2h0M512.6 709.0h0M612.1 631.9h0M535.1 737.9h0M481.8 735.6h0M672.8 652.0h0M613.9 747.4h0M498.5 711.2h0M561.7 606.1h0M560.0 645.2h0M603.7 755.4h0M661.6 655.4h0M528.7 717.9h0M609.3 649.0h0M655.3 677.5h0M533.3 702.5h0M514.5 755.3h0M570.8 693.1h0M592.6 666.9h0M662.9 615.2h0M483.1 684.9h0M653.9 740.4h0M547.9 598.2h0M676.3 751.5h0M602.2 707.8h0M614.8 753.3h0M522.2 612.5h0M607.6 740.1h0M573.7 656.2h0M616.2 751.5h0M554.2 620.2h0M550.6 686.3h0M580.7 607.1h0M575.1 644.2h0M561.2 708.0h0M545.5 611.0h0M618.4 660.0h0M606.5 654.8h0M676.6 648.5h0M537.2 699.2h0M555.3 707.4h0M486.9 596.7h0M516.5 729.4h0M649.6 708.2h0M656.5 730.1h0M620.8 707.4h0M487.5 603.8h0M518.9 634.8h0M543.4 714.5h0M588.5 695.7h0M508.9 660.8h0M645.2 713.3h0M599.9 699.1h0M561.5 593.4h0M659.6 694.7h0M609.8 607.2h0M613.1 754.3h0M594.7 602.2h0M603.6 722.8h0M590.4 665.1h0M588.9 713.4h0M597.7 710.8h0M620.3 641.5h0M552.3 714.8h0M543.9 634.0h0M638.4 649.9h0M645.5 754.7h0M670.4 747.4h0M497.7 633.7h0M567.9 697.3h0M628.6 646.8h0M528.3 738.3h0M607.6 630.4h0M584.5 593.7h0M564.3 692.6h0M613.5 729.9h0M536.4 752.9h0M613.9 588.8h0M633.1 742.9h0M537.5 595.5h0M627.8 705.6h0M656.7 746.8h0M642.1 645.0h0M645.5 605.7h0M506.6 665.7h0M515.4 635.9h0M548.7 631.4h0M524.6 616.7h0M663.3 656.3h0M644.0 624.3h0M567.8 737.7h0M534.1 614.1h0M669.7 710.8h0M577.0 717.5h0M595.6 666.4h0M552.1 684.0h0M533.2 680.0h0M615.6 606.8h0M587.7 710.8h0M482.2 588.9h0M550.5 756.3h0M585.7 612.2h0M634.2 667.3h0M579.7 706.9h0M535.0 715.5h0M568.6 634.6h0M659.4 686.5h0M645.3 706.9h0M551.7 713.1h0M493.4 716.0h0M560.5 643.3h0M518.4 593.5h0M500.4 667.7h0M509.9 596.5h0M604.6 686.8h0M642.0 609.7h0M571.2 606.2h0M626.5 703.0h0M543.4 707.3h0M626.4 651.6h0M512.8 739.1h0M644.7 706.6h0M668.8 673.8h0M657.8 637.1h0M612.6 625.3h0M492.5 738.3h0M490.6 656.0h0M664.6 588.5h0M544.5 680.5h0M616.6 601.3h0M550.6 731.1h0M492.7 625.0h0M550.4 611.3h0M626.0 699.0h0M596.1 616.4h0M514.2 702.0h0M553.0 714.0h0M645.6 675.9h0M572.9 647.2h0M556.5 668.6h0M567.7 707.0h0M592.3 664.3h0M492.2 619.2h0M485.6 705.7h0M581.9 621.4h0M624.9 645.4h0M654.7 729.2h0M670.0 710.9h0M512.8 700.7h0M499.4 638.4h0M551.2 674.6h0M507.5 608.8h0M491.6 626.5h0M632.5 740.1h0M548.8 635.3h0M606.8 725.4h0M498.0 590.3h0M617.7 625.2h0M634.8 736.3h0M669.9 590.1h0M482.1 636.8h0M566.6 592.3h0M658.1 741.9h0M632.3 594.6h0M649.0 737.9h0M529.9 742.9h0M534.5 617.1h0M671.5 626.6h0M668.4 625.2h0M506.9 634.9h0M644.5 611.3h0M601.0 641.3h0M503.1 728.7h0M545.5 692.2h0M492.6 700.2h0M545.2 706.3h0M541.1 645.5h0M534.9 599.5h0M564.7 589.9h0M639.8 688.1h0M495.9 599.6h0M521.6 629.3h0M598.7 697.3h0M527.1 653.4h0M503.4 753.7h0M620.9 687.1h0M549.0 596.0h0M492.9 609.2h0M654.8 646.5h0M598.8 744.4h0M514.4 647.3h0M591.0 660.4h0M605.1 646.6h0M558.6 668.9h0M558.0 707.3h0M513.9 696.1h0M483.6 682.2h0M497.4 688.9h0M543.5 607.4h0M548.7 669.9h0M508.7 591.2h0M573.4 729.9h0M628.5 682.0h0M616.7 680.1h0M534.3 609.0h0M569.0 646.0h0M491.8 729.9h0M601.8 648.0h0M617.1 678.9h0M525.6 681.9h0M676.3 730.9h0M583.3 691.9h0M493.3 696.5h0M652.4 662.7h0M659.6 615.9h0M584.8 754.1h0M507.0 682.9h0M526.9 736.0h0M509.5 599.3h0M643.8 614.8h0M580.4 725.0h0M555.6 667.3h0M676.7 591.3h0M524.2 703.7h0M619.5 683.8h0M597.0 624.1h0M542.0 741.3h0M516.4 610.0h0M607.7 614.8h0M524.7 701.6h0M627.1 721.9h0M664.8 667.4h0M531.0 641.2h0M495.7 747.3h0M645.5 629.2h0M494.1 720.2h0M603.3 730.8h0M492.5 700.5h0M670.3 664.1h0M589.2 704.6h0M550.9 598.2h0M573.9 740.7h0M517.3 710.0h0M558.4 591.6h0M545.7 738.2h0M501.3 691.4h0M648.2 694.2h0M587.7 654.1h0M579.2 716.3h0M636.1 750.2h0M505.1 705.8h0M556.4 696.8h0M489.4 658.8h0M501.7 613.9h0M558.6 596.2h0M579.5 621.0h0M669.2 629.1h0M614.6 755.1h0M491.4 610.3h0M560.9 732.7h0M639.3 739.3h0M588.6 692.4h0M537.2 590.5h0M537.6 649.6h0M658.7 713.2h0M664.0 642.7h0M519.9 708.9h0M583.5 662.8h0M654.0 687.3h0M627.0 653.4h0M629.2 630.3h0M496.2 600.9h0M646.9 744.1h0M577.1 699.6h0M538.3 724.7h0M568.7 713.9h0M544.8 611.7h0M493.8 608.0h0M504.3 629.0h0M526.3 593.9h0M629.2 692.2h0M671.5 631.1h0M520.6 721.3h0M662.4 635.4h0M542.4 594.7h0M661.5 742.0h0M586.4 636.3h0M492.5 681.1h0M577.1 718.0h0M521.5 639.2h0M567.9 703.4h0M636.1 650.9h0M638.4 725.0h0M592.1 692.3h0M584.4 619.0h0M481.8 731.7h0M509.0 730.2h0M604.5 633.3h0M583.1 699.3h0M653.9 725.5h0M620.8 752.2h0M545.9 715.9h0M648.2 622.2h0M611.4 613.2h0M498.6 724.6h0M561.3 739.7h0M491.6 737.8h0M485.7 668.9h0M495.4 717.2h0M654.9 705.3h0M625.8 665.9h0M562.3 657.5h0M643.6 750.3h0M601.1 665.5h0M496.9 706.6h0M644.4 723.9h0M535.0 683.1h0M530.4 658.9h0M504.1 666.4h0M575.4 641.7h0M541.5 629.0h0M669.3 736.3h0M560.7 625.3h0M517.0 723.7h0M649.9 704.1h0M674.0 650.9h0M582.4 620.9h0M612.5 726.0h0M620.0 736.2h0M511.9 711.2h0M654.7 742.2h0M641.4 683.0h0M633.2 734.4h0M569.7 696.5h0M555.6 719.5h0M613.6 736.0h0M622.9 632.4h0M648.7 659.1h0M664.1 656.4h0M641.8 714.4h0M672.2 705.7h0M626.6 682.7h0M539.3 689.2h0M557.1 718.2h0M547.5 744.2h0M650.7 651.3h0M599.0 619.6h0M604.8 602.9h0M660.8 602.7h0M485.8 755.0h0M571.4 602.5h0M513.6 658.8h0M543.6 681.1h0M582.8 718.7h0M546.6 595.6h0M500.9 672.9h0M643.3 594.3h0M610.6 618.5h0M510.0 639.2h0M489.8 590.2h0M592.8 639.0h0M567.3 721.2h0M590.6 698.0h0M549.1 753.5h0M636.6 734.3h0M601.8 726.0h0M489.1 672.0h0M615.4 704.9h0M631.4 722.1h0M593.4 647.1h0M602.5 680.9h0M644.4 683.8h0M549.2 623.9h0M665.3 686.4h0M591.5 613.0h0M616.1 704.4h0M599.5 687.2h0M524.1 689.0h0M659.2 686.5h0M571.1 631.7h0M654.1 645.7h0M673.3 598.2h0M621.0 730.9h0M509.1 674.4h0M577.2 610.5h0M514.0 625.7h0M629.8 729.5h0M578.3 635.2h0M554.2 633.2h0M533.5 609.6h0M548.0 723.4h0M582.0 629.5h0M555.3 627.8h0M533.2 699.0h0M637.0 672.4h0M566.3 724.3h0M617.3 688.6h0M607.6 661.2h0M551.3 753.1h0M630.9 640.2h0M564.3 613.2h0M599.5 600.4h0M673.2 756.0h0M617.5 643.1h0M669.5 673.9h0M555.8 671.0h0M614.2 749.3h0M614.5 657.3h0M487.8 719.5h0M622.3 732.2h0M554.3 593.1h0M514.9 654.8h0M636.0 647.3h0M537.8 668.3h0M495.2 755.6h0M557.2 719.2h0M553.9 631.8h0M527.1 596.4h0M559.5 701.8h0M614.1 720.6h0M506.7 666.6h0M608.3 714.8h0M646.4 604.2h0M521.0 618.7h0M608.7 623.5h0M611.5 649.0h0M662.6 745.7h0M569.2 711.3h0M493.3 681.4h0M484.6 751.3h0M510.1 680.2h0M645.9 630.3h0M624.5 685.0h0M504.3 683.6h0M523.5 663.4h0M614.5 595.1h0M618.1 600.0h0M513.7 712.9h0M542.7 646.1h0M605.4 725.6h0M601.3 628.4h0M578.3 657.8h0M628.5 620.7h0M578.5 680.5h0M677.7 732.9h0M588.2 745.0h0M663.4 745.1h0M539.2 689.0h0M659.9 719.2h0M676.0 619.3h0M669.6 678.4h0M657.1 623.0h0M526.2 638.3h0M524.4 622.7h0M560.4 691.5h0M550.2 665.9h0M491.3 633.4h0M611.9 676.0h0M535.4 657.1h0M623.3 589.7h0M515.4 595.0h0M658.8 680.6h0M630.7 668.9h0M597.5 709.1h0M503.5 649.3h0M610.0 607.3h0M572.4 737.6h0M621.9 629.0h0M497.8 596.7h0M609.4 653.5h0M534.0 602.9h0M659.1 746.7h0M533.2 660.9h0M656.3 747.2h0M521.0 689.2h0M521.3 719.1h0M603.1 714.4h0M562.3 715.1h0M525.5 701.6h0M558.3 608.2h0M542.6 694.2h0M659.1 623.7h0M658.6 594.4h0M646.9 611.9h0M673.5 714.7h0M548.0 640.2h0M582.3 722.2h0M611.7 619.2h0M494.6 704.8h0M555.1 633.7h0M505.6 588.6h0M483.0 608.8h0M540.7 603.7h0M663.7 590.7h0M527.8 641.1h0M489.3 713.1h0M552.2 604.1h0M651.4 638.2h0M561.6 745.7h0M595.0 734.6h0M608.8 656.2h0M547.4 622.6h0M661.9 714.8h0M645.4 620.4h0M638.7 739.0h0M580.0 594.0h0M555.5 752.7h0M614.4 637.6h0M648.3 715.5h0M609.4 719.5h0M655.8 595.9h0M601.7 595.2h0M535.0 625.9h0M626.3 595.9h0M608.3 681.9h0M545.6 695.9h0M609.5 597.0h0M640.5 694.8h0M657.3 604.1h0M664.3 608.6h0M591.6 636.8h0M608.3 666.8h0M584.3 687.7h0M495.0 659.3h0M493.0 654.5h0M656.4 647.9h0M505.1 663.2h0M557.4 693.6h0M625.7 637.1h0M660.9 612.6h0M492.1 712.5h0M660.5 720.1h0M613.5 596.7h0M528.4 653.7h0M614.1 588.7h0M615.6 599.1h0M553.1 745.9h0M578.5 715.9h0M584.8 740.8h0M601.9 715.8h0M569.2 655.1h0M588.3 589.1h0M572.2 685.7h0M513.8 691.0h0M540.1 629.6h0M601.5 657.9h0M532.3 729.9h0M637.9 753.5h0M529.5 677.7h0M662.4 689.3h0M513.0 697.1h0M528.1 751.6h0M571.2 604.9h0M590.1 672.7h0M621.6 689.9h0M585.7 647.8h0M560.3 630.0h0M628.6 655.8h0M521.9 710.9h0M643.8 596.5h0M512.2 589.4h0M514.1 690.8h0M546.2 686.3h0M556.0 633.5h0M579.7 711.8h0M568.9 632.5h0M644.7 687.8h0M553.9 629.2h0M628.8 706.1h0M606.6 629.3h0M542.8 740.6h0M542.1 592.5h0M656.1 612.1h0M612.9 688.1h0M552.0 695.3h0M604.9 660.2h0M536.8 708.9h0M619.5 722.5h0M606.0 705.5h0M510.3 600.8h0M510.2 628.3h0M503.0 675.4h0M645.8 752.7h0M654.5 670.9h0M651.6 750.3h0M510.5 749.9h0M610.0 623.7h0M658.9 718.3h0M653.0 634.2h0M603.4 734.0h0M556.1 737.1h0M648.1 669.5h0M673.5 737.1h0M483.6 623.0h0M559.5 686.8h0M585.3 670.1h0M496.1 637.6h0M625.7 654.7h0M539.9 652.8h0M549.5 684.4h0M598.7 609.4h0M675.8 746.1h0M571.0 630.9h0M670.1 665.9h0M598.7 756.5h0M503.2 704.2h0M620.5 709.4h0M493.6 594.8h0M594.2 724.1h0M622.2 651.9h0M634.8 730.0h0M576.7 652.9h0M519.7 610.6h0M658.5 634.2h0M553.9 713.5h0M490.4 639.4h0M564.4 616.3h0M642.9 728.6h0M596.8 680.2h0M657.0 649.4h0M547.2 630.1h0M527.5 647.3h0M566.8 676.7h0M634.6 655.2h0M525.1 595.1h0M521.7 738.3h0M614.2 672.7h0M483.8 673.8h0M484.5 622.3h0M533.1 707.2h0M656.2 606.3h0M623.7 655.8h0M571.3 690.6h0M624.9 621.2h0M511.3 656.4h0M647.6 619.2h0M500.1 702.0h0M593.0 736.8h0M596.5 599.8h0M548.1 645.6h0M649.6 707.1h0M550.1 624.2h0M528.3 606.2h0M640.6 644.8h0M566.2 635.5h0M575.7 719.7h0M582.2 749.4h0M551.9 591.0h0M539.3 734.9h0M490.3 653.9h0M554.2 597.5h0M623.7 662.8h0M534.1 598.7h0M620.7 649.0h0M634.7 745.6h0M609.8 659.3h0M673.3 642.8h0M559.3 624.8h0M522.8 703.5h0M546.8 620.8h0M641.9 677.9h0M661.5 618.4h0M599.7 727.4h0M523.3 666.9h0M616.4 622.4h0M492.1 593.9h0M675.4 678.4h0M660.4 657.0h0M614.3 661.8h0M511.9 689.2h0M632.9 698.0h0M520.6 728.9h0M519.2 644.9h0M618.7 704.2h0M563.5 662.4h0M669.8 634.1h0M507.2 612.3h0M660.3 747.3h0M514.1 719.1h0M537.2 693.0h0M624.8 738.9h0M522.9 607.5h0M611.8 665.3h0M553.3 709.7h0M506.4 631.9h0M652.9 697.3h0M602.1 695.8h0M520.3 744.7h0M556.3 629.4h0M571.8 639.9h0M541.9 666.2h0M572.6 624.2h0M558.8 684.3h0M533.7 711.1h0M496.3 641.6h0M521.2 645.2h0M651.6 627.9h0M511.7 631.8h0M673.3 659.2h0M636.1 671.7h0M540.8 598.1h0M554.3 664.0h0M607.1 632.7h0M558.7 692.8h0M643.2 694.9h0M497.3 630.8h0M657.0 661.5h0M575.7 641.2h0M494.5 633.8h0M608.4 642.1h0M639.8 659.8h0M553.9 661.7h0M543.0 592.3h0M606.8 681.8h0M490.9 649.8h0M622.9 754.9h0M564.8 696.7h0M493.2 665.6h0M667.1 599.5h0M598.3 598.1h0M653.1 718.0h0M495.3 676.4h0M512.4 710.2h0M563.8 642.4h0M483.8 604.8h0M516.9 672.4h0M563.3 696.1h0M654.4 624.8h0M640.4 597.8h0M608.5 665.2h0M582.5 683.6h0M515.6 701.2h0M671.3 729.1h0M676.8 740.0h0M650.1 627.3h0M557.9 732.6h0M633.3 628.1h0M529.4 666.4h0M627.9 589.9h0M621.5 591.7h0M531.4 665.5h0M572.8 614.3h0M641.4 665.7h0M610.9 611.2h0M608.4 596.3h0M620.3 642.0h0M643.2 644.5h0M493.8 640.4h0M516.0 612.1h0M583.3 708.8h0M585.0 684.8h0M621.6 731.6h0M645.3 704.2h0M629.5 738.5h0M499.4 618.3h0M577.5 724.1h0M676.6 603.7h0M640.5 646.3h0M581.2 590.1h0M498.5 651.3h0M567.6 750.0h0M560.1 612.2h0M583.7 599.6h0M539.6 624.4h0M616.3 632.8h0M621.2 733.6h0M568.8 589.0h0M516.4 650.9h0M538.1 588.8h0M504.5 660.1h0M622.1 638.6h0M553.4 614.9h0M481.7 702.6h0M597.6 674.9h0M541.5 597.7h0M647.0 650.4h0M537.8 727.4h0M634.6 709.9h0M658.1 685.4h0M521.1 648.5h0M539.4 677.6h0M557.8 679.8h0M611.0 600.4h0M638.5 651.6h0M562.0 694.0h0M638.4 723.7h0M552.3 728.3h0M517.2 708.9h0M663.3 613.1h0M584.1 643.4h0M503.1 593.6h0M488.6 742.0h0M661.0 657.2h0M559.3 741.4h0M656.9 651.6h0M538.3 709.9h0M633.4 744.0h0M675.2 628.1h0M629.3 596.1h0M675.4 730.5h0M528.8 661.4h0M524.2 641.0h0M539.8 669.9h0M496.2 722.0h0M514.0 662.7h0M506.2 755.7h0M588.0 753.2h0M553.0 663.2h0M530.7 686.0h0M597.0 664.1h0M550.2 590.3h0M525.9 677.0h0M660.0 714.0h0M643.5 649.7h0M520.0 595.4h0M638.2 609.7h0M663.8 746.0h0M618.7 695.3h0M578.8 627.0h0M601.4 748.4h0M656.0 753.5h0M516.1 751.0h0M486.4 751.2h0M505.4 635.9h0M657.8 743.3h0M511.6 756.6h0M664.6 673.3h0M646.7 736.5h0M557.7 742.0h0M572.6 611.0h0M517.3 614.3h0M652.5 614.4h0M598.8 700.4h0M583.0 679.8h0M609.2 691.0h0M587.2 650.0h0M560.2 756.2h0M491.0 635.6h0M574.6 615.3h0M544.6 688.7h0M664.5 734.4h0M487.3 600.3h0M497.2 686.2h0M519.4 660.1h0M617.3 624.4h0M522.0 750.7h0M674.4 711.6h0M616.9 749.4h0M580.7 717.3h0M544.5 721.0h0M593.4 682.6h0M553.8 664.1h0M666.6 749.9h0M659.4 597.5h0M569.5 726.7h0M629.3 685.1h0M586.7 677.6h0M490.7 752.0h0M564.3 751.5h0M656.9 735.9h0M637.1 689.9h0M539.2 592.4h0M520.1 597.1h0M606.9 643.0h0M540.6 636.9h0M577.8 593.5h0M564.9 750.6h0M599.3 624.6h0M562.8 636.6h0M506.1 742.4h0M564.3 602.6h0M644.1 663.4h0M628.2 724.1h0M613.0 621.6h0M568.2 706.3h0M555.1 627.7h0M545.1 719.2h0M563.2 659.9h0M483.2 696.5h0M648.2 739.8h0M539.9 638.7h0M668.4 727.7h0M513.8 640.0h0M483.6 588.7h0M571.0 616.9h0M504.7 618.9h0M542.7 648.0h0M606.0 649.3h0M515.5 626.7h0M664.0 633.0h0M647.2 734.7h0M596.6 739.8h0M593.1 707.8h0M554.0 723.0h0M508.9 624.9h0M578.7 603.0h0M676.1 620.1h0M511.1 710.7h0M616.6 724.4h0M616.3 620.8h0M554.6 682.8h0M631.6 738.0h0M523.6 687.5h0M633.1 676.3h0M618.6 712.2h0M535.2 592.4h0M527.9 616.3h0M614.8 662.4h0M642.0 737.9h0M593.6 751.0h0M564.4 600.8h0M610.7 726.3h0M657.4 597.4h0M571.4 601.1h0M575.9 732.0h0M572.9 696.4h0M647.0 591.9h0M597.7 714.3h0M603.9 599.6h0M514.1 602.3h0M593.9 666.8h0M677.3 629.5h0M579.6 753.2h0M543.7 744.0h0M608.8 703.3h0M556.2 733.6h0M635.0 602.1h0M661.4 691.1h0M557.6 704.4h0M592.1 628.3h0M649.2 725.8h0M560.5 685.6h0M616.6 665.5h0M591.9 669.1h0M586.4 647.2h0M549.0 726.1h0M551.0 593.5h0M677.0 604.5h0M529.8 746.0h0M676.3 629.4h0M607.8 671.3h0M674.6 634.4h0M644.9 735.8h0M620.1 730.0h0M497.9 698.7h0M543.1 711.6h0M672.6 695.3h0M596.7 737.7h0M587.9 658.1h0M543.6 697.7h0M553.3 603.1h0M619.4 754.1h0M515.2 698.4h0M589.8 729.0h0M510.6 694.6h0M595.7 625.9h0M492.0 671.9h0M491.6 619.4h0M517.2 660.3h0M582.7 735.0h0M631.5 710.8h0M521.6 751.8h0M542.5 661.6h0M553.8 663.9h0M545.3 718.5h0M663.1 712.3h0M571.2 718.5h0M618.0 680.1h0M587.0 744.3h0M509.5 680.0h0M545.9 718.0h0M504.4 636.2h0M672.1 742.0h0M574.4 726.5h0M525.9 650.4h0M670.8 594.2h0M586.9 613.0h0M634.3 611.3h0M673.6 712.3h0M576.7 632.3h0M602.5 712.6h0M525.0 612.2h0M669.5 702.2h0M500.4 714.9h0M592.3 716.8h0M486.7 619.5h0M555.0 679.8h0M511.8 738.3h0M601.9 714.3h0M671.5 637.8h0M505.2 705.8h0M507.3 698.5h0M577.1 616.7h0M505.9 610.7h0M555.8 733.6h0M592.2 719.8h0M581.2 623.9h0M529.7 744.9h0M576.4 717.2h0M638.0 650.7h0M653.8 685.2h0M669.4 686.3h0M540.4 643.0h0M503.1 676.7h0M591.3 755.5h0M665.4 641.1h0M539.6 723.0h0M641.6 741.6h0M568.6 674.7h0M676.9 608.1h0M598.5 610.9h0M612.6 728.6h0M669.7 752.6h0M597.1 617.9h0M660.3 717.2h0M550.9 747.2h0M529.7 708.4h0M621.2 681.8h0M503.1 645.9h0M529.3 720.1h0M637.6 716.0h0M644.3 641.6h0M597.3 705.1h0M544.2 646.9h0M664.9 734.4h0M658.6 593.9h0M610.8 699.9h0M627.5 672.2h0M605.9 684.2h0M549.4 592.3h0M562.5 645.0h0M627.9 723.9h0M646.6 690.9h0M495.0 716.5h0M645.5 589.2h0M534.0 615.6h0M648.9 704.7h0M523.1 705.7h0M505.7 732.0h0M609.6 608.3h0M482.4 601.9h0M511.0 638.7h0M489.6 713.9h0M652.5 675.5h0M616.2 682.2h0M482.5 734.2h0M498.1 625.7h0M522.4 591.3h0M656.2 732.4h0M625.6 661.9h0M490.4 683.7h0M656.8 693.0h0M490.8 743.1h0M584.6 610.6h0M656.0 707.5h0M552.8 613.5h0M490.8 644.5h0M663.2 755.0h0M606.1 639.1h0M603.2 723.3h0M523.6 598.7h0M669.8 713.6h0M559.4 591.2h0M601.1 628.9h0M548.1 626.9h0M613.6 624.4h0M671.2 636.6h0M516.7 631.4h0M512.3 703.8h0M608.9 621.3h0M629.5 652.4h0M546.9 611.7h0M627.0 598.1h0M512.3 637.8h0M507.0 679.6h0M561.0 740.6h0M514.9 643.3h0M573.4 740.3h0M631.3 621.1h0M487.6 721.0h0M537.0 695.8h0M635.4 746.7h0M646.7 690.2h0M611.2 713.7h0M563.8 641.7h0M532.5 733.4h0M671.3 646.7h0M493.5 754.1h0M635.4 723.2h0M563.1 606.7h0M484.6 651.7h0M611.2 657.2h0M641.8 752.0h0M662.2 592.7h0M567.8 673.9h0M617.0 592.1h0M647.9 745.7h0M612.4 602.2h0M576.4 715.2h0M588.4 744.9h0M581.9 712.9h0M554.2 703.5h0M607.2 694.1h0M495.8 664.1h0M585.3 629.4h0M587.7 627.4h0M601.2 748.1h0M536.7 697.5h0M644.7 666.3h0M643.6 710.4h0M562.8 682.0h0M641.5 685.4h0M621.7 641.4h0M595.8 644.7h0M498.7 721.5h0M545.1 617.6h0M598.8 616.8h0M504.0 691.6h0M667.4 742.6h0M497.2 617.0h0M564.3 708.5h0M656.5 714.3h0M526.7 740.6h0M571.8 592.8h0M660.5 754.9h0M669.5 672.9h0M661.5 681.3h0M487.9 607.3h0M656.2 668.2h0M592.6 728.3h0M519.2 718.4h0M489.2 744.9h0M515.5 639.9h0M672.5 698.8h0M611.5 640.0h0M531.0 616.8h0M556.2 713.5h0M580.7 638.7h0M516.5 648.8h0M613.1 755.9h0M606.5 656.9h0M575.6 672.6h0M649.3 716.4h0M578.9 700.7h0M572.7 690.2h0M494.0 646.4h0M516.0 602.5h0M628.3 709.3h0M645.6 733.7h0M529.2 708.5h0M579.2 710.2h0M498.8 668.3h0M482.7 662.5h0M570.0 600.9h0M575.6 619.8h0M641.1 596.3h0M657.3 629.4h0M502.8 619.5h0M603.8 702.2h0M578.7 657.1h0M603.7 609.7h0M609.3 596.6h0M568.5 743.7h0M538.8 648.2h0M671.2 735.7h0M669.8 756.2h0M518.5 628.9h0M528.4 644.7h0M589.9 756.9h0M535.6 629.1h0M646.1 710.6h0M659.9 611.6h0M659.0 674.6h0M594.2 589.1h0M634.1 599.9h0M526.3 658.4h0M535.6 593.7h0M584.4 636.6h0M618.1 610.6h0M637.1 604.3h0M663.3 666.1h0M488.2 607.9h0M661.9 593.2h0M593.5 712.7h0M499.1 724.5h0M493.4 617.1h0M600.7 746.0h0M568.8 634.6h0M542.0 689.1h0M634.9 659.5h0M532.2 617.2h0M558.8 747.4h0M676.3 642.7h0M589.2 592.0h0M513.2 748.8h0M556.0 757.2h0M614.1 734.0h0M618.9 616.4h0M677.0 652.5h0M503.5 663.7h0M557.3 734.0h0M530.0 688.2h0M651.5 688.4h0M600.2 688.5h0M656.2 737.9h0M616.8 660.7h0M674.9 740.1h0M576.7 711.2h0M557.0 595.7h0M625.0 731.0h0M657.7 738.2h0M531.6 638.4h0M505.9 704.2h0M627.3 601.7h0M590.7 682.5h0M602.4 627.0h0M670.9 713.5h0M644.5 685.0h0M528.9 668.6h0M563.5 626.8h0M587.0 704.6h0M618.6 675.5h0M618.3 661.6h0M488.8 668.6h0M668.2 653.1h0M618.4 588.3h0M572.6 754.4h0M496.1 735.8h0" fill="none" stroke="#9e8fae" stroke-width="0.9" stroke-linecap="square" opacity="0.35"/>
<path d="M511.8 711.2h0M570.4 724.0h0M488.7 720.1h0M538.8 719.3h0M632.2 713.4h0M558.9 739.7h0M588.6 730.4h0M636.5 695.1h0M648.0 702.1h0M569.1 714.5h0M624.8 749.1h0M569.1 740.4h0M579.5 637.8h0M504.0 716.4h0M566.1 682.9h0M641.1 713.8h0M540.2 715.2h0M591.3 712.9h0M550.5 690.1h0M588.4 689.3h0M583.9 730.0h0M579.7 694.9h0M499.2 718.7h0M554.3 743.4h0M580.7 675.4h0M529.5 747.3h0M627.9 749.1h0M655.9 711.7h0M628.7 698.2h0M570.9 720.4h0M546.8 740.1h0M616.5 733.3h0M639.8 701.2h0M595.8 712.2h0M563.1 700.0h0M594.6 673.9h0M502.4 727.0h0M531.3 699.5h0M575.1 681.1h0M601.8 691.8h0M602.4 727.9h0M535.9 715.8h0M626.4 693.2h0M603.9 685.3h0M528.0 735.4h0M585.7 703.1h0M590.4 681.3h0M506.3 713.4h0M651.6 704.5h0M642.3 716.0h0M611.5 710.4h0M501.6 721.6h0M636.9 735.3h0M529.5 697.0h0M523.1 722.4h0M513.7 708.1h0M607.4 705.9h0M600.7 696.4h0M589.7 668.8h0M589.5 736.8h0M505.3 711.5h0M530.0 749.4h0M668.4 734.1h0M582.3 723.2h0M537.9 717.5h0M574.9 724.7h0M577.6 638.5h0M536.8 707.0h0M545.5 737.1h0M575.1 631.9h0M638.3 701.7h0M580.3 713.1h0M565.6 680.3h0M566.2 701.4h0M588.0 655.7h0M641.5 699.5h0M593.6 732.6h0M628.0 718.5h0M599.2 694.1h0M594.4 711.0h0M526.8 739.8h0M629.4 713.3h0M625.1 710.6h0M659.9 735.4h0M522.8 714.1h0M584.1 656.4h0M542.5 683.9h0M647.8 739.5h0M595.4 660.3h0M576.6 635.2h0M571.9 656.9h0M650.5 699.4h0M525.4 702.3h0M649.5 733.5h0M592.8 649.4h0M563.3 685.8h0M614.6 680.8h0M577.0 619.5h0M627.9 712.4h0M503.1 711.7h0M523.2 727.8h0M529.7 710.3h0M645.0 696.9h0M601.3 668.5h0M674.1 722.3h0M614.3 710.2h0M501.1 714.9h0M546.7 723.8h0M483.5 714.9h0M579.9 723.6h0M561.1 665.7h0M601.8 714.8h0M605.3 677.8h0M668.2 734.2h0M542.8 736.9h0M537.0 706.3h0M629.7 688.2h0M506.6 734.3h0M637.7 739.5h0M503.3 718.9h0M586.5 702.9h0M644.1 746.1h0M641.1 737.2h0M555.1 687.2h0M537.8 730.1h0M670.6 733.4h0M558.3 740.9h0M540.3 711.8h0M502.1 731.4h0M583.5 656.4h0M623.8 695.1h0M600.6 677.8h0M632.0 718.6h0M627.8 688.8h0M646.3 735.4h0M504.3 735.5h0M656.7 732.6h0M602.8 729.2h0M531.5 689.7h0M574.8 635.8h0M585.8 684.0h0M545.5 699.6h0M626.6 690.7h0M533.2 687.7h0M662.1 706.9h0M590.9 668.5h0M575.2 712.2h0M565.4 691.5h0M542.5 713.9h0M575.9 660.3h0M529.2 740.8h0M510.5 729.1h0M527.1 727.4h0M629.9 737.3h0M577.1 713.8h0M635.3 716.3h0M604.9 734.0h0M569.1 716.1h0M641.7 720.8h0M583.0 653.2h0M660.3 717.3h0M543.3 727.0h0M488.8 731.3h0M562.4 707.0h0M587.7 680.1h0M597.7 654.6h0M555.2 668.7h0M608.7 680.5h0M533.9 731.9h0M487.8 721.3h0M596.2 683.3h0M560.4 664.2h0M606.2 688.5h0M657.2 710.1h0M550.7 708.3h0M622.8 687.8h0M550.7 676.0h0M544.2 702.9h0M648.0 734.5h0M618.5 685.0h0M502.5 719.0h0M572.1 734.6h0M570.0 659.2h0M595.6 672.8h0M558.4 738.1h0M623.3 706.8h0M485.3 735.1h0M506.4 709.7h0M592.5 641.2h0M618.6 745.4h0M481.6 716.8h0M482.2 732.9h0M503.9 718.2h0M675.4 723.1h0M595.1 741.9h0M503.1 729.5h0M579.4 684.1h0M601.6 688.4h0M576.3 733.4h0M545.6 737.2h0M570.4 703.2h0M632.1 724.9h0M541.1 705.2h0M563.7 704.4h0M615.4 717.9h0M579.4 732.2h0M613.8 739.8h0M546.2 722.7h0M656.2 714.3h0M528.5 732.3h0M570.8 720.7h0M612.0 707.2h0M550.8 703.8h0M579.0 690.6h0M623.8 743.2h0M647.5 726.4h0M564.2 734.8h0M611.2 692.7h0M495.3 723.9h0M587.9 731.5h0M532.1 748.9h0M551.7 690.3h0M626.5 736.1h0M549.7 695.5h0M529.6 699.7h0M497.0 721.1h0M594.2 662.1h0M589.3 710.6h0M546.2 690.6h0M616.6 697.5h0M602.8 724.9h0M547.5 684.6h0M597.7 705.9h0M621.0 680.8h0M522.7 747.7h0M576.2 703.0h0M491.5 720.0h0M529.8 703.4h0M556.5 669.5h0M544.5 712.9h0M610.9 687.7h0M554.6 736.1h0M591.6 642.6h0M576.1 669.1h0M627.0 741.9h0M620.9 724.6h0M566.2 710.4h0M584.4 685.4h0M574.4 626.9h0M582.8 720.9h0M571.3 702.1h0M564.6 678.2h0M596.7 676.1h0M620.4 742.4h0M603.8 699.8h0M558.6 733.5h0M609.9 697.7h0M620.7 700.7h0M523.8 702.4h0M589.2 712.4h0M547.1 696.4h0M572.1 736.5h0M643.2 701.6h0M623.2 706.4h0M658.0 716.2h0M562.0 729.3h0M584.1 682.0h0M632.9 732.7h0M603.6 743.7h0M580.4 612.2h0M561.1 734.5h0M560.0 710.3h0M567.5 707.8h0M665.7 732.7h0M611.1 679.8h0M557.2 721.8h0M533.0 694.2h0M591.2 694.7h0M595.2 695.1h0M506.3 724.0h0M606.3 673.8h0M586.9 688.7h0M544.2 716.0h0M554.6 736.7h0M623.6 730.2h0M559.8 678.3h0M592.2 699.1h0M583.3 697.2h0M624.2 722.2h0M584.0 629.5h0M594.6 649.3h0M599.2 723.3h0M589.6 664.8h0M673.3 721.3h0M589.8 660.5h0M607.3 734.1h0M613.6 678.5h0M488.2 713.1h0M633.6 746.7h0M578.2 699.6h0M609.9 734.3h0M525.4 693.0h0M529.9 714.2h0M568.8 731.3h0M597.9 683.9h0M484.0 729.5h0M596.8 684.3h0M577.7 636.9h0M648.6 711.2h0M622.2 706.8h0M535.5 748.5h0M580.4 627.2h0M534.3 729.8h0M657.3 731.5h0M516.2 741.7h0M539.6 682.3h0M608.9 693.6h0M641.5 746.5h0M497.8 715.5h0M505.0 730.9h0M568.4 720.7h0M534.5 695.3h0M586.7 693.8h0M585.1 653.6h0M655.3 720.4h0M599.1 715.9h0M601.2 731.4h0M659.0 727.7h0M550.5 680.4h0M565.3 660.1h0M554.4 686.1h0M592.8 713.1h0M556.6 737.9h0M599.7 731.3h0M658.9 718.0h0M508.9 713.4h0M552.9 695.2h0M628.3 686.6h0M592.5 655.6h0M561.7 700.7h0M525.7 695.4h0M627.6 740.4h0M531.3 726.8h0M503.1 735.3h0M657.0 736.6h0M622.6 734.1h0M497.4 715.3h0M618.0 696.2h0M599.3 729.8h0M603.6 727.4h0M599.6 688.4h0M599.3 705.5h0M647.4 703.8h0M582.2 628.3h0M595.9 720.0h0M673.3 723.2h0M531.1 690.3h0M663.3 714.0h0M562.1 666.7h0M523.5 697.6h0M536.3 726.2h0M542.6 735.8h0M561.6 720.0h0M621.5 697.4h0M669.3 727.2h0M614.2 738.2h0M563.9 740.1h0M597.3 651.4h0M629.4 701.5h0M519.0 716.4h0M575.0 642.5h0M675.1 719.2h0M611.1 722.8h0M602.0 741.5h0M587.7 671.6h0M616.5 682.5h0M574.3 660.1h0M521.1 699.5h0M662.3 735.9h0M584.5 633.4h0M569.5 676.1h0M628.4 698.6h0M539.9 744.5h0M571.1 659.4h0M564.6 679.4h0M600.3 722.9h0M610.7 707.3h0M576.1 714.9h0M569.4 703.3h0M485.2 733.2h0M601.6 729.7h0M632.6 742.4h0M644.6 720.4h0M629.0 718.2h0M543.3 735.3h0M627.9 702.8h0M540.4 711.0h0M591.4 730.8h0M632.3 726.9h0M560.2 679.5h0M608.5 737.3h0M559.5 710.4h0M621.5 715.3h0M592.0 674.1h0M569.2 688.6h0M585.6 657.0h0M663.0 734.5h0M553.6 743.3h0M596.0 653.4h0M607.5 721.3h0M560.0 683.7h0M578.7 677.8h0M541.9 717.6h0M570.1 679.0h0M562.3 672.2h0M602.2 684.3h0M597.2 686.9h0M554.1 724.4h0M518.4 716.6h0M505.1 705.5h0M588.2 664.8h0M497.1 711.5h0M498.0 726.6h0M593.4 668.1h0M652.8 740.0h0M596.5 690.5h0M528.0 691.2h0M571.5 669.8h0M618.8 745.0h0M661.0 728.3h0M573.0 652.2h0M519.8 720.2h0M578.7 628.0h0M641.9 719.2h0M585.6 643.3h0M659.1 724.7h0M521.4 738.6h0M633.9 702.4h0M646.5 733.2h0M636.4 718.3h0M583.1 663.7h0M621.5 719.4h0M594.6 710.1h0M513.1 725.6h0M629.6 711.4h0M582.1 673.4h0M562.7 737.4h0M591.9 659.3h0M568.5 715.2h0M575.1 687.1h0M585.9 677.9h0M577.0 723.1h0M649.2 742.1h0M511.4 711.4h0M559.1 679.0h0M642.1 696.4h0M529.7 696.9h0M582.6 702.5h0M553.0 742.2h0M544.3 686.5h0M573.6 675.1h0M575.0 642.2h0M575.3 702.0h0M611.8 734.3h0M537.3 720.8h0M608.6 718.6h0M583.1 731.9h0M544.0 686.0h0M583.2 651.4h0M563.3 707.3h0M591.1 692.9h0M628.9 695.8h0M571.5 724.5h0M523.2 731.8h0M626.7 729.1h0M655.0 708.3h0M590.9 718.8h0M620.7 684.9h0M581.8 689.7h0M566.7 652.9h0M538.4 704.2h0M604.7 736.6h0M565.5 683.9h0M587.5 723.8h0M591.1 708.9h0M494.6 717.0h0M485.0 728.3h0M582.4 709.9h0M516.6 734.2h0M655.0 702.7h0M558.9 707.0h0M632.7 706.9h0M567.0 732.9h0M575.9 630.8h0M575.2 647.3h0M579.7 623.7h0M556.2 715.9h0M563.1 723.7h0M589.2 644.5h0M583.8 675.2h0M524.5 704.0h0M587.0 636.2h0M587.8 642.3h0M643.9 713.0h0M567.7 651.0h0M557.4 677.0h0M584.6 691.1h0M605.1 701.0h0M580.1 721.2h0M537.0 702.0h0M572.9 736.3h0M506.7 708.0h0M632.5 705.1h0M587.4 669.5h0M568.5 697.5h0M542.6 692.2h0M516.5 699.5h0M604.6 732.8h0M493.7 711.4h0M605.5 718.4h0M536.2 694.5h0M566.4 652.2h0M668.0 729.3h0M495.0 724.5h0M619.5 722.3h0M564.2 691.0h0M581.6 712.8h0M643.4 724.8h0M577.2 692.1h0M577.2 682.4h0M567.9 729.5h0M614.6 703.1h0M601.0 697.0h0M601.0 667.3h0M620.2 712.6h0M583.2 721.4h0M518.4 705.0h0M543.2 741.8h0M581.5 721.6h0M501.1 729.7h0M532.5 686.5h0M599.7 705.1h0M621.7 709.8h0M558.6 705.5h0M636.4 690.1h0M662.8 712.4h0M593.9 733.1h0M606.1 676.3h0M580.6 643.0h0M589.3 685.4h0M497.4 733.5h0M565.8 722.5h0M565.6 735.7h0M619.0 685.3h0M637.1 741.5h0M508.1 706.2h0M588.3 707.8h0M661.8 722.0h0M662.2 708.7h0M577.5 674.1h0M553.4 679.0h0M645.9 734.3h0M568.5 733.2h0M577.3 639.3h0M513.7 718.3h0M606.8 741.7h0M520.7 741.0h0M577.2 616.5h0M619.6 712.9h0M559.6 736.5h0M665.1 717.7h0M569.2 653.9h0M613.7 724.0h0M498.4 714.5h0M641.6 723.5h0M504.4 714.8h0M536.6 689.5h0M647.4 715.6h0M653.9 708.4h0M638.6 708.7h0M579.9 666.5h0M648.2 719.4h0M528.0 711.8h0M596.8 706.4h0M503.4 726.4h0M555.5 671.3h0M580.4 726.5h0M667.7 726.8h0M613.0 703.3h0M615.4 724.2h0M625.7 682.9h0M676.9 729.8h0M542.0 735.3h0M568.1 718.3h0M575.2 669.5h0M497.9 720.8h0M512.5 740.8h0M588.5 653.1h0M631.8 748.0h0M529.8 742.8h0M558.3 713.1h0M617.5 709.9h0M579.8 719.0h0M570.8 664.8h0M603.5 728.4h0M585.6 635.1h0M580.8 617.0h0M530.4 693.1h0M609.7 713.6h0M515.5 712.8h0M543.0 712.5h0M612.6 718.0h0M564.5 690.8h0M621.1 747.9h0M584.0 712.5h0M569.8 645.6h0M526.1 698.8h0M634.6 707.1h0M577.6 698.4h0M607.4 681.6h0M491.4 730.2h0M563.2 673.2h0M544.0 745.1h0M605.6 715.9h0M579.8 707.8h0M625.1 704.0h0M488.7 728.7h0M522.4 707.0h0M619.4 727.0h0M624.1 684.9h0M576.0 626.2h0M577.4 629.2h0M522.2 696.8h0M591.3 654.9h0M622.7 720.0h0M510.0 740.1h0M572.2 708.5h0M574.8 724.6h0M535.7 715.3h0M521.1 730.8h0M528.5 704.1h0M569.8 654.3h0M568.0 702.6h0M630.4 722.6h0M588.3 656.9h0M619.6 699.5h0M610.0 742.9h0M492.5 709.6h0M669.0 716.9h0M575.8 724.3h0M604.8 678.3h0M623.9 727.0h0M554.6 736.0h0M577.8 615.9h0M510.8 702.6h0M619.4 697.3h0M600.1 744.0h0M580.6 704.5h0M531.4 721.1h0M632.8 750.5h0M617.5 680.9h0M611.1 680.4h0M520.5 694.8h0M629.0 694.8h0M636.4 737.0h0M595.9 677.6h0M510.4 737.0h0M657.5 729.9h0M626.5 717.9h0M500.2 712.8h0M617.0 706.5h0M569.0 662.8h0M602.1 704.0h0M628.3 746.6h0M624.8 750.0h0M643.5 708.4h0M626.9 683.9h0M661.6 709.9h0M554.2 725.8h0M620.1 687.3h0M581.4 670.6h0M524.8 724.3h0M556.7 718.0h0M606.8 710.6h0M507.3 725.3h0M574.0 632.0h0M578.0 646.9h0M569.2 694.9h0M559.4 714.1h0M608.6 673.0h0M614.1 734.9h0M549.7 687.8h0M570.0 645.7h0M583.8 672.6h0M631.2 737.1h0M637.3 731.6h0M531.7 726.7h0M633.1 696.0h0M554.3 734.6h0M644.3 743.6h0M583.2 621.8h0M597.2 693.6h0M583.4 665.1h0M520.9 719.0h0M640.1 698.7h0M617.6 706.7h0M553.0 741.0h0M528.9 742.8h0M595.5 715.9h0M506.9 723.1h0M534.8 721.0h0M645.5 732.6h0M546.9 735.6h0M611.4 746.9h0M651.9 717.2h0M628.4 688.4h0M542.8 726.5h0M492.9 728.2h0M636.5 691.0h0M653.4 723.3h0M600.9 727.6h0M560.1 670.5h0M576.6 644.7h0M525.6 705.7h0M551.0 741.7h0M630.3 745.9h0M500.0 733.9h0M580.0 695.6h0M581.3 635.0h0M597.6 662.9h0M623.3 749.4h0M568.7 719.5h0M590.7 641.1h0M620.3 728.1h0M624.5 711.4h0M564.7 709.5h0M613.1 687.6h0M549.9 697.3h0M491.4 713.4h0M625.4 691.4h0M547.9 676.1h0M599.4 681.7h0M582.9 657.3h0M541.9 735.7h0M584.5 661.9h0M520.6 695.1h0M639.1 725.1h0M640.0 703.6h0M675.9 726.3h0M566.8 723.0h0M535.8 729.9h0M527.7 712.6h0M616.5 704.3h0M649.0 728.6h0M576.8 618.2h0M524.0 742.0h0M653.0 712.3h0M509.4 720.3h0M608.3 713.9h0M508.7 740.7h0M611.7 698.5h0M538.2 716.4h0M632.5 733.4h0M648.2 744.1h0M530.7 697.4h0M657.9 716.1h0M591.9 714.3h0M548.2 678.0h0M569.9 720.8h0M559.8 730.3h0M607.7 709.5h0M599.0 670.4h0M516.9 731.6h0M573.2 695.1h0M577.4 669.0h0M580.5 694.0h0M636.5 721.9h0M524.8 720.1h0M561.0 703.9h0M510.9 734.5h0M511.2 733.0h0M612.9 739.4h0M602.9 726.9h0M590.1 732.7h0M556.3 686.0h0M529.4 690.2h0M554.5 671.9h0M580.5 631.9h0M572.3 681.9h0M623.3 748.8h0M580.1 655.0h0M552.4 714.3h0M502.9 725.5h0M493.7 714.5h0M547.8 688.2h0M581.6 661.5h0M635.2 715.4h0M548.4 719.5h0M601.9 673.6h0M584.9 678.8h0M546.2 686.6h0M532.3 712.7h0M543.3 684.1h0M594.8 687.3h0M604.5 712.3h0M581.3 652.6h0M509.4 724.2h0M629.5 738.0h0M538.2 747.4h0M647.3 721.7h0M608.9 668.7h0M584.2 639.9h0M647.4 713.7h0M568.1 688.2h0M589.0 736.2h0M512.7 727.1h0M515.9 731.9h0M574.0 633.1h0M546.7 686.8h0M555.0 716.6h0M608.8 737.3h0M627.6 714.9h0M572.8 662.4h0M640.9 737.3h0M579.9 723.6h0M528.7 691.4h0M605.0 663.6h0M493.4 708.8h0M604.1 673.7h0M588.2 713.2h0M605.3 712.9h0M588.6 711.0h0M522.1 740.5h0M524.8 745.3h0M501.7 708.4h0M597.9 680.5h0M552.5 691.5h0M536.4 721.6h0M598.3 683.0h0M600.4 674.2h0M614.1 674.8h0M645.2 726.9h0M611.9 675.7h0M503.4 716.2h0M656.2 720.3h0M536.9 734.5h0M563.0 737.4h0M589.9 666.6h0M609.1 678.2h0M539.9 728.2h0M604.9 737.7h0M619.3 690.9h0M562.9 665.4h0M500.1 729.4h0M556.2 726.3h0M584.6 671.0h0M569.6 722.7h0M613.9 678.0h0M648.5 740.7h0M562.6 698.8h0M516.8 725.2h0M519.0 705.4h0M540.0 686.4h0M580.4 630.2h0M616.3 682.3h0M562.0 736.7h0M573.8 669.0h0M555.5 742.8h0M577.1 636.9h0M536.6 737.1h0M539.8 685.0h0M573.3 646.9h0M523.4 732.2h0M650.7 723.5h0M571.6 633.7h0M584.8 674.5h0M531.2 700.4h0M641.0 746.9h0M545.5 720.6h0M576.4 699.9h0M576.9 729.5h0M542.0 742.6h0M651.1 737.5h0M605.5 724.2h0M587.1 636.3h0M629.3 741.9h0M603.4 723.6h0M565.6 703.9h0M548.9 685.8h0M639.4 701.0h0M552.2 687.9h0M618.2 682.1h0M566.4 736.5h0M607.3 677.1h0M544.6 702.6h0M571.9 633.1h0M578.4 704.0h0M613.2 692.5h0M652.6 707.4h0M555.4 677.3h0M553.7 701.8h0M573.3 735.3h0M578.5 729.2h0M588.7 673.1h0M499.5 720.3h0M560.6 690.6h0M568.1 653.2h0M648.3 717.4h0M586.3 630.5h0M565.6 689.1h0M579.0 723.2h0M609.6 746.1h0M633.6 692.0h0M553.7 713.5h0M601.7 731.9h0M535.5 697.7h0M568.2 698.2h0M511.1 737.5h0M526.2 736.7h0M546.3 733.5h0M615.1 745.7h0M602.6 704.2h0M616.6 712.2h0M562.5 674.4h0M595.9 693.2h0M588.3 679.0h0M662.0 729.3h0M592.1 664.3h0M513.3 716.1h0M592.0 655.8h0M587.3 649.5h0M636.5 725.2h0M528.1 747.2h0M577.3 694.5h0M523.1 715.3h0M633.4 706.5h0M575.0 709.1h0M609.6 688.0h0M618.0 718.9h0M520.3 731.6h0M608.3 703.6h0M597.9 663.2h0M595.6 696.4h0M529.1 715.4h0M616.7 724.0h0M621.5 743.8h0M542.3 680.6h0M590.1 696.0h0M598.8 716.1h0M509.4 701.1h0M557.1 691.9h0M584.7 694.3h0M623.0 685.5h0M575.5 668.6h0M652.4 730.6h0M633.2 689.5h0M490.3 720.5h0M546.6 688.1h0M562.3 679.0h0M542.6 715.0h0M641.8 726.7h0M512.1 711.0h0M647.6 715.5h0M574.2 697.3h0M585.2 630.1h0M625.2 695.4h0M628.8 702.3h0M543.5 715.3h0M511.9 717.8h0M508.8 717.7h0M556.8 709.9h0M578.0 626.0h0M558.6 740.7h0M579.3 634.1h0M609.4 700.3h0M574.2 634.1h0M591.7 675.4h0M615.6 747.4h0M516.3 709.6h0M627.1 692.8h0M510.7 734.1h0M540.0 684.3h0M538.6 708.2h0M586.2 700.2h0M615.2 716.8h0M619.8 696.1h0M598.9 708.7h0M651.1 723.0h0M491.8 710.2h0M527.5 715.2h0M586.9 702.8h0M640.3 723.7h0M644.0 698.2h0M578.4 631.8h0M616.9 738.0h0M544.8 717.0h0M607.5 706.7h0M547.6 695.0h0M530.9 719.3h0M598.7 726.5h0M647.8 719.1h0M586.7 658.3h0M650.4 733.7h0M548.4 693.0h0M595.5 684.2h0M537.8 691.7h0M587.4 656.0h0M657.0 721.7h0M630.1 742.6h0M556.9 671.5h0M662.8 712.0h0M580.4 677.0h0M581.9 678.9h0M616.1 684.1h0M539.9 725.4h0M614.0 703.8h0M621.8 725.8h0M606.7 721.6h0M496.9 735.7h0M522.2 699.7h0M645.2 728.8h0M608.3 709.6h0M614.6 732.2h0M522.4 696.1h0M579.5 668.8h0M673.9 732.6h0M515.6 716.1h0M554.0 712.9h0M544.9 683.3h0M513.3 728.1h0M638.3 737.5h0M602.8 676.2h0M536.3 726.0h0M582.2 642.7h0M541.2 742.1h0M667.3 733.2h0M538.4 732.1h0M559.2 666.7h0M613.8 732.6h0M633.3 725.4h0M491.0 730.9h0M595.1 685.7h0M570.8 684.9h0M612.1 674.7h0M563.8 697.3h0M643.5 735.0h0M586.1 703.4h0M516.7 705.0h0M517.5 718.0h0M617.5 741.7h0M646.4 732.8h0M546.8 747.1h0M571.8 692.0h0M654.8 710.8h0M520.7 710.7h0M604.9 666.3h0M611.0 747.3h0M599.6 658.7h0M620.2 700.3h0M576.7 656.8h0M589.7 716.4h0M483.3 718.0h0M620.3 734.8h0M577.5 667.8h0M598.0 702.2h0M584.8 675.6h0M519.4 720.1h0M601.9 679.6h0M558.2 740.2h0M674.0 722.3h0M547.3 707.3h0M612.1 711.0h0M594.3 679.1h0M529.6 748.1h0M634.3 708.2h0M527.0 694.8h0M636.1 716.4h0M524.0 736.4h0M575.5 658.5h0M536.7 727.3h0M515.3 717.5h0M554.6 708.5h0M651.1 741.6h0M532.6 729.6h0M581.3 725.4h0M653.4 727.0h0M673.7 728.3h0M547.0 703.3h0M513.9 716.8h0M641.2 709.1h0M624.1 722.7h0M554.7 694.2h0M599.0 739.0h0M544.0 743.9h0M642.8 700.5h0M620.0 712.4h0M555.6 702.2h0M545.3 707.3h0M631.8 700.3h0M586.1 702.4h0M568.0 726.7h0M562.0 661.1h0M560.9 666.4h0M504.6 718.8h0M589.7 711.3h0M660.9 716.9h0M594.7 698.0h0M512.3 708.5h0M585.4 681.9h0M511.0 711.9h0M567.0 696.6h0M576.0 667.1h0M540.3 711.0h0M583.4 727.4h0M599.1 672.7h0M551.0 722.8h0M649.9 735.1h0M673.2 726.5h0M596.6 698.5h0M667.4 722.4h0M560.2 690.1h0M506.7 726.0h0M646.3 729.2h0M606.0 699.9h0M608.3 669.3h0M531.2 748.6h0M531.0 731.3h0M542.3 727.8h0M638.8 709.7h0M646.4 728.0h0M661.1 721.8h0M638.4 746.8h0M544.4 713.7h0M617.5 741.1h0M578.2 644.8h0M499.8 734.0h0M582.5 694.4h0M566.9 696.6h0M581.3 669.2h0M565.8 656.0h0M522.2 704.8h0M642.9 700.7h0M581.5 682.7h0M630.9 692.9h0M615.8 710.0h0M614.3 713.5h0M623.5 736.7h0M495.7 707.8h0M607.3 693.7h0M594.8 697.3h0M610.6 725.4h0M545.6 683.4h0M533.2 750.5h0M566.6 672.9h0M553.3 697.0h0M602.2 693.5h0M518.2 697.0h0M620.8 732.4h0M560.7 731.7h0M654.4 726.2h0M593.9 664.4h0M565.1 699.8h0M590.3 714.8h0M513.1 704.5h0M606.8 724.6h0M602.3 691.3h0M560.3 692.1h0M502.7 720.1h0M549.6 681.3h0M597.9 664.5h0M554.6 733.2h0M635.9 693.8h0M633.7 739.1h0M554.9 674.8h0M591.6 653.3h0M577.0 683.3h0M568.9 696.1h0M628.0 751.7h0M605.8 682.2h0M598.3 674.7h0M533.8 710.8h0M613.8 746.1h0M619.2 738.0h0M638.6 718.6h0M482.4 727.1h0M574.3 670.9h0M541.8 689.0h0M646.4 700.6h0M619.5 688.3h0M541.1 722.9h0M528.9 704.9h0M596.6 691.0h0M646.7 726.7h0M558.0 697.4h0M619.4 703.0h0M603.7 663.6h0M567.3 719.7h0M502.7 733.8h0M643.0 695.1h0M610.6 734.3h0M665.3 728.7h0M603.0 682.1h0M632.9 721.9h0M599.7 679.0h0M535.7 720.4h0M536.7 741.9h0M652.5 718.3h0M530.7 702.1h0M589.2 664.7h0M532.4 747.4h0M554.5 686.9h0M583.8 650.9h0M597.3 651.1h0M584.9 701.7h0M484.5 728.8h0M594.7 673.3h0M502.3 720.3h0M603.6 698.1h0M582.6 708.7h0M584.6 651.0h0M601.3 731.3h0M580.4 645.1h0M615.9 700.1h0M661.7 727.9h0M582.8 724.1h0M578.8 613.8h0M620.9 738.7h0M485.9 726.1h0M629.3 740.5h0M583.0 698.0h0M547.4 694.6h0M642.6 737.8h0M496.0 712.5h0M571.5 670.0h0M613.9 704.5h0M598.4 658.0h0M586.2 646.2h0M538.0 686.5h0M619.4 722.1h0M611.5 706.1h0M548.4 702.2h0M606.3 733.0h0M541.5 708.7h0M598.9 701.6h0M580.4 694.1h0M590.7 671.1h0M543.1 739.9h0M565.0 686.7h0M674.6 717.3h0M553.2 742.6h0M623.8 712.5h0M639.1 720.4h0M550.2 726.0h0M582.0 684.8h0M656.0 714.7h0M627.6 724.6h0M669.1 730.4h0M516.7 731.0h0M565.6 718.8h0M513.3 712.7h0M591.8 710.5h0M634.6 744.4h0M485.9 734.7h0M632.0 712.3h0M657.1 707.5h0M651.2 735.6h0M593.4 668.8h0M524.2 731.6h0M579.8 612.5h0M507.4 713.9h0M492.4 713.3h0M531.4 717.5h0M579.4 628.9h0M582.9 623.6h0M585.3 736.7h0M632.3 706.7h0M562.5 688.3h0M643.6 739.0h0M620.5 713.7h0M524.1 741.4h0M615.0 689.7h0M578.6 665.4h0M625.3 692.7h0M607.6 711.0h0M646.1 738.1h0M538.7 738.7h0M625.1 747.7h0M589.3 728.1h0M554.2 711.3h0M566.3 741.3h0M517.2 732.4h0M542.6 730.3h0M646.7 709.2h0M660.3 731.5h0M592.4 690.5h0M557.4 734.1h0M573.0 646.5h0M547.2 705.2h0M662.6 716.3h0M565.2 663.4h0" fill="none" stroke="#463a70" stroke-width="1.0" stroke-linecap="square" opacity="0.55"/>
<path d="M550.6 715.7h0M532.3 727.6h0M568.1 713.4h0M600.2 709.8h0M579.2 693.6h0M532.0 730.9h0M582.7 725.1h0M617.1 722.2h0M603.8 692.7h0M559.8 717.7h0M621.5 729.1h0M608.1 697.2h0M596.3 706.6h0M596.9 733.5h0M613.8 696.4h0M584.8 702.5h0M563.8 731.7h0M613.5 694.3h0M538.8 705.2h0M588.4 737.3h0M617.8 726.9h0M610.3 698.2h0M547.2 690.0h0M570.4 726.2h0M594.0 714.6h0M564.3 698.9h0M598.8 703.1h0M576.3 710.9h0M617.0 730.9h0M580.4 724.1h0M592.6 703.9h0M543.6 736.8h0M545.2 712.8h0M585.2 715.8h0M625.1 715.1h0M545.0 692.9h0M611.9 695.7h0M557.7 696.7h0M599.3 715.1h0M614.2 727.5h0M614.7 691.9h0M576.1 697.5h0M570.1 696.8h0M606.2 730.3h0M569.4 694.3h0M549.0 697.6h0M558.7 696.5h0M558.9 707.4h0M575.5 728.9h0M581.5 716.1h0M589.7 733.4h0M541.4 728.2h0M557.5 706.4h0M582.4 733.3h0M602.6 705.3h0M609.0 727.9h0M592.8 718.9h0M577.4 737.9h0M573.2 704.5h0M606.8 703.4h0M604.2 713.8h0M556.9 697.2h0M576.0 703.6h0M554.1 735.6h0M569.1 693.6h0M600.0 714.9h0M585.7 713.1h0M559.8 697.0h0M596.2 712.9h0M620.5 724.9h0M536.8 725.2h0M571.8 727.4h0M613.9 703.8h0M551.6 707.1h0M580.4 738.0h0M571.7 696.8h0M595.8 704.4h0M596.0 710.1h0M577.8 690.7h0M556.6 735.9h0M594.3 712.0h0M544.5 706.9h0M608.0 712.5h0M603.4 721.7h0M609.0 714.1h0M581.7 719.8h0M575.7 728.6h0M620.3 721.9h0M582.6 694.3h0M608.1 721.5h0M573.5 705.0h0M612.3 717.8h0M575.8 727.7h0M558.9 705.6h0M609.9 722.0h0M552.5 710.4h0M544.9 737.2h0M543.3 737.6h0M557.9 694.7h0M565.4 706.0h0M628.1 726.1h0M581.8 728.2h0M613.0 731.6h0M550.2 698.0h0M576.4 725.2h0M539.3 731.0h0M626.2 723.0h0M612.4 690.3h0M581.2 698.4h0M593.3 694.2h0M609.2 723.0h0M625.8 724.8h0M627.1 736.0h0M617.1 715.3h0M626.6 724.7h0M591.1 718.5h0M590.1 713.5h0M540.3 709.1h0M567.2 728.5h0M587.5 736.2h0M593.5 720.0h0M553.4 726.8h0M588.4 722.8h0M581.6 705.1h0M568.5 713.9h0M596.6 705.7h0M607.4 727.7h0M545.2 705.7h0M546.9 730.9h0M601.9 692.0h0M606.3 693.4h0M612.8 730.0h0M550.9 730.6h0M573.3 722.9h0M533.5 736.1h0M547.7 715.7h0M537.9 721.9h0M614.4 716.7h0M545.9 718.0h0M534.1 720.1h0M589.8 724.7h0M558.9 732.7h0M562.7 731.9h0M564.0 713.5h0M541.1 721.0h0M619.0 706.0h0M580.1 721.0h0M556.5 701.5h0M581.2 693.6h0M573.8 718.4h0M560.9 709.3h0M541.4 712.9h0M571.0 714.5h0M607.3 737.3h0M568.9 718.3h0M580.4 713.3h0M579.6 725.8h0M565.1 704.8h0M607.4 707.2h0M574.9 723.5h0M565.7 697.3h0M541.1 709.5h0M603.9 737.3h0M614.7 702.8h0M618.9 730.6h0M540.7 732.0h0M539.2 717.6h0M555.0 705.6h0M617.8 731.0h0M549.6 708.3h0M586.0 709.5h0M549.5 723.4h0M555.0 731.5h0M607.3 721.7h0M550.0 703.6h0M558.0 722.5h0M613.0 722.7h0M542.2 730.7h0M586.2 736.8h0M581.1 729.6h0M559.1 716.0h0M584.7 727.1h0M544.5 713.8h0M562.7 721.4h0M569.2 691.1h0M608.4 730.3h0M589.8 718.2h0M602.4 732.4h0M608.1 729.3h0M579.4 693.7h0M615.1 717.3h0M589.5 703.1h0M542.0 734.0h0M540.5 727.4h0M544.5 735.2h0M581.5 705.8h0M604.3 734.1h0M566.3 702.6h0M586.6 734.8h0M596.2 713.3h0M564.9 701.9h0M538.6 723.2h0M544.4 697.5h0M533.7 718.8h0M576.6 703.5h0M561.5 712.5h0M527.8 733.5h0M616.2 729.3h0M610.5 696.3h0M563.7 720.0h0M580.7 723.2h0M545.7 703.5h0M548.0 735.6h0M535.9 726.7h0M622.7 732.2h0M562.3 704.6h0M552.6 693.9h0M622.6 714.1h0M607.7 701.4h0M545.4 713.8h0M575.3 718.0h0M618.7 703.8h0M627.7 733.8h0M613.7 717.1h0M579.8 707.5h0M567.5 708.7h0M613.6 720.5h0M549.7 693.3h0M532.0 725.4h0M546.3 699.6h0M581.1 728.6h0M586.8 731.8h0M526.9 736.5h0M550.0 699.1h0M612.7 733.2h0M594.3 724.3h0M602.7 735.8h0M570.1 718.2h0M581.4 701.8h0M597.9 736.4h0M542.8 714.6h0M591.9 695.6h0M560.0 704.8h0M532.5 736.1h0M627.2 736.5h0M571.8 717.9h0M587.7 695.3h0M598.2 695.2h0M598.5 695.3h0M578.5 715.7h0M592.2 731.2h0M550.3 697.1h0M609.5 726.7h0M568.5 692.1h0M629.5 737.8h0M598.7 706.5h0M544.9 726.7h0M585.3 724.5h0M574.3 713.9h0M619.3 724.3h0M589.8 726.5h0M603.4 734.3h0M609.3 691.8h0M543.5 726.9h0M546.8 715.3h0M585.4 703.2h0M604.2 717.6h0M553.7 712.1h0M621.3 733.3h0M566.2 696.2h0M591.0 693.6h0M552.4 720.1h0M548.3 719.0h0M612.1 700.0h0M614.5 721.7h0M615.7 698.0h0M613.0 732.6h0M584.7 718.3h0M543.6 717.2h0M542.2 706.9h0M564.7 718.6h0M537.6 721.2h0M609.6 735.1h0M596.4 705.5h0M608.7 730.6h0M540.7 705.9h0M560.1 717.1h0M616.7 723.6h0M571.9 724.7h0M555.4 691.6h0M608.8 711.4h0M563.6 693.9h0M588.2 698.3h0M568.0 707.9h0M630.2 736.7h0M603.4 694.1h0M564.3 721.3h0M550.6 734.3h0M555.5 714.7h0M595.0 704.4h0M614.9 711.7h0M601.6 737.6h0M622.3 730.4h0M541.8 706.3h0M560.0 694.7h0M562.0 711.1h0M541.3 725.0h0M612.6 727.8h0M573.6 695.1h0M578.1 728.9h0M547.7 725.8h0M567.1 716.9h0M564.5 730.2h0M605.8 709.6h0M558.3 713.0h0M555.0 719.4h0M602.4 718.9h0M589.3 697.9h0M549.2 723.9h0M547.4 726.7h0M619.9 703.5h0M565.1 722.4h0M545.8 704.9h0M574.5 700.1h0M590.6 707.6h0M613.5 737.4h0M602.7 690.7h0M581.0 731.7h0M566.0 696.2h0M594.3 723.0h0M604.8 726.7h0M569.1 720.8h0M589.5 708.5h0M553.1 731.7h0M622.2 711.4h0M566.6 718.6h0M608.3 697.3h0M601.4 700.2h0M623.2 715.4h0M545.3 735.0h0M588.8 696.1h0M559.9 692.1h0M567.9 718.8h0M595.4 704.3h0M576.2 693.0h0M608.3 706.7h0M559.9 731.9h0M616.2 732.0h0M615.6 715.6h0M605.8 692.4h0M610.8 705.9h0M614.2 711.9h0M596.2 721.8h0M611.0 703.8h0M619.9 713.7h0M612.3 731.7h0M601.2 709.0h0M590.0 714.9h0M614.1 736.8h0M549.4 693.0h0M575.3 717.6h0M551.5 728.5h0M571.8 706.9h0M607.7 724.4h0M599.7 732.7h0M578.2 706.5h0M599.5 706.8h0M604.6 725.9h0M626.6 733.7h0M588.0 727.9h0M594.8 737.5h0M588.3 723.4h0M621.2 720.7h0M613.2 695.8h0M609.5 690.7h0M581.6 694.3h0M568.5 700.2h0M591.7 710.7h0M590.1 721.1h0M569.9 715.5h0M590.4 726.3h0M541.4 706.8h0M615.8 694.9h0M565.1 691.6h0M568.9 711.8h0M592.6 697.5h0M585.0 727.8h0M586.4 724.9h0M594.0 710.7h0M583.4 734.9h0M608.5 698.1h0M566.6 695.0h0M542.7 722.7h0M586.6 730.1h0M587.7 729.7h0M568.2 695.7h0M594.0 712.6h0M537.9 711.2h0M553.6 695.2h0M564.5 692.8h0M581.9 709.9h0M608.0 703.0h0M577.3 736.8h0M587.5 713.8h0M572.9 692.1h0M562.7 711.0h0M550.7 701.2h0M577.3 716.2h0M589.7 701.3h0M551.3 732.6h0M569.0 708.1h0M605.6 705.9h0M575.6 699.8h0M621.5 737.2h0M612.3 695.6h0M620.7 725.2h0M550.8 699.2h0M603.5 710.5h0M541.0 724.1h0M537.5 733.6h0M589.4 711.8h0M585.4 707.0h0M595.4 732.2h0M547.0 718.3h0M618.9 734.4h0M538.1 730.3h0M548.0 698.2h0M556.3 700.9h0M586.2 728.2h0M590.4 719.6h0M613.0 693.4h0M552.4 695.4h0M569.5 717.6h0M596.2 700.1h0M618.4 729.6h0M545.9 734.2h0M622.0 731.6h0M608.6 721.8h0M613.6 703.1h0M607.2 717.0h0M628.9 734.0h0M542.8 716.3h0M584.8 703.7h0M602.3 726.0h0M620.4 707.5h0M583.5 700.3h0M621.4 713.4h0M565.0 734.0h0M565.5 711.9h0M562.2 698.8h0M596.3 716.9h0M557.9 712.8h0M605.0 696.8h0M576.6 717.2h0M596.8 713.3h0M614.9 708.1h0M579.5 734.9h0M540.7 723.6h0M597.2 693.5h0M614.3 727.6h0M624.4 715.0h0M604.8 712.3h0M564.8 709.0h0M622.9 716.1h0M561.7 725.9h0M585.5 701.0h0M595.1 733.9h0M595.4 712.7h0M559.1 708.4h0M605.6 706.3h0M609.4 700.7h0M546.0 732.0h0M571.0 690.9h0M616.8 697.4h0M555.2 700.4h0M593.6 727.0h0M592.1 723.5h0M562.9 700.3h0M582.7 736.5h0M584.8 727.3h0M581.1 723.9h0M549.8 728.8h0M563.9 718.1h0M548.2 701.7h0M568.7 731.0h0M541.3 703.8h0M607.7 727.6h0M625.2 727.8h0M595.6 729.9h0M561.7 701.9h0M568.6 719.1h0M590.2 730.2h0M604.0 737.4h0M577.9 733.3h0M613.7 727.2h0M584.7 700.6h0M540.4 705.5h0M611.4 702.6h0M568.6 727.3h0M600.0 717.8h0M570.8 724.2h0M612.3 731.6h0M543.0 721.0h0M541.0 713.0h0M617.3 707.5h0M627.1 719.1h0M535.1 733.7h0M563.8 724.1h0M626.7 720.7h0M538.7 735.9h0M598.0 734.6h0M542.9 704.1h0M564.3 733.1h0M596.5 732.7h0M588.8 690.5h0M564.5 724.2h0M591.6 716.0h0M562.0 708.9h0M575.5 723.6h0M606.3 707.7h0M604.2 732.2h0M603.7 701.0h0M540.3 713.5h0M546.7 719.8h0M544.5 729.0h0M528.0 731.3h0M534.3 728.4h0M606.5 720.0h0M585.8 690.4h0M623.4 713.8h0M556.8 715.0h0M571.6 695.7h0M578.6 698.5h0M609.2 722.0h0M576.4 735.3h0M570.7 703.3h0M609.6 691.6h0M600.8 695.7h0M557.1 695.9h0M595.2 713.5h0M601.4 698.7h0M556.7 718.8h0M613.2 699.0h0M537.6 734.1h0M531.7 732.0h0M562.1 731.6h0M576.6 717.5h0M613.4 720.5h0M572.9 725.2h0M595.1 721.0h0M578.4 705.0h0M587.8 700.5h0M618.9 705.8h0M563.2 703.6h0M596.6 717.8h0M543.8 733.7h0M554.4 701.5h0M592.9 731.5h0M633.1 734.4h0M569.0 698.1h0M581.7 721.7h0M566.8 715.1h0M540.9 728.3h0M545.8 727.3h0M542.8 699.5h0M577.9 721.1h0M587.7 697.0h0M602.5 730.8h0M602.4 736.2h0M601.5 702.4h0M597.6 704.3h0M597.9 727.9h0M545.2 736.4h0M578.0 708.4h0M533.9 737.6h0M589.4 735.5h0M598.3 722.4h0M532.6 731.6h0M598.1 732.6h0M576.5 724.1h0M603.0 735.9h0M559.9 737.3h0M601.2 692.1h0M574.9 719.7h0M619.0 730.4h0M555.6 726.7h0M557.2 698.3h0M554.0 705.0h0M606.2 737.8h0M531.5 731.8h0M612.4 722.1h0M555.1 716.5h0M597.0 721.6h0M601.2 733.8h0M568.1 703.2h0M604.5 711.4h0M591.8 696.9h0M575.0 708.4h0M584.4 714.9h0M557.1 727.1h0" fill="none" stroke="#463a70" stroke-width="1.0" stroke-linecap="square" opacity="0.5"/>
<path d="M481.6 714.5 C485.2 712.7 495.8 707.9 503.4 703.9 C510.9 699.9 519.1 695.5 526.9 690.5 C534.7 685.5 544.2 679.4 550.3 673.8 C556.4 668.2 560.3 663.2 563.6 657.1 C566.9 651.0 568.3 643.1 570.3 637.0 C572.3 630.9 573.9 624.9 575.4 620.3 C576.9 615.7 578.0 609.8 579.4 609.3 C580.8 608.8 581.9 612.4 583.7 617.0 C585.5 621.6 587.6 630.3 590.4 637.0 C593.2 643.7 596.5 651.0 600.4 657.1 C604.3 663.2 607.7 668.2 613.8 673.8 C619.9 679.4 630.0 685.5 637.2 690.5 C644.5 695.5 650.5 699.7 657.3 703.9 C664.1 708.1 674.5 713.6 677.9 715.6" fill="none" stroke="#1d1a1c" stroke-width="1.9" stroke-dasharray="0.01 3.0" stroke-linecap="round"/>
<path d="M481.6 735.0 C484.7 735.2 494.4 735.0 500.0 736.5 C505.6 738.0 510.1 741.4 515.0 744.0 C519.9 746.6 523.4 751.5 529.2 751.9 C535.0 752.3 543.2 748.5 550.0 746.5 C556.8 744.5 565.1 742.5 570.0 740.2 C574.9 737.9 575.5 732.2 579.4 732.8 C583.3 733.4 588.1 741.1 593.5 743.7 C598.9 746.3 605.6 747.0 612.0 748.5 C618.4 750.0 626.5 753.0 632.0 752.6 C637.5 752.2 640.3 748.5 645.0 746.0 C649.7 743.5 654.5 739.6 660.0 737.9 C665.5 736.1 674.9 735.9 677.9 735.5" fill="none" stroke="#1d1a1c" stroke-width="1.9" stroke-dasharray="0.01 3.0" stroke-linecap="round"/>
<rect x="481.60" y="588.30" width="196.30" height="169.30" fill="none" stroke="#231f20" stroke-width="1.5"/>
<line x1="493.00" y1="600.00" x2="538.60" y2="600.00" stroke="#231f20" stroke-width="1.4"/>
<line x1="493.20" y1="597.80" x2="493.20" y2="602.20" stroke="#231f20" stroke-width="1.2"/>
<line x1="538.40" y1="597.80" x2="538.40" y2="602.20" stroke="#231f20" stroke-width="1.2"/>
<text x="493.60" y="616.70" font-size="14" text-anchor="start" fill="#231f20">650 µm</text>
<rect x="631.60" y="595.60" width="10.20" height="9.50" fill="none" stroke="#231f20" stroke-width="1.6" stroke-dasharray="1.4 1.3"/>
<text x="647.20" y="605.00" font-size="14" text-anchor="start" fill="#231f20">PAL</text>
</svg></body></html>
